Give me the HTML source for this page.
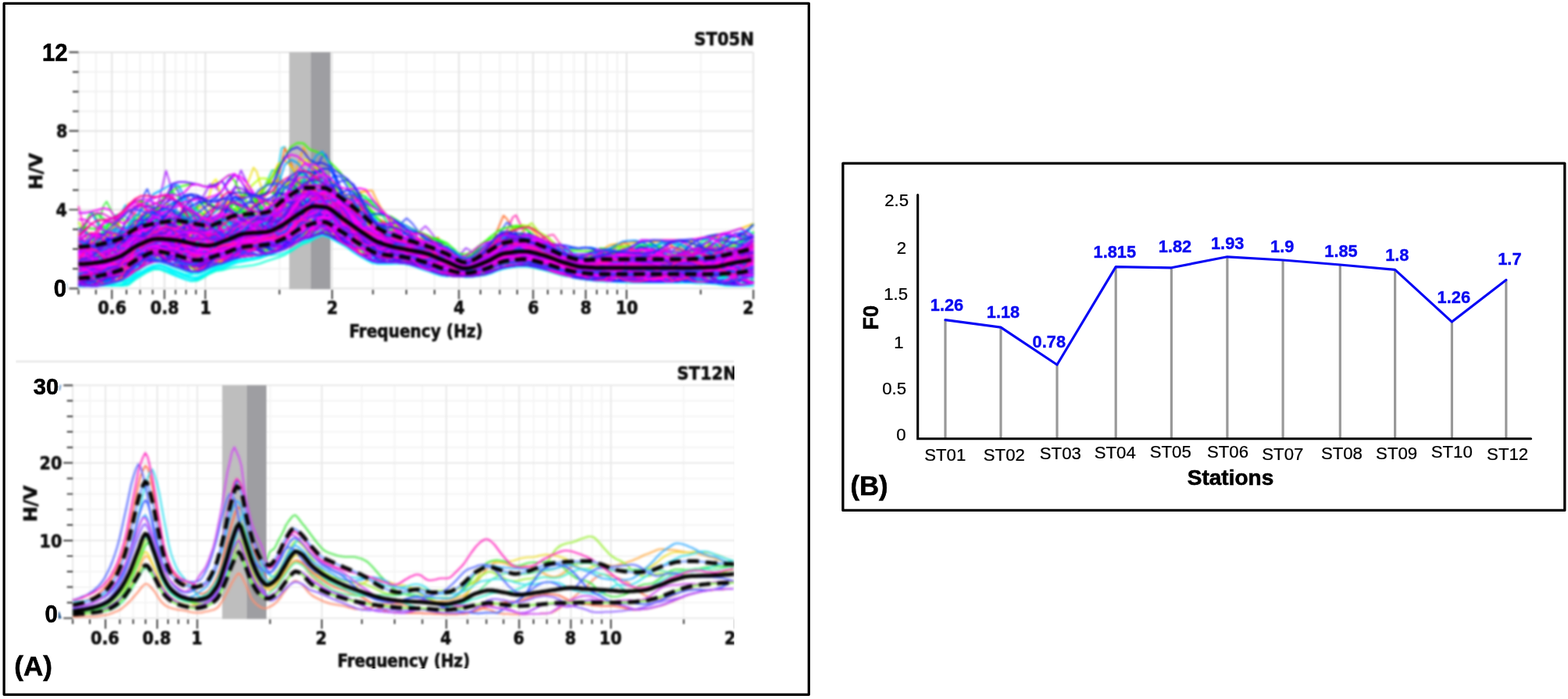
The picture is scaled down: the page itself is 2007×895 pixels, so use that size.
<!DOCTYPE html>
<html lang="en"><head><meta charset="utf-8"><title>H/V spectral ratio curves and F0 per station</title>
<style>html,body{margin:0;padding:0;background:#fff;}body{width:2007px;height:895px;overflow:hidden;}svg{display:block;}text{font-family:"Liberation Sans", Arial, sans-serif;}.tah text{font-family:"DejaVu Sans Condensed", "DejaVu Sans", sans-serif;font-weight:bold;fill:#0c0c0c;stroke:#0c0c0c;stroke-width:.6px;}.tw{font-family:"DejaVu Sans",sans-serif !important;}.b{font-weight:bold;}.k{stroke:#000;stroke-width:.6px;}.kb{stroke:#0a0af0;stroke-width:.4px;}.kr{stroke:#000;stroke-width:.25px;}</style></head><body>
<svg width="2007" height="895" viewBox="0 0 2007 895">
<defs><filter id="bl" x="-5%" y="-5%" width="110%" height="110%"><feGaussianBlur stdDeviation="1.0" color-interpolation-filters="sRGB"/></filter><filter id="blc" x="-5%" y="-5%" width="110%" height="110%"><feGaussianBlur stdDeviation="1.5" color-interpolation-filters="sRGB"/></filter><filter id="bl2" x="-5%" y="-5%" width="110%" height="110%"><feGaussianBlur stdDeviation="0.7" color-interpolation-filters="sRGB"/></filter><filter id="blt" x="-10%" y="-20%" width="120%" height="140%"><feGaussianBlur stdDeviation="0.85" color-interpolation-filters="sRGB"/></filter><clipPath id="ctt"><rect x="10" y="10" width="955.4" height="440"/></clipPath><clipPath id="ct"><rect x="98" y="60" width="868" height="312"/></clipPath><clipPath id="cb"><rect x="20" y="460" width="919.8" height="395.3"/></clipPath><clipPath id="cbp"><rect x="91" y="488" width="848.8" height="306"/></clipPath></defs>
<rect x="0" y="0" width="2007" height="895" fill="#fff"/>
<g filter="url(#bl)">
<path d="M122.8 66.9V369.3M161.9 66.9V369.3M179.3 66.9V369.3M195.4 66.9V369.3M224.7 66.9V369.3M238.1 66.9V369.3M250.8 66.9V369.3M357.7 66.9V369.3M477.4 66.9V369.3M520.1 66.9V369.3M556.2 66.9V369.3M615.0 66.9V369.3M639.7 66.9V369.3M662.0 66.9V369.3M701.1 66.9V369.3M718.5 66.9V369.3M734.6 66.9V369.3M763.9 66.9V369.3M777.3 66.9V369.3M790.0 66.9V369.3M896.9 66.9V369.3M100.5 344.1H964.3M100.5 318.9H964.3M100.5 293.7H964.3M100.5 243.3H964.3M100.5 218.1H964.3M100.5 192.9H964.3M100.5 142.5H964.3M100.5 117.3H964.3M100.5 92.1H964.3" stroke="#f1f1f1" stroke-width="1.9" fill="none"/><path d="M100.5 66.9V369.3M143.2 66.9V369.3M210.5 66.9V369.3M262.8 66.9V369.3M425.1 66.9V369.3M587.4 66.9V369.3M682.4 66.9V369.3M749.7 66.9V369.3M802.0 66.9V369.3M964.3 66.9V369.3M100.5 369.3H964.3M100.5 268.5H964.3M100.5 167.7H964.3M100.5 66.9H964.3" stroke="#e4e4e4" stroke-width="2" fill="none"/><rect x="370.2" y="66.9" width="27.3" height="303.4" fill="#bebebe"/><rect x="397.5" y="66.9" width="25.5" height="303.4" fill="#9e9ea2"/><path d="M88.5 369.3H100.5M93.0 344.1H100.5M93.0 318.9H100.5M93.0 293.7H100.5M88.5 268.5H100.5M93.0 243.3H100.5M93.0 218.1H100.5M93.0 192.9H100.5M88.5 167.7H100.5M93.0 142.5H100.5M93.0 117.3H100.5M93.0 92.1H100.5M88.5 66.9H100.5M100.5 370.9V376.9M122.8 370.9V376.9M143.2 370.9V382.9M161.9 370.9V376.9M179.3 370.9V376.9M195.4 370.9V376.9M210.5 370.9V382.9M224.7 370.9V376.9M238.1 370.9V376.9M250.8 370.9V376.9M262.8 370.9V382.9M357.7 370.9V376.9M425.1 370.9V382.9M477.4 370.9V376.9M520.1 370.9V376.9M556.2 370.9V376.9M587.4 370.9V382.9M615.0 370.9V376.9M639.7 370.9V376.9M662.0 370.9V376.9M682.4 370.9V382.9M701.1 370.9V376.9M718.5 370.9V376.9M734.6 370.9V376.9M749.7 370.9V382.9M763.9 370.9V376.9M777.3 370.9V376.9M790.0 370.9V376.9M802.0 370.9V382.9M896.9 370.9V376.9M964.3 370.9V382.9" stroke="#4a4a4a" stroke-width="2.2" fill="none"/>
</g><g filter="url(#blc)">
<path d="M100.5 315.9L106.5 315.7L112.5 315.3L118.5 314.5L124.5 313.5L130.5 312.2L136.5 310.8L142.5 309.2L148.5 307.5L154.5 305.4L160.5 301.6L166.5 297.3L172.5 293.4L178.5 291L184.5 289.2L190.5 287.7L196.5 286.5L202.5 285.5L208.5 284.5L214.5 283.6L220.5 282.9L226.5 282.7L232.5 283.2L238.5 284.2L244.5 285.5L250.5 286.6L256.5 287.7L262.5 288.7L268.5 288.9L274.5 287.5L280.5 285L286.5 281.8L292.5 278.8L298.5 276.5L304.5 275.3L310.5 274.6L316.5 274.2L322.5 273.8L328.5 273.4L334.5 272.8L340.5 271.9L346.5 269.6L352.5 264.7L358.5 259.1L364.5 254.9L370.5 250.6L376.5 246.5L382.5 243L388.5 240.9L394.5 240.4L400.5 240.4L406.5 240.4L412.5 240.4L418.5 241.7L424.5 244.8L430.5 249L436.5 253.3L442.5 257.4L448.5 262L454.5 267L460.5 272.1L466.5 277.3L472.5 283.2L478.5 288.6L484.5 292.6L490.5 295.7L496.5 298.4L502.5 300.7L508.5 302.9L514.5 304.9L520.5 307L526.5 308.9L532.5 310.6L538.5 312.3L544.5 314.2L550.5 316.4L556.5 318.7L562.5 321.1L568.5 323.6L574.5 326.5L580.5 330.1L586.5 333.5L592.5 335.7L598.5 335.7L604.5 333.6L610.5 330.3L616.5 326.7L622.5 323.4L628.5 319.7L634.5 315.9L640.5 312.7L646.5 310.8L652.5 309.6L658.5 308.7L664.5 308.1L670.5 307.8L676.5 308.5L682.5 310.3L688.5 312.8L694.5 315.3L700.5 317.8L706.5 320.7L712.5 323.6L718.5 326.1L724.5 328.1L730.5 330L736.5 331.7L742.5 332.8L748.5 333L754.5 332.8L760.5 332.4L766.5 332.1L772.5 332L778.5 332L784.5 332L790.5 332L796.5 332L802.5 332L808.5 332L814.5 332L820.5 332L826.5 332L832.5 332L838.5 332L844.5 332L850.5 332L856.5 332L862.5 332L868.5 332L874.5 332L880.5 331.9L886.5 331.6L892.5 331.2L898.5 330.8L904.5 330.3L910.5 329.7L916.5 329L922.5 327.9L928.5 326.5L934.5 325.1L940.5 323.7L946.5 322.4L952.5 321L958.5 319.5L958.5 353.3L952.5 354.1L946.5 354.8L940.5 355.2L934.5 355.3L928.5 355.3L922.5 355.3L916.5 355.1L910.5 355L904.5 354.9L898.5 354.8L892.5 354.7L886.5 354.7L880.5 354.6L874.5 354.6L868.5 354.6L862.5 354.6L856.5 354.6L850.5 354.6L844.5 354.6L838.5 354.6L832.5 354.6L826.5 354.6L820.5 354.6L814.5 354.6L808.5 354.6L802.5 354.6L796.5 354.6L790.5 354.6L784.5 354.6L778.5 354.6L772.5 354.6L766.5 354.5L760.5 354.2L754.5 353.8L748.5 353.3L742.5 352.6L736.5 351.7L730.5 350.6L724.5 349.2L718.5 347.9L712.5 346.2L706.5 344.4L700.5 342.7L694.5 341.1L688.5 339.6L682.5 338.1L676.5 336.9L670.5 336.5L664.5 336.8L658.5 337.3L652.5 338L646.5 338.9L640.5 340.4L634.5 343L628.5 345.7L622.5 348L616.5 349.4L610.5 350.6L604.5 351.6L598.5 352.2L592.5 352.2L586.5 351.8L580.5 351.1L574.5 350L568.5 348.9L562.5 347.3L556.5 345.2L550.5 343.1L544.5 341.1L538.5 339.1L532.5 337.2L526.5 335.5L520.5 334.1L514.5 333.3L508.5 332.8L502.5 332.5L496.5 332.3L490.5 332L484.5 331.5L478.5 330.1L472.5 327.3L466.5 323.9L460.5 320.4L454.5 316.4L448.5 312.1L442.5 308L436.5 304.4L430.5 300.8L424.5 297.1L418.5 294L412.5 292.6L406.5 293.8L400.5 296L394.5 297.9L388.5 299.5L382.5 302.5L376.5 306.3L370.5 310L364.5 313.1L358.5 315.5L352.5 317.6L346.5 319.3L340.5 320.5L334.5 321.3L328.5 321.8L322.5 322.3L316.5 322.9L310.5 323.8L304.5 325.2L298.5 327L292.5 329.3L286.5 331.6L280.5 333.2L274.5 334.9L268.5 337L262.5 339.4L256.5 341.3L250.5 342.1L244.5 341.5L238.5 339.8L232.5 337.7L226.5 335.8L220.5 334L214.5 332L208.5 330.3L202.5 329.3L196.5 329.9L190.5 332.1L184.5 335.2L178.5 338.6L172.5 341.9L166.5 346L160.5 350.2L154.5 353.6L148.5 355.5L142.5 357.1L136.5 358.6L130.5 360.1L124.5 361.4L118.5 362.6L112.5 363.4L106.5 363.9L100.5 364.1Z" fill="#b822d6" clip-path="url(#ct)"/>
<g fill="none" stroke-width="2" stroke-linejoin="round" clip-path="url(#ct)"><path d="M100.5 264l4 16.5 4 16.5 4 15.5 4 15 4 6.5 4 2 4 2 4 1.5 4 1 4-.5 4-1 4-1.5 4-3 4-3.5 4-4 4-4.5 4-3.5 4-2.5 4-1 4-1 4-.5 4-.5 4-1 4-1 4-1 4-.5 4-.5 4 .5 4 1.5 4 1 4 .5 4 0 4-1 4-1 4-1.5 4-1 4 0 4 1 4 2 4 2 4 2 4 1 4 0 4-1 4-2 4-2.5 4-3 4-3.5 4-4 4-4 4-3.5 4-3.5 4-2.5 4-2 4-1 4-.5 4 1 4 2 4 2.5 4 2.5 4 2 4 0 4-.5 4-2 4-3 4-3 4-3.5 4-4 4-3.5 4-3 4-2.5 4-3 4-2.5 4-3 4-1.5 4-1 4-1 4-.5 4-.5 4 0 4 1 4 .5 4 1 4 1 4 1 4 1.5 4 3 4 4 4 4.5 4 5 4 4.5 4 5 4 5 4 4.5 4 4.5 4 3.5 4 3 4 3.5 4 2.5 4 3 4 2 4 2 4 1 4 1 4 1 4 .5 4 1 4 .5 4 1.5 4 1 4 2 4 2 4 2 4 1.5 4 1 4 1 4 0 4 .5 4 .5 4 1 4 1 4 1 4 .5 4 0 4-1.5 4-2 4-2.5 4-3.5 4-3 4-3 4-3 4-2.5 4-2 4-2 4-1.5 4-.5 4 0 4 0 4-.5 4-.5 4-1 4-1.5 4-1 4-1 4 0 4 .5 4 1 4 1.5 4 1.5 4 2 4 2 4 2.5 4 2 4 2 4 2 4 2 4 2 4 2.5 4 1.5 4 1.5 4 .5 4 0 4-1 4-1 4-1.5 4-1.5 4-1 4-1 4 0 4 .5 4 1 4 1 4 1.5 4 1 4 1 4 .5 4 1 4 .5 4 .5 4 0 4 .5 4 .5 4 .5 4 0 4 .5 4 .5 4 .5 4 1 4 1 4 .5 4 1 4 1 4 1 4 .5 4 .5 4 0 4 0 4-.5 4-.5 4-.5 4 0 4-.5 4 0 4-.5 4-1 4-2 4-2 4-3 4-2 4-2 4-1 4-.5 4-1 4-.5 4-1 4-2" stroke="#ff30c8"/><path d="M100.5 354.5l4-3.5 4-10 4-11.5 4-12.5 4-12.5 4-13.5 4-13.5 4-14 4-5.5 4 8 4 8 4 8 4 7.5 4 7 4 5.5 4 5.5 4 1 4-.5 4 0 4-.5 4-1 4-2 4-2.5 4-3 4-2.5 4-2 4-2 4-1.5 4-1 4 0 4 .5 4 1.5 4 1 4 1.5 4 1.5 4 1 4 1.5 4 1 4 1.5 4 1 4 0 4-.5 4-1.5 4-1.5 4-1.5 4-1 4 0 4 0 4 0 4-1.5 4-2 4-2.5 4-2.5 4-3 4-3 4-2.5 4-2 4-1 4-.5 4 .5 4 1 4 0 4-.5 4-.5 4-1.5 4-2 4-3 4-3 4-3 4-2 4-1 4-1.5 4-1.5 4-2 4-2.5 4-3.5 4-3.5 4-4 4-1.5 4 1.5 4 4.5 4 7 4 8 4 7.5 4 7 4 5.5 4 4 4 3 4 2.5 4 1.5 4 1.5 4 2 4 3 4 3 4 3.5 4 3.5 4 3 4 3 4 2 4 1.5 4 1 4 .5 4 .5 4 0 4 .5 4 .5 4 .5 4 0 4 .5 4 .5 4 1 4 1.5 4 1.5 4 1.5 4 1 4 1.5 4 1 4 1 4 1.5 4 2 4 2 4 2 4 2 4 1 4 1 4 0 4 0 4-.5 4-1 4-1.5 4-1.5 4-2.5 4-3 4-2.5 4-2.5 4-1.5 4-.5 4 0 4 .5 4 0 4 0 4-.5 4-1 4-1 4-.5 4 0 4 1 4 1 4 2 4 2 4 2.5 4 2.5 4 2.5 4 2 4 1 4 1 4 0 4 0 4 .5 4 0 4 0 4-.5 4 0 4-.5 4-.5 4-1 4-1 4-1 4-1 4-.5 4-.5 4 0 4 0 4 .5 4 0 4 .5 4 .5 4 .5 4 .5 4 .5 4 .5 4 0 4 0 4-.5 4-.5 4-1 4-1 4-1.5 4-1 4-1 4-.5 4 0 4 .5 4 1 4 1 4 .5 4 .5 4-.5 4-1 4-1 4-1 4-.5 4 0 4 .5 4 .5 4 .5 4 0 4 0 4-1 4-.5 4-.5 4-.5 4-.5 4 0 4-.5 4-.5" stroke="#40f040"/><path d="M100.5 301.5l4-6.5 4-8 4-8 4-8 4 2 4 8.5 4 9 4 9 4 8 4 7 4 4 4-1 4-1 4-.5 4-.5 4 0 4 0 4-1 4-2 4-2.5 4-3.5 4-2.5 4-1.5 4 1 4 2.5 4 3.5 4 3 4 2.5 4 1 4-.5 4-2 4-2.5 4-2.5 4-2.5 4-2 4-1.5 4-1 4 0 4 0 4 0 4 0 4-.5 4-.5 4 0 4 0 4 .5 4 0 4-.5 4-2 4-3 4-4 4-3.5 4-3.5 4-3.5 4-3.5 4-2.5 4-2 4-2 4-1.5 4-1 4-1.5 4-2.5 4-2.5 4-2 4-1 4-1 4-3 4-4.5 4-6.5 4-6.5 4-6 4-3.5 4-1 4 1 4 .5 4 1 4 .5 4 .5 4 1.5 4 3.5 4 5 4 6 4 6 4 6 4 4.5 4 3.5 4 3 4 2 4 3 4 4.5 4 5.5 4 7 4 7.5 4 6 4 4 4 2 4 .5 4-.5 4-.5 4-.5 4 0 4 1 4 1 4 2 4 2 4 2 4 2.5 4 2 4 2 4 2 4 1 4 .5 4 0 4 0 4 .5 4 0 4 1 4 1.5 4 2 4 3 4 3 4 2.5 4 1.5 4 1 4-.5 4-1 4-2 4-2.5 4-2.5 4-2.5 4-2 4-1.5 4-1.5 4-1 4-.5 4-.5 4 0 4 0 4 0 4 0 4-.5 4-1 4-1.5 4-1 4-.5 4 .5 4 2 4 3 4 3.5 4 3.5 4 2.5 4 2.5 4 1 4 .5 4 0 4 0 4 .5 4 1 4 1 4 1 4 .5 4 .5 4 0 4 .5 4 .5 4 .5 4 .5 4 0 4-1 4-1 4-1.5 4-1 4-1 4 0 4 0 4 0 4 0 4-.5 4-1 4-1 4-1.5 4-1 4-1 4 0 4 0 4 1 4 .5 4 .5 4-.5 4-.5 4-1 4-1 4-.5 4 0 4 0 4 .5 4 0 4-.5 4-.5 4-1 4-.5 4 0 4 .5 4 1 4 1.5 4 1 4 .5 4 0 4-.5 4-.5 4-1.5 4-1 4-1 4-.5 4 0 4 .5" stroke="#50ff50"/><path d="M100.5 310l4-1.5 4-.5 4 .5 4 .5 4 0 4 0 4-.5 4 0 4 1 4 1.5 4 2.5 4 2 4 2.5 4 1.5 4 1 4-1 4-10.5 4-12.5 4-14.5 4-16 4-17 4-7 4 10 4 11 4 11 4 11 4 10 4 4.5 4 1.5 4 2.5 4 3 4 3 4 3 4 2.5 4 1.5 4 .5 4-.5 4-1 4-1.5 4-1.5 4-2 4-2.5 4-3 4-4 4-4.5 4-5 4-4 4-3.5 4-2.5 4-.5 4 .5 4 1 4 2 4 1.5 4 .5 4 0 4-2 4-2.5 4-3 4-3.5 4-4 4-5 4-6 4-5.5 4-4.5 4-3 4-1.5 4-1 4-.5 4-.5 4-.5 4-1 4-.5 4-.5 4-1 4-1.5 4-2 4-2 4-2 4 0 4 1.5 4 3 4 5 4 5.5 4 6 4 5.5 4 4.5 4 2.5 4 2 4 1 4 2 4 3.5 4 4 4 5 4 4 4 3 4 2.5 4 2 4 1.5 4 2 4 2 4 2 4 2.5 4 2.5 4 2.5 4 2 4 1.5 4 1 4 1 4 1 4 .5 4 1.5 4 1.5 4 2 4 2.5 4 3 4 3 4 2.5 4 2 4 2 4 1.5 4 1.5 4 1 4 0 4-.5 4-1.5 4-2 4-2 4-2 4-1 4-.5 4-1 4-.5 4-1 4-1 4-1.5 4-1 4-1.5 4-1.5 4-1.5 4-1 4-1 4-.5 4 0 4 .5 4 1 4 1.5 4 1.5 4 2 4 1.5 4 1.5 4 2 4 1 4 1.5 4 1 4 1 4 1.5 4 1 4 1 4 1 4 .5 4 .5 4 .5 4 .5 4 .5 4 .5 4 .5 4 .5 4 0 4 0 4 0 4 0 4 0 4 .5 4 0 4 0 4 0 4-.5 4-.5 4-1 4-.5 4-1.5 4-1.5 4-1.5 4-1.5 4-1.5 4-1 4-1 4 0 4-.5 4 0 4-.5 4 0 4-1 4-1 4-.5 4-1 4-.5 4 0 4-.5 4 0 4-.5 4-1 4-1 4-1 4-1.5 4-1.5 4-1 4-1 4-.5 4-1 4-1 4-1.5 4-1.5 4-1.5 4-1.5" stroke="#3050ff"/><path d="M100.5 335.5l4 1.5 4 2 4 2 4 2.5 4 2 4 1.5 4 1.5 4 .5 4 .5 4-.5 4-1 4-2.5 4-3 4-4 4-4.5 4-4.5 4-4.5 4-4 4-3.5 4-3 4-2 4-4.5 4-12.5 4-13.5 4-14.5 4-15 4-16.5 4-17.5 4 12.5 4 16.5 4 16.5 4 16 4 15.5 4 13.5 4 6 4-2 4-3.5 4-4.5 4-5 4-4 4-2.5 4-1 4-.5 4 0 4 .5 4 1 4 1 4 2 4 2 4 2.5 4 1 4 .5 4-.5 4-1 4-2 4-3 4-2.5 4-1.5 4-.5 4 1 4 1 4 .5 4-.5 4-2 4-3 4-4 4-4.5 4-3 4-2 4-.5 4-1 4-1.5 4-3 4-4.5 4-4.5 4-3.5 4-3.5 4-2.5 4-1.5 4 0 4 1.5 4 2.5 4 2.5 4 3 4 2.5 4 3.5 4 3.5 4 4 4 4 4 3.5 4 3 4 2.5 4 2 4 1 4 1.5 4 .5 4 1.5 4 2 4 2.5 4 3 4 3 4 3 4 2.5 4 2 4 2.5 4 2 4 2 4 1.5 4 .5 4 .5 4 0 4 .5 4 0 4 1 4 1 4 1.5 4 1 4 1.5 4 2 4 2 4 2.5 4 2 4 2 4 1 4-.5 4-1 4-2.5 4-3.5 4-4 4-3.5 4-3 4-3 4-2 4-1 4-.5 4 0 4 .5 4 0 4-.5 4-.5 4 0 4 0 4 .5 4 1.5 4 2 4 2 4 2.5 4 2 4 2 4 2 4 2.5 4 2.5 4 2.5 4 2.5 4 2 4 1.5 4 1.5 4 1.5 4 1 4 1 4 0 4-.5 4-1.5 4-2 4-2.5 4-2 4-1.5 4-.5 4 .5 4 1.5 4 2 4 2 4 2 4 1 4 1 4 0 4 0 4-.5 4-1 4-1 4-.5 4-.5 4-.5 4 0 4 0 4 0 4 0 4 0 4 0 4-.5 4-1 4-1 4-1 4-1 4-.5 4-.5 4 .5 4 .5 4 .5 4 .5 4 .5 4 0 4-.5 4-.5 4-1.5 4-1.5 4-2 4-2 4-1.5 4-1 4-1 4-.5 4 0 4-.5 4-.5 4-1" stroke="#b030ff"/><path d="M100.5 321.5l4 .5 4 .5 4 0 4 0 4 0 4-.5 4-1 4-1.5 4-1.5 4-1.5 4-1.5 4-1 4-1 4-2 4-2.5 4-2 4-2 4-1 4 1 4 1 4 .5 4 0 4-1.5 4-2.5 4-2.5 4-9 4-11.5 4-12.5 4-13 4-14 4-1 4 7.5 4 9 4 9.5 4 10.5 4 6.5 4 3.5 4 3.5 4 3 4 2.5 4 1.5 4 0 4-1 4-2.5 4-3.5 4-2.5 4-2 4-.5 4 1.5 4 2 4 1.5 4 .5 4-1 4-2 4-3.5 4-3.5 4-3 4-2.5 4-2 4-1 4-1.5 4-2 4-3 4-3 4-2.5 4-2 4-2.5 4-3 4-3 4-2 4-1 4 0 4 1 4 .5 4 0 4-1 4-2.5 4-2.5 4-2 4 0 4 2 4 3.5 4 4.5 4 5 4 4.5 4 4 4 4 4 4 4 3 4 3.5 4 3 4 3 4 2.5 4 1.5 4 .5 4-.5 4-1 4-.5 4 0 4 .5 4 2 4 2 4 3 4 3.5 4 3.5 4 3 4 3 4 2 4 1.5 4 1.5 4 1 4 1.5 4 2 4 2.5 4 2 4 2.5 4 2.5 4 2.5 4 2.5 4 2 4 2.5 4 2 4 1.5 4 .5 4 0 4-1 4-1.5 4-2 4-1.5 4-1 4-1.5 4-1 4-1.5 4-1.5 4-2 4-1.5 4-2 4-2 4-2 4-1 4-.5 4 0 4 1 4 1.5 4 2 4 2.5 4 2 4 1.5 4 1 4 1 4 1 4 1 4 1 4 1.5 4 2 4 2.5 4 2.5 4 2.5 4 2.5 4 1.5 4 1 4 .5 4 0 4-.5 4 0 4 .5 4 0 4 0 4 0 4-.5 4-.5 4-1 4-1 4-1 4-1 4-1 4-1 4-1 4-1 4-.5 4-1 4-1 4-.5 4-.5 4-.5 4 0 4-.5 4-1 4-1 4-1 4-1 4 0 4 0 4 .5 4 0 4 0 4 0 4 0 4 0 4 .5 4 0 4 0 4-.5 4-1 4-1 4-1 4-.5 4 0 4 .5 4-.5 4-.5 4-.5 4-1 4-1 4-1 4-.5" stroke="#3838ff"/><path d="M100.5 315l4-1.5 4-1.5 4-1 4-.5 4 0 4 0 4 0 4-1 4-1 4-1 4-1 4-.5 4 .5 4 0 4 0 4-.5 4 0 4-.5 4-1 4-1.5 4-2 4-3 4-2.5 4-2.5 4-1.5 4-1.5 4-1 4-.5 4-1 4-.5 4-1 4-.5 4-3.5 4-4 4-3.5 4-4 4-4 4-4.5 4-5.5 4-6 4-7 4-7.5 4-.5 4 4.5 4 4.5 4 6 4 6.5 4 8 4 7.5 4 7.5 4 6 4 4.5 4 2.5 4-1 4-1 4-1 4-1 4-.5 4-1.5 4-1.5 4-1.5 4-2.5 4-2.5 4-1.5 4-.5 4 0 4 0 4-1.5 4-2 4-4 4-4.5 4-6 4-5.5 4-5 4-3.5 4-1.5 4-.5 4 1 4 2 4 2 4 2.5 4 2 4 2 4 1 4 1.5 4 2.5 4 3.5 4 4 4 5 4 5 4 5 4 5.5 4 5.5 4 5.5 4 4.5 4 3.5 4 3 4 2.5 4 1.5 4 .5 4 .5 4-.5 4 .5 4 0 4 1 4 1.5 4 1 4 1.5 4 1 4 .5 4 1 4 1 4 1 4 1 4 1.5 4 .5 4 1 4 1 4 1.5 4 2 4 2.5 4 2 4 1.5 4 1 4-.5 4-.5 4-1.5 4-1.5 4-2 4-2 4-2 4-2.5 4-2.5 4-2 4-2 4-1 4-.5 4 0 4 .5 4 1 4 1.5 4 1.5 4 1.5 4 1.5 4 1 4 1 4 .5 4 .5 4 .5 4 0 4 0 4 .5 4 0 4 0 4 0 4 0 4 .5 4 1.5 4 2 4 2 4 2.5 4 2 4 2 4 2 4 1.5 4 .5 4 .5 4 0 4-.5 4-.5 4-.5 4-.5 4 0 4-.5 4 0 4 .5 4 .5 4 .5 4 .5 4 0 4 .5 4-.5 4-.5 4-.5 4-.5 4-.5 4-.5 4 0 4 0 4-.5 4 0 4 0 4 0 4 0 4-.5 4-.5 4-1 4-.5 4-.5 4-.5 4 0 4 0 4 0 4-.5 4-1 4-2 4-2 4-2.5 4-2 4-1 4-1 4-.5 4 0 4 .5 4 0 4-.5" stroke="#a838ff"/><path d="M100.5 314.5l4 1 4 2 4 2 4 1.5 4 1 4 .5 4 1 4 1 4 1.5 4 1.5 4 2 4 1 4 0 4-1.5 4-2.5 4-4 4-4.5 4-5 4-4.5 4-4.5 4-3.5 4-3 4-2 4-1.5 4-1 4-1 4-1.5 4-1 4-1 4-.5 4 .5 4 1.5 4 2.5 4 2 4 2 4 1 4 .5 4-1.5 4-10.5 4-12 4-12.5 4-13.5 4-14.5 4-4 4 13.5 4 12 4 10 4 9 4 8 4 1.5 4-1.5 4-.5 4 .5 4 .5 4 0 4-1 4-1.5 4-2 4-2 4-1 4-1 4-1.5 4-2 4-2 4-1.5 4-2 4-2 4-2.5 4-3 4-2.5 4-2 4-1 4 .5 4 .5 4 1 4 .5 4 0 4 0 4 0 4 1.5 4 4 4 5.5 4 6.5 4 6.5 4 6 4 6 4 6.5 4 6.5 4 5.5 4 5 4 3 4 2 4 1.5 4 .5 4 .5 4 .5 4 0 4 0 4 0 4 0 4-.5 4-.5 4 0 4 .5 4 .5 4 .5 4 .5 4 .5 4 .5 4 0 4 0 4 .5 4 .5 4 .5 4 0 4 .5 4 .5 4 1.5 4 2 4 2.5 4 3 4 2.5 4 1.5 4 1 4-.5 4-1.5 4-2 4-2.5 4-3 4-2.5 4-1.5 4-1.5 4-1 4 0 4 0 4 .5 4 1 4 0 4-.5 4-1 4-1.5 4-1.5 4-1 4-1 4-.5 4 0 4 .5 4 .5 4 1 4 1 4 2.5 4 2 4 2.5 4 2 4 1.5 4 1 4 1 4 1 4 1.5 4 2 4 2 4 2.5 4 2.5 4 1.5 4 1 4 0 4-.5 4-1.5 4-1.5 4-1 4-1 4-.5 4 0 4 0 4 .5 4 0 4 0 4-.5 4-.5 4 0 4 1 4 .5 4 1.5 4 1.5 4 1 4 1 4 .5 4 .5 4 0 4-.5 4-1 4-.5 4-1.5 4-1 4-1 4-1 4-1 4 0 4 0 4 0 4 .5 4 0 4-.5 4-.5 4-1.5 4-1.5 4-2 4-2 4-2 4-2 4-3 4-2.5 4-2 4-1.5 4-1 4 0" stroke="#f8f020"/><path d="M100.5 351.5l4-.5 4-.5 4-1 4-2 4-3 4-4 4-4 4-5 4-4.5 4-4 4-3 4-2 4-1.5 4-1.5 4-2 4-3 4-4 4-3.5 4-3 4-3 4-2 4-1.5 4-1 4-1 4 0 4 1 4 1 4 1.5 4 1.5 4 .5 4 0 4-1.5 4-1.5 4-2 4-2 4-1.5 4-.5 4-.5 4 .5 4 .5 4 1 4 .5 4 0 4-.5 4-1.5 4-8 4-8.5 4-9 4-10 4-11.5 4-12 4-10.5 4 8.5 4 8 4 7.5 4 7 4 7 4 8 4 7.5 4 2 4 3 4 1.5 4 .5 4-1 4-2.5 4-3 4-4 4-4.5 4-3.5 4-2.5 4-2.5 4-2 4-2 4-2 4-2 4-2 4-1.5 4-1 4 .5 4 2 4 2.5 4 3.5 4 3.5 4 3.5 4 4 4 4 4 5 4 4.5 4 4 4 3.5 4 3 4 3.5 4 3.5 4 4 4 3.5 4 2.5 4 2 4 1.5 4 1 4 2 4 2 4 2 4 2 4 1.5 4 .5 4 0 4-.5 4-1 4-1 4-.5 4 0 4 1 4 1.5 4 2 4 2.5 4 2.5 4 3 4 2.5 4 3 4 2.5 4 2.5 4 1.5 4 1 4 0 4-1 4-2.5 4-3 4-3.5 4-3.5 4-2.5 4-2 4-1.5 4-1 4 0 4-.5 4 0 4-.5 4-.5 4-1 4-.5 4 0 4 0 4 .5 4 1 4 .5 4 1 4 1 4 1.5 4 1 4 1 4 1.5 4 1 4 1.5 4 1.5 4 1 4 1.5 4 2 4 1.5 4 1.5 4 1 4 .5 4 0 4 0 4 0 4 0 4-.5 4 0 4-.5 4 0 4 0 4 0 4 0 4 0 4 0 4 .5 4 1 4 1.5 4 1.5 4 1 4 .5 4 0 4-.5 4-1 4-1 4-1 4 0 4 0 4 .5 4 .5 4 .5 4 0 4 .5 4 1 4 .5 4 1 4 1 4 1 4 .5 4 .5 4 0 4-.5 4-.5 4-.5 4-1 4-1.5 4-1.5 4-1.5 4-2 4-1.5 4-.5 4-.5 4 0 4 .5 4 0 4 0 4 0" stroke="#a030ff"/><path d="M100.5 333l4 .5 4 1 4 1.5 4 2.5 4 2 4 2 4 2 4 1.5 4 .5 4 0 4-.5 4-1.5 4-1.5 4-3 4-4 4-5 4-5 4-5 4-4 4-3 4-2.5 4-2 4-1.5 4-.5 4-1 4-.5 4-1 4-1.5 4-1 4-1 4 0 4 .5 4 1 4 1.5 4 1.5 4 .5 4 .5 4-1 4-2 4-2.5 4-3.5 4-4 4-4.5 4-3.5 4-2.5 4-2 4-1 4-.5 4-.5 4-1 4-9 4-11 4-11 4-11.5 4-10.5 4-11 4 5 4 14 4 12.5 4 10.5 4 9 4 7 4 3 4-4 4-3 4-1.5 4-1 4-.5 4-.5 4-.5 4-1 4-2.5 4-3.5 4-3 4-2.5 4-2 4-1 4-.5 4 1 4 2 4 4 4 6 4 6.5 4 7 4 6.5 4 5.5 4 4 4 3.5 4 2 4 1.5 4 1.5 4 1 4 1.5 4 1.5 4 2 4 1 4 1.5 4 2 4 2 4 2 4 2 4 1.5 4 1 4 0 4 0 4-.5 4-1 4-.5 4-.5 4 .5 4 .5 4 1 4 1 4 1 4 1.5 4 1 4 1 4 1.5 4 2 4 2.5 4 2.5 4 2.5 4 1 4 .5 4-.5 4-1 4-2 4-2.5 4-2 4-2.5 4-3 4-3 4-4 4-3.5 4-2.5 4-1.5 4-.5 4 0 4 0 4 0 4 0 4 0 4 .5 4 .5 4 1.5 4 2 4 1.5 4 2 4 1.5 4 2 4 2 4 1.5 4 2 4 1.5 4 1 4 .5 4 0 4 .5 4 0 4 0 4 0 4-.5 4 0 4 0 4 0 4 .5 4 1 4 .5 4 1 4 1 4 1 4 1.5 4 1 4 .5 4 0 4 0 4-.5 4 0 4 .5 4 .5 4 1 4 .5 4 1 4 0 4 0 4 0 4 .5 4 0 4 .5 4 .5 4 1 4 .5 4 .5 4 .5 4 .5 4 0 4-.5 4-.5 4-1 4-1 4-1.5 4-1.5 4-1.5 4-1.5 4-1 4-2 4-1.5 4-1.5 4-1.5 4-1 4-1 4 0 4 .5 4 1 4 1 4 1" stroke="#f0e020"/><path d="M100.5 351.5l4-1.5 4-1.5 4-2 4-2 4-3.5 4-4 4-4 4-4.5 4-4 4-3 4-2 4-1.5 4-1 4-2 4-2.5 4-3 4-2.5 4-2 4-.5 4-.5 4 0 4 0 4-.5 4-1 4-.5 4-.5 4-1 4-1.5 4-2 4-2.5 4-2.5 4-2.5 4-1 4 0 4 1 4 1.5 4 2.5 4 2.5 4 3 4 4 4 4.5 4 4 4 3.5 4 2 4 1 4 0 4-1.5 4-2 4-3 4-3.5 4-3.5 4-3 4-2 4-1.5 4-1 4-.5 4-.5 4 0 4 0 4-5.5 4-15.5 4-18 4-20.5 4-23 4-24 4-1.5 4 12.5 4 12 4 11.5 4 11 4 9.5 4-1 4-2.5 4-1.5 4-2 4-1.5 4-2 4-2 4-.5 4 1.5 4 3 4 4 4 4 4 4.5 4 4 4 3.5 4 3.5 4 3.5 4 3 4 3.5 4 3.5 4 5 4 5.5 4 6 4 5 4 4.5 4 3 4 2.5 4 1.5 4 1 4 1 4 1 4 .5 4 1 4 1 4 1.5 4 1 4 1 4 1 4 1 4 1 4 1 4 1.5 4 1.5 4 2 4 1.5 4 2 4 1.5 4 2 4 2 4 2 4 2 4 1 4 .5 4-.5 4-1 4-1.5 4-1.5 4-1 4-1.5 4-1.5 4-2.5 4-2.5 4-2.5 4-2.5 4-1.5 4-.5 4-.5 4 0 4-.5 4-1 4-1 4-1 4-1 4 0 4 .5 4 1.5 4 2 4 3 4 3 4 3 4 3 4 2.5 4 2 4 1 4 1 4 1.5 4 1.5 4 1 4 1 4 1 4 0 4-.5 4-.5 4-.5 4-1 4-1 4-.5 4-1 4-.5 4-.5 4-.5 4-.5 4 0 4 0 4 .5 4 1 4 .5 4 .5 4 0 4-1 4-1.5 4-2 4-1.5 4-1.5 4 0 4 .5 4 1.5 4 1.5 4 2 4 1 4 1 4 .5 4 0 4 0 4 0 4 0 4 0 4 .5 4 0 4 .5 4 0 4 0 4 0 4-1.5 4-1.5 4-2 4-2 4-2 4-1 4-1 4-.5 4 0 4 .5 4 0 4 .5" stroke="#20d0f0"/><path d="M100.5 339.5l4-2 4-2.5 4-3.5 4-4 4-4.5 4-4.5 4-4 4-3 4-1.5 4 0 4 .5 4 .5 4 0 4-2 4-2.5 4-3.5 4-3.5 4-2.5 4-1 4 0 4 .5 4 1 4 1 4 1 4 1.5 4 1.5 4 1 4 .5 4-.5 4-2 4-2.5 4-3 4-2.5 4-.5 4 1.5 4 3.5 4 4.5 4 4.5 4 3 4 2 4 0 4-1.5 4-2.5 4-3.5 4-3.5 4-3.5 4-3.5 4-3.5 4-3.5 4-3.5 4-2.5 4-2 4-1.5 4-1.5 4-2 4-1.5 4-2 4-1 4-.5 4 .5 4 .5 4-11.5 4-15 4-17 4-18 4-19 4 8 4 11.5 4 11.5 4 11.5 4 10.5 4 2 4-1 4 0 4-.5 4 0 4 .5 4 1 4 2 4 3 4 4 4 5 4 5 4 5 4 4.5 4 5 4 5.5 4 5.5 4 5 4 4.5 4 3.5 4 2.5 4 2 4 1.5 4 2 4 2 4 2 4 2.5 4 2 4 2 4 1.5 4 1 4 1 4 1 4 .5 4 1 4 .5 4 .5 4 .5 4 .5 4 1 4 .5 4 1 4 1 4 1.5 4 1.5 4 1.5 4 1.5 4 1 4 1.5 4 1.5 4 1 4 1 4 0 4-.5 4-1 4-1.5 4-1.5 4-2 4-2.5 4-2.5 4-3 4-3.5 4-3 4-3 4-2 4-1 4-1.5 4-1 4-1 4-.5 4 0 4 0 4 .5 4 .5 4 1 4 1 4 1.5 4 1.5 4 2.5 4 2.5 4 2.5 4 2.5 4 2 4 1.5 4 1 4 1 4 1.5 4 1 4 1.5 4 2 4 1.5 4 1.5 4 1.5 4 1.5 4 .5 4 .5 4 0 4-.5 4 0 4 0 4-.5 4 0 4-.5 4 0 4-.5 4 0 4-.5 4-.5 4-1 4-.5 4-1 4-.5 4 0 4 0 4 1 4 .5 4 .5 4 0 4 0 4-.5 4-.5 4-.5 4-.5 4 0 4 0 4 .5 4 .5 4 0 4-.5 4-.5 4-1.5 4-1 4-1.5 4-1 4-1 4 0 4 0 4 0 4 .5 4 0 4 0 4-1 4-1 4-1.5 4-1" stroke="#ff7020"/><path d="M100.5 324l4 1 4 .5 4 .5 4 .5 4 0 4 0 4 .5 4 0 4-.5 4 0 4-1 4-1 4-2 4-3.5 4-5 4-5.5 4-5 4-3.5 4-1.5 4 .5 4 2 4 2.5 4 3 4 2.5 4 2 4 1.5 4 0 4-1.5 4-3 4-5 4-6.5 4-6 4-5 4-3 4-1.5 4 0 4 0 4 .5 4 0 4 0 4-.5 4-1 4-1 4-1.5 4-.5 4-.5 4 .5 4 1 4 1.5 4 2 4 1.5 4 1 4 .5 4 0 4-3.5 4-7.5 4-9 4-10.5 4-10 4-9 4-8.5 4-8.5 4 0 4 6 4 6.5 4 7 4 6.5 4 6 4 4.5 4 3.5 4-1 4-1 4-1 4 0 4 .5 4 1 4 .5 4 0 4-.5 4-1 4-.5 4-1 4 0 4 0 4 2 4 3.5 4 5.5 4 6 4 6 4 5.5 4 4.5 4 4 4 4 4 3.5 4 3.5 4 3 4 2.5 4 2 4 2 4 1.5 4 1 4 .5 4 0 4 0 4-.5 4 0 4 0 4 .5 4 1 4 1.5 4 1.5 4 2 4 2 4 2 4 2 4 1 4 1.5 4 1 4 2 4 2 4 2 4 2 4 1.5 4 0 4-.5 4-1 4-1.5 4-1 4-1 4-1 4-.5 4-1.5 4-2.5 4-3 4-3 4-3 4-2 4-1.5 4-1.5 4-.5 4-1 4 0 4-.5 4 .5 4 .5 4 1 4 1 4 1 4 1 4 1.5 4 1 4 1 4 1 4 1 4 .5 4 1 4 1 4 1 4 1.5 4 1 4 1 4 0 4 0 4-1 4-.5 4-1 4-.5 4-1 4-.5 4 0 4 0 4 1 4 1.5 4 2 4 2 4 2 4 1.5 4 .5 4 .5 4 0 4 0 4-.5 4-.5 4-.5 4-.5 4-1 4-1 4 0 4 0 4 1.5 4 1.5 4 2 4 2 4 2 4 2 4 1.5 4 1 4 .5 4 .5 4 0 4-.5 4-.5 4-.5 4-.5 4-1 4-1 4-1.5 4-1 4-1 4 0 4 0 4 0 4-1 4-1.5 4-2 4-2" stroke="#20e0a0"/><path d="M100.5 331l4-1 4-1.5 4-1.5 4-1 4-1 4 0 4 0 4 .5 4 1.5 4 1 4 1.5 4 1 4-.5 4-2.5 4-3.5 4-4.5 4-5 4-4 4-2.5 4-2 4-1 4-1 4-1 4-1 4-1 4-1 4-1.5 4-1 4-.5 4 0 4 .5 4 .5 4 1 4 .5 4 0 4 .5 4 .5 4 .5 4 1.5 4 2 4 1.5 4 1.5 4 .5 4 0 4-.5 4-.5 4-.5 4 0 4-1 4-2 4-2.5 4-2.5 4-2 4-1.5 4-.5 4-.5 4 0 4 0 4 0 4-.5 4-2 4-3 4-5.5 4-6.5 4-7 4-6 4-11 4-14 4-13 4-12.5 4-11.5 4-13 4 9.5 4 11 4 10 4 9 4 8 4 7 4-1 4 1 4 1.5 4 2 4 2.5 4 2 4 3 4 4 4 5 4 6 4 6 4 5 4 4.5 4 4 4 3.5 4 3 4 2 4 1 4 0 4 0 4-.5 4-1 4-1 4-1 4-.5 4 1 4 1.5 4 3 4 4 4 4.5 4 4 4 3.5 4 3 4 2 4 1.5 4 .5 4 .5 4 .5 4 .5 4 .5 4 2 4 2 4 2 4 1.5 4 1 4-.5 4-2 4-2.5 4-3.5 4-3 4-2.5 4-1.5 4-1 4-1.5 4-.5 4-.5 4 0 4 0 4 .5 4 0 4 0 4-.5 4-.5 4 0 4 0 4 .5 4 1 4 .5 4 1 4 1 4 1 4 1.5 4 2.5 4 2 4 2.5 4 2.5 4 2 4 2 4 1.5 4 1.5 4 1.5 4 1 4 1 4 0 4 .5 4 .5 4 0 4 0 4 .5 4 0 4-.5 4 0 4-.5 4-.5 4-1 4-.5 4-.5 4-.5 4 .5 4 .5 4 1 4 1 4 .5 4 .5 4-.5 4-.5 4-.5 4-.5 4 0 4 0 4 .5 4 1 4 1 4 0 4 .5 4 0 4 0 4 0 4 0 4 .5 4 .5 4 0 4-.5 4-.5 4-.5 4-1.5 4-1 4-1 4-1 4 0 4 0 4 0 4 0 4-1 4-1.5 4-2.5 4-2.5 4-3" stroke="#ffb020"/><path d="M100.5 334l4-.5 4 0 4 0 4 0 4-.5 4-1 4-2 4-2 4-3 4-3 4-3 4-2.5 4-2 4-1.5 4-1 4 0 4 .5 4 .5 4 0 4-1 4-2 4-3 4-2.5 4-2 4-1 4 0 4 0 4 0 4 .5 4 0 4-1 4-1 4-2 4-2 4-1.5 4-.5 4 0 4 1 4 1.5 4 2 4 2 4 2 4 1 4 1 4 0 4 0 4-.5 4-1 4-1.5 4-2.5 4-2.5 4-3 4-3 4-3.5 4-3 4-3.5 4-3.5 4-3 4-2.5 4-1.5 4-2 4-3 4-3.5 4-3.5 4-3.5 4-3.5 4-4 4-5 4-4.5 4-3.5 4-1.5 4 0 4 .5 4-4 4-5.5 4-7 4-8 4-8.5 4-2.5 4 8 4 8 4 9 4 9.5 4 9.5 4 7 4 5 4 5 4 4.5 4 4 4 3.5 4 3.5 4 4.5 4 5 4 5 4 4 4 3 4 3 4 2.5 4 3 4 3 4 3 4 3 4 2.5 4 1.5 4 1.5 4 1 4 1 4 1.5 4 2 4 2.5 4 2 4 2 4 1.5 4 1.5 4 1 4 1 4 1.5 4 1.5 4 1.5 4 1.5 4 1.5 4 .5 4 0 4-.5 4-2 4-2 4-3 4-2.5 4-2.5 4-1.5 4-1.5 4-1 4-1 4-.5 4 0 4 0 4 0 4 .5 4 0 4-.5 4 0 4-1 4-1 4-1.5 4-1.5 4-1 4-1 4 0 4 0 4 .5 4 1 4 1.5 4 2 4 2 4 2 4 2 4 2 4 2 4 2 4 1 4 1 4 1 4 .5 4 .5 4 1 4 0 4 0 4-.5 4-.5 4 0 4-.5 4-.5 4-.5 4 0 4 0 4 0 4 0 4 .5 4 .5 4 .5 4 .5 4 .5 4 0 4-.5 4-1 4-1.5 4-2 4-2 4-2 4-1.5 4-.5 4 0 4 .5 4 1 4 1 4 1 4 1 4 1 4 1 4 1.5 4 1.5 4 1 4 1 4 0 4-1 4-1.5 4-2 4-1.5 4-1.5 4-1.5 4-.5 4-.5 4-.5 4 0 4 .5 4 .5" stroke="#3040ff"/><path d="M100.5 318.5l4 0 4 0 4 .5 4-.5 4-1 4-1 4-2 4-2.5 4-3 4-3 4-2.5 4-2.5 4-2 4-1.5 4-1.5 4-.5 4 0 4 0 4 1 4 0 4-.5 4-1 4-1.5 4-1.5 4-2 4-3 4-3 4-4 4-4 4-3 4-1.5 4 0 4 1.5 4 2.5 4 3 4 3 4 2.5 4 2.5 4 2.5 4 2 4 2.5 4 1.5 4 1 4-.5 4-.5 4-1.5 4-2 4-1 4-1.5 4-.5 4-1 4-1 4-1.5 4-2.5 4-2 4-1 4-.5 4 1.5 4 2 4 3 4 2 4 .5 4-1.5 4-3 4-4.5 4-5 4-5.5 4-5 4-3.5 4-4 4-6.5 4-7 4-7 4-7.5 4-7.5 4-7.5 4 5 4 6.5 4 7.5 4 8.5 4 9.5 4 11 4 9 4 7 4 6.5 4 6 4 6 4 5 4 3.5 4 2.5 4 1.5 4 1 4 1.5 4 2 4 2 4 2 4 2 4 1.5 4 1.5 4 .5 4 .5 4-.5 4-.5 4-.5 4-1 4-1 4-.5 4 0 4 .5 4 .5 4 1.5 4 1.5 4 1.5 4 2 4 1.5 4 1.5 4 .5 4 1 4 1 4 2 4 2 4 1.5 4 1.5 4 .5 4 0 4-1 4-1.5 4-1 4-1.5 4-1.5 4-1 4-1.5 4-2 4-1.5 4-1.5 4-1 4-.5 4 0 4 0 4 0 4-1 4-1.5 4-1.5 4-1.5 4-.5 4 .5 4 1.5 4 1.5 4 1.5 4 2 4 1.5 4 1.5 4 1 4 1 4 1 4 .5 4 0 4 .5 4 .5 4 .5 4 .5 4 0 4 .5 4 0 4-.5 4 0 4-.5 4 0 4 0 4 .5 4 .5 4 1 4 1.5 4 1 4 1 4 .5 4-.5 4-.5 4-1.5 4-1 4-.5 4-.5 4 0 4 0 4 0 4 0 4-.5 4 0 4 .5 4 0 4 0 4 .5 4 .5 4 0 4 .5 4-.5 4 0 4-.5 4-.5 4 0 4-.5 4 0 4 .5 4 0 4 .5 4 0 4 .5 4 .5 4 .5 4 0 4-.5 4-1.5 4-2 4-2.5 4-3.5 4-3" stroke="#60f020"/><path d="M100.5 318.5l4-.5 4-1 4-.5 4-.5 4-1 4-1 4-1.5 4-1 4-1.5 4-1 4-1 4 0 4-.5 4-.5 4-1.5 4-1.5 4-1.5 4-.5 4 .5 4 1 4 1 4 1.5 4 1 4 1 4 1 4 0 4 0 4-.5 4-.5 4-.5 4-.5 4 .5 4 1 4 1 4 1.5 4 .5 4 0 4-1 4-.5 4-.5 4-.5 4 .5 4 1 4 1 4 .5 4-.5 4-1 4-1.5 4-3 4-4.5 4-4.5 4-4.5 4-3 4-2 4-1 4 0 4 .5 4 0 4 0 4-1 4-2 4-3.5 4-3.5 4-4 4-3 4-2 4-2 4-1 4-.5 4 0 4 .5 4-.5 4-1 4-1.5 4-1.5 4-4.5 4-5 4-4 4-3 4-2.5 4-2 4-3.5 4-3 4 8.5 4 7 4 6 4 5.5 4 5 4 4.5 4 5 4 2.5 4 1 4 2 4 2.5 4 2.5 4 1.5 4 1.5 4 1.5 4 2 4 1.5 4 2.5 4 2 4 2 4 2.5 4 2.5 4 2.5 4 2.5 4 2.5 4 2 4 2 4 1.5 4 1 4 1 4 1 4 1 4 1 4 1.5 4 1.5 4 2 4 2.5 4 3 4 2.5 4 1.5 4 1 4 .5 4-.5 4-.5 4-.5 4-1.5 4-1.5 4-2 4-2.5 4-3 4-2.5 4-2 4-2 4-1.5 4-2.5 4-2.5 4-2.5 4-2.5 4-1.5 4-1 4 0 4 1 4 1.5 4 2 4 2 4 2 4 1.5 4 1.5 4 2 4 1.5 4 1.5 4 1.5 4 1 4 1.5 4 1.5 4 1.5 4 1 4 1 4 0 4 0 4-.5 4 0 4 0 4 .5 4 .5 4 .5 4 0 4-1 4-1 4-1.5 4-1.5 4-1.5 4-.5 4 .5 4 1 4 1.5 4 1.5 4 2 4 1.5 4 1 4 1 4 .5 4 .5 4 .5 4 0 4 0 4 0 4 0 4 .5 4 .5 4 1 4 1 4 1 4 1 4 1 4 1 4 .5 4 0 4-.5 4-1 4-2 4-2.5 4-2.5 4-2.5 4-2 4-1.5 4-1.5 4-1 4-.5 4-.5 4-.5 4 0 4-.5" stroke="#20c8f0"/><path d="M100.5 340l4 .5 4 0 4 0 4 0 4 0 4 0 4 0 4-.5 4 0 4-1 4-1 4-2.5 4-3 4-4 4-6 4-6 4-7 4-6 4-5 4-4 4-2.5 4-2 4-2 4-1.5 4-2 4-2 4-2.5 4-2.5 4-2.5 4-2 4-1 4-.5 4 0 4-.5 4-.5 4-1 4-1 4-1.5 4-1.5 4-1 4-.5 4 0 4 .5 4 .5 4 .5 4 1.5 4 1 4 2 4 2.5 4 3 4 3.5 4 3 4 2.5 4 1.5 4 1 4 .5 4-1 4-1 4-2 4-2 4-2.5 4-3 4-4 4-4 4-3 4-2.5 4-3 4-3 4-3 4-2 4-1.5 4-.5 4-.5 4 0 4-.5 4-.5 4-1 4-.5 4-.5 4 1 4 1.5 4 2 4 2.5 4 2 4 1.5 4-1.5 4-1.5 4-2 4-2 4-2 4-2 4-1 4-.5 4 0 4 9 4 7.5 4 7 4 6.5 4 6.5 4 6.5 4 6 4 6 4 5 4 2 4 2 4 1 4 1 4 .5 4 .5 4 .5 4 .5 4 1.5 4 1.5 4 1.5 4 1.5 4 1.5 4 1.5 4 2 4 2.5 4 3 4 3.5 4 2.5 4 2 4 .5 4-.5 4-1 4-2 4-2 4-2.5 4-2.5 4-2.5 4-3 4-3.5 4-2.5 4-2.5 4-1 4 0 4 .5 4 .5 4 .5 4 .5 4 .5 4 .5 4 .5 4 .5 4 1 4 .5 4 .5 4 1 4 .5 4 1.5 4 1 4 1.5 4 1.5 4 1.5 4 1 4 1.5 4 1 4 1.5 4 1.5 4 1 4 .5 4 0 4 .5 4 0 4 .5 4 .5 4 1 4 1.5 4 1 4 .5 4 .5 4-.5 4-.5 4-.5 4-1 4-1 4-.5 4-.5 4-.5 4 0 4-.5 4 0 4 0 4 0 4 0 4 0 4 0 4 .5 4 0 4 0 4 .5 4 0 4 0 4-.5 4-.5 4-.5 4-1 4-1 4-.5 4-1 4-.5 4-.5 4-.5 4-1 4-.5 4-1 4-.5 4-.5 4 0 4 .5 4 .5 4 .5 4 .5 4 0 4 0" stroke="#ffa830"/><path d="M100.5 328.5l4-1.5 4-1 4 0 4 0 4 .5 4 .5 4 .5 4 0 4 0 4 0 4 0 4 0 4 .5 4-.5 4-1 4-2.5 4-3.5 4-5 4-5.5 4-5.5 4-4.5 4-3 4-1 4 0 4 .5 4 1.5 4 .5 4 .5 4 0 4 0 4 0 4 1.5 4 2.5 4 4 4 4.5 4 4 4 3 4 1.5 4 .5 4 .5 4 .5 4 1 4 1 4 .5 4 .5 4 0 4-1 4-1.5 4-2.5 4-3 4-4.5 4-5 4-5.5 4-5.5 4-5.5 4-4 4-2 4 0 4 1.5 4 1.5 4 1.5 4-1.5 4-3 4-5 4-6 4-5 4-4.5 4-3.5 4-2.5 4-1.5 4-1.5 4-1 4-1 4-.5 4-.5 4 0 4-.5 4-.5 4-.5 4 0 4 2 4 3 4 4 4 4 4 4 4 3.5 4 3 4 2.5 4 2 4 2.5 4 3 4 4 4 4.5 4 4 4 3.5 4 2.5 4 1.5 4-1.5 4-2.5 4-2.5 4-3 4-3 4-4 4-4.5 4-3.5 4 3.5 4 4 4 5.5 4 5.5 4 6 4 6 4 5.5 4 3.5 4 2 4 2 4 2 4 2 4 2 4 2 4 3 4 2.5 4 2.5 4 1.5 4 .5 4-.5 4-1 4-1.5 4-1 4-1 4-.5 4 0 4 0 4-.5 4-1 4-1.5 4-1.5 4-1.5 4-2 4-1.5 4-1.5 4-.5 4-.5 4 1 4 1.5 4 1.5 4 2.5 4 1.5 4 1.5 4 1 4 .5 4 1 4 1 4 1.5 4 1.5 4 1.5 4 1.5 4 1.5 4 1.5 4 1 4 1.5 4 1 4 1.5 4 .5 4 .5 4 0 4-.5 4-1 4-1.5 4-2 4-1.5 4-2 4-1 4-1 4-.5 4 0 4 .5 4 .5 4 .5 4 1 4 1 4 1 4 1 4 0 4 0 4 0 4 0 4-.5 4 0 4-.5 4-.5 4-.5 4 0 4 .5 4 .5 4 .5 4 .5 4 0 4-1 4-1 4-1 4-1.5 4-.5 4-.5 4 0 4-.5 4 0 4 0 4 0 4 0 4 0 4-.5 4 0 4-.5 4-1 4-1 4-1" stroke="#4050ff"/><path d="M100.5 316l4 .5 4-1 4-2 4-2.5 4-3 4-3 4-2 4-1 4 .5 4 1.5 4 2 4 1.5 4 1 4-1 4-2.5 4-3.5 4-3.5 4-2.5 4-.5 4 0 4 .5 4 1 4 1 4 .5 4-.5 4-2 4-3.5 4-4.5 4-4.5 4-4 4-2.5 4-.5 4 .5 4 1 4 1.5 4 .5 4 .5 4 0 4-.5 4 0 4 0 4 1 4 1 4 1.5 4 1 4 0 4-1.5 4-2.5 4-3.5 4-2.5 4-1.5 4 .5 4 1 4 3 4 3.5 4 4 4 3.5 4 3.5 4 2 4 0 4-1 4-4 4-5.5 4-6 4-6 4-4.5 4-4 4-3.5 4-3.5 4-3.5 4-3.5 4-3.5 4-1.5 4 0 4 .5 4 1 4 1.5 4 1.5 4 2 4 1.5 4 2.5 4 2.5 4 2.5 4 2.5 4 2.5 4 2 4 1.5 4 1.5 4 1.5 4 1.5 4 2.5 4 4 4 5 4 5.5 4 4.5 4 3.5 4 2 4 2 4 2 4 1.5 4 2.5 4 2.5 4 2.5 4 1 4-1.5 4-2.5 4-3.5 4-4 4-4 4-4.5 4-3.5 4 4 4 5 4 5.5 4 6 4 6.5 4 6 4 6 4 5.5 4 2.5 4 2.5 4 1.5 4 1 4 0 4-.5 4-1.5 4-2 4-2.5 4-2.5 4-2 4-2 4-2 4-2.5 4-2.5 4-2.5 4-1.5 4-.5 4-.5 4 .5 4 0 4 .5 4-.5 4 0 4 0 4 .5 4 1 4 1 4 .5 4 0 4 .5 4 0 4 .5 4 .5 4 1 4 1.5 4 2 4 2.5 4 3 4 2.5 4 2 4 1.5 4 .5 4-.5 4-.5 4-1 4-1 4-1 4-1 4-1 4-.5 4 0 4 .5 4 .5 4 1.5 4 1 4 1.5 4 .5 4 .5 4 0 4-.5 4-1 4-.5 4 0 4 .5 4 1 4 1.5 4 1.5 4 1 4 1 4 1 4 .5 4 .5 4 0 4-.5 4-.5 4-.5 4-1 4-.5 4 0 4 0 4 .5 4 .5 4 1 4 0 4 .5 4-.5 4-.5 4-.5 4-1 4-1.5 4-1.5 4-1.5 4-1.5 4-1.5 4-1 4-1" stroke="#b040ff"/><path d="M100.5 321l4 .5 4 0 4-.5 4-1.5 4-2 4-2.5 4-3 4-3 4-2 4-2 4-.5 4 0 4 0 4-.5 4-1.5 4-1.5 4-2 4-1.5 4-.5 4-.5 4-1 4-1 4-2 4-2 4-2 4-1.5 4-1.5 4-2 4-1.5 4-2 4-2 4-1 4 0 4 1 4 3 4 4 4 5 4 5.5 4 5.5 4 5 4 4 4 2 4-.5 4-3 4-4 4-5 4-5 4-4 4-3 4-1.5 4 0 4 .5 4 .5 4 1 4 1 4 1 4 .5 4 .5 4-.5 4-1.5 4-2 4-3.5 4-3.5 4-2.5 4 0 4 2 4 2 4 1.5 4-.5 4-2 4-3 4-4 4-4.5 4-3.5 4-2 4 0 4 1.5 4 2 4 3 4 3.5 4 3.5 4 3.5 4 2.5 4 1.5 4 1 4 1 4 1.5 4 2.5 4 3 4 4 4 3 4 3 4 2.5 4 1.5 4 1 4 1 4 1 4 1.5 4 1.5 4 1 4 .5 4 0 4 0 4-.5 4 .5 4 .5 4 .5 4 1.5 4-.5 4-2 4-2 4-2.5 4-2 4-2.5 4-2 4 6 4 5.5 4 5.5 4 5 4 6 4 5.5 4 3.5 4 2 4 1.5 4 1 4 0 4 0 4-1.5 4-1.5 4-2 4-2.5 4-3 4-3 4-3 4-2.5 4-2 4-1 4-.5 4-.5 4-.5 4-1 4-.5 4-1.5 4-1 4-1 4-.5 4 0 4 .5 4 1 4 1.5 4 2.5 4 2.5 4 3.5 4 3 4 3 4 2 4 2 4 1 4 .5 4 .5 4-.5 4 0 4 .5 4 .5 4 1 4 .5 4 0 4 0 4-.5 4-.5 4-.5 4-.5 4 0 4 .5 4 .5 4 1 4 1 4 1 4 1 4 0 4-.5 4-1 4-1 4-1.5 4-1.5 4-1 4-1 4 0 4-.5 4 0 4 0 4 0 4 0 4-.5 4-.5 4-1 4-1 4-1 4-.5 4 0 4 .5 4 1.5 4 1.5 4 1.5 4 1.5 4 1 4 .5 4 .5 4 0 4-.5 4-.5 4-1 4-1 4-.5 4-1 4-1" stroke="#ff8030"/><path d="M100.5 324l4 3 4 2.5 4 2.5 4 2 4 2 4 1.5 4 1 4 .5 4-1 4-2 4-3 4-5 4-5 4-5.5 4-5 4-4.5 4-3 4-1.5 4-.5 4-.5 4-.5 4-1 4-1.5 4-2 4-2 4-2 4-2.5 4-2.5 4-2.5 4-2.5 4-2 4-1.5 4-1 4 0 4 .5 4 1 4 .5 4 1 4 1.5 4 2 4 2.5 4 3 4 3 4 2 4 2 4 1 4 1 4 1 4 1.5 4 1.5 4 .5 4 1.5 4 1.5 4 1 4 1 4 0 4 0 4 0 4-.5 4 0 4-.5 4 0 4 0 4 .5 4 .5 4 0 4-1.5 4-2.5 4-4 4-5.5 4-6.5 4-6.5 4-6.5 4-6 4-5 4-3 4-1.5 4-.5 4 0 4 1 4 1.5 4 2.5 4 2.5 4 2 4 2.5 4 2.5 4 2 4 2.5 4 2 4 2 4 2 4 2.5 4 3 4 2.5 4 2 4 2 4 1 4 1.5 4 1.5 4 1.5 4 1 4 1 4 1 4 1.5 4 1 4 2 4 1.5 4 2 4 2 4 2 4 2 4 2 4 2 4 2.5 4 2 4 2.5 4 1.5 4 1 4-1.5 4-1.5 4-2.5 4-2.5 4-3.5 4-4.5 4 2.5 4 3 4 3 4 3 4 3.5 4 3 4 1.5 4-1.5 4-2.5 4-2.5 4-2 4-1.5 4-.5 4 0 4-.5 4-.5 4-1 4-1 4-.5 4-.5 4 0 4-.5 4 .5 4 .5 4 1 4 1.5 4 2 4 3 4 2.5 4 2.5 4 2 4 1.5 4 1.5 4 1 4 .5 4 0 4-.5 4-1 4-1 4-1.5 4-1.5 4-1 4-.5 4 0 4 0 4 .5 4 0 4 0 4-.5 4 0 4-.5 4-.5 4-.5 4-.5 4-1 4-.5 4 0 4 0 4 1 4 1 4 1.5 4 1 4 .5 4 0 4 0 4 0 4-.5 4-.5 4-.5 4-1 4-1 4-.5 4-.5 4 0 4 .5 4 1 4 1 4 .5 4 .5 4-.5 4-1 4-1 4-1.5 4-1 4-1 4-.5 4 0 4-.5 4-.5 4-1 4-1 4-.5" stroke="#a040ff"/><path d="M100.5 318.5l4-1 4-1 4-1.5 4-.5 4-1 4-.5 4-1 4-1 4-2 4-2 4-1.5 4-2 4-1 4-1.5 4-1.5 4-1.5 4-1.5 4-1 4-1 4-1 4-1 4-1.5 4-1 4-1 4 0 4 1 4 2 4 3.5 4 5 4 5.5 4 5 4 4 4 2 4 .5 4-1 4-1 4-1 4 0 4 1.5 4 2 4 2.5 4 1.5 4 .5 4-.5 4-1.5 4-3 4-3 4-4 4-3.5 4-3.5 4-3.5 4-2.5 4-1 4 0 4 1 4 1.5 4 1 4 1 4 0 4-1 4-2 4-2.5 4-3.5 4-4 4-3.5 4-3 4-3.5 4-4 4-4.5 4-4 4-3 4-1.5 4 0 4 2 4 4 4 5 4 4 4 3 4 3 4 2.5 4 3.5 4 3.5 4 4 4 4 4 3.5 4 3 4 2.5 4 1 4-1 4-1.5 4-2.5 4-2 4-.5 4 0 4 1 4 1 4 1 4 1 4 1 4 1.5 4 2 4 2.5 4 2.5 4 2.5 4 1.5 4 .5 4 .5 4 0 4 0 4 0 4 .5 4 1 4 1 4 1.5 4 1.5 4 1.5 4 2 4 1.5 4 2.5 4 2 4 2.5 4 2.5 4 1.5 4 .5 4 0 4-1 4-1.5 4-2.5 4-3 4-3.5 4-7 4-9.5 4-10 4-9.5 4-9.5 4-9.5 4 4 4 5.5 4 5.5 4 5.5 4 5 4 4.5 4 1 4 1.5 4 2.5 4 3 4 3 4 3 4 2.5 4 2 4 2 4 2 4 1.5 4 1.5 4 .5 4 1 4 .5 4 1 4 1 4 1 4 .5 4 .5 4 .5 4 .5 4 0 4 0 4 0 4-.5 4 0 4 0 4 .5 4 .5 4 1 4 1 4 0 4 .5 4-.5 4 0 4 .5 4 0 4 .5 4 0 4 0 4 0 4 0 4-.5 4-.5 4-.5 4-1 4-1 4-1 4-1.5 4-1 4-1 4-.5 4-.5 4-.5 4-.5 4-.5 4-.5 4 0 4 0 4 .5 4 0 4-.5 4-1 4-2 4-2 4-2 4-2 4-2 4-1.5 4-1.5 4-1 4-.5 4-1" stroke="#ff7030"/><path d="M100.5 332l4 .5 4-.5 4-1 4-2 4-2.5 4-2 4-1.5 4-1 4 0 4 .5 4 .5 4-.5 4-1.5 4-2.5 4-3.5 4-4 4-3.5 4-3.5 4-2.5 4-2.5 4-2.5 4-2.5 4-2 4-3 4-2.5 4-3 4-3 4-3 4-2.5 4-1.5 4-.5 4 .5 4 2 4 3.5 4 4.5 4 5.5 4 6 4 6.5 4 5.5 4 5.5 4 3.5 4 2 4 1 4 0 4-1 4-1.5 4-2 4-1.5 4-2 4-2 4-2 4-1.5 4-2 4-2 4-1 4-1 4 .5 4 1 4 1 4 1.5 4 0 4-1 4-2 4-2.5 4-3 4-2.5 4-2.5 4-2.5 4-2 4-2.5 4-2.5 4-2.5 4-3 4-2 4-2 4-1.5 4-1 4-1 4-1.5 4-.5 4 .5 4 2 4 2.5 4 3 4 3 4 3 4 3.5 4 3 4 3.5 4 3.5 4 3.5 4 3.5 4 4 4 3.5 4 3 4 2.5 4 2.5 4 2 4 2.5 4 2 4 2 4 2 4 1.5 4 1.5 4 1 4 1 4 .5 4 1 4 1 4 1 4 .5 4 .5 4 0 4 .5 4 .5 4 .5 4 1 4 1 4 1.5 4 1 4 1.5 4 1 4 .5 4-.5 4-1.5 4-1.5 4-2.5 4-2.5 4-2 4-2 4-2 4-2 4-2.5 4-3 4-8.5 4-9 4-9 4-9 4-9 4-2.5 4 8.5 4 8.5 4 8 4 8 4 7.5 4 4 4 1.5 4 2 4 1.5 4 1.5 4 1.5 4 2 4 1.5 4 2 4 1.5 4 1.5 4 2 4 1.5 4 1 4 1 4 0 4 0 4 0 4-.5 4-.5 4-.5 4-1 4-1 4-1 4-1 4-1 4-.5 4 0 4 0 4 0 4 .5 4 0 4 0 4 0 4 .5 4 0 4 .5 4 .5 4 .5 4 0 4-.5 4-.5 4 0 4-.5 4-.5 4-.5 4-.5 4-.5 4-.5 4-.5 4-.5 4-.5 4 0 4 0 4 0 4 0 4 0 4 .5 4 0 4 0 4-1 4-1.5 4-1.5 4-1.5 4-2 4-1.5 4-1.5 4-2 4-1.5 4-1.5 4-1.5" stroke="#ff30b0"/><path d="M100.5 347l4 1 4 0 4-1.5 4-2 4-2 4-1.5 4-.5 4-.5 4-1 4-2 4-3 4-4 4-5.5 4-5.5 4-5.5 4-4.5 4-3.5 4-1.5 4 .5 4 1.5 4 2 4 1.5 4 1.5 4 .5 4 0 4-1 4-2 4-3 4-2.5 4-3 4-1.5 4 0 4 1 4 3 4 3.5 4 3.5 4 2.5 4 1 4-1.5 4-2 4-2.5 4-1.5 4 .5 4 1.5 4 3 4 2 4 1.5 4 .5 4-1.5 4-2 4-3 4-3.5 4-3 4-3 4-2.5 4-1.5 4-.5 4 .5 4 .5 4 .5 4-.5 4-1.5 4-2 4-1.5 4-1.5 4-2 4-4 4-5.5 4-7.5 4-8 4-7 4-5.5 4-3 4-2 4-2 4-1 4-1.5 4-1 4 .5 4 3 4 5 4 6.5 4 7 4 6 4 5.5 4 4 4 3 4 1.5 4 1 4 .5 4 .5 4 1.5 4 2.5 4 2.5 4 3 4 2.5 4 2 4 2 4 2 4 1.5 4 1.5 4 1 4 1 4 1 4 1 4 1 4 1 4 1 4 1 4 .5 4 1 4 1 4 1 4 1 4 1 4 1.5 4 2 4 1.5 4 3 4 3 4 3 4 2.5 4 2 4 .5 4-1 4-2.5 4-2.5 4-3 4-3 4-2.5 4-2 4-2.5 4-6 4-7 4-6.5 4-6.5 4-6 4 2 4 6.5 4 5.5 4 5.5 4 5 4 2 4 1 4 1 4 2 4 2 4 2 4 1.5 4 .5 4 1 4 .5 4 1 4 1 4 1.5 4 1.5 4 2 4 2 4 2 4 1.5 4 2 4 1.5 4 1 4 1 4 0 4-.5 4-.5 4-.5 4 0 4 0 4 .5 4-.5 4-.5 4-1.5 4-1.5 4-1.5 4-1.5 4-1 4-1 4-.5 4-.5 4 0 4-.5 4 0 4 0 4 0 4 1 4 1 4 1.5 4 1 4 .5 4 .5 4 .5 4 0 4 0 4-.5 4-.5 4-1 4-1 4-1.5 4-1.5 4-1 4-1 4-1 4-.5 4 0 4 0 4 .5 4 1.5 4 1.5 4 2 4 1.5 4 .5 4 0 4-1 4-1.5" stroke="#4060ff"/><path d="M100.5 330l4-4 4-3 4-1.5 4-.5 4 1 4 2 4 1.5 4 .5 4-1 4-3 4-3.5 4-3.5 4-3.5 4-3.5 4-4 4-4 4-3.5 4-3 4-2 4-2 4-1.5 4-1.5 4-.5 4 0 4 1 4 2 4 2.5 4 3 4 3.5 4 3.5 4 3.5 4 3.5 4 3.5 4 3 4 3 4 2 4 1.5 4 0 4-1 4-1.5 4-2 4-2 4-2.5 4-4 4-3.5 4-3.5 4-2.5 4-1 4-1 4-.5 4 0 4 0 4 0 4-.5 4-.5 4-.5 4-.5 4 0 4-.5 4-.5 4-1.5 4-2.5 4-4 4-3.5 4-3 4-2 4-3 4-3.5 4-4 4-4.5 4-4 4-2.5 4-.5 4 1 4 2 4 2.5 4 2.5 4 2 4 1 4 1 4 2 4 3.5 4 4 4 4.5 4 3.5 4 3.5 4 3.5 4 4 4 4 4 3.5 4 2.5 4 1.5 4 1 4 0 4 0 4-.5 4 .5 4 .5 4 1 4 2 4 1.5 4 2 4 1 4 0 4 0 4-.5 4-1 4 0 4 0 4 .5 4 1 4 1 4 1 4 .5 4 1 4 1 4 1 4 1.5 4 2.5 4 2.5 4 2 4 2 4 1.5 4 1 4 0 4-.5 4-.5 4-.5 4-.5 4-1 4-2 4-2.5 4-3.5 4-3 4-3 4-2 4-3.5 4-3 4-2.5 4-2.5 4-3 4-4 4-4 4-4.5 4-3 4 5 4 5 4 5.5 4 5.5 4 5.5 4 6 4 5 4 4 4 3 4 0 4-.5 4 0 4 .5 4 1 4 1.5 4 1.5 4 1.5 4 1.5 4 1 4 1.5 4 .5 4 .5 4 .5 4 0 4 0 4-.5 4-1 4-1 4-1 4-.5 4-.5 4 .5 4 1.5 4 1.5 4 1.5 4 1.5 4 1 4 .5 4 0 4 .5 4 .5 4 .5 4 .5 4 1 4 1 4 1.5 4 1 4 1 4 .5 4 0 4-.5 4-1.5 4-2 4-2.5 4-2.5 4-2 4-2 4-1.5 4-.5 4-.5 4-.5 4-.5 4-1 4-1 4-1.5 4-2 4-2 4-2.5 4-2.5 4-2 4-2.5" stroke="#b0f020"/><path d="M100.5 323.5l4-1.5 4-1.5 4-1 4-1 4-1 4-1 4-1 4-1.5 4-1.5 4-1.5 4-1.5 4-1.5 4-1 4-1.5 4-2 4-2.5 4-2.5 4-2.5 4-3 4-2.5 4-2 4-1.5 4-.5 4 1 4 2.5 4 3.5 4 3.5 4 4 4 4 4 3 4 2.5 4 2 4 2.5 4 3 4 3 4 3 4 3 4 1.5 4 1 4 .5 4-.5 4-.5 4-.5 4-.5 4-1 4-1.5 4-2.5 4-3.5 4-4 4-4.5 4-4.5 4-4.5 4-3.5 4-2.5 4-1.5 4-.5 4 .5 4 1 4 1 4 .5 4-.5 4-1.5 4-2.5 4-2 4-2 4-.5 4 .5 4 1 4 1 4 0 4-.5 4-1.5 4-2.5 4-2.5 4-2 4-1.5 4-.5 4-.5 4 1 4 2 4 3 4 3.5 4 4 4 4 4 3 4 3 4 2.5 4 1.5 4 .5 4 .5 4 .5 4 2 4 2.5 4 3 4 3 4 1.5 4 1 4 0 4-.5 4-1 4 0 4 0 4 .5 4 1 4 1.5 4 1.5 4 1.5 4 1 4 .5 4 0 4 0 4-.5 4 .5 4 1.5 4 1.5 4 2 4 2 4 1.5 4 2 4 2 4 1.5 4 1.5 4 .5 4 .5 4-.5 4-1 4-1.5 4-1.5 4-1.5 4-1 4-1.5 4-2 4-2 4-1.5 4-1.5 4-1 4-.5 4-.5 4-1 4-.5 4-.5 4-1.5 4-3 4-3 4-3 4-2.5 4-3 4-2 4-2 4-1.5 4-1.5 4-.5 4 5.5 4 5.5 4 4.5 4 4 4 4 4 3.5 4 3 4 3 4 2.5 4 2 4 0 4 .5 4 0 4 1 4 .5 4 1 4 1 4 .5 4 .5 4 1 4 .5 4 .5 4 .5 4 .5 4 0 4 .5 4 .5 4 .5 4 1 4 1 4 1 4 1 4 1 4 1 4 .5 4 .5 4 0 4-.5 4-.5 4-1.5 4-1 4-1.5 4-1.5 4-1 4-1 4-.5 4-.5 4-1 4-1 4-1.5 4-2 4-2 4-2 4-2.5 4-3 4-2.5 4-3 4-2 4-2 4-1.5 4-1 4-.5 4-.5 4 0" stroke="#ff40b0"/><path d="M100.5 327.5l4 0 4 1 4 1 4 1.5 4 .5 4 0 4-.5 4-1.5 4-2 4-1.5 4-1 4 0 4 0 4 0 4-1 4-2 4-3 4-3 4-3 4-2.5 4-1.5 4-1 4 0 4 .5 4 .5 4 1 4-.5 4-.5 4-1.5 4-2 4-2.5 4-2 4-2.5 4-1.5 4-1.5 4 0 4 1.5 4 3 4 4.5 4 5.5 4 5.5 4 4 4 2.5 4 1 4 1 4-.5 4-1 4-1.5 4-2.5 4-2 4-2 4-2 4-1 4-1 4-.5 4-.5 4 0 4 .5 4 0 4 1 4 .5 4 .5 4 .5 4 .5 4 0 4 0 4-.5 4-1.5 4-2.5 4-3.5 4-4.5 4-3.5 4-3 4-2.5 4-1.5 4-.5 4-.5 4 0 4 .5 4 1 4 .5 4 0 4 0 4 0 4-.5 4 0 4 0 4 0 4 0 4 .5 4 1 4 2 4 3.5 4 3.5 4 4 4 3.5 4 3.5 4 2 4 2 4 1 4 .5 4 0 4 0 4 0 4 0 4 .5 4 1 4 1 4 1.5 4 1.5 4 1.5 4 1.5 4 2.5 4 2 4 2.5 4 2.5 4 2.5 4 2 4 1.5 4 1.5 4 1.5 4 .5 4 .5 4 .5 4-.5 4-.5 4-1 4-1 4-1 4-1 4-2 4-2 4-2 4-2.5 4-1.5 4-.5 4 .5 4 0 4 0 4-1 4-1 4-2 4-2 4-1.5 4-.5 4-.5 4 .5 4 1 4 1.5 4 2 4 2.5 4 2.5 4 2 4 2 4 1 4 1 4 .5 4 1 4 1 4 0 4-2.5 4-2.5 4-3.5 4-3.5 4-3.5 4-4 4-4 4 1.5 4 4.5 4 4 4 4 4 4 4 3.5 4 3.5 4 3 4 0 4 0 4 0 4 0 4 0 4-.5 4-.5 4-.5 4-.5 4-1 4-1 4-.5 4-.5 4-.5 4-.5 4 0 4 .5 4 .5 4 1 4 1 4 1 4 .5 4 .5 4 .5 4 .5 4 0 4 .5 4 .5 4 0 4-.5 4-1 4-1 4-1.5 4-1.5 4-1.5 4-.5 4-.5 4 0 4-.5 4-.5 4-.5" stroke="#50e830"/><path d="M100.5 328.5l4-1.5 4-1.5 4-1 4-1 4-1 4-1 4-1.5 4-1.5 4-1.5 4-1.5 4-1 4-1.5 4-1.5 4-1.5 4-2 4-2.5 4-2 4-2.5 4-2 4-2.5 4-3 4-2.5 4-2.5 4-1 4-1 4 0 4 .5 4 1 4 1 4 1 4 1 4 1 4 .5 4 1 4 .5 4 .5 4 0 4 0 4 0 4-.5 4-1 4-2 4-2.5 4-3 4-3 4-2 4-1 4-.5 4 .5 4 .5 4 1.5 4 1 4 1.5 4 1.5 4 2.5 4 2 4 1.5 4 1.5 4 .5 4 0 4-1 4-2 4-4 4-5 4-5.5 4-5 4-4.5 4-3.5 4-1.5 4-.5 4 .5 4 .5 4 1 4 1 4 1.5 4 3 4 2.5 4 2 4 2 4 1 4 1 4 1.5 4 1.5 4 1.5 4 1.5 4 2 4 2.5 4 3 4 3 4 3.5 4 3.5 4 3.5 4 4 4 3.5 4 2.5 4 2 4 1 4 1 4 .5 4 0 4 .5 4 0 4 0 4 .5 4 1 4 1.5 4 2 4 2 4 1.5 4 1 4 .5 4-.5 4-.5 4 0 4 .5 4 .5 4 1 4 1.5 4 2 4 2 4 2 4 1.5 4 1 4 0 4-1 4-2 4-2 4-2.5 4-2 4-1.5 4-1.5 4-2 4-2.5 4-3 4-3 4-2.5 4-2 4-1.5 4-.5 4 .5 4 1 4 .5 4 1 4 0 4 .5 4 0 4 .5 4 1 4 1.5 4 2 4 3 4 3.5 4 3.5 4 3 4 2.5 4 1 4 1 4 .5 4 0 4 0 4-.5 4-.5 4-.5 4-.5 4 0 4-1 4-2 4-3 4-2.5 4-3 4-3 4-3 4-2.5 4-2.5 4-2 4 3.5 4 3.5 4 2.5 4 2.5 4 2 4 1.5 4 2 4 1.5 4 1.5 4 0 4 .5 4 1 4 1 4 1 4 1.5 4 1 4 1 4 .5 4 0 4 0 4-.5 4 0 4 0 4 .5 4 1 4 1 4 1 4 .5 4 0 4-.5 4-2 4-2 4-1.5 4-1.5 4-.5 4 0 4 0 4 0 4-1 4-1 4-1" stroke="#ff30c0"/><path d="M100.5 327.5l4-3 4-2.5 4-3 4-1.5 4-.5 4 1 4 2.5 4 3 4 4 4 3.5 4 2.5 4 2 4 .5 4-1 4-2.5 4-4 4-5 4-5 4-3.5 4-3 4-2.5 4-2.5 4-2 4-2 4-1.5 4-.5 4 0 4 1.5 4 3 4 3.5 4 3.5 4 3.5 4 2 4 .5 4-.5 4-1 4-1.5 4-.5 4 1 4 2 4 2.5 4 2.5 4 1 4 .5 4 0 4-1.5 4-2 4-2 4-2.5 4-2.5 4-2 4-1 4-.5 4 .5 4 0 4 0 4-1 4-2 4-3.5 4-4.5 4-5 4-7 4-7.5 4-7.5 4-6.5 4-5 4-3.5 4-1.5 4 1 4 2.5 4 4 4 3.5 4 1.5 4 0 4-1 4-2 4-3 4-3 4-2.5 4-1.5 4 0 4 0 4 1 4 .5 4 1.5 4 1.5 4 3 4 3 4 3.5 4 3 4 2.5 4 3 4 3 4 3.5 4 3.5 4 3.5 4 3.5 4 3.5 4 3 4 2 4 1.5 4 1 4 .5 4 .5 4 1 4 1 4 .5 4 1 4 1.5 4 1.5 4 1.5 4 2 4 2 4 2 4 2 4 2 4 2.5 4 3 4 3 4 3 4 3 4 2 4 1 4 .5 4-.5 4-1.5 4-1.5 4-2 4-2.5 4-2.5 4-2 4-2.5 4-2 4-2.5 4-2.5 4-2 4-1.5 4-1.5 4-.5 4 0 4 1 4 2 4 2 4 1.5 4 1.5 4 .5 4 0 4-.5 4-.5 4 0 4 1 4 1 4 1.5 4 1.5 4 1 4 2 4 1.5 4 2 4 2 4 1 4 1 4-.5 4-.5 4-.5 4 0 4 0 4 .5 4 1 4 0 4 0 4 0 4-.5 4-1 4-1 4-1 4-.5 4 0 4 0 4-2 4-2.5 4-2.5 4-3 4-3 4-3.5 4-3.5 4-3 4-2.5 4 5 4 4.5 4 4.5 4 4.5 4 4 4 3.5 4 3.5 4 3 4 2 4-1 4-1 4-1.5 4-1 4-1 4-.5 4-.5 4 0 4 0 4 0 4 0 4-.5 4-1 4-1.5 4-2.5 4-2.5 4-2 4-2 4-1 4-1" stroke="#4070ff"/><path d="M100.5 327.5l4-1.5 4-1.5 4-2.5 4-3 4-3.5 4-4 4-4 4-3 4-3 4-1.5 4-.5 4 1 4 2 4 2 4 1.5 4 0 4-1 4-1.5 4-2.5 4-3 4-3.5 4-2.5 4-2 4-1 4-.5 4 .5 4 0 4 0 4-.5 4-1.5 4-1.5 4-1 4-1 4-.5 4-1 4-1 4-1.5 4-1.5 4-1 4-1 4-2 4-2.5 4-3.5 4-4 4-3 4-2 4-.5 4 .5 4 1.5 4 2 4 2.5 4 1.5 4 1 4 1 4 .5 4 .5 4 .5 4 1 4 1 4 1 4-.5 4-2.5 4-4 4-5 4-4.5 4-3 4-2 4-1.5 4 0 4 .5 4 0 4 0 4-.5 4-1 4-1.5 4-1 4-1 4-.5 4 1.5 4 3.5 4 4.5 4 6 4 5.5 4 5 4 4.5 4 3.5 4 4 4 4 4 4 4 4 4 4 4 3.5 4 2 4 1.5 4 .5 4 0 4 0 4 0 4 1.5 4 1.5 4 2.5 4 2 4 2 4 1.5 4 1.5 4 .5 4 .5 4 0 4 0 4-.5 4 0 4 0 4 0 4 .5 4 1 4 1.5 4 2 4 2.5 4 3 4 3 4 3 4 3 4 1.5 4 1 4 0 4-1 4-2 4-1.5 4-1.5 4-.5 4-.5 4-.5 4-1 4-1 4-.5 4-1 4-1 4-1 4-1 4-1 4 0 4 0 4 .5 4 1 4 1.5 4 1.5 4 1 4 0 4-.5 4-1.5 4-1 4-.5 4 0 4 .5 4 1 4 .5 4 1 4 1 4 1 4 1 4 .5 4-.5 4 0 4-.5 4-.5 4 0 4 0 4 1 4 .5 4 1 4 1 4 1 4 .5 4 .5 4 .5 4 0 4 0 4 0 4 0 4 0 4 .5 4 0 4 1 4 .5 4 0 4 0 4-1.5 4-4 4-4 4-4.5 4-4.5 4-4 4-3.5 4 5.5 4 5 4 5.5 4 4.5 4 4 4 2.5 4-.5 4-2.5 4-2 4-2.5 4-1.5 4-1.5 4-1 4-.5 4 0 4-.5 4 0 4 0 4-.5 4-.5 4-1 4-1 4-1.5" stroke="#ff50c0"/><path d="M100.5 309.5l4 .5 4 0 4-.5 4-1 4-1.5 4-1 4-1 4 0 4 .5 4 0 4-1 4-1.5 4-2.5 4-3.5 4-3.5 4-3.5 4-2.5 4-1 4 0 4 1 4 1 4 .5 4 1 4 .5 4 0 4 0 4-.5 4-.5 4 0 4-.5 4 0 4 1 4 2 4 3 4 3.5 4 3.5 4 3 4 2 4 .5 4 0 4-1 4-2 4-2.5 4-3 4-2.5 4-2.5 4-1.5 4-.5 4 0 4 .5 4 .5 4 0 4 .5 4 1.5 4 1.5 4 2 4 2 4 2 4 1 4 .5 4-.5 4-1.5 4-3 4-4 4-4 4-3.5 4-4.5 4-4 4-4 4-4 4-4.5 4-5 4-4 4-3 4-1.5 4-1 4-.5 4-1 4-1 4 0 4 1 4 2 4 3.5 4 4 4 5 4 4.5 4 4.5 4 3 4 2.5 4 1.5 4 1.5 4 2 4 2.5 4 3 4 2.5 4 2.5 4 1.5 4 2 4 1.5 4 1.5 4 1.5 4 1.5 4 1.5 4 2 4 2.5 4 1.5 4 1.5 4 1 4 .5 4 .5 4 .5 4 1 4 1 4 1 4 1 4 1 4 1 4 1 4 1 4 2 4 1.5 4 2 4 1.5 4 .5 4 0 4-1 4-1 4-1.5 4-1.5 4-1 4-1.5 4-1.5 4-1.5 4-1 4-1 4-.5 4 0 4 0 4 0 4-1 4-1 4-1 4-1.5 4 0 4 .5 4 1 4 1.5 4 1 4 1 4 .5 4 .5 4 1 4 1 4 1 4 1.5 4 1 4 2 4 1.5 4 2 4 1.5 4 1 4 .5 4 .5 4 0 4-1 4-1 4-1 4-1.5 4-2 4-2 4-1.5 4-1 4-.5 4 0 4 .5 4 1 4 1 4 1.5 4 2 4 2 4 2.5 4 2 4 1.5 4 1 4 .5 4 0 4 0 4-.5 4 0 4-.5 4 0 4 .5 4 .5 4 .5 4 1 4 .5 4 0 4-3 4-6 4-7 4-7 4-8 4-8.5 4 4.5 4 6 4 5.5 4 5.5 4 5.5 4 4 4-.5 4-.5 4-.5 4-.5 4-1 4-1.5 4-1" stroke="#ff9020"/><path d="M100.5 337.5l4 2.5 4 3 4 2.5 4 2 4 1 4 0 4-1 4-2 4-3 4-3.5 4-3.5 4-4 4-3.5 4-4 4-3.5 4-3.5 4-3.5 4-3 4-2.5 4-2 4-2 4-1 4-.5 4-.5 4 0 4 0 4 0 4 .5 4 1 4 1.5 4 1.5 4 1.5 4 2 4 1 4 1.5 4 2 4 2.5 4 2.5 4 2.5 4 2.5 4 1.5 4 1 4 .5 4-.5 4 0 4-.5 4-1 4-2 4-2.5 4-3.5 4-3 4-3.5 4-2 4-2 4-1 4-1 4-1.5 4-1.5 4-2 4-1.5 4-1 4-.5 4-.5 4-1.5 4-2.5 4-4.5 4-6.5 4-7.5 4-6.5 4-3.5 4-1.5 4 0 4 0 4-.5 4-2 4-2 4-3 4-3 4-2.5 4-1 4 .5 4 1.5 4 1.5 4 1.5 4 .5 4 1 4 2 4 2.5 4 4 4 5 4 5.5 4 6.5 4 6.5 4 5.5 4 5 4 3.5 4 2 4 1 4 .5 4 0 4-.5 4 0 4 0 4 1 4 1 4 2 4 1.5 4 1.5 4 1.5 4 1 4 1 4 1 4 .5 4 1.5 4 1.5 4 3 4 3 4 4 4 4 4 3.5 4 2.5 4 1.5 4 0 4-1 4-1.5 4-3 4-3 4-3 4-3 4-2 4-2 4-1.5 4-1.5 4-1.5 4-1 4-.5 4 .5 4 .5 4 1 4 1 4 1 4 1 4 1 4 .5 4 .5 4 0 4 0 4 .5 4 .5 4 1 4 1.5 4 2 4 2 4 2 4 1 4 .5 4 .5 4 .5 4 0 4-.5 4-.5 4-1 4-1 4-.5 4 0 4 0 4 1 4 1 4 1.5 4 1.5 4 1 4 1 4 1 4 0 4 0 4-1 4-1 4-1 4-1 4-.5 4 0 4 1 4 1 4 1 4 1.5 4 .5 4 .5 4 0 4 0 4-.5 4 0 4 0 4 .5 4 .5 4 .5 4 1 4 0 4 .5 4-.5 4 0 4-1 4-5.5 4-6 4-6.5 4-7 4-7.5 4-2.5 4 6 4 5.5 4 5.5 4 5.5 4 5 4 1.5 4-.5 4-.5 4-1.5" stroke="#ffa020"/><path d="M100.5 314.5l4 .5 4 0 4-.5 4-1.5 4-1.5 4-2 4-2 4-2.5 4-2 4-2 4-2 4-.5 4 0 4 .5 4 .5 4 1 4 .5 4 .5 4 1 4 .5 4-.5 4 0 4 .5 4 .5 4 1.5 4 2.5 4 2 4 1.5 4 1 4 1 4 0 4 0 4 0 4-.5 4-1 4-1.5 4-2 4-2.5 4-2 4-.5 4 0 4 1.5 4 1.5 4 1 4 1.5 4 0 4 0 4-1 4-2 4-2.5 4-3 4-2.5 4-2.5 4-1.5 4-.5 4-.5 4 .5 4 1 4 1 4 .5 4 0 4-1 4-1.5 4-1 4-.5 4 .5 4 .5 4 0 4-1.5 4-2.5 4-4.5 4-5.5 4-6 4-4.5 4-2.5 4 .5 4 1.5 4 2 4 2 4 2 4 2 4 1.5 4 1.5 4 1 4 1 4 1 4 1.5 4 2 4 2.5 4 2.5 4 3 4 3 4 2.5 4 2.5 4 1.5 4 1 4 1 4 .5 4 0 4 0 4 0 4 .5 4 1 4 2 4 2.5 4 3 4 3 4 2.5 4 2 4 2 4 1 4 1 4 1 4 1.5 4 1 4 1.5 4 1 4 1 4 1.5 4 1.5 4 2 4 1.5 4 1 4 1 4-.5 4-.5 4-1.5 4-2 4-2.5 4-2.5 4-3 4-3.5 4-2.5 4-2.5 4-1.5 4-1 4-.5 4 0 4-.5 4-.5 4-.5 4-.5 4 .5 4 .5 4 1.5 4 2 4 2 4 1.5 4 1 4 1.5 4 1 4 1.5 4 1 4 .5 4 1 4 0 4 .5 4 .5 4 .5 4 0 4 0 4-.5 4-.5 4-1 4 0 4 0 4 .5 4 .5 4 1 4 .5 4 .5 4-.5 4-.5 4-.5 4 0 4 0 4 .5 4 1 4 .5 4 .5 4 .5 4 .5 4 0 4 0 4-.5 4 0 4 0 4 0 4 0 4 0 4-.5 4 0 4 0 4-1.5 4-3 4-3 4-3.5 4-4 4-3.5 4-3.5 4-3.5 4 3.5 4 3.5 4 3.5 4 2 4 1.5 4 .5 4 0 4 0 4-2 4-1.5 4-.5 4 0 4 .5 4 .5 4 1" stroke="#60e820"/><path d="M100.5 339l4-.5 4-1 4-.5 4-1 4-.5 4-.5 4 .5 4 .5 4 1.5 4 2 4 1.5 4 1 4 0 4-1.5 4-2.5 4-3.5 4-3.5 4-4 4-3.5 4-4.5 4-4.5 4-4 4-3.5 4-3 4-1.5 4-1 4-.5 4-.5 4-1.5 4-2 4-3 4-3.5 4-2 4-.5 4 1.5 4 2 4 2.5 4 2.5 4 2 4 1.5 4 .5 4-.5 4-2.5 4-3.5 4-5 4-4.5 4-4.5 4-3.5 4-3 4-2 4-1.5 4-1.5 4-1.5 4-2 4-1 4-.5 4 .5 4 2 4 3.5 4 4 4 3 4 2 4 1 4-.5 4 0 4-1 4-1 4-1 4-1.5 4-1.5 4-1.5 4-2 4-3 4-3 4-2 4-1 4-.5 4-1 4 0 4 0 4 1.5 4 2.5 4 3 4 2.5 4 2 4 1.5 4 1.5 4 1.5 4 2 4 3.5 4 4.5 4 5.5 4 5.5 4 4.5 4 3 4 1 4 .5 4 0 4 0 4 0 4 .5 4 1 4 1 4 1.5 4 1.5 4 2 4 1.5 4 1 4 1.5 4 1.5 4 2 4 2 4 1.5 4 1.5 4 1 4 .5 4 .5 4 1 4 2 4 2.5 4 2.5 4 2.5 4 1.5 4 1 4 0 4-.5 4-.5 4-1.5 4-1.5 4-2.5 4-2.5 4-3.5 4-3.5 4-3 4-2 4-.5 4 1 4 1.5 4 1.5 4 1.5 4 .5 4-.5 4-1.5 4-2 4-1.5 4-1 4 .5 4 1.5 4 2 4 3 4 3 4 2.5 4 2 4 1 4 .5 4 0 4-.5 4-.5 4-.5 4 0 4 .5 4 1 4 .5 4 .5 4 .5 4 0 4 0 4 0 4 .5 4 .5 4 1 4 .5 4 .5 4 1 4 1 4 1 4 .5 4 0 4-1 4-.5 4-1 4-.5 4-1 4-1 4-1.5 4-1 4-1.5 4-1.5 4-1 4-1 4 0 4 0 4 .5 4 1 4 .5 4 0 4 0 4-.5 4-1 4-1 4-.5 4-1 4-.5 4-1 4-1 4-1 4-.5 4 0 4 .5 4 .5 4-1 4-2 4-2.5 4-3 4-3 4-.5" stroke="#70f020"/><path d="M100.5 313.5l4 .5 4 1.5 4 2.5 4 2.5 4 1.5 4 .5 4-.5 4-2 4-5 4-8 4-9 4-9 4-9 4-9.5 4-8 4 5.5 4 5.5 4 5.5 4 5.5 4 5 4 3.5 4-.5 4-2.5 4-2 4-1.5 4-1.5 4-1.5 4-1 4-.5 4 0 4 .5 4 .5 4 2 4 2 4 3 4 3.5 4 3.5 4 3.5 4 2.5 4 2 4 1 4 .5 4 0 4 .5 4 1 4 1.5 4 1 4 1 4-.5 4-1.5 4-3.5 4-4.5 4-4.5 4-4.5 4-4 4-2.5 4-1.5 4-.5 4 1 4 1 4 0 4-1.5 4-2.5 4-4 4-4 4-3 4-2.5 4-2 4-1 4 0 4 .5 4 0 4-.5 4-.5 4 0 4 .5 4 .5 4 .5 4 .5 4 .5 4 1.5 4 3 4 3 4 3.5 4 3.5 4 3 4 3 4 2.5 4 2.5 4 2.5 4 3 4 3.5 4 3.5 4 3 4 3 4 1.5 4 1.5 4 .5 4 0 4-1 4-1 4-1.5 4-.5 4 .5 4 1 4 2 4 2 4 2 4 1.5 4 1 4 .5 4 .5 4 1 4 1.5 4 1 4 1.5 4 1.5 4 2 4 2.5 4 2.5 4 3.5 4 2.5 4 2.5 4 1.5 4 .5 4-.5 4-1.5 4-2 4-2.5 4-2.5 4-2.5 4-2.5 4-2.5 4-2 4-2 4-1 4-1 4-1 4-1 4-1 4-.5 4-1 4-.5 4-.5 4 0 4 0 4 .5 4 1 4 .5 4 1 4 1 4 2 4 2 4 2.5 4 2.5 4 2 4 2 4 2 4 1.5 4 1 4 1 4 .5 4 0 4 0 4 0 4-1 4-1 4-1.5 4-1.5 4-2 4-2 4-1.5 4-1 4-.5 4 .5 4 1 4 1 4 .5 4 0 4-.5 4-.5 4-.5 4-.5 4 .5 4 .5 4 .5 4 1 4 0 4 0 4 0 4 0 4-.5 4-.5 4-.5 4 0 4-.5 4 .5 4 1 4 1 4 1 4 1 4 .5 4-.5 4-.5 4-1.5 4-1.5 4-1.5 4-1.5 4-1 4-1 4-1 4-1 4-1 4-1.5 4-1.5 4-1.5" stroke="#20d8f0"/><path d="M100.5 314l4 2 4 1.5 4 1 4 0 4-1 4-1 4-1.5 4-1.5 4-1 4-1 4-1 4-1 4-1 4-1 4-1 4-1 4-1 4 0 4 0 4 0 4 0 4-.5 4 .5 4 .5 4 1 4 1.5 4 1 4 .5 4-.5 4-7.5 4-9.5 4-11 4-11 4-10.5 4-7.5 4 11 4 11.5 4 12 4 11 4 10 4 5.5 4-.5 4-1.5 4-2.5 4-2 4-1 4-1 4 0 4-1 4-1 4-1.5 4-1 4-.5 4 0 4-.5 4 0 4-1 4-1.5 4-1.5 4-1.5 4-1.5 4-1 4-1 4-.5 4 .5 4-.5 4-1.5 4-2 4-3 4-3.5 4-3.5 4-3.5 4-3 4-2 4-.5 4 .5 4 .5 4 0 4 0 4 0 4 1.5 4 2.5 4 3.5 4 3 4 2 4 1.5 4 1 4 1 4 1 4 1.5 4 2.5 4 2.5 4 3 4 2 4 1.5 4 1 4 0 4 .5 4 .5 4 1 4 .5 4 1 4 .5 4 1 4 1.5 4 1.5 4 1.5 4 1 4 1 4 1 4 .5 4 1 4 1 4 2 4 2 4 3 4 2.5 4 3 4 3 4 3 4 2 4 1.5 4 .5 4 0 4-1.5 4-2 4-2.5 4-2.5 4-3 4-3 4-3 4-3.5 4-3.5 4-3 4-2 4-1 4 0 4 0 4 0 4 .5 4 .5 4 1.5 4 2.5 4 3 4 3 4 3 4 2.5 4 1.5 4 1.5 4 .5 4 1.5 4 1 4 1.5 4 1.5 4 2 4 1.5 4 1.5 4 1.5 4 1.5 4 1 4 1 4 0 4 .5 4 0 4 0 4 0 4 0 4 0 4 0 4 0 4 0 4-1 4-1 4-1.5 4-2 4-2.5 4-2.5 4-2 4-1.5 4-1 4-.5 4 .5 4 .5 4 1 4 1 4 1 4 1 4 .5 4 0 4-.5 4-.5 4-1 4-1 4-.5 4 0 4 0 4 .5 4 0 4 0 4 0 4 0 4 0 4 .5 4 .5 4 .5 4 1 4 0 4 .5 4-.5 4 0 4-.5 4-1 4-.5 4-1 4-.5 4-.5" stroke="#ff40c0"/></g>
<g fill="none" stroke-width="2" stroke-linejoin="round" clip-path="url(#ct)"><path d="M100.5 340l8 1 8-.5 8 0 8 1.5 8 1.5 8 .5 8 2 8 3.5 8-2.5 8-4.5 8-4.5 8-3 8-.5 8-.5 8-3.5 8 3 8 8.5 8 5.5 8 .5 8-6 8-4 8-2 8-1.5 8-6 8-9 8-9 8-6 8-4 8-2 8-.5 8-1.5 8-3.5 8-4 8-7.5 8-12.5 8-11 8-7 8-5 8-7 8-5.5 8 .5 8 8 8 11.5 8 9 8 4.5 8 3.5 8 5.5 8 4.5 8 4 8 6.5 8 8 8 8 8 7 8 5 8 3 8 2 8 1 8 2.5 8 6 8 8 8 6.5 8 3 8 0 8-3 8-5.5 8-6.5 8-4.5 8-.5 8 .5 8-1.5 8-1 8 1 8 3 8 3.5 8 4 8 3.5 8 2.5 8-.5 8-2.5 8-2.5 8-1.5 8-.5 8 0 8-.5 8 0 8 2 8 4.5 8 5 8 6 8 4.5 8 0 8-1.5 8-6.5 8-5.5 8-2 8 2 8 3 8 1 8 0 8-.5 8 0 8-.5 8 1.5 8 2 8 1 8-1 8-3.5 8-6" stroke="#ff7400"/><path d="M100.5 366.5l8-3 8-10 8-3.5 8 2 8 4 8 3 8-2.5 8-9.5 8-14 8-10.5 8-4 8 0 8 .5 8-3.5 8-5 8 .5 8 8.5 8 10.5 8 4.5 8-2 8-3.5 8-.5 8 3 8 2.5 8-3 8-2 8-1 8-1 8-.5 8-1 8-1.5 8-2.5 8-3 8-4 8-5 8-4 8-1.5 8-3.5 8-2 8 2.5 8 4.5 8 4.5 8 4.5 8 5.5 8 5.5 8 3.5 8-8 8-7 8-3.5 8 0 8 3.5 8 6.5 8 8.5 8 9 8 5 8-.5 8 .5 8 5 8 4.5 8 1 8 .5 8 0 8-.5 8-1 8-1.5 8-2.5 8-3.5 8-2.5 8-5 8-5.5 8-1.5 8 4.5 8 6.5 8 2 8 2 8 2.5 8 2.5 8 2 8 1.5 8 2 8 1 8 0 8-6 8-7 8-3.5 8 4 8 7 8 5.5 8 3 8 .5 8 0 8-1 8-4.5 8-5 8-2.5 8 1.5 8 4.5 8 6 8 1.5 8 0 8 .5 8 .5 8 1 8 1 8 .5 8 0 8-.5 8-1.5" stroke="#ff6300"/><path d="M100.5 365.5l8 0 8 0 8 0 8-1 8-2 8-2 8-10.5 8-12 8-8.5 8-1 8 5 8 1.5 8-.5 8 2 8 3 8 2.5 8 3 8 2.5 8 .5 8-2.5 8-4 8-4.5 8-3 8-.5 8-2.5 8-2 8-1 8-1 8-.5 8-4.5 8-2.5 8-1 8-1 8-3 8-5 8-7 8-11.5 8-11.5 8-3.5 8 4.5 8 10.5 8 10.5 8 7 8 .5 8-5.5 8-5.5 8-.5 8 5 8 7 8 6 8 4.5 8 2 8 0 8-.5 8 1 8 4 8 5.5 8 4 8 3 8 4 8 4.5 8 3 8 .5 8-1 8-1.5 8 0 8-3.5 8-2.5 8-1.5 8-1 8-.5 8 .5 8 1.5 8 2 8 2 8 2.5 8 2.5 8 2 8 2 8 1.5 8 1 8 1 8 .5 8 .5 8 .5 8 0 8 .5 8-.5 8-3.5 8-5.5 8-7 8-6 8-1 8 3.5 8 4.5 8 4.5 8 4.5 8 4 8 3.5 8 0 8 .5 8 .5 8 1 8 1 8 .5 8 0 8-.5 8-1.5" stroke="#ff9200"/><path d="M100.5 311.5l8-10.5 8-3 8 1 8 0 8-6 8-11 8-9 8-3 8 3.5 8 5 8 4 8 7 8 12.5 8 10 8 2 8-5 8-9 8-3 8 5 8 7.5 8 1.5 8-8 8-9.5 8-2 8 5 8 5 8 3.5 8 3.5 8 .5 8-2.5 8-4 8-4 8-4 8-5 8-5 8-5 8-7 8-7 8-4.5 8-.5 8 4.5 8 7 8 4.5 8-.5 8-8.5 8-10 8-.5 8 9.5 8 14 8 12.5 8 8 8 5 8 4 8 3 8 1.5 8 1.5 8 3.5 8 5 8 5.5 8 4.5 8 4.5 8 2.5 8 1.5 8 .5 8-2 8-7 8-8.5 8-6 8-1.5 8 1.5 8 2.5 8 1.5 8 .5 8 1 8 2 8 4 8 4 8 3 8 2.5 8 3 8 1.5 8-1.5 8-3.5 8-2.5 8 .5 8 2 8 2.5 8 2 8 2 8 1.5 8 1 8 0 8-1.5 8-2 8-3 8-6 8-7.5 8-8.5 8-7.5 8-6.5 8-4 8 0 8 2 8 0 8-3 8-1 8 5 8 8" stroke="#ff8300"/><path d="M100.5 326.5l8-10.5 8-3.5 8-1.5 8-5 8-9 8-10 8-10 8-13 8-8 8 3 8 10 8 10 8 9 8 9.5 8 6.5 8 2 8-3.5 8-8.5 8-8.5 8-1.5 8 4 8 3 8-1.5 8-3 8 3.5 8 10 8 7.5 8 3 8-1.5 8-4.5 8-3.5 8-4 8-5 8-6.5 8-4 8 0 8 3 8 .5 8-2.5 8-1 8 2.5 8 3.5 8 2 8 3.5 8 3 8 3.5 8 5.5 8 5.5 8 4 8 1.5 8-1 8-3 8-2 8-1 8 1 8 1.5 8 2 8 2 8 4.5 8 8 8 8 8 5 8 2 8 .5 8 1 8 .5 8 0 8-2.5 8-2 8-5.5 8-4.5 8-1 8 3 8 4.5 8 2 8 .5 8-1 8-.5 8 3 8 5.5 8 5.5 8 4 8 .5 8-3.5 8-3.5 8-2 8-1 8-1.5 8 0 8 1.5 8 1.5 8-1.5 8-3.5 8-6 8-5.5 8-3 8 .5 8 4 8 6 8 5 8 1 8-2.5 8-4 8-4.5 8-3.5 8-5.5 8-7 8-7" stroke="#ff9900"/><path d="M100.5 319l8-7.5 8-1.5 8 3.5 8 2 8-5.5 8-15.5 8-19 8-14.5 8-2.5 8 6 8 5.5 8 1 8-1.5 8-.5 8 3.5 8 9.5 8 14.5 8 15 8 8 8 2 8-3 8-6 8-11.5 8-10 8-5 8-1.5 8-5.5 8-12.5 8-16.5 8-11.5 8-6 8-1.5 8 6.5 8 9.5 8 9 8 5 8-3.5 8-5.5 8 0 8 9.5 8 14 8 12.5 8 9.5 8 6.5 8 1 8-3 8-4 8-1.5 8 1.5 8 6 8 9 8 8.5 8 5.5 8 2.5 8 0 8 .5 8 4 8 5.5 8 5 8 2.5 8 .5 8-1 8-3 8-3.5 8-3 8-5 8-9 8-10.5 8-8.5 8-5 8 2 8 7 8 9.5 8 7.5 8 4.5 8 3 8 1 8 .5 8 .5 8 1.5 8-.5 8-3.5 8-6.5 8-7 8-4.5 8-1.5 8-.5 8-.5 8-1 8-1 8 0 8 0 8 0 8 1.5 8 4 8 6 8 7 8 7 8 6 8 3 8 .5 8-1.5 8-3.5 8-4.5 8-6 8-6.5 8-4 8 .5" stroke="#ffab00"/><path d="M100.5 365l8 0 8 0 8-3.5 8-8.5 8-9.5 8-12 8-15.5 8-15.5 8-12 8-7.5 8-5 8-2 8 0 8 3.5 8 8.5 8 11 8 10 8 5 8 1 8-.5 8 .5 8 1.5 8 2.5 8 1.5 8-2.5 8-2.5 8 1 8 3 8 .5 8-3 8-4.5 8-5 8-4.5 8-7 8-7 8-5 8-3.5 8-2.5 8 1.5 8 7.5 8 11.5 8 6 8-.5 8 0 8 4.5 8 8 8 4 8-3 8-3.5 8 .5 8 6.5 8 7.5 8 7 8 5 8 0 8-4 8-3.5 8 .5 8 3 8 4 8 3 8 1.5 8 0 8-1 8-2 8-3.5 8-4 8-3 8-1.5 8 0 8 1 8-.5 8-1.5 8-2.5 8-1.5 8 2 8 4 8 3.5 8 2 8 0 8 .5 8 2.5 8 5 8 5 8 4.5 8 3.5 8 2.5 8 1 8 1.5 8 0 8 0 8 0 8 0 8 0 8 0 8 0 8 0 8 0 8 .5 8 0 8 .5 8 .5 8-.5 8-2 8-3 8-4.5 8-3 8-1.5" stroke="#ffa800"/><path d="M100.5 318.5l8-2.5 8-9.5 8-11.5 8-5.5 8 4.5 8 11 8 7 8-5 8-15 8-14.5 8-2.5 8 8.5 8 12.5 8 9.5 8 3 8 .5 8-2 8-4.5 8-4 8-1 8 .5 8 .5 8 2.5 8 3.5 8-.5 8-5.5 8-7 8-7.5 8-8.5 8-7.5 8-7.5 8-11 8-11.5 8-9 8 1.5 8 13.5 8 10.5 8-1.5 8-10 8-6.5 8 7 8 17 8 19.5 8 14 8 9.5 8 6.5 8 4 8 2.5 8 4.5 8 6 8 5 8 3 8 2 8 .5 8-3 8-4 8-2 8 2.5 8 5 8 7.5 8 5 8 2 8-1 8-3.5 8-6 8-8 8-10 8-7 8-2.5 8-1 8-.5 8 .5 8 4.5 8 7 8 7.5 8 7.5 8 3.5 8-1 8-1.5 8 0 8 1.5 8 3.5 8 3.5 8 2.5 8 1 8 0 8-1.5 8-2 8-1 8-.5 8-1 8-4.5 8-6.5 8-5.5 8-3 8 .5 8 1 8-.5 8-3 8-2 8 .5 8-.5 8-3.5 8-3 8 .5 8 4 8 5 8 3.5" stroke="#ffd000"/><path d="M100.5 343l8-14 8-3.5 8 6 8 7.5 8 5 8 3 8 .5 8-4.5 8-7 8-7 8-7.5 8-7 8-4.5 8-1.5 8 2.5 8 5.5 8 6 8 5 8 .5 8-5 8-6 8-4 8-.5 8 1.5 8-1.5 8-5 8-6.5 8-7.5 8-8.5 8-8.5 8-10 8-14.5 8-13 8-6.5 8 .5 8 6 8 8 8 9 8 11.5 8 11.5 8 11 8 7.5 8 5 8 8.5 8 12.5 8 6.5 8 4 8 2 8-3.5 8-9.5 8-5.5 8-.5 8 3 8 4 8 4.5 8 4.5 8 3.5 8 2 8 1 8 2.5 8 3.5 8 2.5 8 .5 8-1.5 8-2.5 8-2.5 8-2.5 8-2 8-2.5 8-4 8-4.5 8-3.5 8-3 8-.5 8 1 8 2 8 2 8 3.5 8 5.5 8 5.5 8 3.5 8 .5 8-2.5 8-1 8 2.5 8 3.5 8 2 8-1.5 8-6.5 8-10 8-7.5 8 0 8 9.5 8 15 8 11 8 3 8-.5 8-7.5 8-6.5 8-4 8-1.5 8 .5 8 1 8 3.5 8 5.5 8 2 8-6 8-10.5" stroke="#ffe500"/><path d="M100.5 347.5l8 3 8-1.5 8-6 8-7 8-8 8-9 8-9.5 8-9 8-5.5 8 1 8 3.5 8 4.5 8 4 8 1.5 8-4.5 8-14 8-14 8-6.5 8 1.5 8 5.5 8 3 8-3.5 8-9.5 8-9.5 8 .5 8 10.5 8 12.5 8 12 8 9.5 8 5.5 8-3.5 8-15.5 8-31.5 8-26 8-12.5 8 2 8 13 8 13 8 10 8 6 8 7.5 8 10.5 8 10.5 8 9.5 8 7.5 8 7 8 7.5 8 5.5 8 1.5 8-2 8-3.5 8-2 8-1 8 1 8 3 8 4.5 8 4 8 3 8 2.5 8 3.5 8 2 8-1 8-2.5 8-1.5 8-1 8-1.5 8-2.5 8-1 8 2 8 1 8 0 8-.5 8-.5 8 0 8 .5 8 2 8 .5 8-1.5 8-2 8-.5 8 1 8 1.5 8-2 8-7 8-9 8-5.5 8 1.5 8 5.5 8 5 8 1 8-4 8-6.5 8-5 8-2 8-.5 8 1.5 8 5 8 7 8 5 8-1 8-6.5 8-5.5 8-.5 8 2.5 8 1.5 8-2.5 8-5 8-5" stroke="#ffd600"/><path d="M100.5 298l8-3 8 4.5 8 9 8 6 8-2 8-9.5 8-11 8-11 8-5.5 8 3 8 9.5 8 10.5 8 7 8-4 8-14.5 8-13.5 8-2 8 8 8 10.5 8 5.5 8-2 8-7 8-7 8-5 8-3.5 8-4.5 8-5.5 8-7 8-8.5 8-8.5 8-11.5 8-16 8-4.5 8 7.5 8 14 8 15.5 8 8.5 8 .5 8-4 8-3 8 2.5 8 4.5 8 2 8-2.5 8-4.5 8-1 8 10 8 9.5 8 10.5 8 9.5 8 7 8 5.5 8 4.5 8 2.5 8 1.5 8 2 8 3 8 4 8 5 8 6 8 5.5 8 2 8-1.5 8-4 8-5.5 8-7 8-8.5 8-6.5 8-5 8-5.5 8-1 8 1 8 8 8 9 8 6.5 8 5 8 4 8 2.5 8 2 8 2 8 .5 8-1.5 8-3 8-2 8 .5 8 2 8 1.5 8-.5 8-3 8-4 8-4.5 8-4.5 8-2.5 8 0 8 0 8 0 8 1 8 1 8-4 8-1.5 8-2 8-1.5 8-1.5 8-1.5 8-2.5 8-2.5 8-3 8-3" stroke="#ffc500"/><path d="M100.5 361.5l8-3.5 8-10 8-7 8-1 8 2.5 8 1 8-2 8-7 8-9 8-5.5 8 1.5 8 6 8 4.5 8-2 8-6 8-4 8 2 8 4.5 8 1 8-6.5 8-12 8-13.5 8-4.5 8 7 8 8.5 8 5.5 8 8 8 6 8-.5 8-6 8-9 8-10.5 8-8.5 8-5 8-1 8 0 8-2 8-4 8-1 8 6.5 8 14.5 8 10.5 8 4.5 8 5.5 8 1 8-5 8-1 8 2 8 3 8 4 8 6 8 6.5 8 1.5 8 2.5 8 2.5 8 2 8-2.5 8 0 8 2.5 8 4 8 3.5 8 1 8-1.5 8-5 8-7 8-7 8-3.5 8 2 8 5 8 3.5 8-.5 8-3.5 8-4 8-3 8-.5 8 3 8 5.5 8 5.5 8 4 8 2.5 8 1 8-.5 8-2 8-.5 8 3.5 8 5 8 2.5 8-2 8-7 8-9 8-10 8-6.5 8-1.5 8 3 8 3.5 8 2 8 .5 8-1 8-2.5 8-3 8-3 8-2 8-2 8-1.5 8-1.5 8-1.5 8 .5 8 5" stroke="#e4ff00"/><path d="M100.5 328.5l8 7.5 8 7 8 3.5 8 1 8 1.5 8 2.5 8-1.5 8-9.5 8-10.5 8-5.5 8-1 8 .5 8-.5 8-4.5 8-7.5 8-7 8-1 8 3 8 .5 8-5.5 8-10.5 8-9 8-.5 8 6 8 6 8 .5 8-.5 8 1.5 8-1.5 8-7 8-11 8-10.5 8-5.5 8-5.5 8-6 8-6 8-6 8-5.5 8-.5 8 6 8 6 8 3 8 6.5 8 13 8 11 8 4.5 8 3.5 8 5 8 6 8 4 8 1.5 8 2.5 8 4.5 8 5 8 3 8 2 8 3 8 4 8 4 8 4 8 4 8 2 8-1.5 8-3 8-3 8-4 8-5.5 8-5.5 8-3.5 8-1 8 1 8 1 8 1 8 1.5 8 1.5 8 4.5 8 6 8 6.5 8 5 8 4.5 8 4 8 5.5 8 4 8-1 8-5.5 8-6 8-4 8-1 8-1.5 8-1.5 8 0 8 3 8 5.5 8 5.5 8 3.5 8-1 8-5.5 8-8.5 8-9 8-5.5 8-1 8 .5 8-.5 8-2.5 8-1.5 8-.5 8 0 8-2.5" stroke="#ffe600"/><path d="M100.5 337.5l8 13.5 8 9 8 5.5 8-1 8-2.5 8-13 8-18.5 8-17.5 8-5.5 8 5.5 8 4.5 8 3 8 0 8-5 8-8 8-8 8-4.5 8-4.5 8-5 8 .5 8 5.5 8 4.5 8-1 8-4 8-2 8 2 8 2 8-1.5 8-3.5 8-5.5 8-7.5 8-9 8-1 8 8.5 8 9 8 4 8-5.5 8-15 8-18 8-11 8 2 8 11 8 13.5 8 13.5 8 12 8 10.5 8 7.5 8 4.5 8 2.5 8 2 8 1.5 8 .5 8 1 8 2 8 1.5 8 1 8 2 8 3.5 8 5.5 8 6 8 3.5 8 0 8-3 8-4 8-2.5 8-2.5 8-5 8-5.5 8-5 8-3.5 8 0 8 4 8 7 8 7 8 3.5 8 .5 8-.5 8 .5 8 4 8 7 8 6.5 8 3.5 8-.5 8-3 8-3 8-2.5 8-3 8-3 8 0 8 5 8 6.5 8 5 8 2.5 8 .5 8-2 8-3 8-2.5 8-1.5 8 0 8 2.5 8 4.5 8 3.5 8-.5 8-6.5 8-7 8-3.5 8-1 8-.5" stroke="#d9ff00"/><path d="M100.5 326l8 2.5 8 3 8 7 8 3.5 8-4 8-9.5 8-13.5 8-15.5 8-15.5 8-9 8-2 8-1.5 8-5.5 8-5.5 8 3.5 8 15 8 16 8 6 8-5 8-9.5 8-9.5 8-8.5 8-6.5 8-2 8 2 8 1.5 8-2.5 8-2.5 8 1 8 2 8 0 8-1 8-.5 8-12 8-23.5 8-19.5 8 0 8 9 8 13.5 8 16.5 8 12.5 8 5.5 8-.5 8 1 8 7.5 8 12.5 8 15 8 13 8 9 8 5 8 .5 8-1.5 8-1.5 8 .5 8 3 8 6.5 8 8.5 8 7 8 3.5 8 1 8 .5 8 1 8 0 8-1 8-1.5 8-6.5 8-13 8-11.5 8-7 8-2 8 3.5 8 7.5 8 6.5 8 3 8-1.5 8-1 8-.5 8 .5 8 .5 8 0 8-.5 8 0 8 1.5 8 2 8-.5 8-2.5 8-3 8-3 8-2 8 0 8 4 8 5.5 8 3 8-1.5 8-5.5 8-6 8-2 8 1.5 8 4 8 3.5 8 4 8 3 8 .5 8-3.5 8-3 8-1 8 0 8-4.5" stroke="#fdff00"/><path d="M100.5 349l8-6.5 8-5 8-3 8 2.5 8 5.5 8 7 8 4 8-4 8-8.5 8-6.5 8-3 8-2 8-2.5 8-3.5 8-1.5 8 4 8 9 8 7.5 8 1 8-6 8-9.5 8-9 8-7.5 8-3.5 8-1 8 2 8 5 8 4.5 8-1.5 8-6 8-7.5 8-8 8-7.5 8-4.5 8-.5 8 2 8 0 8-3 8 0 8 7 8 12 8 9 8 4.5 8 2 8 0 8 1.5 8 4.5 8 3.5 8-.5 8-3 8-3.5 8-1 8 2 8 3.5 8 4 8 2.5 8 .5 8-1 8 0 8 1.5 8 3 8 .5 8-3 8-4.5 8-3 8-2 8-2 8-2 8-2 8-2.5 8 0 8 5.5 8 8 8 7 8 3.5 8 1.5 8 1.5 8 3 8 2.5 8 1.5 8-1 8-3 8-4.5 8-2 8 3.5 8 5 8 3.5 8 1.5 8 .5 8 1 8 1 8 0 8-2 8-1 8 1.5 8 6 8 3 8 0 8 .5 8 0 8-.5 8-3 8 1.5 8 5 8 .5 8 0 8-.5 8-1.5" stroke="#b4ff00"/><path d="M100.5 284.5l8 11.5 8 9.5 8 5 8 5 8 4 8-2 8-9.5 8-12 8-9 8-6 8-7 8-6.5 8-4.5 8 2 8 11 8 17.5 8 15.5 8 3 8-10.5 8-14 8-7 8 .5 8 1.5 8-3.5 8-11.5 8-13 8-10.5 8-8.5 8-7 8 0 8 7 8 12.5 8 15 8 1.5 8-10.5 8-10.5 8-2 8-.5 8-3 8-1 8 7.5 8 14.5 8 10.5 8 3 8-.5 8 1.5 8 6 8 9 8 12 8 13 8 9 8 3.5 8-.5 8-2 8-2 8 1 8 3.5 8 5.5 8 5.5 8 4 8 2 8-1 8-4 8-6 8-4 8 0 8 2.5 8 4 8 2.5 8-1.5 8-3 8-.5 8 3.5 8 5 8 1.5 8-1 8-2.5 8-1 8 1 8 .5 8-1 8-.5 8-1 8-2 8-5 8-6 8-3.5 8 0 8 1.5 8 1 8 .5 8 .5 8 1 8-.5 8-2.5 8-4.5 8-3.5 8-1 8 1.5 8 2 8 1 8-.5 8 0 8-1 8-2 8-1 8 1.5 8 4" stroke="#b8ff00"/><path d="M100.5 345l8 8 8 4 8-2.5 8-6.5 8-4.5 8 1 8 5.5 8 2 8-6.5 8-10 8-9.5 8-6 8-2 8-.5 8 1.5 8 3.5 8 6 8 6 8 4.5 8-.5 8-5.5 8-9 8-10 8-9 8-11 8-7.5 8-2.5 8 5 8 8 8 2.5 8-4 8-12 8-10 8-3 8 2.5 8 1.5 8 1 8 1 8-.5 8 1 8 3 8 2 8-3.5 8-5.5 8-.5 8 5.5 8 8 8 4.5 8 1.5 8 2.5 8 6 8 10 8 11 8 11 8 8 8 1 8-4 8-4.5 8-1.5 8 1.5 8 2.5 8 1 8-2.5 8-3 8-1 8 0 8-1 8-.5 8 1 8-1 8-2.5 8-3 8-.5 8 3 8 5 8 5 8 2.5 8-.5 8-1 8 0 8 1 8 .5 8-1 8-.5 8-.5 8-1.5 8-2.5 8-3 8-1.5 8-.5 8 1 8 4 8 7 8 6 8 1.5 8-3.5 8-7 8-7.5 8-5 8-3 8-1 8-1.5 8-1.5 8-1 8-.5 8 2 8 5 8 5" stroke="#c6ff00"/><path d="M100.5 309l8 1.5 8-2 8-2 8 1 8 4 8 3.5 8 1.5 8-1.5 8-2 8-3.5 8-6.5 8-7.5 8-6 8-2.5 8 2 8 3 8 1 8-4 8-7.5 8-7 8-6.5 8-4.5 8-.5 8 5 8 7 8 4 8 .5 8-2.5 8-3 8-1.5 8-1 8-3.5 8-5 8-5.5 8-3.5 8-.5 8 0 8 1.5 8 4.5 8 4 8 1.5 8-3.5 8-4.5 8-1.5 8-.5 8-.5 8 3.5 8 6.5 8 7.5 8 10 8 8 8 6 8 5 8 5.5 8 6 8 6 8 4.5 8 3.5 8 2.5 8 3 8 2.5 8 0 8-3 8-5 8-5 8-6 8-7.5 8-7 8-5.5 8-5 8-2 8 1 8 4 8 5 8 4.5 8 7.5 8 6 8 4 8 4.5 8 4 8 3 8 3 8 2 8-2 8-5.5 8-8 8-5.5 8-1.5 8 1 8 1 8 2 8 3.5 8 5.5 8 6 8 6 8 4 8 1 8-1.5 8-4.5 8-5.5 8-4.5 8-3 8-1 8 2 8 2 8 .5 8 .5 8 2" stroke="#98ff00"/><path d="M100.5 349l8-2 8 2.5 8 5.5 8 2 8-6.5 8-13.5 8-17.5 8-15.5 8-2.5 8 9.5 8 7.5 8 0 8-6 8-10 8-12.5 8-8.5 8-2.5 8 7 8 17.5 8 18.5 8 9.5 8 0 8-9.5 8-18 8-26.5 8-8 8 7.5 8 12 8 5 8-1.5 8-4.5 8-4 8 0 8-.5 8-2.5 8-5.5 8-8 8-9 8-13.5 8-12 8 1 8 17 8 25.5 8 20 8 14 8 10 8 3.5 8-5 8-8 8-4 8 3 8 6 8 5 8 2.5 8 .5 8 1 8 3 8 4 8 3 8 4 8 4.5 8 4 8 3 8 2 8-1.5 8-2.5 8-3.5 8-2.5 8-1.5 8-1 8-1 8-.5 8 3 8 2 8 2 8 2.5 8 2 8-2 8-2 8-.5 8 1.5 8 4 8 4.5 8 3 8-.5 8-1.5 8-1.5 8-1.5 8-2 8 .5 8 3 8 3.5 8 1 8-1.5 8-2 8-1 8 1 8 3.5 8 1.5 8 0 8 .5 8 .5 8 1 8 1 8 .5 8 0 8-.5 8-1.5" stroke="#b8ff00"/><path d="M100.5 342.5l8 8.5 8 10 8 4.5 8-1 8-2 8-2 8-7 8-12 8-9.5 8-5 8-1.5 8 0 8 1 8-1.5 8-4.5 8-4.5 8 0 8 4.5 8 3 8 1 8-1 8-1 8-1.5 8-2.5 8-3.5 8-3 8-.5 8 1.5 8 2.5 8 2 8 1.5 8 2 8-2.5 8-4 8-5 8-4 8-1.5 8-3.5 8-2 8 2.5 8 4.5 8 4.5 8 4.5 8 5.5 8 5.5 8 4.5 8-2 8-6.5 8-4.5 8-2.5 8-.5 8 1.5 8 2 8 2 8 2.5 8 4.5 8 6 8 6.5 8 6.5 8 5.5 8 3 8 0 8-.5 8-1 8-1.5 8-2.5 8-3.5 8-2.5 8-1.5 8-1 8-.5 8 .5 8-3.5 8-2.5 8 0 8 1.5 8 2 8 1.5 8 .5 8 0 8-1 8-.5 8 1.5 8 2.5 8 2 8 .5 8-.5 8-1 8-.5 8 0 8 1.5 8 1.5 8 1.5 8 2 8 2 8 2 8-.5 8-3 8-5 8-7 8-6 8-3.5 8-1 8 0 8 1 8 2 8 2 8 2" stroke="#8eff00"/><path d="M100.5 312l8 1.5 8 4 8 3 8 0 8-1.5 8-3 8-4 8-4.5 8 1 8 5.5 8 1 8-6.5 8-12 8-13 8-8.5 8-2 8 3 8 5.5 8 6.5 8 4.5 8-1 8-6 8-4.5 8-1 8-1.5 8-2.5 8 1.5 8 8.5 8 12.5 8 9 8 5.5 8-.5 8-7.5 8-13 8-13.5 8-13 8-8 8-2 8-2 8-4 8-2.5 8 5 8 18.5 8 26 8 21 8 10 8 1 8-3.5 8-4 8-2.5 8 .5 8 2.5 8 3 8 2.5 8 2.5 8 3 8 4.5 8 4 8 1.5 8 0 8-.5 8-1.5 8-4.5 8-5.5 8-3.5 8-1.5 8-2 8-.5 8 1.5 8 0 8-1.5 8-1 8 1.5 8 2 8 1.5 8 1.5 8 1 8-1 8-.5 8 0 8-.5 8-1 8-2 8-2.5 8-3 8-2.5 8-1 8 0 8 0 8-.5 8-1 8 1 8 2.5 8 3.5 8 4.5 8 6.5 8 7 8 6.5 8 5 8 2 8-.5 8-2 8-2.5 8-.5 8 2.5 8 4 8 4.5 8 4" stroke="#5eff00"/><path d="M100.5 365l8 0 8 0 8 0 8-4.5 8-4 8-3.5 8-3.5 8-5.5 8-7 8-4.5 8-1.5 8 2 8 1.5 8 2 8 3 8 0 8-2.5 8 5 8 6 8-2.5 8-4 8-3 8-1.5 8-3 8-3 8-2 8-1 8-1 8-.5 8-4.5 8-6 8-3 8-2 8-1.5 8 0 8-4 8-1.5 8-3.5 8-2 8 1 8 3 8 0 8-3.5 8-5.5 8-4.5 8 .5 8 7 8 8.5 8 7 8 6 8 5.5 8 5 8 5.5 8 6 8 3 8 3 8 2.5 8-.5 8-4.5 8-3.5 8 1.5 8 2.5 8 1.5 8 0 8-2 8-3 8-3 8-2 8 .5 8 1 8 1.5 8 .5 8-1.5 8-2 8-2.5 8-1 8 1 8 1.5 8 3.5 8 4 8 2 8 2.5 8 2 8 1 8 0 8-.5 8-1 8-1 8-.5 8 0 8 0 8 0 8 1 8 3 8 3.5 8 1 8-.5 8-1 8-1 8-1 8-1.5 8-.5 8 1.5 8 4.5 8 4 8-1.5 8-5.5 8-4.5" stroke="#53ff00"/><path d="M100.5 344.5l8-7 8-9 8-6 8-3 8-1 8 1 8 1.5 8-3 8-10.5 8-14.5 8-11 8-4 8 2 8 5 8 3.5 8-3 8-7 8-5 8 3.5 8 11.5 8 9.5 8 0 8-8.5 8-12 8-10 8-.5 8 9 8 17.5 8 12.5 8 5 8-3 8-8.5 8-11 8-12.5 8-9 8 0 8 4 8 3.5 8-3 8-8 8-5.5 8 2 8 6 8 6 8 7 8 10.5 8 12 8 6 8-.5 8-3 8 .5 8 4.5 8 5 8 2.5 8 .5 8 .5 8 1.5 8 2.5 8 2.5 8 5 8 5.5 8 3.5 8 0 8-3.5 8-5.5 8-7 8-8 8-6 8-2.5 8 1.5 8 5.5 8 6 8 4 8 2.5 8 2.5 8 3.5 8 2.5 8 1.5 8 2 8 4 8 4 8 3.5 8 3 8 3 8 1.5 8-3 8-8 8-11.5 8-9 8-3 8 4 8 5 8 4.5 8 4 8 3 8 1.5 8-3 8-7.5 8-9 8-7.5 8-3 8 4.5 8 10.5 8 8.5 8 4.5 8-2.5 8-8 8-10.5" stroke="#71ff00"/><path d="M100.5 333.5l8-1 8-1.5 8-4 8-4.5 8-1.5 8 2 8 5 8 3.5 8 4.5 8 3.5 8-1.5 8-3 8-.5 8 2 8 3 8-5 8-13 8-17 8-12.5 8 3.5 8 12 8 7 8 2 8 0 8-4 8-8 8-5 8 2.5 8 6.5 8 2 8-6 8-11 8-6 8 1 8 4 8 0 8-4 8-5 8-.5 8 1.5 8-2 8-5.5 8-4 8 7 8 13 8 11 8 10 8 6.5 8 2 8-1 8-2 8-1.5 8 1 8 3 8 3.5 8 3 8 1.5 8 3 8 6 8 5.5 8 1 8-2.5 8-6.5 8-7.5 8-6.5 8-3.5 8-2 8-1.5 8-1.5 8-1 8 2 8 5 8 6 8 5 8 5.5 8 5.5 8 4 8 1 8-.5 8 .5 8 .5 8-1.5 8-2.5 8 1 8 7 8 8 8 .5 8 0 8 0 8-3.5 8 .5 8 3.5 8 0 8 0 8 0 8 0 8-5 8-6.5 8-7 8-7 8-2 8 2 8 0 8-4 8-4.5 8-1.5 8 .5 8-.5" stroke="#81ff00"/><path d="M100.5 366l8 0 8 0 8 0 8-1.5 8-2 8-2 8-2.5 8-5 8-6 8-4.5 8-4.5 8-3 8-.5 8 1.5 8 2.5 8 3.5 8 3 8 2.5 8 .5 8-2.5 8-4 8-3 8-9 8-14.5 8-14.5 8-15.5 8-8 8 1.5 8 9.5 8 10.5 8 4 8-.5 8-.5 8 2 8 2.5 8-.5 8-1.5 8-4.5 8-5 8-2.5 8-1 8 2 8 6 8 10 8 9 8 3.5 8 .5 8 1 8 4 8 4 8 0 8-2.5 8-.5 8 4.5 8 9 8 4.5 8 2.5 8 2.5 8 1.5 8-1.5 8 1 8 2 8-.5 8-1 8-1.5 8-4 8-8.5 8-8.5 8-6.5 8-3.5 8-.5 8 1.5 8 1.5 8 1 8 2 8 4 8 5 8 3.5 8 2 8 1 8 0 8-.5 8 .5 8 2.5 8 3.5 8 3.5 8 3 8 2.5 8 1.5 8 0 8-1.5 8-1.5 8-2.5 8-5 8-6 8-4 8 2 8 6.5 8 6 8 4 8 1.5 8-.5 8-2 8-5 8-7 8-7.5 8-2.5 8 3.5" stroke="#77ff00"/><path d="M100.5 366l8 0 8-3.5 8-9.5 8-9.5 8-7 8-2 8 2 8-.5 8-5.5 8-7.5 8-7.5 8-6 8-2.5 8 0 8 3 8 1 8-3 8-4.5 8 2 8 9.5 8 6 8 1.5 8-1.5 8-2 8-2 8-1.5 8 0 8 2 8 3.5 8 2.5 8 .5 8-2.5 8-3 8-4 8-5 8-4 8-7.5 8-8.5 8 1 8 9 8 6 8 4.5 8 .5 8-2 8 2 8 5.5 8 7 8 4.5 8 2.5 8 2 8 2.5 8 2 8 1.5 8 2.5 8 2.5 8 3 8 2.5 8 2.5 8-5.5 8-.5 8 3.5 8 3.5 8 1.5 8-1 8-2.5 8-6 8-6.5 8-3.5 8 1.5 8 4 8 0 8-1.5 8-6.5 8-7 8-4 8 .5 8 3 8 3.5 8 4.5 8 4.5 8 3.5 8 4 8 4.5 8 4 8 2 8 0 8-2 8-3.5 8-2.5 8-1 8 1.5 8 2.5 8 1.5 8 0 8-.5 8 1 8 2 8 2.5 8 1.5 8 .5 8 0 8 1 8 1.5 8 1.5 8-1.5 8-6 8-9.5 8-11" stroke="#4fff00"/><path d="M100.5 350l8 .5 8-6 8-11 8-12 8-5.5 8-1 8 0 8-2 8-5 8-6.5 8-4.5 8-2.5 8-1.5 8-1 8 6 8 13 8 11.5 8 6.5 8 1 8 0 8 1.5 8 1 8-2 8-6.5 8-8 8-4 8 1.5 8 3 8 1 8-1.5 8-3 8-2.5 8-3 8-6.5 8-10.5 8-12 8-11.5 8-9 8-6.5 8-4.5 8 2 8 7 8 9 8 12 8 17 8 17 8 14 8 7.5 8 .5 8-3 8-4.5 8-4 8-2 8 1 8 2.5 8 3.5 8 3.5 8 2 8 1 8 2 8 2.5 8 2 8 .5 8-.5 8-2.5 8-6.5 8-11.5 8-11.5 8-8.5 8-6.5 8-2 8 5.5 8 12.5 8 12.5 8 9 8 6 8 4.5 8 3.5 8 2.5 8 2 8 .5 8 1.5 8 1.5 8 0 8-1.5 8-1.5 8 .5 8 4 8 5 8 2 8-2 8-3 8-2 8-.5 8-2 8-2 8 .5 8 3 8 2.5 8-2.5 8-7.5 8-10 8-6 8 1.5 8 4.5 8 3.5 8 .5 8-2" stroke="#2eff00"/><path d="M100.5 292l8-1 8 1.5 8 .5 8-2.5 8-3.5 8 .5 8 4.5 8 4.5 8 2.5 8 .5 8-.5 8 1.5 8 4 8 4 8 2 8-.5 8-.5 8 2 8 4.5 8 3.5 8 0 8-4 8-5 8-5.5 8-7.5 8-9 8-10.5 8-13.5 8-13 8-6 8 1 8 4 8 1.5 8-8 8-10 8-1 8 8 8 7 8 2.5 8 0 8 4 8 6 8 3 8 .5 8 0 8 2 8 6.5 8 8 8 9 8 7.5 8 5.5 8 3.5 8 2 8 .5 8-1.5 8-1.5 8-.5 8 3 8 3.5 8 7 8 7.5 8 3 8-3.5 8-8 8-8 8-7 8-6 8-4 8-2 8-1.5 8 1.5 8 5 8 7.5 8 7 8 4.5 8 3.5 8 4 8 3.5 8 5 8 4 8 2.5 8 1 8 2 8 3.5 8 2 8-1.5 8-5 8-4 8 0 8 3.5 8 3.5 8 2.5 8 1 8 0 8-2 8-2.5 8-1.5 8 .5 8 2 8 0 8-2 8-3 8-3.5 8-3.5 8-3.5 8-2 8 1 8 3" stroke="#18ff00"/><path d="M100.5 308.5l8 3 8 1 8-5 8-9.5 8-11 8-7 8 .5 8 5 8 6.5 8 2 8-6.5 8-11.5 8-13 8-11 8-7.5 8-5 8-2 8-1.5 8 0 8 2.5 8 .5 8-3 8-5.5 8-6 8 7 8 18 8 9.5 8-.5 8-9 8-11 8-11 8-14 8-12 8-13.5 8-5 8 .5 8 8 8 2.5 8 3.5 8 8.5 8 7.5 8 8.5 8 11 8 12 8 9 8 7.5 8 9 8 5 8 .5 8 1 8 5 8 5.5 8 4 8 4 8 3 8 3.5 8 4 8 6.5 8 5.5 8 4.5 8 2.5 8 .5 8-3.5 8-7 8-6 8-3.5 8-4.5 8-2.5 8 1.5 8 3 8 2.5 8 3 8 5 8 6 8 4 8 1.5 8-1 8-2.5 8-1 8 .5 8 .5 8 0 8-2 8-1.5 8 3.5 8 7 8 6 8 2.5 8 0 8 1.5 8 2.5 8 2.5 8 0 8-5 8-7.5 8-6 8-1 8 3 8 5.5 8 4 8-2 8-9 8-12.5 8-9 8-1.5 8 3.5 8 4 8 1.5" stroke="#34ff00"/><path d="M100.5 358l8-6.5 8-5.5 8-6.5 8-7.5 8-7.5 8-6 8-7.5 8-10.5 8-9.5 8-6 8-3 8-.5 8 .5 8 0 8-.5 8 1.5 8 6.5 8 9 8 5.5 8 0 8-6 8-9 8-10.5 8-10 8-9.5 8-7 8-3 8 3.5 8 9.5 8 11 8 8 8 7.5 8 5.5 8 5.5 8 2 8-4.5 8-10 8-10 8-3.5 8 2 8 6.5 8 7.5 8 7 8 7.5 8 6.5 8 4 8 2 8-1 8-2.5 8-4.5 8-3 8 0 8 3 8 4 8 3 8 .5 8-1.5 8 0 8 4 8 8.5 8 8 8 3.5 8-.5 8-2.5 8-4 8-4 8-.5 8 3.5 8 3 8-1 8-3 8-.5 8 2.5 8 3 8 1.5 8 1.5 8 3 8 3 8 3.5 8 3.5 8 2.5 8 1 8-1.5 8-2 8-1.5 8-.5 8 .5 8 .5 8 .5 8-.5 8 .5 8 2 8 3.5 8 4 8 1 8 0 8 0 8-3.5 8-7.5 8-7 8-6.5 8-4.5 8-2.5 8-2 8-5.5 8-11.5 8-14 8-9" stroke="#00ff0f"/><path d="M100.5 309l8-19.5 8-13.5 8-2 8 6 8 5.5 8-.5 8-8 8-11.5 8-8 8-.5 8 4 8 5.5 8 5.5 8 6.5 8 8 8 13 8 13.5 8 9 8 4 8 1 8-1.5 8-5 8-6 8-5 8-2.5 8-4 8-7.5 8-10.5 8-7.5 8-5.5 8-7 8-5 8 7.5 8 13 8 3.5 8 .5 8-.5 8-1 8-2 8 0 8 4.5 8 9 8 10 8 7 8 2 8 2 8 8 8 10.5 8 2 8 0 8 0 8 .5 8-2 8-4.5 8-6.5 8-3 8 1 8 4 8 4 8 4.5 8 3 8 0 8-5 8-7.5 8-7.5 8-5.5 8-1.5 8 2.5 8 6 8 2.5 8-1.5 8-3.5 8-1 8 2.5 8 3.5 8 4 8 2.5 8 1.5 8 1.5 8 1.5 8 1 8 1.5 8 2 8 0 8-2 8-2 8 1 8 2.5 8 1 8-2 8-3 8-2.5 8-2 8-1 8 .5 8 2 8 1.5 8 1.5 8 2 8 3.5 8 4.5 8 2.5 8 1 8 .5 8-.5 8-2.5 8-2.5 8 0" stroke="#00ff1d"/><path d="M100.5 357l8 0 8 2.5 8 2.5 8 1 8-.5 8-2 8-2.5 8-5 8-11.5 8-16 8-14 8-9 8-3.5 8-1 8 1.5 8 4.5 8 4 8-2 8-5 8-2.5 8 3.5 8 6 8 4.5 8-.5 8-6 8-10 8-4.5 8 1 8-1.5 8-10.5 8-17.5 8-15 8 0 8 5 8 3.5 8 5 8 5 8 2.5 8 1.5 8 4.5 8 10.5 8 12.5 8 10.5 8 6.5 8 1 8-4 8-2 8 1 8 2 8 0 8-.5 8 1 8 3.5 8 3.5 8 3.5 8 2.5 8 2 8 2.5 8 3 8 6 8 4 8 0 8-4 8-4.5 8-2 8 0 8-1 8-.5 8 2 8 2.5 8 2 8 1 8 .5 8-1 8-2 8-.5 8 3 8 6 8 7 8 3.5 8 1 8-3.5 8-5 8-3 8 1 8 2 8 3 8 3 8 3.5 8 2 8 0 8-1.5 8-.5 8-.5 8 0 8-.5 8 1 8 2 8 .5 8-3 8-5.5 8-7 8-8 8-7 8-3.5 8-3.5 8-9 8-17.5" stroke="#00ff0c"/><path d="M100.5 340l8-.5 8-3 8-6.5 8-5 8-3.5 8-1 8 1 8 1 8-.5 8 0 8 0 8 .5 8 1 8 0 8-1 8 0 8 3 8 3 8-2 8-7.5 8-11.5 8-14.5 8-8.5 8 1 8 7 8 5.5 8 4 8 2.5 8 2.5 8 2.5 8 2.5 8 2 8 2 8-1.5 8-5 8-6 8-5.5 8-3.5 8-1 8 4 8 5 8-1 8-9.5 8-16 8-11 8 2.5 8 12.5 8 11.5 8 6 8 2 8 2.5 8 6.5 8 8.5 8 7 8 4 8-.5 8-.5 8 .5 8 1.5 8 2.5 8 2 8 0 8-5 8-6.5 8-4 8-2.5 8-3.5 8-1 8 3.5 8 5 8 2 8-2 8-2.5 8 0 8 2 8 3.5 8 4 8 3 8 3 8 1.5 8-1 8-4.5 8-5 8 0 8 3 8 2.5 8-1.5 8-2 8 1 8 4.5 8 6.5 8 7 8 7 8 6.5 8 2.5 8-1.5 8-5 8-5 8-3 8-2.5 8-4 8-5 8-6 8-4.5 8-2.5 8-3 8-4 8-6.5" stroke="#0dff00"/><path d="M100.5 348.5l8-10.5 8-11 8-1.5 8 9 8 6 8 0 8-7.5 8-13.5 8-13.5 8-4 8 1.5 8-1 8-7 8-10.5 8-4.5 8 3 8 .5 8-8 8-11.5 8-5 8 2 8 3 8 0 8-.5 8 4.5 8 11.5 8 13 8 7 8-1 8-8.5 8-14 8-19.5 8-16.5 8-5 8 10.5 8 17 8 10 8 4.5 8 .5 8-2 8-2.5 8-6 8-8 8-6.5 8-4 8 3 8 10 8 8.5 8 5 8 4 8 5.5 8 8 8 7.5 8 4 8 3 8 4.5 8 7 8 8 8 8 8 8 8 4.5 8 1.5 8-1 8-3 8-5 8-7 8-9.5 8-9.5 8-6.5 8-4.5 8-2 8 1.5 8 5 8 5 8 3.5 8 3 8 3 8 2.5 8 3.5 8 3 8 1.5 8 .5 8 1.5 8 2.5 8 4 8 6 8 5.5 8 2.5 8-1 8-4 8-3.5 8 0 8 1.5 8-1 8-4 8-6 8-3 8-1 8-1 8-.5 8 2 8 6 8 5 8 2.5 8-.5 8-3 8-4.5 8-6.5" stroke="#02ff00"/><path d="M100.5 322l8-14 8-7 8-1 8 1.5 8 2 8 0 8-5.5 8-10 8-7.5 8-.5 8-1.5 8-7.5 8-11.5 8-10.5 8-3.5 8 7 8 16.5 8 20.5 8 19.5 8 11.5 8 3.5 8-3 8-6.5 8-6.5 8-5 8-2 8 .5 8 1.5 8 1 8 .5 8 0 8-.5 8-.5 8-6 8-14 8-22.5 8-21 8-8.5 8-1.5 8 5.5 8 9 8 10.5 8 11.5 8 12 8 9 8 8 8 9 8 7.5 8 4.5 8 .5 8 .5 8 3.5 8 6 8 6 8 3.5 8 2.5 8 4 8 4 8 2 8 0 8-.5 8-.5 8-1 8-.5 8-1.5 8-4 8-7 8-5.5 8-2 8-.5 8 0 8 .5 8 3 8 5.5 8 6.5 8 6.5 8 2.5 8 2 8-.5 8-3 8-1 8 1 8 1 8-.5 8-1 8-.5 8 1 8 1 8 1.5 8 1 8 .5 8 0 8-1 8-3.5 8-4.5 8-4 8-1.5 8 2 8 4.5 8 7.5 8 7.5 8 2 8-1.5 8-9.5 8-12 8-8.5 8-3 8 1.5" stroke="#00ff43"/><path d="M100.5 349l8-1 8-1 8-4 8-6.5 8-7 8-.5 8 4 8 .5 8-6.5 8-13 8-15.5 8-8.5 8 0 8 2.5 8-.5 8-4 8-3.5 8 0 8 4.5 8 5.5 8 2.5 8 1.5 8 5 8 7.5 8 4.5 8-.5 8-7 8-15.5 8-22 8-11 8 5 8 14.5 8 10.5 8-4 8-13 8-14 8 0 8 13 8 17.5 8 12 8 4.5 8-2 8-9 8-3 8 2 8 4.5 8 4 8 3.5 8 3.5 8 1.5 8 .5 8 2 8 5 8 6.5 8 7.5 8 6 8 2 8-3 8-4.5 8-1 8 1.5 8 1.5 8 0 8 0 8 2 8 .5 8-2 8-3 8-.5 8 0 8 0 8-1 8-2 8-1.5 8 0 8 3 8 3 8 1.5 8 1 8-.5 8-1 8-2.5 8-3.5 8-3.5 8-2 8-1.5 8-1 8-1 8-2 8-2.5 8-1.5 8 0 8 2 8 4.5 8 7 8 7.5 8 7.5 8 4 8 .5 8-1.5 8-.5 8 2.5 8 4.5 8 5.5 8 2.5 8-4.5 8-10.5 8-9.5" stroke="#00ff44"/><path d="M100.5 337l8 1.5 8-1.5 8-1.5 8 0 8-1 8-3.5 8-7 8-9.5 8-7 8 0 8 3.5 8 2.5 8 .5 8-5 8-9.5 8-6.5 8 4.5 8 13.5 8 11 8 4.5 8-3 8-6 8-8.5 8-14.5 8-15 8-8.5 8-1 8 7 8 9.5 8 8 8 2 8-4 8-6 8-8.5 8-12 8-16 8-13 8-6.5 8-1 8 6 8 11 8 14.5 8 14 8 12.5 8 8.5 8 5.5 8 3.5 8 1.5 8 .5 8 .5 8 1.5 8 1.5 8 1 8-1 8-2 8-1.5 8 0 8 2.5 8 5.5 8 8.5 8 7 8 3.5 8-1 8-2 8-1 8-1.5 8-3 8-2.5 8 0 8 2.5 8 4 8 4.5 8 4 8 2 8 1 8 1 8 3 8 3.5 8 1.5 8-1 8-4 8-5.5 8-5 8-2.5 8 2 8 4 8 4.5 8 4.5 8 3.5 8 1 8-2 8-3.5 8-1.5 8 0 8 0 8 0 8-1 8-1 8-1 8-1 8-1 8-1.5 8-2.5 8-3 8-3 8-1 8 4.5 8 8.5" stroke="#00ff40"/><path d="M100.5 345.5l8 6.5 8 4.5 8 .5 8-5.5 8-8 8-7.5 8-7.5 8-10.5 8-12 8-7.5 8-2 8 3.5 8 5.5 8 .5 8-8 8-14 8-11.5 8-6 8 1.5 8 6.5 8 6 8-1.5 8-7.5 8-9 8-1.5 8 8.5 8 13.5 8 14.5 8 7.5 8 3 8-3.5 8-8.5 8-9.5 8-7.5 8-5.5 8-8.5 8-10.5 8-6 8-1.5 8 4.5 8 8.5 8 10.5 8 11.5 8 10.5 8 6 8-.5 8-2.5 8 0 8 2.5 8 2 8 2 8 2.5 8 4 8 5.5 8 6.5 8 9.5 8 12 8 9 8 1.5 8 1 8-2 8-3 8-3.5 8-2 8-1 8-1.5 8-3 8-2 8 1 8 2 8 1 8-1 8-1 8-1 8 .5 8 3.5 8 5 8 4 8 1.5 8-1 8-3 8-3 8-1.5 8 .5 8 .5 8-.5 8-.5 8 1.5 8 3.5 8 3.5 8 .5 8-2 8-3 8-2 8-1 8-.5 8 0 8 2.5 8 4 8 3.5 8 .5 8-2.5 8-4 8-1.5 8 3 8 5 8 1 8-7" stroke="#00ff3e"/><path d="M100.5 346l8 2.5 8 2 8 3 8 3.5 8 2.5 8 1 8-2.5 8-5 8-6 8-8.5 8-8 8-2 8 6 8 2 8 3 8 2.5 8-8 8-16.5 8-13 8-6.5 8-3 8-2 8 1 8 6 8 7.5 8 6.5 8 4 8-1.5 8-6 8-6.5 8-7 8-8.5 8-8 8-5 8-.5 8 .5 8 2.5 8 3.5 8 3 8 .5 8-1 8-.5 8 4.5 8 12 8 16.5 8 13.5 8 4 8-7 8-11 8-6.5 8 .5 8 5 8 6.5 8 7 8 4.5 8 0 8-2 8 .5 8 5 8 7 8 6 8 3 8 1 8-1.5 8-5 8-8.5 8-10 8-6.5 8-1 8 2 8 2 8 0 8-.5 8-.5 8 .5 8 1.5 8 3 8 2.5 8 1.5 8-.5 8-1.5 8 .5 8 1.5 8 2.5 8 .5 8-.5 8-1 8-1.5 8 0 8 4 8 6 8 3.5 8 1 8-1 8-2 8-2 8 0 8 1 8 0 8-3 8-4.5 8-4.5 8-3.5 8-1.5 8 1.5 8 3 8 3.5 8 1.5" stroke="#00ff7e"/><path d="M100.5 353.5l8-6 8-8 8-3 8 1 8 .5 8-3 8-8 8-11 8-4.5 8 6 8 8.5 8 8.5 8 0 8 2 8 3 8-7 8-6.5 8-.5 8 3.5 8 1.5 8-3.5 8-5.5 8-4 8-1.5 8-.5 8 1 8 3.5 8 5.5 8 1 8-1 8-12 8-20 8-35.5 8-27.5 8-10.5 8 6 8 13 8 11 8 9 8 9.5 8 11 8 9.5 8 5 8 4.5 8 6.5 8 9.5 8 9.5 8 5.5 8 2 8 1.5 8 1.5 8-.5 8-2.5 8-3 8-1.5 8 1 8 4.5 8 6 8 5.5 8 4.5 8 2.5 8-1 8-3 8-4 8-2.5 8-1.5 8-3 8-2.5 8-.5 8 0 8 .5 8 .5 8 2 8 2.5 8 4 8 5.5 8 2.5 8 2 8 2 8 1.5 8 1 8 .5 8-4 8-2 8 3 8 5 8 .5 8 0 8-1 8-4 8-2.5 8-1.5 8-2 8-2 8-3.5 8-3.5 8-3.5 8-3.5 8-4 8-5 8-6 8-4.5 8-2.5 8-1.5 8 0 8 0 8 .5 8-1" stroke="#00ff7c"/><path d="M100.5 366.5l8 0 8-9 8-8 8-2 8 5 8 8 8-2.5 8-5 8-6 8-8 8-7.5 8-5 8-2.5 8-2.5 8-3.5 8-3.5 8-1.5 8 0 8 1 8 2.5 8 2.5 8-.5 8-4 8-7 8-9.5 8-2.5 8 3.5 8 3 8 1.5 8 1.5 8 2 8 2.5 8 1 8-5.5 8-9.5 8-8.5 8-3.5 8-2.5 8-1 8 5 8 10 8 9 8 6.5 8 7.5 8 7.5 8 4.5 8-1 8-6 8-4.5 8-.5 8 1.5 8 2.5 8 3.5 8 4.5 8 6 8 6 8 4.5 8 3 8 1.5 8 1 8 0 8 .5 8-.5 8-2.5 8-2.5 8-.5 8-1.5 8-2.5 8-1.5 8-1 8-.5 8 .5 8 1.5 8-4 8-1.5 8 3.5 8 5 8 4.5 8 3.5 8 1.5 8-1.5 8-2.5 8-1.5 8 .5 8 .5 8-.5 8-1.5 8-.5 8 2.5 8 5 8 4 8 0 8-4.5 8-7.5 8-6.5 8-4 8 0 8 5 8 8.5 8 11 8 1 8 .5 8 1 8 1 8 .5 8-1 8-3.5 8-3" stroke="#00ff9a"/><path d="M100.5 336.5l8-6.5 8-8.5 8-12 8-14.5 8-13 8-7 8 0 8 5 8 8.5 8 7.5 8 2 8-1.5 8-3.5 8-4 8-3.5 8-4 8-4.5 8-2 8 4 8 12 8 14.5 8 11 8 7 8 5 8-1.5 8-6 8-7.5 8-7.5 8-8.5 8-15.5 8-16.5 8-16.5 8-13 8-10.5 8-4.5 8 3 8 4.5 8-1.5 8-2 8 10.5 8 20 8 18 8 4 8-7.5 8-11 8-6 8 4.5 8 10 8 12.5 8 13 8 11 8 6.5 8 3 8 1 8 1 8 1.5 8 3 8 4 8 4.5 8 4.5 8 3.5 8 .5 8-4 8-5.5 8-4 8 0 8 .5 8-1.5 8-2.5 8-2 8 0 8 1.5 8 2 8 2 8 1.5 8 2.5 8 2.5 8 3 8 2 8 1.5 8 0 8-.5 8-1 8-.5 8 1 8 3 8 3 8 1 8-1.5 8-1 8 1.5 8 .5 8-3.5 8-7 8-6.5 8-3.5 8 1 8 2 8 .5 8-1.5 8-.5 8 2 8 1.5 8-1.5 8-5.5 8-7.5 8-6.5 8-2" stroke="#00ffa5"/><path d="M100.5 297l8 0 8 6.5 8 10.5 8 9.5 8 3 8-6.5 8-14.5 8-17.5 8-11.5 8 0 8 6.5 8 6 8 3.5 8 1 8-.5 8 3 8 9 8 9.5 8 4.5 8-2 8-6.5 8-10.5 8-9 8-4.5 8-1 8 2 8 4 8 2.5 8-5 8-12 8-14 8-11 8 0 8 5 8 8 8 8 8 5.5 8 5.5 8 3 8 3 8 2.5 8 2 8 1 8 1 8 2.5 8 3.5 8 4 8 4 8 5 8 6.5 8 6.5 8 4 8 1.5 8-.5 8-3 8-3.5 8-1 8 .5 8 2.5 8 5.5 8 6.5 8 3.5 8-1 8-3.5 8-5.5 8-5.5 8-6 8-4.5 8-2.5 8-.5 8 .5 8 2.5 8 3 8 2.5 8 2 8 1.5 8 2.5 8 2.5 8 2 8 .5 8-1 8-2 8-1.5 8-1 8 .5 8 1 8 1.5 8 .5 8 1.5 8 1.5 8-1 8-4 8-5 8-3.5 8-.5 8 2 8 2.5 8 2 8 .5 8 .5 8 2.5 8 4 8 3 8 0 8-2 8-3.5 8-3.5 8-4.5" stroke="#00ffab"/><path d="M100.5 365l8 0 8 0 8 0 8 0 8 0 8 0 8-1 8-4.5 8-5 8-4.5 8-5 8-4 8-.5 8 3 8 5 8 4.5 8 4 8 2.5 8-1 8-5 8-6.5 8-5 8-2.5 8-3 8-3 8-1.5 8-1 8-.5 8-2 8-4.5 8-5.5 8-6.5 8-6.5 8-4.5 8-2.5 8-3 8-6 8-10 8-7.5 8-3.5 8 2.5 8 8.5 8 12 8 12.5 8 7 8 1 8 .5 8 2.5 8 5 8 3.5 8 1.5 8 0 8-2 8-4 8-3.5 8 0 8 2 8 2.5 8 2.5 8 5 8 5 8 2 8-2.5 8-6 8-5 8-4.5 8-4 8-2 8 1 8 1.5 8 2 8 1.5 8 .5 8-1 8-2.5 8 1.5 8 3.5 8 3 8 2 8 1.5 8 0 8-1.5 8 1.5 8 2 8 1.5 8 1.5 8 2.5 8 5 8 6 8 4.5 8 2 8 0 8 1 8 1 8-1 8-3 8-4 8-2 8-1 8-2.5 8-5 8-6.5 8-5 8-3 8-1.5 8-1.5 8-2.5 8-2" stroke="#00f9ff"/><path d="M100.5 338l8 2 8 3 8 3 8 0 8-1.5 8-.5 8 3 8 3.5 8-3.5 8-4.5 8-10 8-8.5 8 2 8 10.5 8 3 8 2.5 8 3 8 2.5 8 .5 8-4 8-6 8-4.5 8-2.5 8-3.5 8-5 8-5.5 8-3 8 1.5 8 3.5 8 2.5 8 .5 8-.5 8-3 8-4 8-5 8-10 8-13.5 8-7.5 8 1 8 8 8 8 8 4 8 2.5 8 3.5 8 3 8-.5 8-3 8-1 8 4.5 8 7 8 5 8 3 8 3 8 5 8 7 8 6 8 4 8 2 8 1 8 0 8 .5 8 .5 8 .5 8-.5 8-1.5 8-2.5 8-3.5 8-2.5 8-1.5 8-1 8-6.5 8-6 8-1 8 4 8 6 8 6.5 8 5.5 8 4 8 2 8 1 8-3 8-5 8-3.5 8-.5 8 1.5 8 .5 8-2 8-5.5 8-3.5 8 1.5 8 7 8 5 8 2.5 8 1 8 2 8 2 8 1.5 8 0 8 2 8 2 8-.5 8-4 8-3 8 1.5 8 6 8 3 8-1 8-4" stroke="#00ff9b"/><path d="M100.5 308.5l8 5.5 8 8 8 8 8 2 8-5.5 8-7 8-4.5 8-4.5 8-7 8-11.5 8-13 8-7 8-1.5 8-1.5 8-6.5 8-5.5 8 5.5 8 16.5 8 16 8 8 8 1 8-1.5 8-2.5 8-4 8-6 8-2 8 4 8 6.5 8 1.5 8-2.5 8-7 8-8 8-6 8-5 8-2.5 8-1 8-2 8-1 8 2.5 8 5.5 8 9.5 8 6.5 8 2.5 8 2 8 2.5 8 1.5 8-1 8-4 8-5 8-2 8 1.5 8 5.5 8 7 8 5.5 8 3.5 8 2 8 1.5 8 3.5 8 5.5 8 7.5 8 5.5 8 2 8-1.5 8-3 8-4 8-9 8-11 8-7.5 8-1.5 8 2 8 3.5 8 4 8 5 8 5.5 8 4 8 3.5 8 3.5 8 2 8 1 8 .5 8-.5 8 1 8 3 8 2 8-1.5 8-5 8-7 8-5.5 8-3.5 8-4.5 8-3.5 8-.5 8 0 8 .5 8 3.5 8 5.5 8 4.5 8-1 8-6 8-7 8-3.5 8 1 8 5.5 8 5 8 .5 8-4 8-4 8-1" stroke="#00ffaf"/><path d="M100.5 366l8 0 8 0 8 0 8 0 8 0 8 0 8 0 8-3.5 8-7 8-6 8-5.5 8-4 8-1 8 2.5 8 3.5 8 3 8 3 8 1 8-2 8-4 8-4.5 8-3 8-1.5 8-2.5 8-3 8-2 8-1.5 8-1 8-.5 8-.5 8-2 8-4 8-7.5 8-12.5 8-13 8-12 8-11.5 8-7 8 1.5 8 11.5 8 17.5 8 15 8 8 8 1 8 0 8 4 8 8 8 6 8 3 8 0 8-2 8-3 8-2.5 8-2.5 8-1.5 8 0 8 1.5 8 3 8 3.5 8 5 8 5 8 3.5 8 2 8 1 8-1 8-6 8-9 8-7.5 8-3 8 .5 8 2.5 8 3 8 4.5 8 3 8 .5 8-1.5 8 0 8 1.5 8 3.5 8 4 8 3 8 3 8 2.5 8 2 8 .5 8 0 8-.5 8-3 8-3.5 8-1 8 2 8 3.5 8 2.5 8 2.5 8 2 8 2.5 8 2 8 1 8 0 8 0 8 .5 8 1 8 1.5 8 1 8-2 8-5.5 8-7 8-4.5" stroke="#00fbff"/><path d="M100.5 365.5l8 0 8 0 8 0 8 0 8-1.5 8-1.5 8-2 8-4 8-4.5 8-4 8-4.5 8-3 8-.5 8 2.5 8 4 8 3.5 8 4 8 2.5 8 0 8-3 8-4.5 8-3 8-2 8-3.5 8-3.5 8-2.5 8-2 8-1 8-2 8-2 8-1 8-.5 8-2.5 8-3.5 8-5 8-4.5 8-4 8-10.5 8-8 8-5 8-4.5 8 1 8 11.5 8 21.5 8 15.5 8 4.5 8 1.5 8-6.5 8-3 8 .5 8 3 8 3.5 8 2 8 2 8 1.5 8 1 8 1 8 2.5 8 4 8 4.5 8 3 8 2 8-.5 8-1 8-1 8-2.5 8-3.5 8-2.5 8-1.5 8-5 8-1 8 4 8 2.5 8 2 8-1 8-7 8-5 8 .5 8 7 8 10 8 7 8 1.5 8-3 8-4 8-2.5 8-1 8-.5 8 0 8 1.5 8 2.5 8 1.5 8-1 8-3.5 8-4.5 8-5 8-.5 8 5 8 7.5 8 6 8 2.5 8-1 8-4 8-5.5 8-6 8-1.5 8 3.5 8 5.5 8 4" stroke="#00fff2"/><path d="M100.5 366l8 0 8 0 8 0 8 0 8 0 8 0 8 0 8-1 8-6.5 8-5 8-5 8-3.5 8 0 8 3 8 3.5 8 3 8 3 8 2.5 8-.5 8-4 8-5 8-3.5 8-1 8-2.5 8-1.5 8-.5 8-1 8-1 8-2 8-3 8-2.5 8-2.5 8-3 8-4.5 8-5.5 8-4.5 8-2.5 8-5 8-3.5 8 2.5 8 4.5 8 4.5 8 4.5 8 6 8 5 8 4.5 8 4 8 1 8-6 8-4.5 8-.5 8 3 8 5.5 8 5 8 1.5 8-1 8 0 8 3.5 8 5.5 8 3.5 8 .5 8-2 8-3.5 8-4.5 8-4 8-2 8 .5 8 3 8 1.5 8-1 8-.5 8 .5 8 1.5 8 2 8 2 8 2.5 8 2.5 8 2 8-.5 8-1.5 8-1.5 8-1 8 0 8 1.5 8 2 8 2 8 3 8 3.5 8 .5 8 0 8 0 8 0 8 0 8 0 8 0 8 0 8 0 8 0 8 .5 8 0 8 .5 8 .5 8 1.5 8 1 8 0 8 0 8 0 8-.5" stroke="#00ffd1"/><path d="M100.5 365l8 0 8 0 8 0 8 0 8 0 8 0 8 0 8-2.5 8-6 8-5 8-5 8-3.5 8 .5 8 3 8 4 8 4 8 3 8 2 8-2 8-5 8-5.5 8-3 8-1.5 8-2 8-3 8-3 8-2.5 8-2 8-1.5 8-2 8-2 8-4 8-4.5 8-4 8-1.5 8-2 8-1.5 8-3 8-3 8 2.5 8 4.5 8 4.5 8 4.5 8 6 8 5 8 4.5 8 4 8 1.5 8 0 8 0 8-.5 8 .5 8 1.5 8 2.5 8 3 8 .5 8 1.5 8 2 8 1 8 0 8 .5 8 .5 8-1.5 8-2.5 8-1.5 8 1 8 0 8-2.5 8-1.5 8-1 8-6 8-5 8-.5 8 3 8 5.5 8 6 8 4 8 1.5 8-1 8-2 8-1 8 .5 8 1 8 1 8 .5 8 1 8 1.5 8 3 8 2.5 8 .5 8-.5 8 0 8 1.5 8-.5 8-3.5 8-2.5 8 1 8 3 8 1.5 8-2.5 8-4.5 8-4.5 8-4.5 8-3.5 8 0 8 5 8 7.5 8 5" stroke="#00efff"/><path d="M100.5 366l8 0 8 0 8 0 8 0 8 0 8 0 8-2 8-5 8-5.5 8-5 8-5 8-3.5 8-1 8 2.5 8 3.5 8 3.5 8 3.5 8 3 8 0 8-3.5 8-4.5 8-3.5 8-1.5 8-3 8-2.5 8-1 8-1.5 8-1.5 8-2.5 8-3.5 8-4 8-6 8-5.5 8-5.5 8-6.5 8-5.5 8-1 8 2.5 8 1 8-2.5 8-6.5 8-4 8 2 8 9 8 12 8 13 8 13 8 6 8 0 8-.5 8-2 8-.5 8 1.5 8 4 8 4.5 8 2.5 8 3 8 2.5 8 1 8-1.5 8-1 8 0 8 .5 8 .5 8-.5 8-2 8-3.5 8-2.5 8-1.5 8-1 8-.5 8 .5 8-.5 8-.5 8-1 8 .5 8 4 8 6 8 5.5 8 1.5 8 1 8 1 8 1 8 .5 8 0 8 .5 8 .5 8 0 8 .5 8-.5 8-.5 8 1 8 0 8 0 8 0 8 0 8 0 8 0 8 .5 8 0 8 .5 8 .5 8 1.5 8 1 8 0 8 0 8 0 8-.5" stroke="#00eeff"/><path d="M100.5 366.5l8 0 8-6 8-5.5 8-1 8 0 8 0 8-1 8-4 8-5 8-6 8-10 8-11.5 8-5.5 8 3 8 7 8 3.5 8-4.5 8-11 8-12.5 8-5.5 8-2 8-3.5 8-8.5 8-8.5 8 2.5 8 16 8 17.5 8 9.5 8 2 8-3 8-4.5 8-6 8-8.5 8-13.5 8-18 8-4.5 8 11 8 18 8 11.5 8 2.5 8 3 8-6 8-2.5 8 4.5 8 11.5 8 11 8 7 8 1 8 .5 8 .5 8 .5 8-1 8-1.5 8-1 8-2 8-2 8 .5 8 2.5 8 4.5 8 6 8 5 8 1.5 8-2 8-4 8-4 8-2 8-1.5 8-2 8-3.5 8-4 8-3 8 0 8 1.5 8 2 8 2.5 8 3 8 2.5 8 2.5 8 3 8 2 8 0 8 1 8 4.5 8 6.5 8 6.5 8 3.5 8 .5 8 0 8-3.5 8-6.5 8-3.5 8 2.5 8 4.5 8 2 8-1 8-1.5 8-2 8-1.5 8-.5 8 2.5 8 3.5 8 2.5 8 .5 8-3.5 8-6.5 8-7.5 8-5 8-1.5" stroke="#00e4ff"/><path d="M100.5 356l8-1.5 8-3.5 8-5 8-5.5 8-5 8-5.5 8-9 8-15 8-13.5 8-5.5 8 2 8 2.5 8 0 8-6 8-11.5 8-12.5 8-7 8 3.5 8 15 8 22 8 20 8 8 8 2 8-5 8-10.5 8-9.5 8-2.5 8 4.5 8 5 8 3 8 1 8-3 8-9.5 8-17.5 8-25.5 8-7 8 7.5 8 10.5 8 7.5 8 6 8 10 8 10 8 7.5 8 3.5 8 0 8-2 8-3 8-3 8 0 8 3 8 6 8 5.5 8 4 8 2.5 8 1 8 .5 8 2.5 8 3.5 8 6 8 5 8 3 8-.5 8-3 8-4 8-3.5 8-2.5 8-3 8-2.5 8-1.5 8-1.5 8-1.5 8-.5 8 2.5 8 5 8 4 8 2 8 1.5 8 2 8 3.5 8 2 8-2.5 8-5 8-5 8-2 8 1.5 8 3 8 1.5 8-1.5 8-3 8-4 8-5.5 8-5.5 8-5 8-2.5 8-.5 8 3 8 6.5 8 6.5 8 4 8 1.5 8 2.5 8 4 8 2 8 0 8 2 8 3 8-1 8-4" stroke="#00cbff"/><path d="M100.5 366l8 0 8 0 8 0 8 0 8 0 8 0 8-2.5 8-6.5 8-7 8-6 8-5 8-3.5 8 0 8 2 8 3.5 8 3 8 3 8 3 8 1 8-2.5 8-4.5 8-3.5 8-2 8-1.5 8-2 8-.5 8-1.5 8-.5 8-1.5 8-3 8-3 8-5 8-8 8-13 8-15.5 8-18.5 8-19 8-11.5 8-4 8 7.5 8 11.5 8 13.5 8 11 8 3.5 8-4.5 8-3.5 8 5 8 10 8 11 8 8.5 8 5.5 8 4 8 5 8 6.5 8 5.5 8 3 8-1 8-1.5 8 0 8 4.5 8 5 8 3.5 8 0 8-2 8-3 8-3 8-2.5 8-.5 8-1.5 8-2 8-.5 8 0 8-2 8-3 8-2 8 1 8 2.5 8 3 8 4.5 8 7.5 8 8.5 8 5.5 8 2 8-1 8-1.5 8-1 8-2 8-2.5 8-5 8-7.5 8-7 8-5.5 8-1 8 3 8 7 8 7.5 8 4.5 8-.5 8-5.5 8-7.5 8-6.5 8-3 8 0 8 4 8 6.5 8 8 8 7.5 8 4.5" stroke="#00ffee"/><path d="M100.5 349.5l8 3.5 8 2.5 8-2.5 8-6.5 8-7 8-3 8-1.5 8-3.5 8-7 8-10.5 8-16.5 8-15 8-12 8-4.5 8 9.5 8 20 8 17 8 9 8 5.5 8 2 8-4 8-11 8-19 8-8.5 8 3.5 8 5 8-.5 8-4.5 8-3.5 8-.5 8 0 8-3 8-3.5 8-1 8 1 8 3 8 2 8-3 8-3.5 8 1.5 8 5.5 8 1.5 8-2 8 1 8 13 8 18.5 8 14 8 3 8-4.5 8-3.5 8 0 8 3 8 4.5 8 4.5 8 2.5 8 .5 8-1.5 8-1.5 8 0 8 4 8 4.5 8 1.5 8-3.5 8-6.5 8-7 8-5 8-4 8-1.5 8 1 8 0 8-4 8-5.5 8-2 8 3 8 5.5 8 5.5 8 4 8 2.5 8 3.5 8 2.5 8 0 8-2 8-2 8 0 8 .5 8 0 8 .5 8 3.5 8 6.5 8 6 8 4 8 1 8-2.5 8-4.5 8-3.5 8-1 8-.5 8-1.5 8-3 8-2.5 8-2.5 8-5 8-8 8-8 8-7.5 8-7.5 8-2.5 8 6.5" stroke="#00e9ff"/><path d="M100.5 323l8 8.5 8 4.5 8 1.5 8 0 8-1.5 8-5 8-12.5 8-17 8-13 8-5.5 8-1.5 8 3 8 5 8 4.5 8 2.5 8 2.5 8 5 8 5.5 8 1 8-2.5 8-1 8 3 8 3 8 0 8-4.5 8-6.5 8-3 8-.5 8 .5 8 2 8 4.5 8 5 8 2.5 8-4 8-10 8-13 8-14 8-10 8-1 8 6 8 9 8 6.5 8 5.5 8 6 8 6 8 4.5 8 4 8 1 8-1 8-.5 8 .5 8 2 8 2 8 3 8 3.5 8 3 8 2 8 1 8 2 8 4 8 3 8 0 8-4 8-5 8-3.5 8-2 8-2 8-.5 8-.5 8-1.5 8-.5 8 2.5 8 5.5 8 6 8 3.5 8 1.5 8 0 8 0 8 1.5 8 1.5 8 .5 8 0 8 0 8-1.5 8-3 8-2.5 8 1 8 5.5 8 9 8 7.5 8 4.5 8 1 8 .5 8 0 8-.5 8-3.5 8-5 8-3.5 8 0 8 2.5 8 3 8 2.5 8 1 8 0 8-.5 8-.5 8-2 8-2.5" stroke="#00ceff"/><path d="M100.5 316l8-6 8-4 8 1 8 .5 8-5 8-7.5 8 0 8 9.5 8 14.5 8 8.5 8 1 8-3.5 8-4 8-4 8-4 8-3 8 .5 8 3.5 8 2.5 8-2.5 8-11.5 8-14 8-7 8 2 8 8.5 8 9.5 8 8 8 6 8-2 8-12.5 8-28.5 8-37 8-24.5 8-6.5 8 4 8 9 8 13 8 10.5 8 7 8 6 8 7.5 8 8 8 3 8-.5 8 .5 8 5 8 7.5 8 3.5 8-1 8-2.5 8-.5 8 4.5 8 10 8 10.5 8 7.5 8 2 8-1 8-2 8 0 8 4.5 8 6 8 4 8 0 8-2.5 8-3 8-5.5 8-8 8-6 8-2 8 0 8 .5 8 0 8 1.5 8 3 8 6 8 8 8 8.5 8 6 8 3.5 8 1 8-.5 8-1.5 8-.5 8 1 8 .5 8-2 8-3.5 8-4 8-3.5 8-2.5 8 .5 8 2.5 8 2.5 8 1.5 8 1.5 8 3 8 4.5 8 3.5 8 1 8-.5 8-2 8-3.5 8-5 8-4 8-2.5 8 0 8 1 8 2" stroke="#00a2ff"/><path d="M100.5 272.5l8 0 8-1 8 13.5 8 10 8 4.5 8-1 8-2.5 8-3 8-4 8-7.5 8-8.5 8-3.5 8 3.5 8 10 8 10.5 8 9.5 8 7.5 8 2 8-7.5 8-11 8-9 8-8 8-7 8 .5 8 13.5 8 16.5 8 5.5 8-1 8-2.5 8 .5 8 .5 8-5 8-10.5 8-12.5 8-3 8 1 8-5 8-12 8-11 8 3 8 17 8 15 8 8.5 8 8 8 9 8 4.5 8-1.5 8-3.5 8-1.5 8 1.5 8 2.5 8 2 8 2 8 2.5 8 3.5 8 3.5 8 2.5 8 2 8 2 8 3.5 8 4 8 2 8 .5 8-.5 8-5 8-11.5 8-12 8-6 8 1 8 3.5 8 4 8 5 8 4.5 8 2 8 1 8 2.5 8 5.5 8 4 8 1.5 8-2 8-4 8-2 8 3 8 6.5 8 3.5 8-1.5 8-3.5 8-2 8-2.5 8-5 8-6 8-1.5 8 4 8 6.5 8 3.5 8-2.5 8-6 8-5.5 8-5 8-3.5 8-2.5 8 3 8 9.5 8 12 8 11.5 8 4 8-8 8-13" stroke="#0081ff"/><path d="M100.5 293l8 3 8 5.5 8 2.5 8-2.5 8-5.5 8-3.5 8-.5 8-1.5 8-1.5 8-.5 8-.5 8-2 8-5 8-7.5 8-5 8 3 8 9.5 8 9 8 1 8-4.5 8-5.5 8-5 8-.5 8 5 8 7 8 3 8-1 8 0 8 4.5 8 5 8 .5 8-6 8-12.5 8-19 8-16 8-6.5 8 2.5 8 7.5 8 10 8 9 8 9.5 8 4.5 8-4 8-9.5 8-6.5 8-2 8 4 8 5 8 4.5 8 4.5 8 4.5 8 4.5 8 4 8 4.5 8 6.5 8 7 8 6.5 8 6 8 6.5 8 7.5 8 5.5 8 1.5 8-3.5 8-6 8-7.5 8-7 8-5 8-1 8 0 8-3 8-5 8-4 8 1 8 5 8 5 8 5 8 2.5 8-.5 8-1.5 8 .5 8-1 8 0 8 2 8 1 8-2 8-4 8-4.5 8-1 8-.5 8 1.5 8 4.5 8 4.5 8 4 8 2 8-3 8-6.5 8-6 8-2.5 8-.5 8 0 8 .5 8 0 8-1.5 8-2 8-.5 8 .5 8 .5 8-1.5" stroke="#0082ff"/><path d="M100.5 309l8 .5 8 5 8 6.5 8 3 8-3.5 8-9 8-11.5 8-12 8-10 8-8.5 8-9.5 8-11.5 8-4 8-4.5 8-4.5 8 2 8 15.5 8 14.5 8 8.5 8 2.5 8-2 8-6 8-9 8-7.5 8-1.5 8 7 8 7.5 8 4 8-.5 8-3 8-2.5 8-3 8-.5 8-3.5 8-10 8-16.5 8-17 8-15 8-5.5 8 13.5 8 22 8 20.5 8 14.5 8 8.5 8 4.5 8 3 8 4.5 8 3.5 8 3.5 8 4.5 8 7 8 8 8 6 8 1.5 8-1 8-1 8 1 8 4 8 7.5 8 8.5 8 5 8 0 8-5 8-7 8-6 8-4 8-4 8-4.5 8-4 8-3.5 8 1 8 4.5 8 5 8 2.5 8 2 8 4.5 8 6.5 8 6 8 3.5 8 0 8-2.5 8-3.5 8-1.5 8 1.5 8 4 8 2.5 8-1.5 8-6.5 8-8.5 8-5.5 8-2.5 8-2 8-2 8-1 8 0 8 1.5 8 2 8 3 8 3 8 2.5 8 2 8 .5 8 .5 8 2.5 8 5.5 8 8.5 8 5 8-3.5" stroke="#00a3ff"/><path d="M100.5 356.5l8 5 8-.5 8-4.5 8-4.5 8-4.5 8-5 8-11 8-19.5 8-16 8-.5 8 9.5 8 6.5 8 2 8 0 8-2.5 8-8.5 8-12 8-8 8 .5 8 8 8 14 8 12.5 8 9 8 7 8-2.5 8-2 8-1.5 8-9 8-9.5 8-8 8-6.5 8-11 8-11 8-6.5 8 3 8 6.5 8 2 8-4.5 8-6.5 8-4 8 .5 8 2.5 8 3 8 7.5 8 13 8 13 8 10 8 6 8 3 8 .5 8-1 8-.5 8 .5 8 2.5 8 4 8 4 8 3 8 .5 8 0 8 1 8 1.5 8 0 8-3 8-5.5 8-5.5 8-4 8-1.5 8 1.5 8 3.5 8 0 8-2.5 8-1 8 2 8 2 8-.5 8-.5 8 1.5 8 3 8 2.5 8 .5 8-2.5 8-3.5 8-2.5 8-1.5 8 0 8 2 8 1.5 8-2.5 8-7 8-6 8 0 8 5 8 8 8 8.5 8 6.5 8 3 8 1.5 8 .5 8-1.5 8-4 8-2.5 8 2 8 6 8 6 8 3.5 8-1 8-6 8-8.5" stroke="#005bff"/><path d="M100.5 355l8 2.5 8 3.5 8 2 8-1 8-3 8-3.5 8-4 8-7 8-7.5 8-4 8-1 8 .5 8-1 8-4.5 8-5.5 8-4.5 8-1.5 8 .5 8 2 8 4 8 4 8 1.5 8 .5 8-.5 8-1 8-2.5 8-4 8-4 8-1 8 .5 8-1.5 8-4.5 8-8 8-12 8-11.5 8-10 8-8.5 8-5.5 8-2.5 8 1.5 8 7 8 8.5 8 9 8 11.5 8 11 8 9 8 6.5 8 5 8 5 8 4.5 8 3 8 2.5 8 1.5 8 1 8 1.5 8 3.5 8 5 8 3 8 1.5 8 1 8 .5 8 0 8-.5 8-1 8-1.5 8-2.5 8-3.5 8-2.5 8-1.5 8-1 8-.5 8 .5 8 1.5 8 1.5 8 1 8 1.5 8 1.5 8 3 8 4.5 8 1.5 8 1 8 1 8 .5 8 .5 8 .5 8 0 8 .5 8-1 8-1 8 2.5 8 0 8 0 8 0 8 0 8 0 8 0 8 0 8 0 8 .5 8 0 8 .5 8 .5 8 1 8 1 8 .5 8 0 8-.5 8-1.5" stroke="#007cff"/><path d="M100.5 335.5l8 6.5 8 2 8-2.5 8-3.5 8-3.5 8-3 8-2.5 8-3.5 8-6 8-11.5 8-16.5 8-10.5 8-1.5 8 6 8 5.5 8 1.5 8-1.5 8 .5 8 2 8 2.5 8 3 8 3.5 8 3 8-2.5 8-7 8-5 8 0 8 2.5 8 .5 8-3.5 8-9.5 8-12 8-5 8 3 8 4.5 8-1 8-6.5 8-6 8-8 8-9 8-3.5 8 6 8 16 8 15.5 8 5.5 8-3 8-3 8-1 8 1.5 8 4 8 5.5 8 6.5 8 4 8 2.5 8 4 8 5.5 8 5.5 8 2.5 8 2 8 6 8 8 8 4.5 8 0 8-3 8-3 8-5 8-7.5 8-8.5 8-7 8-3 8 .5 8 3.5 8 6.5 8 7 8 5.5 8 4 8 3 8 3.5 8 4.5 8 3.5 8 2 8 1.5 8 2 8 3 8 1.5 8-1 8-2 8-2 8-1.5 8-1.5 8-2 8-2.5 8-3.5 8-3 8-3 8-3 8-3 8-2.5 8 0 8 1.5 8 3 8 3 8 1 8-.5 8 0 8 1.5 8 1.5 8 2.5" stroke="#0039ff"/><path d="M100.5 365.5l8 0 8 0 8 0 8-1 8-6.5 8-4.5 8 0 8-.5 8-6 8-4.5 8-4.5 8-3 8-.5 8 2 8 3 8 2.5 8 3 8 2.5 8 .5 8-2.5 8-4 8-3 8-1.5 8-3 8-7.5 8-5.5 8 0 8 3 8 2.5 8-1 8-1.5 8-2.5 8-3 8-4 8-5 8-4 8-1.5 8-3.5 8-2 8 2.5 8 4.5 8 4.5 8 4.5 8 5.5 8 5.5 8 4.5 8 4 8 2 8 0 8 0 8 0 8 .5 8 1.5 8 2.5 8 2.5 8 3 8 2.5 8 2.5 8 1.5 8 1 8 .5 8 0 8-.5 8-1 8-1.5 8-2.5 8-3.5 8-2.5 8-1.5 8-1 8-.5 8 .5 8 1.5 8 2 8 2 8 2.5 8 2.5 8 2 8 2 8 1.5 8 1 8 1 8 .5 8 .5 8 .5 8 0 8-2 8-2.5 8-1 8 1.5 8 2.5 8 2.5 8 0 8 0 8 0 8-2.5 8-2.5 8-2 8-.5 8-.5 8 1.5 8 3.5 8 4 8 2 8-1 8-3 8-5 8-5" stroke="#005eff"/><path d="M100.5 329l8-6.5 8-2.5 8 .5 8 1.5 8 0 8-1 8-4.5 8-11 8-15 8-11.5 8-6 8-1.5 8-2.5 8-4.5 8-4.5 8-4 8-4 8-2 8 4 8 10 8 11.5 8 10.5 8 11 8 10 8 0 8-6.5 8-9 8-3.5 8 2 8-1 8-10.5 8-20 8-18 8-6 8 7 8 13.5 8 7.5 8-3 8-13 8-15 8-7 8 2 8 12.5 8 19 8 19.5 8 15.5 8 11.5 8 6 8 3.5 8 1.5 8 1 8 2 8 2 8 1.5 8 1.5 8 3 8 5 8 4.5 8 1.5 8 1 8 1.5 8 0 8-3.5 8-7 8-8 8-7 8-4 8-1 8 .5 8-2.5 8-5.5 8-3 8 4 8 8.5 8 8 8 6 8 5 8 4.5 8 5 8 3 8-.5 8-4.5 8-6.5 8-3.5 8 .5 8 2.5 8 4 8 4 8 5 8 4 8 3.5 8 2 8 1 8 .5 8 0 8-1.5 8-2.5 8-1.5 8 2.5 8 5.5 8 4 8 .5 8 1 8-2 8-6.5 8-3.5 8-1 8-4" stroke="#0044ff"/><path d="M100.5 345.5l8-2 8-4.5 8-7 8-9.5 8-8.5 8-3.5 8-1.5 8-5 8-9.5 8-8.5 8-7 8-5 8-5 8-2.5 8 3 8 7 8 7.5 8 6 8 5 8 5 8 4 8 1 8 1.5 8 3 8 3 8 2.5 8 2 8 0 8-.5 8 0 8 0 8-2 8-8 8-15.5 8-21 8-25.5 8-15.5 8-7.5 8-2 8 8 8 14.5 8 17 8 15 8 10.5 8 6.5 8 5.5 8 8 8 7 8 3 8-.5 8-3.5 8-4 8-1.5 8 1 8 4 8 5.5 8 5.5 8 4 8 2.5 8 3 8 4 8 2.5 8 1 8 .5 8 0 8-5 8-9.5 8-8 8-3 8 .5 8 1.5 8 1.5 8 2.5 8 4 8 4 8 5.5 8 6.5 8 6.5 8 5.5 8 1 8-2.5 8-2.5 8 .5 8 .5 8 0 8-.5 8 0 8 .5 8 .5 8-.5 8-1.5 8-1 8 0 8 1.5 8 3.5 8 3 8 1 8-2 8-3 8-2.5 8-1.5 8-1 8-4.5 8-7.5 8-8.5 8-8 8-5.5 8-2" stroke="#002eff"/><path d="M100.5 335l8 6 8 6 8 7.5 8 5 8-2.5 8-9 8-10.5 8-9 8-5.5 8-1 8-1 8-3 8-2.5 8 0 8 1.5 8 0 8-.5 8 0 8 1 8 0 8-1.5 8-5 8-7.5 8-4 8 .5 8 1 8 .5 8-1 8-2.5 8-3.5 8-2 8-.5 8-.5 8-3.5 8-6.5 8-10 8-13 8-5.5 8 2 8 7.5 8 9.5 8 7.5 8 5.5 8 5 8 3.5 8 2 8 2 8 1.5 8 1.5 8-.5 8-1.5 8 .5 8 3 8 4 8 5 8 5 8 7 8 8.5 8 10 8 6 8 0 8-3.5 8-6 8-6.5 8-4 8-3 8-4 8-3.5 8-1.5 8 1.5 8 5 8 5 8 5 8 1 8-3 8-3.5 8-1 8 .5 8 1.5 8 2 8 1 8 .5 8 .5 8 1 8 2.5 8 6.5 8 8 8 5.5 8-.5 8-5.5 8-5 8-1 8 2.5 8 1.5 8-3 8-8.5 8-9.5 8-5.5 8 1 8 5 8 6 8 5 8 2.5 8 .5 8-2.5 8-3 8 .5 8 5.5" stroke="#004bff"/><path d="M100.5 335l8 4.5 8 2 8-2.5 8-8.5 8-14 8-11.5 8-5.5 8-2.5 8-2.5 8-4 8-6 8-4.5 8 .5 8 5.5 8 9.5 8 8.5 8 3.5 8-3 8-11.5 8-12.5 8-4.5 8 8.5 8 16.5 8 10.5 8-.5 8-5 8-4 8-1 8-2.5 8-8.5 8-14.5 8-15 8-5.5 8 3.5 8 5.5 8-1.5 8-7.5 8-6 8-4 8 0 8 3 8-1 8-3.5 8 2.5 8 11.5 8 17.5 8 17.5 8 12.5 8 9 8 6.5 8 5.5 8 2.5 8 0 8-2.5 8-2.5 8 0 8 2 8 4 8 4.5 8 4.5 8 3.5 8 2 8-1 8-2.5 8-4.5 8-5.5 8-7 8-7 8-6.5 8-3.5 8 5 8 12 8 9 8 1 8-7 8-4.5 8 0 8 3 8 3 8 1 8-2.5 8-3.5 8 .5 8 5.5 8 7 8 4 8-2.5 8-4 8-.5 8 4 8 6 8 3 8 1 8 0 8 1 8 5 8 7.5 8 0 8 .5 8 0 8 .5 8-1.5 8-1.5 8 2.5 8 3.5 8 0 8-.5 8-1.5" stroke="#0030ff"/><path d="M100.5 327.5l8-1.5 8-.5 8-5 8-8.5 8-6.5 8-1.5 8 2 8 5.5 8 9 8 8.5 8 5 8 1 8-.5 8-3.5 8-9.5 8-14 8-15.5 8-4 8 6.5 8 8.5 8 2.5 8-7 8-16.5 8-19.5 8-11 8 3.5 8 9.5 8 10 8 9.5 8 8.5 8 6.5 8 4.5 8 5.5 8 3.5 8-3 8-4 8-1.5 8-3.5 8-2 8 2.5 8 2 8 3.5 8 7.5 8 6 8 5.5 8 2.5 8-6.5 8-6.5 8-2.5 8 0 8 0 8 1.5 8 4 8 6 8 7.5 8 6.5 8 4.5 8 3.5 8 2.5 8 2.5 8 2 8-.5 8-1.5 8-3.5 8-4.5 8-5.5 8-7 8-5.5 8-4.5 8-3.5 8-1 8 3.5 8 6 8 5 8 1.5 8 0 8 .5 8 2.5 8 6 8 7.5 8 5.5 8 .5 8-3 8-6 8-4 8 2 8 6.5 8 7 8 3.5 8 0 8-4.5 8-5 8-3 8-.5 8 2 8 1.5 8 0 8-1 8-.5 8-.5 8-1.5 8-3 8-3 8 0 8 2.5 8 .5 8-2 8-2" stroke="#0300ff"/><path d="M100.5 336.5l8-7.5 8-7.5 8-2 8 .5 8-3.5 8-6.5 8-6 8-4.5 8-3.5 8-3.5 8-4.5 8-3 8 0 8 1 8 1 8 5 8 14.5 8 18 8 16.5 8 4.5 8-4 8-3 8-1.5 8-10 8-10.5 8-8.5 8-4 8 1.5 8 6 8 5.5 8 3.5 8-1 8-6 8-13.5 8-17.5 8-14 8-7 8 .5 8 1 8-.5 8-1 8-3 8 0 8 11 8 18.5 8 13.5 8 6 8 2 8 4.5 8 7 8 6.5 8 5 8 4.5 8 3.5 8 2.5 8 3 8 .5 8-2.5 8-1.5 8 2.5 8 3 8 1 8-2 8-4 8-3.5 8-2 8-1 8-2.5 8-5 8-6.5 8-5 8 0 8 3.5 8 3.5 8 1 8 2 8 4.5 8 7 8 8.5 8 7 8 2.5 8 1 8 .5 8 .5 8 .5 8 0 8 .5 8 0 8 .5 8 0 8 0 8 0 8 0 8 0 8 0 8 0 8-5 8-8.5 8-7.5 8-4 8 0 8 1 8 .5 8 2 8 5.5 8 8 8 6.5 8 3.5" stroke="#1f00ff"/><path d="M100.5 326.5l8-5 8-4 8-4 8-5 8-4 8-.5 8 3 8 2.5 8-.5 8-8 8-13 8-9.5 8-2 8 2.5 8 1 8-3.5 8-6.5 8-6 8-4.5 8-1.5 8-1 8-4 8-9 8-13.5 8-7 8 8 8 14 8 14.5 8 10.5 8 6.5 8 1.5 8-7 8-14 8-18 8-14.5 8-6.5 8 2 8-.5 8-4 8 0 8 9 8 18.5 8 21 8 16 8 9.5 8 7 8 7.5 8 6 8 4 8 2.5 8 1.5 8 1.5 8 2 8 2.5 8 3 8 3 8 2.5 8 1 8 .5 8 3.5 8 5.5 8 4.5 8 1.5 8-3 8-7 8-10 8-9.5 8-5.5 8-2.5 8-1.5 8 1 8 4 8 3 8-.5 8-3 8-1.5 8 0 8 1 8 2 8 1.5 8-1 8 1 8 2.5 8 4.5 8 4.5 8 2.5 8-1.5 8-5 8-6 8-3.5 8 1.5 8 6 8 7.5 8 4 8-1 8-5.5 8-8 8-7.5 8-5 8-4 8-2 8-1.5 8-.5 8 2 8 1 8-2.5 8-5.5 8-7.5" stroke="#0020ff"/><path d="M100.5 323.5l8-8 8-9.5 8-6.5 8 .5 8 7 8 7.5 8 1 8-7.5 8-12 8-8.5 8-2 8 3.5 8 8 8 10 8 5.5 8-.5 8-8.5 8-12 8-8 8 .5 8 7 8 7.5 8 4.5 8-2 8-9 8-11.5 8-9 8-6 8-4.5 8-4 8-5 8-5 8 2 8 4 8 4.5 8 7 8 7 8 8 8 4 8-1.5 8-1.5 8 3 8 7.5 8 7.5 8 3.5 8 4 8 9 8 7.5 8 3 8-1 8-.5 8 2.5 8 4.5 8 4.5 8 1.5 8-1.5 8 1 8 3.5 8 4.5 8 4 8 3 8 2 8 0 8-3 8-6.5 8-10 8-11 8-6.5 8-1 8 1 8 1.5 8 1 8 1 8 1.5 8 2 8 3 8 3.5 8 3.5 8 3.5 8 3.5 8 3 8 2 8 1 8 1 8-2 8-5.5 8-8 8-5 8 1 8 6 8 7 8 4.5 8 1 8-2 8-3 8-1.5 8 .5 8 .5 8 2 8 3.5 8 4.5 8 2 8-1 8-2.5 8-2 8-.5 8-1 8-4.5" stroke="#0200ff"/><path d="M100.5 362.5l8-3.5 8-8 8-8 8-5 8-2.5 8-2 8-6 8-13 8-14.5 8-7 8 1 8 3 8 1 8 1 8 6 8 9 8 8.5 8 3 8-3 8-4 8-1.5 8-.5 8-.5 8-3.5 8-6 8-5 8-1.5 8 1 8 3.5 8 5 8 4.5 8 1.5 8-1.5 8-4.5 8-6.5 8-7 8-5.5 8-5 8-1.5 8 4 8 7.5 8 7.5 8 6 8 6.5 8 9 8 5.5 8 4 8 2 8 0 8 0 8 0 8 .5 8 .5 8-5.5 8-7 8-2.5 8 1 8 3.5 8 3.5 8 6.5 8 6.5 8 3 8 .5 8-1 8-2 8-5 8-6.5 8-6.5 8-4.5 8-3 8 1.5 8 7 8 10.5 8 6.5 8 2 8 2.5 8 2 8-.5 8 4 8 2.5 8 1 8 1 8 .5 8 .5 8-1.5 8-4.5 8 1.5 8 5 8 1 8 0 8 0 8 0 8 0 8-4.5 8-5.5 8-1.5 8 2 8 5 8 5 8 0 8 .5 8 .5 8 1 8 1 8 .5 8 0 8-.5 8-4" stroke="#3700ff"/><path d="M100.5 356l8-4 8-3.5 8 1 8 2 8-2.5 8-6.5 8-7 8-3 8 1 8 1 8-5.5 8-7 8-2 8 4.5 8 6 8 3 8 1 8 1 8 3 8 3.5 8-.5 8-3 8-1.5 8-3 8-4 8-11 8-5 8 2 8 5 8 4.5 8-1.5 8-2.5 8-3 8-12 8-17 8-14.5 8-8 8 .5 8 5 8 9.5 8 13 8 8.5 8 2.5 8 2.5 8 4 8 4 8 3.5 8 4.5 8 5 8 5 8 1.5 8 .5 8 1.5 8 2.5 8 .5 8-1.5 8-.5 8 .5 8 2 8 4.5 8 4 8 1.5 8-2 8-4.5 8-4 8-3.5 8-3.5 8-4.5 8-3 8-2.5 8-3.5 8-4.5 8-2.5 8 .5 8 2 8 3 8 4.5 8 5.5 8 6.5 8 5 8 1.5 8 1.5 8 2.5 8 5 8 3.5 8 1.5 8 0 8-.5 8-.5 8-2.5 8-4 8-4 8-2.5 8-.5 8 0 8-.5 8 .5 8 1 8 1.5 8 3.5 8 6 8 8 8 1.5 8 1 8-2.5 8-2.5 8 3 8 .5" stroke="#2300ff"/><path d="M100.5 357l8-4.5 8-6.5 8-6 8-4 8-.5 8 7 8 10 8 .5 8-6 8-4.5 8-11 8-6 8 2 8 8.5 8 3.5 8 2.5 8 .5 8-7 8-1 8 4 8 3 8-3 8-1.5 8-3 8-3 8-5 8-3.5 8-2.5 8-3 8-2 8-1.5 8-2 8-2.5 8-3 8-6.5 8-12.5 8-18 8-15.5 8-7 8 3.5 8 11.5 8 13 8 10.5 8 8.5 8 9 8 9 8 9.5 8 6.5 8 2 8-2 8-4.5 8-2.5 8 0 8 1.5 8 2 8 1 8 1.5 8 2.5 8 3 8 4.5 8 4.5 8 2 8-.5 8-2.5 8-1.5 8-1.5 8-3.5 8-3 8-1 8 0 8 2 8 3.5 8 3 8 2 8 .5 8 0 8-2 8-3 8-1.5 8 1 8 2 8 2 8 2.5 8 1.5 8 2 8 3.5 8 4 8 3 8 .5 8-2 8-4 8-4.5 8-2 8 1 8 1.5 8 1 8 .5 8-.5 8-1.5 8-3.5 8-6.5 8-9 8-10.5 8-10 8-7 8-.5 8 3.5 8 1.5" stroke="#6000ff"/><path d="M100.5 366l8 0 8 0 8 0 8-1.5 8-2 8-2 8-2.5 8-5 8-6 8-4.5 8-4.5 8-3 8-.5 8 2 8 3 8 2.5 8 3 8 2.5 8 .5 8-2.5 8-4 8-3 8-1.5 8-3 8-3 8-2 8-1 8-1 8-.5 8-1 8-1.5 8-2.5 8-3 8-4 8-5 8-4 8-1.5 8-3.5 8-2 8 2.5 8 4.5 8 4.5 8 4.5 8 5.5 8 5.5 8 4.5 8 4 8 2 8 0 8 0 8 0 8 .5 8 1.5 8 2.5 8 2.5 8-6.5 8-2.5 8 6.5 8 10.5 8 2.5 8 .5 8 0 8-.5 8-1 8-1.5 8-2.5 8-3.5 8-2.5 8-1.5 8-1 8-.5 8 .5 8 1.5 8 2 8 2 8 2.5 8 2.5 8 2 8 2 8 1.5 8 1 8 1 8 .5 8 .5 8 .5 8 0 8 .5 8 0 8 .5 8 0 8-2 8-4 8-5 8-4.5 8-1 8 .5 8 0 8-3.5 8-6.5 8-4.5 8 .5 8 3.5 8 2 8-1 8 .5 8 3.5 8 6 8 6" stroke="#2e00ff"/><path d="M100.5 354l8 10.5 8 2 8 0 8-2 8-2.5 8-8.5 8-7.5 8-9.5 8-11 8-11 8-9.5 8-4 8 2.5 8 4.5 8 3.5 8 1 8 0 8-2 8-6.5 8-4.5 8 0 8 4 8 7.5 8 4 8 1.5 8-1 8-1.5 8-2.5 8-5.5 8-8 8-12.5 8-14 8-12 8-8.5 8-2 8 7 8 11 8 10.5 8 8 8 6 8 6 8 7.5 8 8 8 5 8-1 8-2.5 8 .5 8 1.5 8-.5 8-3.5 8-4 8-2 8 1 8 4.5 8 8 8 12.5 8 13.5 8 5 8 1.5 8-1.5 8-2 8-1 8-2.5 8-3.5 8-3.5 8-3 8-4.5 8-5.5 8-6 8-6.5 8-4.5 8-1 8 2.5 8 4.5 8 4.5 8 5 8 4.5 8 3 8 3 8 2.5 8 1 8-1 8-2.5 8-3 8-1.5 8 0 8 1.5 8 3 8 5 8 5.5 8 4.5 8 3.5 8 .5 8-2.5 8-4 8-4 8-2.5 8 1.5 8 4 8 4 8 2.5 8-1 8-3.5 8-2.5 8 1.5 8 3.5 8 2.5 8 0" stroke="#7600ff"/><path d="M100.5 315l8 7 8 1.5 8-2 8-2 8-4 8-9.5 8-13 8-15.5 8-11.5 8-3 8 2 8 2 8-3.5 8-10.5 8-17.5 8-2.5 8 0 8 1.5 8 1.5 8 2.5 8 .5 8-3 8-4 8 14.5 8 14 8 3.5 8-4 8-.5 8 10 8 16 8 11 8 0 8-6.5 8-15 8-19 8-9 8 1 8 2 8-1.5 8-1.5 8 5.5 8 11 8 8.5 8 3 8-.5 8 2.5 8 6 8 5 8 .5 8-2.5 8-1 8 5 8 8.5 8 8 8 3.5 8 0 8-.5 8 3 8 8.5 8 10.5 8 6.5 8 .5 8-4.5 8-6.5 8-5.5 8-4 8-5.5 8-5 8-3 8-1.5 8 1.5 8 3.5 8 6 8 6.5 8 5 8 5.5 8 5 8 4.5 8 4 8 4 8 2.5 8 .5 8-2 8-4 8-3 8-1.5 8-1 8-1.5 8-1.5 8-.5 8-2 8-3.5 8-3 8 .5 8 3 8 2 8-1 8-3.5 8-3.5 8-4.5 8-6 8-5.5 8-2 8 1.5 8 2.5 8 1.5 8 .5 8 3" stroke="#5f00ff"/><path d="M100.5 336l8 15.5 8 9 8 2 8-3.5 8-6.5 8-8 8-5.5 8-1.5 8 1 8 1 8-5 8-10 8-8 8-3.5 8 0 8 1 8 3 8 6.5 8 8 8 3.5 8-3 8-4 8 2 8 4 8-3 8-2 8-1 8-1 8-.5 8-1 8-1.5 8-2.5 8-5.5 8-6.5 8 0 8-4 8-1.5 8-3.5 8-2 8 2.5 8 4.5 8 2 8 3.5 8 5.5 8 1 8 .5 8 5 8 6.5 8 2.5 8-2.5 8-4.5 8-2.5 8 .5 8 2.5 8 3 8 1.5 8 2 8 2 8 1 8 3.5 8 5.5 8 5.5 8 2.5 8-1.5 8-4.5 8-4 8-1.5 8 2 8-1.5 8-1 8-.5 8 .5 8 1.5 8 2 8 2 8 2.5 8 2 8 2.5 8 2 8 1.5 8 1 8 1 8-3.5 8-3.5 8-.5 8 2 8 3 8 3.5 8 1.5 8 0 8 0 8 0 8 0 8-1.5 8-1.5 8-1.5 8-3.5 8-4 8-2 8 2.5 8 2.5 8-1.5 8-6 8-4.5 8 2.5 8 6 8 .5 8-6" stroke="#5400ff"/><path d="M100.5 304.5l8 4 8 11.5 8 17 8 11.5 8 4.5 8-2 8-7 8-10 8-10.5 8-6.5 8-1.5 8 1 8-1.5 8-6.5 8-15 8-16 8-8.5 8 .5 8 6.5 8 9.5 8 5.5 8-6.5 8-15.5 8-18.5 8-10.5 8 1 8 5 8 5 8 3 8 2.5 8 .5 8-2 8 1.5 8 4 8 3.5 8 3.5 8 0 8-.5 8-.5 8 0 8 3.5 8 10.5 8 16.5 8 20.5 8 8 8 4.5 8 3.5 8-3.5 8-2.5 8-2.5 8-5 8-5 8-1.5 8 2 8 4 8 4 8 4.5 8 5.5 8 2.5 8 .5 8 .5 8 0 8-2.5 8-3.5 8-2.5 8-3 8-3.5 8-1.5 8 1 8 3 8 2 8 .5 8 0 8 1.5 8 2.5 8 5 8 6 8 5.5 8 4 8 1.5 8 0 8 1 8 2 8 1 8-1 8-2.5 8-3 8-2.5 8-1.5 8 0 8 .5 8 0 8-1 8-2 8-3.5 8-4.5 8-4 8 1 8 6 8 6 8 1.5 8-2.5 8-4.5 8-4 8-3.5 8-4 8-4.5 8-2.5" stroke="#8300ff"/><path d="M100.5 331.5l8 2.5 8 7.5 8 8 8 5.5 8 0 8-8 8-11.5 8-8.5 8-2.5 8-.5 8-4.5 8-5 8-1 8 5 8 10 8 10.5 8 3.5 8-6 8-11.5 8-8 8-.5 8 4 8 6.5 8 4 8-1.5 8-7 8-5.5 8 .5 8 5.5 8 2.5 8-1.5 8-3 8-11 8-14 8-13.5 8-8 8-1 8 8 8 9 8 7 8-1 8-5.5 8-1.5 8 6 8 6.5 8 2.5 8-.5 8 1.5 8 5 8 6.5 8 4 8 1 8-.5 8 .5 8 .5 8-.5 8-1 8 0 8 4 8 8.5 8 8 8 4 8-1.5 8-4.5 8-5.5 8-6 8-4.5 8 0 8 3.5 8 3 8 2 8 1 8 2 8 3 8 5.5 8 4.5 8 2.5 8 1.5 8-1.5 8 0 8 1 8 1.5 8 .5 8 0 8-.5 8 1.5 8 3.5 8 2 8 .5 8 0 8-6.5 8-7 8-4 8-1 8 2 8 3.5 8 2.5 8-1 8-4 8-7 8-7 8-5.5 8-4 8-1 8 2 8 4.5 8 3 8-2.5" stroke="#8b00ff"/><path d="M100.5 350.5l8 0 8-5 8-7 8-9 8-7.5 8-5.5 8-9 8-13.5 8-11 8-1.5 8 .5 8-4 8-9.5 8-9.5 8-4 8 4 8 11 8 13.5 8 10.5 8 6.5 8 1.5 8-2.5 8-4.5 8-1.5 8 2.5 8 1.5 8-2 8-6.5 8-6.5 8-2.5 8 2.5 8 4.5 8 1.5 8-7 8-18.5 8-20.5 8-11.5 8-4 8 1 8 6.5 8 9.5 8 10.5 8 12.5 8 14.5 8 11.5 8 6.5 8 3 8 1 8 3 8 7.5 8 9 8 7.5 8 4 8 1.5 8-1.5 8-2 8 .5 8 2.5 8 3.5 8 3.5 8 1.5 8-1 8-5 8-7.5 8-9 8-10 8-8.5 8-4 8 0 8 2.5 8 4 8 6.5 8 8.5 8 7.5 8 4.5 8 1 8 1 8 2 8 4 8 5.5 8 4 8 1.5 8-2.5 8-5 8-4 8 .5 8 4 8 2 8-1.5 8-6 8-5 8 1 8 6.5 8 7 8 6 8 3.5 8 1 8-2.5 8-4 8-2.5 8-1 8 .5 8-.5 8-1 8-2.5 8-5.5 8-5.5 8-.5" stroke="#6d00ff"/><path d="M100.5 365.5l8 0 8 0 8 0 8-1 8-2 8-2 8-2.5 8-5 8-10.5 8-11.5 8-9.5 8-6 8 0 8 5.5 8 10.5 8 7.5 8 0 8-5 8-7.5 8-7 8-6 8-8 8-8 8-6 8-5 8-4 8-3 8 2 8 12 8 14.5 8 9 8-1 8-11.5 8-17 8-16.5 8-4.5 8 7 8 10.5 8 5.5 8 1 8-1 8-.5 8 3 8 8 8 11 8 11 8 11 8 3 8 0 8 0 8-2 8-7.5 8-7.5 8-4 8 1.5 8 6.5 8 10 8 7.5 8 3 8 3 8 4 8 3 8 0 8-2 8-8 8-10 8-7.5 8-3 8 .5 8 1 8 2 8 2 8 1.5 8 0 8-1 8 1 8 3 8 4.5 8 4.5 8 4 8 2.5 8 1.5 8 1.5 8-.5 8-1 8-2 8-2 8-.5 8 .5 8 1 8 1 8 .5 8 .5 8 0 8-1.5 8-1.5 8 0 8 2.5 8 4 8 1.5 8-4 8-7.5 8-9.5 8-6 8-1 8 3.5 8 7.5 8 9" stroke="#ab00ff"/><path d="M100.5 359.5l8-6.5 8-5 8-2 8-.5 8-.5 8-2 8-3.5 8-6 8-7.5 8-6.5 8-5.5 8-2 8 3 8 5 8 5 8 3.5 8 4.5 8 5.5 8 2 8-2.5 8-6 8-7.5 8-8 8-8 8-7.5 8-3.5 8 .5 8 2 8 2 8 2 8 1.5 8 2.5 8 4 8 1 8-4 8-6 8-6 8-6 8-2 8 6 8 10.5 8 4.5 8 4.5 8 5.5 8 5.5 8 4.5 8 4 8 2 8 0 8 0 8 0 8 .5 8 1.5 8 .5 8-.5 8-1 8 1 8 1.5 8 1.5 8 1.5 8 3 8 3 8 3 8 1 8-1.5 8-8 8-11.5 8-11.5 8-7.5 8-2 8 2 8 4.5 8 5 8 5 8 5 8 5.5 8 5.5 8 4.5 8 3.5 8 2.5 8 1.5 8-.5 8-2.5 8-5 8-7.5 8-6.5 8-1.5 8 4.5 8 8.5 8 7 8 5 8 2.5 8-.5 8-2.5 8-2 8-1.5 8 .5 8 .5 8 0 8-.5 8 1 8 3.5 8 5.5 8 1 8 .5 8 0 8-.5 8-1.5" stroke="#9000ff"/><path d="M100.5 321l8 4 8 2 8-2.5 8-5.5 8-2.5 8 6.5 8 10 8 5.5 8 0 8-2.5 8-5.5 8-5 8-2.5 8-2 8-2.5 8-3 8-3 8-1.5 8 1.5 8 2.5 8 1.5 8 .5 8 .5 8 2 8 1.5 8-1.5 8-5 8-4.5 8-1.5 8 2 8 2 8 3 8 3 8-4 8-5 8-4 8-2.5 8-9 8-9 8-7.5 8-5 8-3.5 8-2 8 2 8 7.5 8 15 8 17 8 11 8 3 8-2 8-2 8 1 8 4 8 6 8 7 8 7.5 8 4.5 8 2.5 8 1.5 8-1 8-2 8-1 8-1 8 .5 8 0 8-2 8-2 8-1.5 8-1.5 8-1 8-2.5 8-8 8-6.5 8-5 8-4 8-1.5 8 1 8 4 8 7 8 7 8 3.5 8 0 8-1.5 8-1 8 1 8 2 8 3.5 8 3.5 8 2.5 8 1.5 8 1.5 8 2.5 8 3 8 .5 8-3 8-4 8-3.5 8-1.5 8-.5 8 0 8 1 8 1 8 0 8-2 8-3 8 0 8 3.5 8 3" stroke="#9900ff"/><path d="M100.5 365.5l8-10 8-11 8-5 8 4 8 9.5 8 7.5 8-2.5 8-5 8-6 8-6.5 8-7.5 8-6.5 8-4 8-3.5 8-2.5 8 6 8 13.5 8 11.5 8 0 8-7 8-6.5 8-3.5 8-3 8-4.5 8-4.5 8-6 8-7 8-7 8-5.5 8 3 8 7.5 8 9 8 6 8-4 8-5 8-4 8-1.5 8-3.5 8-4 8-3.5 8 0 8 3 8 4 8 3 8-.5 8-1.5 8 2.5 8 7 8 8.5 8 7 8 4.5 8 2.5 8 .5 8-1.5 8-1 8 2.5 8 4 8 3.5 8 3 8 3 8 3.5 8 2 8-.5 8-3 8-5 8-5.5 8-5 8-4 8-4.5 8-6.5 8-6.5 8-3.5 8 0 8 1 8 .5 8 2.5 8 4.5 8 6.5 8 7 8 5 8 .5 8-3 8-3 8 0 8 3.5 8 4 8 3 8 1.5 8 0 8-.5 8-1 8-1 8 0 8 1.5 8 3 8 2 8-1.5 8-5 8-7 8-5 8 0 8 3 8 1.5 8-2.5 8-4 8-2.5 8 0 8 3" stroke="#9f00ff"/><path d="M100.5 308.5l8-7.5 8-1 8 3 8 3.5 8 6.5 8 11 8 7.5 8-3 8-9.5 8-12 8-11 8-8 8-4.5 8 4 8 14 8 13.5 8 6 8-1 8-5.5 8-8 8-11.5 8-10 8-1 8 8 8 10.5 8 2.5 8 1 8-1.5 8-3.5 8-3.5 8 .5 8 3.5 8 4.5 8 2.5 8 .5 8-3.5 8-6.5 8-14 8-12.5 8-6 8-1.5 8-1 8-5.5 8-3.5 8 4.5 8 14.5 8 18.5 8 13 8 5 8 0 8-1 8 0 8 2 8 3 8 4.5 8 6 8 6.5 8 5 8 1.5 8 1 8 .5 8-1.5 8-4 8-6.5 8-6 8-5 8-5 8-3 8 .5 8 1 8 1.5 8 2.5 8 5 8 5 8 4 8 2.5 8 0 8 0 8 1 8 2 8 1.5 8 1 8 1.5 8 2 8 0 8-3 8-3 8-3 8-2 8-1 8 .5 8 2 8 2.5 8 1.5 8 .5 8-1 8-2.5 8-5 8-6 8-6 8-6 8-6 8-3 8-1.5 8-2.5 8-2.5 8 5.5 8 4" stroke="#ce00ff"/><path d="M100.5 272.5l8 0 8-1.5 8-2 8-2.5 8 2 8 11 8 6.5 8-3.5 8-10.5 8-10.5 8-4 8 1.5 8 4 8 2.5 8-1.5 8-3.5 8-2 8-1.5 8-1.5 8-1.5 8-1.5 8-2.5 8-5.5 8-11.5 8-8.5 8 2 8 8.5 8 11.5 8 10.5 8 9 8 6 8-1.5 8-11.5 8-17.5 8-12.5 8-2.5 8 2 8-2 8-3 8 2.5 8 7.5 8 6.5 8 2 8 0 8-1 8 2 8 12 8 9.5 8 8.5 8 12.5 8 12.5 8 10 8 5 8 0 8-.5 8 3 8 6.5 8 7.5 8 6.5 8 3.5 8 2 8 0 8-1.5 8-2 8-3.5 8-5.5 8-7 8-5.5 8-2 8 1 8 5 8 6.5 8 5.5 8 2.5 8 .5 8-1 8-2 8-2 8-1 8 1.5 8 2.5 8 3 8 1.5 8-1 8-3 8-3.5 8-4.5 8-5 8-6 8-7.5 8 0 8 0 8 0 8 0 8 0 8 0 8-.5 8-.5 8-1 8-1.5 8 0 8 4 8 6 8 4 8 1 8 .5 8 0 8-2" stroke="#ff00fe"/><path d="M100.5 305l8-9 8-9 8-5 8 0 8 2 8-1 8-6.5 8-11 8-8 8-2 8-.5 8-1 8-3 8-2 8 .5 8 .5 8-4 8-9 8-1 8 2.5 8 1.5 8-.5 8-9 8-6 8-2 8 9.5 8 10.5 8 8.5 8 2.5 8-4 8-12.5 8-19.5 8-14 8-5.5 8 2 8 6.5 8 7.5 8 4.5 8 8 8 15.5 8 15 8 7 8-2 8-4 8-2.5 8 2 8 7.5 8 5 8 4 8 5 8 8 8 8.5 8 7 8 4.5 8 3.5 8 3 8 2 8 1 8 3 8 7 8 8 8 5 8 2 8 0 8-4.5 8-9 8-10 8-6.5 8-3 8-2.5 8-3 8-1 8 2.5 8 4 8 4.5 8 4.5 8 4.5 8 4 8 4 8 2 8-2 8-5.5 8-5 8 1 8 6.5 8 7.5 8 4.5 8 0 8-3 8-3 8-2.5 8-3.5 8-5 8-6 8-5.5 8-2 8 2.5 8 5.5 8 6 8 2 8-5.5 8-10 8-8 8-2 8 3 8 3.5 8 1 8-3" stroke="#ec00ff"/><path d="M100.5 333.5l8-11.5 8-15.5 8-13.5 8-8 8-4 8-2.5 8-4 8-8.5 8-6.5 8 1.5 8 8 8 7.5 8 4 8 2.5 8 2 8 4.5 8 9 8 13 8 11.5 8 7.5 8 1 8-2 8-2 8-1 8 1 8-.5 8-4 8-6 8-7 8-5.5 8-2 8 1.5 8 1 8-3.5 8-7 8-4.5 8 .5 8-.5 8-2 8-.5 8 2.5 8 6.5 8 11.5 8 12 8 5.5 8 4.5 8-2 8-1 8 2.5 8 2 8 0 8-1 8-.5 8 .5 8 2 8 3.5 8 2.5 8-.5 8-1.5 8 2.5 8 4 8 .5 8-4.5 8-6.5 8-3.5 8 1.5 8 1.5 8-1 8-3.5 8-3 8 .5 8 5 8 6.5 8 5 8 2.5 8 2.5 8 2 8 .5 8-1 8-2.5 8-3 8-2.5 8-.5 8-1 8-2 8-4 8-4.5 8-3 8 .5 8 4.5 8 4.5 8 3 8 .5 8-2 8-3 8-2 8 0 8 2.5 8 2 8 .5 8-1.5 8-1.5 8-.5 8 2 8 3 8 3.5 8 .5 8-4" stroke="#f500ff"/><path d="M100.5 365l8-17.5 8-25 8-23.5 8-13 8-2 8 4.5 8 5 8 2.5 8 3.5 8 7 8 7 8 6.5 8 7.5 8 5 8-2 8-10 8-9.5 8-4 8 6 8 11 8 8.5 8 2 8-4 8-7.5 8-8 8-6.5 8-3.5 8-2.5 8-4.5 8-7.5 8-7 8-7.5 8-3.5 8 1.5 8 1 8-5 8-6 8 3 8 5 8-3 8-10.5 8-6.5 8 8.5 8 22.5 8 20.5 8 9.5 8-2 8-8.5 8-5.5 8-.5 8 0 8-.5 8 .5 8 5 8 9.5 8 10 8 6 8 1.5 8 0 8 3.5 8 7 8 5.5 8 2 8-.5 8-2.5 8-5 8-6.5 8-3 8 1.5 8 1.5 8-.5 8-2.5 8-2.5 8-.5 8 2 8 4 8 3 8 1 8 .5 8 1 8 .5 8-.5 8-1.5 8-1 8-2 8-4.5 8-5 8-2 8 2 8 3.5 8 .5 8-1.5 8 0 8 2 8 2.5 8 1.5 8 1.5 8 2.5 8 3.5 8 3 8 2.5 8 3 8 2.5 8 2.5 8 2 8 2 8 1.5 8 3.5" stroke="#ff00f3"/><path d="M100.5 281l8 0 8 5.5 8 5 8 2.5 8 4.5 8 9 8 8.5 8 1 8-3 8-4 8-3 8-2 8-1 8-2.5 8-5.5 8-5.5 8-1 8 5.5 8 10.5 8 11.5 8 5 8-.5 8-5 8-7 8-8.5 8-4.5 8 1.5 8 2.5 8 .5 8-3 8-10.5 8-17 8-17.5 8-17.5 8-15.5 8-9.5 8-.5 8 1.5 8 6 8 18 8 23 8 16.5 8 3 8-.5 8 6.5 8 12 8 8.5 8-1 8-8 8-5 8 3 8 9 8 7.5 8 3.5 8 0 8 .5 8 2.5 8 4.5 8 4 8 3 8 1 8-1.5 8-5.5 8-6.5 8-4.5 8-2 8-1.5 8 0 8 1 8-1 8-1.5 8-.5 8 1.5 8 3 8 3.5 8 4.5 8 4 8 3 8 5 8 7 8 7 8 6 8 3.5 8 1 8 1 8-1.5 8-5 8-9 8-10 8-6 8-1.5 8-.5 8-.5 8 1 8 3 8 3 8 2 8 2.5 8 4 8 2.5 8-1 8-2 8-1.5 8-.5 8 .5 8-1 8-4.5 8-7" stroke="#f600ff"/><path d="M100.5 365l8 0 8 0 8 0 8-.5 8-2 8-2 8-2.5 8-5 8-6 8-4.5 8-4.5 8-3 8-.5 8 2 8 3 8 2.5 8 3 8 2.5 8 .5 8-4.5 8-7.5 8-8 8-6.5 8-2.5 8 2 8 5 8 2 8-1 8-.5 8-3 8-1.5 8-.5 8-3 8-4 8-5 8-15 8-19.5 8-18.5 8-10.5 8 2 8 15 8 16.5 8 7 8 3 8 4.5 8 10 8 12 8 9 8 4 8 1.5 8-.5 8-.5 8 2.5 8 7 8 4 8 3 8 2.5 8 2.5 8 1.5 8 1 8 .5 8 0 8-.5 8-1 8-1.5 8-2.5 8-3.5 8-3 8-2 8-1 8-1.5 8-2.5 8-3.5 8-2.5 8-.5 8 3 8 4 8 4.5 8 4.5 8 4.5 8 5 8 4 8 .5 8 .5 8 .5 8-3.5 8-5.5 8-6 8-5 8-3 8 3.5 8 8.5 8 8.5 8 3.5 8 0 8-3.5 8-3 8-1.5 8 .5 8 2.5 8 3 8 2.5 8 0 8-3 8-4.5 8-4 8-2 8 .5" stroke="#ff00df"/><path d="M100.5 357l8 1 8 .5 8-.5 8-1.5 8-2.5 8-2 8-2.5 8-5.5 8-6.5 8-7.5 8-8 8-4 8 4 8 9.5 8 8 8 2.5 8 3 8 2.5 8 .5 8-3 8-11.5 8-8 8-3 8 1 8 4 8 1.5 8-1 8-1 8-.5 8-1 8-1.5 8-6.5 8-21.5 8-29.5 8-23 8-5.5 8 5.5 8 9 8 10.5 8 10.5 8 12 8 9 8 3.5 8-.5 8-1.5 8 2 8 10 8 10.5 8 7.5 8 2 8-.5 8-1 8 1.5 8 4.5 8 6 8 4.5 8 1.5 8 .5 8 2 8 1.5 8 1.5 8 .5 8-.5 8-1 8-3 8-7 8-8 8-4.5 8-1.5 8-.5 8 0 8 2 8 6 8 6.5 8 6 8 3 8 2.5 8 2 8 1 8-1.5 8-1 8 0 8 0 8 0 8-1 8-.5 8 .5 8 2 8 3 8 2 8 0 8-1 8-1 8-1 8-1.5 8-2.5 8-3.5 8-6.5 8-6.5 8-4 8 .5 8 2 8 2 8 1.5 8 .5 8-1.5 8-1.5 8 .5" stroke="#ff00d0"/><path d="M100.5 335.5l8 9 8 5.5 8 .5 8-2.5 8-3 8-.5 8 2.5 8 3 8-3 8-4.5 8-13 8-18.5 8-15.5 8-5.5 8 10.5 8 19 8 19.5 8 8.5 8 .5 8-2.5 8-4 8-3 8-1.5 8-4.5 8-7.5 8-5 8-4 8-4.5 8-6 8-8 8-16 8-14.5 8-4 8 7.5 8 10.5 8 7.5 8 6.5 8-1 8-8.5 8-10 8-3 8 9.5 8 17 8 17 8 8.5 8 1 8-.5 8 1.5 8 3 8 1.5 8 1 8 1 8 2 8 1 8-.5 8 .5 8 3 8 4 8 1.5 8-1 8-1 8 0 8-1 8-1 8-1 8-2 8-3 8-2 8 0 8-.5 8-1 8-1.5 8 0 8 3 8 3.5 8 3 8 2.5 8 3 8 5.5 8 6 8 1 8 1 8 .5 8 .5 8-4.5 8-5.5 8-2 8-.5 8-1 8-2 8-3 8-1 8 .5 8 2.5 8 3 8 2.5 8-.5 8-2.5 8-4.5 8-4.5 8-3 8-2.5 8-1.5 8-.5 8-1 8-3 8-5 8-5" stroke="#ff00ab"/><path d="M100.5 309.5l8-6.5 8-4.5 8 1 8 9 8 16 8 13 8 6 8-1 8-4.5 8-5.5 8-6.5 8-6.5 8-4 8-1 8 4.5 8 9.5 8 8.5 8 1.5 8-4 8-2 8 .5 8 0 8-1 8-3.5 8-2.5 8 0 8-1 8-5 8-7 8-4 8-.5 8 0 8-4.5 8-11 8-12 8-8 8-.5 8 4 8-.5 8-6 8-7.5 8-4.5 8-.5 8 4.5 8 10 8 14.5 8 11.5 8 3.5 8 1 8 2.5 8 5 8 3 8 1 8 2 8 4.5 8 5.5 8 5.5 8 2.5 8 2 8 4.5 8 4.5 8 .5 8-3 8-5.5 8-5 8-4 8-4 8-4 8-3.5 8-3 8 0 8 3.5 8 5.5 8 3 8 0 8-.5 8 1 8 3 8 3.5 8 3 8-.5 8-4 8-5.5 8-3.5 8 2 8 6 8 7.5 8 7.5 8 5.5 8 4 8 1 8-2 8-2.5 8-2.5 8-.5 8 2 8 4.5 8 4.5 8 2 8 0 8-1.5 8-5 8-7.5 8-8.5 8-5 8 0 8 4.5 8 5" stroke="#ff00cd"/><path d="M100.5 301.5l8-7.5 8-7 8-4.5 8-1 8-1 8-3.5 8-6 8-8.5 8-7.5 8-4 8-.5 8 1.5 8-.5 8-1 8 2 8 7 8 12 8 11.5 8 6 8-2 8-9.5 8-14 8-12 8-6 8 2.5 8 4.5 8 0 8-1.5 8-.5 8-1 8-5 8-9.5 8-5.5 8-4.5 8-4.5 8-2.5 8 4 8 5 8 6.5 8 8 8 8.5 8 7.5 8 6 8 6 8 6.5 8 6 8 7 8 6 8 8 8 9 8 7.5 8 3.5 8 0 8-1 8-1 8 1.5 8 2.5 8 3.5 8 4 8 4 8 3 8-.5 8-4 8-5.5 8-6 8-7.5 8-8.5 8-6.5 8-4 8-3 8-2.5 8-.5 8 3.5 8 6 8 6.5 8 7.5 8 8.5 8 8 8 6.5 8 4.5 8 1 8 0 8-1.5 8-3.5 8-6 8-7 8-5.5 8-1.5 8 2 8 4 8 4.5 8 3.5 8 .5 8-1.5 8-3 8-1.5 8 1 8 4 8 4.5 8 4.5 8 2.5 8 0 8-2.5 8-3.5 8-4.5 8-5.5 8-8 8-9.5" stroke="#ff0086"/><path d="M100.5 322l8 3.5 8 3.5 8 1 8-3.5 8-8.5 8-10.5 8-6.5 8-3.5 8-2.5 8-.5 8 1.5 8 3.5 8 6.5 8 5 8 4.5 8 1.5 8-1.5 8-3.5 8-4.5 8-.5 8 0 8-.5 8 1.5 8 2.5 8 3.5 8 3.5 8 2.5 8-1.5 8-2.5 8-2.5 8-3 8-3.5 8-5 8-9 8-11.5 8-12 8-12 8-9 8-7.5 8-1.5 8 9 8 14.5 8 15.5 8 14 8 9.5 8 6 8 2.5 8 2 8 2 8 2.5 8 1.5 8 0 8-1.5 8-2 8 0 8 4 8 6.5 8 6 8 2 8 0 8 0 8 0 8-2 8-1 8 1.5 8 .5 8-3.5 8-4 8-2.5 8 0 8 2.5 8 5 8 4.5 8 2 8 0 8-.5 8 0 8-.5 8-.5 8-1 8-2 8-1 8 .5 8 1.5 8 2 8 2 8 3 8 3 8 3 8 .5 8-3 8-7.5 8-9.5 8-7.5 8-2.5 8 2 8 3.5 8 2.5 8 .5 8 1 8 1 8-1.5 8-4 8-3.5 8-.5 8 1.5 8 2 8 1" stroke="#ff00a6"/><path d="M100.5 314l8 1.5 8-3 8-6.5 8-6 8-3 8 2.5 8 4 8-3 8-10.5 8-13.5 8-7.5 8 0 8 4 8 4 8 2 8 3 8 7.5 8 7 8 1.5 8-5 8-7 8-5.5 8-2.5 8 2 8 5.5 8 7 8 4 8-2.5 8-8.5 8-9.5 8-7 8-5 8-4 8-8.5 8-10.5 8-5 8 3.5 8 6.5 8 5.5 8 3 8 0 8-3 8-3 8 2 8 8.5 8 13.5 8 15 8 12.5 8 8.5 8 3.5 8 2 8 2.5 8 4 8 5.5 8 5.5 8 3.5 8 2 8 1 8 1.5 8 1.5 8 1.5 8-1.5 8-4.5 8-5 8-3 8-1 8-2.5 8-3 8-4 8-4 8-1.5 8 2.5 8 6 8 5 8 3.5 8 4 8 4.5 8 2.5 8 1.5 8 0 8 0 8-.5 8 .5 8 1.5 8 1.5 8 0 8-1 8-1 8-2 8-2 8-3.5 8-3.5 8-2.5 8-1.5 8-.5 8-1.5 8-.5 8 1.5 8 4 8 6 8 5.5 8 3 8-1 8-7 8-10 8-7.5 8-3 8 1.5" stroke="#e000d0"/><path d="M100.5 322l8 9.5 8 8.5 8 3 8-3.5 8-5.5 8-1.5 8 2 8 .5 8-3.5 8-6 8-7.5 8-6 8-2.5 8 1.5 8 3 8 1 8-1.5 8-4.5 8-7 8-6.5 8-2.5 8 3 8 8 8 5.5 8-1 8-4.5 8-4.5 8-2.5 8-.5 8 1 8 .5 8 0 8-1.5 8-4 8-6 8-3.5 8 .5 8 2 8 1 8 3 8 5.5 8 6.5 8 7.5 8 6.5 8 3.5 8 0 8-1.5 8-2 8-1 8 1 8 2.5 8 4 8 4 8 1 8-2.5 8-2 8 2 8 5 8 5.5 8 4.5 8 2.5 8 1 8-1.5 8-1.5 8-1 8-1.5 8-3 8-4 8-2.5 8-1 8 2 8 5.5 8 6 8 3 8 1 8-1 8 1 8 2.5 8 2.5 8 0 8-2.5 8-2 8-.5 8 1.5 8 2 8 2 8 1.5 8 .5 8-1.5 8-4 8-2.5 8 .5 8 3.5 8 4.5 8 2 8-1 8-2.5 8-2 8-1 8 1 8 2.5 8 1 8-4 8-8.5 8-7.5 8-3 8 0 8 1" stroke="#6a18ff"/><path d="M100.5 314.5l8-6 8-5.5 8-2.5 8 1.5 8 2 8 .5 8-1.5 8-3.5 8-2.5 8-.5 8-1.5 8-2 8-2 8-1 8 2.5 8 5.5 8 4.5 8 2 8 0 8 1.5 8 4 8 2.5 8-1 8-3.5 8-7.5 8-7.5 8-4.5 8-2 8-2.5 8-4 8-6.5 8-7 8 .5 8 7.5 8 6.5 8 5.5 8 6 8 2.5 8-2.5 8-1.5 8-.5 8 1.5 8 2 8 3 8 2.5 8 3 8 4 8 4 8 4.5 8 3.5 8 2 8 1 8 0 8-1 8 0 8 1 8 3.5 8 6 8 6.5 8 5.5 8 2.5 8-.5 8-3 8-4.5 8-2.5 8-1.5 8-3 8-3.5 8-2.5 8-3 8-2.5 8-.5 8 1.5 8 2.5 8 1.5 8 2.5 8 3 8 2 8 2.5 8 3 8 2 8 3 8 3.5 8 2.5 8 0 8-1 8 0 8 1.5 8 2.5 8 2 8 0 8-1 8 0 8 .5 8 1.5 8 1 8 0 8-1 8-2 8-2.5 8-2.5 8-2.5 8-2.5 8-4.5 8-5.5 8-4 8-1.5 8-.5" stroke="#ff00ff"/><path d="M100.5 364l8-2 8-7.5 8-8.5 8-5.5 8 0 8 3.5 8 4 8-1.5 8-5 8-7 8-8.5 8-7.5 8-4 8-.5 8 2.5 8 4.5 8 6 8 4.5 8 1 8-.5 8-1.5 8-1 8-1.5 8-2.5 8-5.5 8-7 8-5.5 8-4 8-3.5 8-5.5 8-9.5 8-11 8-6 8-.5 8 .5 8-2 8-3 8 4.5 8 9 8 8.5 8 3 8-4 8-5.5 8 2 8 12 8 12.5 8 6 8-2 8-4.5 8-2 8 2 8 4 8 4.5 8 4.5 8 3.5 8 4 8 4.5 8 4 8 3.5 8 3.5 8 4 8 1.5 8-.5 8-2.5 8-2.5 8-3 8-3.5 8-3 8-1.5 8-.5 8 .5 8 1 8 1.5 8 2.5 8 2 8 2 8 1 8 1 8 2 8 3.5 8 3 8 2.5 8 0 8-2 8-2 8 .5 8 2.5 8 2.5 8 .5 8-1.5 8-2.5 8-1.5 8 .5 8 1.5 8 2 8 .5 8-1.5 8-1.5 8-.5 8 .5 8 1 8-1 8-3 8-4 8-3 8-3 8-4.5 8-5.5" stroke="#2222f0"/><path d="M100.5 319l8 1 8 8 8 9 8 3 8-3.5 8-6 8-5.5 8-2.5 8-.5 8 0 8-2 8-3 8-3 8-2.5 8-3.5 8-5.5 8-4.5 8-1 8 2 8 3 8 .5 8-5 8-8.5 8-7 8-3.5 8-2.5 8-4.5 8-7.5 8-6.5 8-.5 8 6 8 8 8 8 8 1.5 8-4 8-5 8-4.5 8 0 8 2.5 8 3.5 8 6 8 7 8 5.5 8 5 8 3.5 8 3.5 8 6 8 6.5 8 5 8 4 8 3 8 1.5 8-.5 8-1.5 8-2.5 8-.5 8 3 8 4 8 3.5 8 3 8 2 8 .5 8-2 8-2 8-2 8-2.5 8-3 8-1.5 8 .5 8-1.5 8-3 8-3 8 .5 8 4 8 6 8 5 8 2.5 8 0 8-.5 8-.5 8-.5 8-.5 8-.5 8 0 8 1.5 8 2 8 1 8-.5 8-1 8 2 8 3.5 8 2 8-.5 8-2 8-1.5 8-2.5 8-3.5 8-3.5 8-2.5 8-1 8 1 8 3.5 8 5.5 8 4.5 8 3.5 8-1 8-5 8-8.5" stroke="#ff10a0"/><path d="M100.5 328.5l8 .5 8 1 8 2 8 3 8 1.5 8-1.5 8-5 8-7.5 8-5.5 8-1.5 8 .5 8 2 8 2 8 1 8-2.5 8-4.5 8-1.5 8 3 8 6 8 4.5 8 0 8-4.5 8-7.5 8-7.5 8-7 8-.5 8 4 8 4 8 2 8-1 8-3 8-7 8-10 8-12.5 8-5 8 2.5 8 1.5 8-.5 8-3 8-2 8 4 8 7.5 8 6 8 5.5 8 6 8 7 8 8.5 8 6 8 2.5 8 1 8-.5 8-.5 8-1.5 8-.5 8 1 8 3.5 8 6.5 8 6 8 4 8 2 8 1 8-1 8-2.5 8-2.5 8-1.5 8-3 8-5 8-6.5 8-6 8-6 8-3.5 8 0 8 3.5 8 5 8 4.5 8 4.5 8 5 8 3.5 8 2 8 .5 8-.5 8 .5 8 2 8 4.5 8 4.5 8 3 8 1.5 8 0 8 0 8-.5 8-1 8-1.5 8 0 8 1 8 2.5 8 1 8 0 8-1.5 8-2 8-2 8-3 8-3 8-4 8-2.5 8-1 8 1.5 8 1.5 8 0" stroke="#9a00ee"/><path d="M100.5 346l8 1 8-1 8-3.5 8-5 8-8 8-9 8-7 8-4 8 1.5 8 5 8 3.5 8 1 8 .5 8 0 8-.5 8-1 8 1.5 8 3 8 2 8-.5 8-2 8-3 8-1 8 0 8-1 8-5 8-6.5 8-5.5 8-2.5 8 0 8-.5 8-3.5 8-5.5 8-6.5 8-4.5 8-2 8-.5 8 1 8 0 8 1 8 4.5 8 7 8 8 8 6.5 8 4 8 1.5 8 2 8 2.5 8 1 8 .5 8 1 8 2.5 8 4 8 5 8 6 8 7 8 5.5 8 3 8 0 8-.5 8-.5 8-1 8-2.5 8-3 8-2 8-1.5 8-2 8-1.5 8-1 8-3 8-3.5 8-3 8-1 8 .5 8 2 8 3 8 3.5 8 3 8 3 8 2.5 8 0 8-1.5 8-.5 8 0 8 1 8 2 8 1 8 .5 8 0 8 1 8 2 8 3 8 1.5 8 0 8-1 8-2 8-2.5 8-3.5 8-3.5 8-2 8 1.5 8 3.5 8 4 8 6.5 8 7 8 5.5 8-.5 8-1.5" stroke="#f000f0"/><path d="M100.5 351.5l8-2.5 8-2.5 8-2 8-4.5 8-7 8-5 8 2 8 1.5 8-3.5 8-8 8-10 8-9 8-5 8-.5 8 3 8 2 8-2 8-4.5 8-3 8 2.5 8 5 8 3.5 8 1 8 1.5 8 2.5 8 3.5 8 1.5 8-2 8-4.5 8-6 8-8.5 8-10.5 8-7 8-3 8 2.5 8 4 8 6.5 8 5.5 8 .5 8 .5 8 2 8 4 8 3.5 8 1.5 8-.5 8 0 8 3 8 4 8 4 8 5.5 8 5.5 8 3 8-.5 8-2.5 8-2 8 0 8 1.5 8 2 8 3 8 4 8 3 8 1 8-2.5 8-4 8-3.5 8-3 8-4 8-2 8 0 8 0 8 2 8 4.5 8 5.5 8 4.5 8 2.5 8 2 8 3 8 2.5 8 2.5 8 1 8-1.5 8-1.5 8-1 8 .5 8 1.5 8 1.5 8 1 8 0 8-.5 8 1 8 1.5 8 1.5 8-1 8-3.5 8-5 8-5 8-2 8 1 8 2.5 8 4 8 3 8 1 8-2 8-2 8-2.5 8-3 8-4 8-4" stroke="#3a3aff"/><path d="M100.5 326.5l8 4 8 3.5 8 1 8-1 8-4 8-5 8-5 8-7 8-8 8-10 8-10.5 8-8 8-5 8-1 8 2.5 8 5.5 8 6 8 5.5 8 5.5 8 5.5 8 4.5 8 2.5 8 1.5 8-1 8-3.5 8-6 8-5 8 1.5 8 5.5 8 5.5 8 3 8-1 8-4 8-8 8-10.5 8-10.5 8-5.5 8 3 8 7.5 8 9 8 6.5 8 0 8-4 8-3 8-.5 8 4.5 8 6.5 8 5 8 3.5 8 3 8 3.5 8 4 8 3.5 8 2.5 8 2 8 2.5 8 3.5 8 2.5 8 1.5 8 1.5 8 2.5 8 1 8-.5 8-.5 8 .5 8-.5 8-4 8-5 8-2.5 8-1 8 0 8-.5 8-1.5 8-1 8 1.5 8 4.5 8 6.5 8 6.5 8 5 8 2.5 8-.5 8-1.5 8-2.5 8-2.5 8-3 8-3 8-.5 8 3.5 8 5 8 4 8 .5 8-2 8-3.5 8-2.5 8-.5 8 1.5 8 2 8 .5 8-2 8-3.5 8-3 8 0 8 2.5 8 4 8 5 8 3.5 8 1 8-3" stroke="#c800ff"/><path d="M100.5 324.5l8 1 8-1 8-3.5 8-5 8-2.5 8 0 8 .5 8-2.5 8-1 8 2 8 2 8 2 8 1.5 8 1 8 0 8-1 8-.5 8-1.5 8-3 8-5 8-3 8-2 8-2 8-3.5 8-6 8-7.5 8-5.5 8-2 8 .5 8 0 8-1.5 8-4 8-3.5 8-6 8-6 8-4 8-2.5 8-3 8-3.5 8 0 8 4.5 8 3.5 8-1.5 8-1 8 5.5 8 11 8 13 8 9 8 6.5 8 7 8 7.5 8 6.5 8 4 8 2.5 8 1 8 2.5 8 5 8 6.5 8 4 8 2.5 8 2 8 .5 8-.5 8-2.5 8-3 8-3 8-3.5 8-2 8-.5 8 .5 8-.5 8-1.5 8-2.5 8-2 8-1.5 8 1 8 2 8 2 8 3.5 8 4 8 2.5 8 3.5 8 3.5 8 2.5 8-1 8-3 8-4 8-.5 8 2.5 8 2.5 8-1.5 8-4 8-3.5 8-2 8 1 8 1.5 8 .5 8-1 8-1.5 8 0 8 .5 8 .5 8 0 8-.5 8 0 8 1.5 8 3 8 2" stroke="#1a60ff"/><path d="M100.5 336l8-1 8 .5 8 1 8-.5 8-3 8-4.5 8-2.5 8-3 8-4 8-5.5 8-7 8-5 8-.5 8 3 8 3.5 8 2.5 8 1 8-1.5 8-4 8-4.5 8-1 8 1.5 8 3 8 .5 8-2.5 8-2.5 8-.5 8 0 8 1.5 8 2.5 8 3 8-.5 8-5.5 8-10 8-9 8-3 8 1 8-1 8-4 8-3 8 3 8 6 8 5.5 8 6.5 8 7 8 6.5 8 4.5 8 3 8 2 8 1.5 8 1 8 1.5 8 2.5 8 3.5 8 5 8 5.5 8 3.5 8 1.5 8 2 8 3.5 8 2.5 8 0 8-2.5 8-3.5 8-3.5 8-2.5 8-4.5 8-4 8-3 8-1 8 1.5 8 4 8 5 8 3.5 8 .5 8-1.5 8-1.5 8 0 8 2 8 2.5 8 1.5 8 1.5 8 2.5 8 3.5 8 3 8 1.5 8 1 8 .5 8 0 8-2.5 8-4 8-3.5 8-1 8 0 8-1 8-3.5 8-3.5 8-1.5 8 .5 8 1 8 .5 8 .5 8 0 8-2.5 8-5 8-6.5 8-4 8-1.5" stroke="#ff00c8"/><path d="M100.5 330.5l8 0 8 1 8 3 8 4 8 2.5 8-.5 8-3 8-4 8-3 8-2 8-4 8-4.5 8-3.5 8-4 8-4.5 8-5 8-3 8-1 8-2 8-1 8 2 8 3 8 3 8 .5 8-3.5 8-4.5 8-3.5 8-3 8-3.5 8-4 8-2.5 8 3 8 8 8 3 8-2.5 8-7 8-8 8-4.5 8-.5 8 2 8 5 8 5 8 3 8 3.5 8 4 8 4.5 8 5.5 8 4.5 8 4 8 3.5 8 2.5 8 1.5 8 1.5 8 1 8 1.5 8 1 8 1 8 1 8 1.5 8 3 8 3 8 1 8-1.5 8-2 8 0 8 0 8-1.5 8-1 8-.5 8-1 8-1 8-1 8 .5 8 1 8 .5 8 .5 8 .5 8 .5 8 1.5 8 1 8 0 8-.5 8-.5 8-1 8-2.5 8-2 8-1 8 .5 8 1.5 8 3 8 4.5 8 4.5 8 3 8-.5 8-3.5 8-4 8-3 8-.5 8 0 8-.5 8 0 8 0 8 1 8 1 8 1 8-.5 8-1.5 8-2.5" stroke="#5a10e0"/><path d="M100.5 331.5l8-6.5 8-4.5 8 1.5 8 5 8 3.5 8 .5 8-1.5 8-2.5 8-2.5 8-2 8-3.5 8-4 8-2 8 .5 8 2.5 8 3.5 8 4 8 5 8 2.5 8-1.5 8-5.5 8-6.5 8-5 8-.5 8 2 8 3 8 0 8-3 8-3 8 0 8 0 8-3 8-7 8-11 8-10 8-7 8-4.5 8 0 8 4 8 8 8 12.5 8 9 8 4.5 8 2.5 8 2 8 2 8 2 8-1.5 8-2.5 8-1.5 8 0 8 .5 8 .5 8 2.5 8 3.5 8 4.5 8 4 8 3 8 2 8 3.5 8 4 8 1.5 8-1 8-2 8-.5 8 0 8-1 8-3 8-4 8-5 8-5 8-2 8 1.5 8 4.5 8 5 8 4.5 8 3.5 8 3 8 3 8 3.5 8 2.5 8 1.5 8 1 8-.5 8-2 8-3.5 8-5 8-4.5 8-3.5 8-3 8-1.5 8 .5 8 2 8 2 8 1.5 8 1.5 8 2.5 8 4 8 3 8 1 8-3.5 8-5.5 8-4 8-.5 8 1 8 1 8-1 8-3" stroke="#ff00ff"/><path d="M100.5 321.5l8-.5 8 4 8 6.5 8 4.5 8-1.5 8-6 8-10.5 8-9.5 8-3 8 3.5 8 2 8-2 8-3.5 8-3 8 1 8 4.5 8 6 8 7 8 4 8 0 8-2.5 8-3.5 8-2 8-1 8-2 8-3.5 8-5 8-6 8-6 8 .5 8 4 8 2 8 1 8-3.5 8-9.5 8-13.5 8-14 8-5.5 8 1 8 4.5 8 8.5 8 10.5 8 9 8 8.5 8 7 8 5.5 8 4 8 2.5 8 2 8 3 8 3 8 3.5 8 3.5 8 2.5 8 1 8-1 8-1.5 8 .5 8 2.5 8 4.5 8 4.5 8 1.5 8-1 8-3.5 8-4.5 8-7 8-9 8-7.5 8-4 8-1.5 8 2 8 5 8 5.5 8 3 8 1.5 8 2.5 8 4 8 4.5 8 3.5 8 1 8-1 8-.5 8 .5 8 2 8 3 8 4 8 3 8 1.5 8 0 8-.5 8 0 8 0 8-2 8-3.5 8-3.5 8-.5 8 3 8 4.5 8 3.5 8 2.5 8 2.5 8 2 8 0 8-3 8-4.5 8-5.5 8-4.5 8-4" stroke="#ff00ff"/><path d="M100.5 297.5l8-11 8-9.5 8-4.5 8 1.5 8 4.5 8 2.5 8-2.5 8-8 8-7 8-1 8 1 8-1.5 8-4.5 8-3 8 0 8 3.5 8 6 8 9 8 9 8 7 8 1.5 8-7.5 8-11.5 8-10 8-2.5 8 3.5 8 4 8 4 8 1.5 8 .5 8 1.5 8 3 8 1 8-8.5 8-14 8-10.5 8-5 8-2 8-1.5 8 2.5 8 6 8 6 8 3.5 8 3 8 5.5 8 11 8 14.5 8 12 8 7 8 3 8-2 8-4 8-3.5 8-2.5 8 1 8 4.5 8 6.5 8 7 8 6 8 6 8 5.5 8 2.5 8-1 8-3.5 8-4 8-5.5 8-6.5 8-5.5 8-3.5 8-1.5 8-.5 8 1.5 8 2.5 8 3 8 3.5 8 5 8 4.5 8 3 8 2.5 8 1.5 8 .5 8-.5 8 0 8 .5 8 1 8-.5 8-2 8-4 8-3.5 8-4 8-2 8 .5 8 4.5 8 5 8 2 8-2.5 8-4.5 8-4 8-2 8 .5 8 2.5 8 3 8 2 8 .5 8 .5 8 1 8 0 8 .5" stroke="#e000d0"/><path d="M100.5 331.5l8 0 8-1.5 8-1.5 8 1 8 2.5 8 1 8-1.5 8-4 8-3 8 .5 8-.5 8-2 8-3 8-3.5 8-2 8 2 8 7 8 9 8 6.5 8 .5 8-1.5 8-.5 8 0 8-5 8-7.5 8-8 8-5 8-2.5 8-1.5 8-1.5 8-3.5 8-8.5 8-14 8-16.5 8-10.5 8-4 8 .5 8 2.5 8 3 8 2.5 8 3 8 4.5 8 8 8 15 8 13.5 8 9 8 5 8 3.5 8 4.5 8 3 8 .5 8-.5 8 0 8 2.5 8 5.5 8 5.5 8 3 8 1 8-.5 8 1 8 1 8 .5 8-2 8-3.5 8-3.5 8-4 8-3.5 8-2 8-.5 8 0 8 1.5 8 2 8 1 8-.5 8-2 8 0 8 2.5 8 4.5 8 6 8 5 8 3.5 8 1.5 8-.5 8-.5 8 0 8 2 8 2.5 8 2 8 .5 8-.5 8-2 8-2 8-1.5 8-.5 8 1 8 2 8 1.5 8-.5 8-2.5 8-2.5 8-1 8 .5 8 .5 8 .5 8-1 8-2 8-3.5 8-3" stroke="#6a18ff"/><path d="M100.5 313.5l8 6 8 5 8 1 8-2.5 8-3 8-2 8-3 8-5.5 8-3.5 8 0 8-1 8-2.5 8-3 8-1.5 8 2 8 6.5 8 6 8 2.5 8-2 8-3.5 8 .5 8 3 8 .5 8-.5 8-2.5 8-2 8-.5 8-1 8-3.5 8-4 8-4 8-5 8-7 8-11 8-12.5 8-11 8-4.5 8 1 8 2 8 3 8 4.5 8 6.5 8 8 8 10.5 8 10.5 8 8.5 8 5 8 1.5 8-.5 8-.5 8 0 8 1 8 2 8 3.5 8 4 8 4 8 4 8 4.5 8 4 8 5 8 4.5 8 2.5 8 0 8-2 8-2 8-3.5 8-5 8-5.5 8-2.5 8-1 8 1.5 8 3 8 2.5 8 1 8-.5 8 0 8 1.5 8 3 8 3.5 8 3.5 8 1 8-1 8-2 8 0 8 2.5 8 3 8 2 8 .5 8 .5 8 .5 8 0 8-1 8-2.5 8-3.5 8-2.5 8-2.5 8-1.5 8-1.5 8-2 8-1.5 8 0 8 .5 8 0 8-3 8-4.5 8-5 8-4.5 8-3" stroke="#ff00ff"/><path d="M100.5 355.5l8 0 8 1 8-1.5 8-6.5 8-8 8-4 8 .5 8 .5 8-4.5 8-7 8-6.5 8-3.5 8-.5 8 2 8 5.5 8 10.5 8 11.5 8 2.5 8 .5 8-2.5 8-9 8-10.5 8-7 8-4.5 8-3 8-3 8-3.5 8-5 8-5 8-4 8-1 8-.5 8 0 8-.5 8-2.5 8-4.5 8-5 8-2 8 0 8 1 8 3.5 8 5.5 8 7.5 8 8.5 8 5.5 8 4 8 4.5 8 5.5 8 5 8 4.5 8 3.5 8 2.5 8 1 8 1.5 8 1.5 8 1.5 8 1 8 1 8 0 8 1 8 1 8 .5 8-1 8-1.5 8-1.5 8-4 8-7 8-6.5 8-2.5 8-.5 8 1 8 1.5 8 3 8 2 8-.5 8 .5 8 1 8 2.5 8 3 8 2.5 8 1 8 .5 8 0 8 1 8 1.5 8 2.5 8 2 8 .5 8-1.5 8-1 8-.5 8 0 8 .5 8 .5 8 1 8 2 8 2.5 8 2.5 8 0 8-2 8-2.5 8-2 8-2 8-2 8-.5 8 2 8 4 8 4.5" stroke="#2222f0"/><path d="M100.5 327.5l8 3 8 3.5 8 3 8 2 8 0 8-3.5 8-5.5 8-6.5 8-4.5 8-1.5 8 .5 8 1.5 8 2 8 .5 8 .5 8 2.5 8 7 8 8.5 8 5 8-3.5 8-8.5 8-10 8-8.5 8-4.5 8-1.5 8-1.5 8-2.5 8-3 8-1 8 2.5 8 3 8 2 8 0 8-4.5 8-8.5 8-10.5 8-10.5 8-8.5 8-3.5 8 .5 8 5.5 8 5 8 3 8 4 8 7 8 9.5 8 9.5 8 6.5 8 3 8 1 8 .5 8-.5 8 .5 8 1.5 8 3 8 5 8 6 8 4 8 2 8 1 8 2 8 1 8 0 8-2 8-3 8-4.5 8-4.5 8-1.5 8 .5 8 0 8-1 8-2 8 0 8 1.5 8 4.5 8 6.5 8 6 8 4.5 8 2.5 8 1.5 8 .5 8-1 8-1.5 8-1 8 0 8 .5 8-1.5 8-4.5 8-4.5 8-2.5 8 .5 8 4.5 8 6.5 8 6.5 8 4 8 .5 8-2.5 8-3 8-3 8-2 8-1.5 8-2 8-3.5 8-3.5 8-2 8-1.5 8-1 8 .5" stroke="#ff10a0"/><path d="M100.5 339.5l8 1 8 0 8-.5 8-1.5 8-2 8-3 8-4.5 8-6.5 8-4.5 8-1 8 0 8 1 8 .5 8-.5 8-1 8-1.5 8 1 8 1 8-2 8-2.5 8 1 8 2.5 8 4.5 8 4 8 .5 8-5 8-9.5 8-10.5 8-10 8-2 8 3 8 1.5 8-1 8-4 8-4.5 8-4.5 8-3 8 .5 8 2 8 4 8 5.5 8 2.5 8-.5 8-2 8-.5 8 4.5 8 9 8 9.5 8 6 8 1 8-1 8 0 8 3.5 8 5.5 8 6 8 4 8 3.5 8 3.5 8 3 8 1.5 8 .5 8 .5 8-.5 8 0 8-1 8-3 8-5.5 8-5.5 8-4 8-4.5 8-3 8-.5 8 3 8 4 8 4 8 4 8 4 8 2.5 8 2 8 1.5 8 2.5 8 2 8 2 8 0 8-.5 8 0 8 0 8 1.5 8 3 8 2.5 8 .5 8-2 8-4.5 8-5.5 8-5 8-4.5 8-1.5 8 .5 8 0 8-1.5 8-1.5 8-.5 8 1.5 8 2 8 1 8-1.5 8-5 8-5" stroke="#9a00ee"/><path d="M100.5 310.5l8 5 8 12 8 11 8 4.5 8 1 8-1.5 8-4.5 8-7.5 8-6.5 8-2 8 0 8-1 8-1.5 8-1.5 8-.5 8 4 8 6.5 8 5.5 8 .5 8-3.5 8-2.5 8 0 8-.5 8-3.5 8-6.5 8-6.5 8-3 8-2 8-3.5 8-5 8-5 8-1.5 8 0 8 0 8 1 8 1.5 8 1 8-4 8-7 8-6 8-1.5 8 5 8 8 8 9.5 8 8.5 8 7.5 8 5 8-1 8-5 8-4.5 8-2 8 .5 8 2.5 8 4.5 8 4.5 8 3 8 2.5 8 4 8 4 8 3.5 8 3 8 2 8 0 8-2 8-3.5 8-4 8-4 8-3 8-1.5 8-.5 8 .5 8 .5 8 0 8 0 8 1.5 8 4 8 5 8 4 8 2.5 8 1.5 8 .5 8 0 8 .5 8 2.5 8 3 8 1.5 8-1 8-2.5 8-2.5 8-4.5 8-6.5 8-4.5 8 .5 8 6 8 7.5 8 3.5 8-.5 8-2.5 8-3 8-2.5 8-3 8-3.5 8-3 8-2 8-2 8-2 8-2.5 8-2" stroke="#f000f0"/><path d="M100.5 321.5l8 1.5 8-4 8-8.5 8-10 8-8.5 8-7 8-7 8-7.5 8-2.5 8 2 8 2.5 8 1.5 8 1 8 2.5 8 3.5 8 2 8-1 8-3.5 8-5 8-6.5 8-6.5 8-4.5 8-1.5 8 1 8 1 8-.5 8-3.5 8-2 8 1.5 8 3.5 8-2.5 8-10 8-9 8-8.5 8-6 8 1.5 8 8.5 8 7 8 2.5 8-.5 8-2.5 8-4 8-1.5 8 5.5 8 12.5 8 17 8 16 8 10 8 5 8 2 8 2 8 3.5 8 4 8 4 8 2 8 .5 8 0 8 0 8 2.5 8 6 8 6 8 2.5 8-3.5 8-7.5 8-6.5 8-5 8-5 8-3 8 0 8 1.5 8 2 8 1.5 8 2.5 8 3 8 2.5 8 4 8 4.5 8 3.5 8 2 8 .5 8-2 8-3 8-2 8-.5 8 .5 8 1 8-1.5 8-3.5 8-4 8-3 8-1.5 8-1.5 8 .5 8 1.5 8 0 8-2 8-.5 8-.5 8 3 8 7.5 8 8 8 6.5 8 1.5 8-4.5 8-8.5 8-7.5 8-5.5 8-3.5" stroke="#3a3aff"/><path d="M100.5 328.5l8-8 8-4.5 8-1 8 4 8 8 8 5.5 8-1.5 8-7 8-6.5 8-2.5 8 .5 8 1 8 1 8 .5 8 2 8 6.5 8 9 8 4 8-5.5 8-9.5 8-6 8-1.5 8 0 8-2.5 8-4.5 8-4 8-2 8-3 8-4.5 8-5.5 8-6.5 8-10 8-12 8-12 8-9 8-4 8 1.5 8 2 8 2 8 5.5 8 10 8 9 8 5.5 8 5 8 5.5 8 7 8 9 8 8.5 8 5 8 3.5 8 2 8 2.5 8 2 8 1.5 8 .5 8 0 8 2 8 4 8 5 8 6.5 8 5 8 2 8-1.5 8-4 8-5.5 8-7 8-7.5 8-4 8 0 8 2 8 3 8 3.5 8 3 8 1 8 .5 8 1 8 2 8 1 8 .5 8-.5 8-1 8-.5 8-.5 8-1.5 8-2.5 8-1 8 2 8 5.5 8 5.5 8 3.5 8 2.5 8 1 8 1 8 1 8 .5 8 0 8 0 8 .5 8 0 8-2 8-4.5 8-5.5 8-4 8 1.5 8 6 8 4.5 8-2.5 8-7" stroke="#c800ff"/><path d="M100.5 309l8 2.5 8 3.5 8 .5 8-2 8-3.5 8-4 8-3 8-1.5 8 1 8 1 8-2.5 8-6 8-7 8-8 8-5 8-.5 8 3.5 8 4 8 2 8 0 8 .5 8-1 8-1 8-3 8-5 8-6 8-7.5 8-9.5 8-9 8-5 8-2 8-.5 8 4.5 8 3.5 8-.5 8-3 8-2 8-.5 8 3.5 8 8 8 11 8 8.5 8 4 8 3.5 8 6.5 8 9.5 8 10 8 7 8 5 8 4 8 4 8 2 8 1 8-.5 8-1 8 1 8 3.5 8 4 8 4 8 4 8 3 8 0 8-3.5 8-5 8-4.5 8-3.5 8-3.5 8-2 8-1 8-1 8 .5 8 2.5 8 2.5 8 2 8 0 8 .5 8 1 8 1.5 8 2 8 2 8 .5 8 0 8-.5 8 0 8 1 8 1.5 8-.5 8-2.5 8-4 8-2 8 1 8 2 8 1 8-.5 8-1 8 .5 8 1 8 .5 8-.5 8-.5 8-1 8-1.5 8-2 8-1.5 8-1 8-1 8-1 8-.5" stroke="#1a60ff"/><path d="M100.5 324l8 5 8 6 8 3 8-.5 8-4.5 8-6.5 8-8 8-10.5 8-11.5 8-7 8-3 8 0 8 .5 8-1 8-1.5 8-.5 8 1 8 3 8 6 8 8.5 8 8.5 8 4 8 .5 8-1.5 8-2 8-.5 8 .5 8-1 8-5 8-5.5 8-2.5 8 0 8 1 8-6 8-12 8-12.5 8-10.5 8-5.5 8-4 8-1 8 3.5 8 6.5 8 8 8 10 8 10 8 9.5 8 9 8 6 8 3 8 2 8 1 8 0 8 0 8 0 8 1.5 8 4 8 4.5 8 4 8 2 8 3 8 4 8 2 8 0 8-1.5 8-2 8-3 8-4 8-3.5 8-2 8-.5 8 .5 8 1.5 8 2.5 8 2.5 8 1.5 8 2.5 8 2.5 8 2 8 2 8 3 8 2 8 2 8 1.5 8 .5 8 0 8 0 8-1 8-2 8-2.5 8-2.5 8-3 8-2.5 8-2.5 8-1 8 1 8 3 8 3 8 1 8-2 8-3 8-1 8 2 8 3 8 2.5 8 1 8-.5 8-3.5 8-5" stroke="#ff00c8"/><path d="M100.5 360.5l8 .5 8-1.5 8-1 8-1.5 8-2 8-1 8-.5 8-6 8-10.5 8-10 8-4.5 8 1 8 5 8 3.5 8 1 8 .5 8 2.5 8 3.5 8 2 8-2 8-5 8-6 8-4.5 8-2.5 8-1.5 8-2.5 8-2.5 8-1 8 4 8 7 8-1 8-2.5 8-3 8-4 8-5 8-4 8-1.5 8-3.5 8-2 8 2.5 8 3.5 8-.5 8 .5 8 3 8 4 8 4 8 2.5 8 0 8 1 8 3.5 8 4 8 4 8 3 8 2.5 8 3.5 8 5.5 8 3.5 8 2.5 8 1.5 8 1 8 .5 8 0 8-.5 8-1 8-1.5 8-2.5 8-3.5 8-2.5 8-1.5 8-1 8-.5 8 0 8-2.5 8 0 8 2 8 1.5 8 0 8-.5 8 1.5 8 2.5 8 2.5 8 2 8 2 8 1 8 .5 8 0 8 0 8-.5 8-1.5 8-1.5 8-1 8-.5 8 .5 8 1.5 8 2.5 8 2 8-1 8-3 8-3 8 1 8 5 8 7 8 3.5 8 1 8-5 8-12 8-10.5 8-5" stroke="#5a10e0"/><path d="M100.5 341l8-2.5 8-3 8-1.5 8 .5 8-.5 8-3 8-7 8-8 8-5.5 8-3 8-5 8-7.5 8-8.5 8-7.5 8-4 8 3 8 8.5 8 9 8 3.5 8-1 8-2 8-1.5 8 0 8 0 8-2.5 8-3.5 8 0 8 3.5 8 6 8 4 8 2.5 8-1 8-5.5 8-9 8-7.5 8-4 8-3 8-5.5 8-8.5 8-8.5 8 1 8 8 8 9.5 8 8 8 8 8 11 8 12 8 9.5 8 5 8 2 8 1 8 .5 8 0 8-.5 8 1 8 3.5 8 6 8 5.5 8 3 8 .5 8-.5 8-1.5 8-3.5 8-5.5 8-5.5 8-5.5 8-6.5 8-5.5 8-2.5 8 1.5 8 4.5 8 5.5 8 3 8 1.5 8 2 8 5 8 7 8 6 8 4.5 8 2 8-.5 8-1.5 8-1.5 8 .5 8 2 8 1.5 8-1 8-3.5 8-5 8-5 8-2.5 8-1 8-.5 8-1.5 8-1.5 8-.5 8 1.5 8 2 8 1 8-1.5 8-2.5 8-1 8 0 8-.5 8-2 8-3.5 8-3.5 8-1" stroke="#ff00ff"/><path d="M100.5 342l8 3.5 8 2.5 8-1 8-3 8-4.5 8-3.5 8-4 8-5 8-5.5 8-4.5 8-7 8-8.5 8-6.5 8-.5 8 4.5 8 4.5 8 0 8-4.5 8-6 8-5.5 8-4 8-4.5 8-3 8-2.5 8 0 8 3 8 7 8 10 8 7.5 8 3 8-2 8-5 8-4.5 8-1.5 8 2.5 8 2 8-2.5 8-8.5 8-7.5 8-5 8-1.5 8 .5 8 4.5 8 8.5 8 8 8 6.5 8 6.5 8 5.5 8 4.5 8 3 8 1 8 0 8-.5 8-1 8 0 8 1.5 8 2.5 8 3.5 8 4 8 5 8 4.5 8 2.5 8 0 8-2 8-2.5 8-3.5 8-4.5 8-4 8-3.5 8-4.5 8-5 8-4 8 .5 8 3.5 8 5 8 6 8 5.5 8 3 8 1 8 .5 8 .5 8 .5 8 1 8-.5 8-2 8-3.5 8-3 8-.5 8 2.5 8 4 8 3 8 1.5 8 1 8 2.5 8 4.5 8 3.5 8 0 8-3 8-3.5 8-1 8 1.5 8 1.5 8-2 8-4 8-4.5 8-3.5 8-2.5 8-2.5" stroke="#ff00ff"/><path d="M100.5 340l8-.5 8 2 8 2.5 8 .5 8-3.5 8-4 8-2.5 8-1.5 8-2 8-2.5 8-3.5 8-1.5 8 2.5 8 5 8 6 8 5 8 3 8 2.5 8 .5 8-2.5 8-4 8-3 8-2 8-7.5 8-9.5 8-11 8-8 8-2.5 8 2.5 8 3.5 8 .5 8-6 8-8.5 8-7.5 8-4 8-4 8-8 8-7 8-1 8 8 8 13 8 11.5 8 6 8 2 8 1.5 8 3 8 5.5 8 6.5 8 6 8 4 8 1.5 8-1.5 8-1 8 0 8 4 8 6.5 8 7 8 5.5 8 2.5 8 1 8 .5 8-1 8-1.5 8-3 8-2 8-2.5 8-5 8-5 8-4 8-4 8-2 8 2 8 4.5 8 5 8 2.5 8 1.5 8 1 8 2 8 4.5 8 4.5 8 1.5 8-1 8-3.5 8-3.5 8-2 8 .5 8 2.5 8 2.5 8 1.5 8 0 8-1.5 8-3 8-4 8-2.5 8-1 8-1.5 8-1.5 8 0 8 2 8 1 8-1.5 8-3 8-3 8-1.5 8 0 8 2 8 3 8 4" stroke="#e000d0"/><path d="M100.5 315l8-.5 8 0 8-2.5 8-1 8 4 8 9 8 6.5 8-2 8-8.5 8-12 8-10.5 8-3 8 5 8 8.5 8 9 8 10 8 12.5 8 8 8 .5 8-2.5 8-7 8-9 8-5.5 8-4.5 8-4.5 8-6 8-4.5 8-2.5 8-.5 8 .5 8 .5 8-2 8-3 8-5 8-6.5 8-7 8-7 8-4 8-.5 8 1 8 1.5 8 2 8 5 8 11 8 10.5 8 8 8 5.5 8 3.5 8 2.5 8 .5 8-.5 8-1 8 .5 8 1 8 1 8 1.5 8 2.5 8 2.5 8 3 8 4 8 4 8 1.5 8-2 8-4 8-4.5 8-3.5 8-2 8 1 8 1.5 8-.5 8-2 8-2 8 0 8 1 8 2 8 3.5 8 4 8 4 8 5 8 4 8 2.5 8 2 8 2 8 1.5 8 1 8 0 8-2 8-3 8-3 8-3 8-2.5 8-1 8 .5 8 .5 8 0 8-1.5 8-.5 8 .5 8 2.5 8 3 8 1.5 8-1 8-4 8-5.5 8-4 8-3.5 8-2.5 8-.5" stroke="#6a18ff"/><path d="M100.5 322l8 9 8 9 8 7 8 1.5 8-5.5 8-9 8-9 8-6 8-2 8-1.5 8-5.5 8-9 8-8 8-4 8 3 8 9.5 8 10.5 8 6.5 8 1 8-1 8 .5 8 1.5 8 1.5 8-2 8-6 8-8 8-4.5 8 0 8 4 8 5 8 1.5 8-4 8-6.5 8-9 8-7 8-4.5 8-2 8 0 8 0 8 0 8 2.5 8 4 8 4.5 8 9 8 11.5 8 10.5 8 6 8 0 8-3.5 8-3.5 8-2.5 8-1 8 1 8 3.5 8 5 8 6 8 5.5 8 3.5 8 2 8 2.5 8 2 8 .5 8-3 8-5 8-4 8-1.5 8-.5 8-.5 8-1 8-4 8-3 8-.5 8 2.5 8 1.5 8-1.5 8-.5 8 1 8 2 8 3.5 8 4 8 2 8 .5 8-1.5 8-1 8 0 8 1.5 8 1 8 1.5 8 .5 8-1 8-2.5 8-1 8 2.5 8 3.5 8 2 8 .5 8-.5 8 0 8 2 8 2.5 8 1 8-3 8-7 8-8 8-4 8 2 8 5 8 3" stroke="#ff00ff"/><path d="M100.5 356l8 0 8-2 8-3.5 8-3.5 8-3.5 8-3 8-4 8-6 8-5 8-.5 8 3.5 8 4.5 8 1.5 8 0 8-6.5 8-7 8-2.5 8 1.5 8 2.5 8 1 8-2 8-6 8-6.5 8-3.5 8-1.5 8-3 8-3 8-1 8 1.5 8 .5 8-1.5 8-3.5 8-3.5 8-4.5 8-5 8-7.5 8-10 8-8 8-4.5 8 2 8 8.5 8 13 8 13 8 11 8 9.5 8 8.5 8 9.5 8 7.5 8 2 8-1 8-2 8-1 8 0 8-.5 8 1 8 3.5 8 6 8 3.5 8 .5 8 .5 8 1 8 .5 8-2 8-3.5 8-2.5 8-2.5 8-2.5 8-2.5 8-1.5 8-.5 8 2 8 3 8 4 8 2.5 8 .5 8 .5 8 2 8 3.5 8 4 8 3.5 8 1.5 8 1 8-1 8-2 8-3 8-1.5 8 0 8 1 8 .5 8-1 8-2 8-2 8-.5 8 1 8 .5 8 0 8-.5 8 .5 8 1 8 1.5 8 1.5 8 .5 8-2 8-6 8-8.5 8-4.5 8-.5 8-.5" stroke="#2222f0"/><path d="M100.5 357.5l8-4 8 .5 8 4.5 8 5 8-1 8-2 8-8 8-14 8-13 8-8 8-6 8-5.5 8-5 8-5.5 8-3.5 8 0 8 3 8 2 8 1 8 2.5 8 5.5 8 7 8 2 8-.5 8-3.5 8-4.5 8-2 8-.5 8 .5 8 .5 8-2 8-4 8-7 8-10.5 8-18.5 8-15.5 8-5.5 8 2.5 8 5 8 5 8 6.5 8 10 8 13.5 8 13.5 8 12 8 7 8 3 8-.5 8-2.5 8 0 8 3 8 5.5 8 4.5 8 1.5 8-1 8-2 8-.5 8 1.5 8 3 8 5 8 5 8 2 8-1.5 8-3 8-4 8-5 8-7 8-5 8-2.5 8-1 8-1.5 8 .5 8 3 8 5 8 4.5 8 4.5 8 4.5 8 4 8 2.5 8 .5 8-.5 8-.5 8-1 8 1.5 8 4 8 5.5 8 5.5 8 2.5 8 .5 8-.5 8-1.5 8-2 8-2 8-1.5 8-1.5 8-2 8-3.5 8-2.5 8-.5 8 .5 8-1 8-2.5 8-4 8-3.5 8-2.5 8-1.5 8-1 8 0" stroke="#ff10a0"/><path d="M100.5 341.5l8-.5 8 1 8 3.5 8 3.5 8 0 8-5.5 8-8.5 8-7 8-2 8 3 8 1.5 8-1 8-3.5 8-4 8-1 8 3 8 7.5 8 7 8 2 8-4 8-6.5 8-5 8-2.5 8-2 8-4 8-4.5 8-2.5 8-.5 8 1 8 1.5 8 1 8 2 8 4 8-4 8-5 8-4 8-2.5 8-9 8-6.5 8-.5 8 4 8 6.5 8 6 8 5 8 4 8 4.5 8 7 8 6 8 4 8 2 8 0 8 .5 8 1.5 8 2.5 8 0 8 .5 8 1 8-.5 8-1 8 .5 8 3 8 2 8 0 8-.5 8-2 8-4 8-5 8-4 8-1 8-1 8-.5 8-1 8 1 8 1.5 8 1 8 2.5 8 2.5 8 2 8 1 8 1 8 .5 8 1.5 8 4 8 4.5 8 2 8-1.5 8-4 8-5.5 8-4 8-1.5 8 1 8 2.5 8 3 8 3 8 2.5 8 2 8 2 8 1.5 8 1.5 8 0 8-2 8-3.5 8-4.5 8-5.5 8-5 8-5 8-4 8-3" stroke="#9a00ee"/><path d="M100.5 327.5l8-4 8-2.5 8 0 8 .5 8 0 8-2 8-5.5 8-8 8-5.5 8-.5 8 2 8 1.5 8 .5 8-.5 8-1 8-2.5 8-3.5 8-1 8 1 8 1 8 .5 8 1.5 8 5.5 8 5 8 0 8-3 8-6 8-10.5 8-12.5 8-9 8-7 8-8.5 8-5 8-3 8-2.5 8-3.5 8-2.5 8 0 8 4 8 10 8 14.5 8 13.5 8 7 8 1 8-2.5 8-1 8 1.5 8 .5 8 .5 8 3 8 7 8 6.5 8 4.5 8 2 8 1.5 8 2.5 8 4 8 4 8 2.5 8 4.5 8 5 8 2.5 8-2 8-4 8-3 8-2 8-2.5 8-3 8-2 8-2 8 .5 8 2 8 4 8 3.5 8 2.5 8 2 8 1.5 8 1.5 8 1.5 8 0 8-1 8-1.5 8-2 8-1.5 8 0 8 .5 8 0 8-2.5 8-3 8-2.5 8 0 8 1.5 8 2.5 8 3.5 8 3 8 1 8 0 8 .5 8 1 8 1 8 2 8 2 8-1 8-3.5 8-3 8 0 8 3 8 3.5" stroke="#f000f0"/><path d="M100.5 361l8 3 8-1 8-6 8-9 8-7 8-4 8-3.5 8-5 8-5 8-3.5 8-4 8-4 8-3.5 8-3.5 8-5 8-5.5 8-5.5 8-4.5 8-2.5 8 .5 8 5 8 7 8 8 8 5.5 8 .5 8 1.5 8 3 8 1.5 8-2 8-2 8 .5 8 1 8-3 8-8.5 8-9 8-7 8-6.5 8-5.5 8-2 8 3.5 8 10.5 8 10.5 8 7 8 4.5 8 4.5 8 6 8 6 8 3 8 1 8 .5 8-.5 8-1 8 2 8 5 8 5.5 8 4.5 8 2 8 .5 8-.5 8-.5 8 1.5 8 .5 8-1 8-1.5 8-2.5 8-3.5 8-3 8-1 8 1 8 0 8-.5 8-.5 8 .5 8 2 8 2 8 2.5 8 3 8 1.5 8 1.5 8 .5 8 0 8-.5 8-.5 8-.5 8-1 8-1 8 0 8 .5 8 .5 8 1 8-.5 8-.5 8-.5 8-.5 8 0 8 .5 8 1.5 8 1.5 8 0 8-2 8-2.5 8-1.5 8 1 8 3 8 3.5 8 1.5 8 0 8-1.5" stroke="#3a3aff"/><path d="M100.5 324l8-3.5 8-2 8 1.5 8 3 8-1.5 8-7.5 8-9 8-5.5 8 1 8 4 8 0 8-3 8-1 8 1 8 .5 8-2 8-3 8-4 8-7 8-8.5 8-7.5 8-5 8-2 8 2.5 8 7.5 8 8.5 8 5 8-.5 8-3.5 8-3.5 8-3 8-4 8-2.5 8-3 8-1 8 1 8 0 8 0 8-.5 8 0 8 2 8 1.5 8 0 8 3 8 7 8 8 8 7 8 5.5 8 5.5 8 3.5 8 1 8-1 8 .5 8 1.5 8 3.5 8 3 8 3 8 2 8 2 8 3.5 8 4.5 8 1.5 8-2.5 8-6.5 8-8 8-7.5 8-6 8-2 8 1 8 0 8-1 8-1 8 2 8 3.5 8 4 8 6 8 6 8 3 8 1 8-.5 8 0 8 .5 8 .5 8 0 8 1 8 2 8 2 8-.5 8-2 8-3 8-2.5 8-1.5 8-1 8 0 8 .5 8 1.5 8 2 8 1.5 8-.5 8-2.5 8-4 8-2.5 8 2 8 3.5 8 1.5 8-3 8-5 8-3" stroke="#c800ff"/><path d="M100.5 332l8-1 8-2.5 8-4 8-5 8-3 8 0 8 1.5 8 0 8 .5 8 3 8 4.5 8 4 8 4 8 2.5 8 .5 8-.5 8 1.5 8 1 8-3 8-8 8-8 8-5.5 8-3 8-2 8-3.5 8-6.5 8-9.5 8-8 8-2.5 8 6 8 10.5 8 3.5 8-2.5 8-9.5 8-12 8-12 8-5.5 8 0 8 .5 8-.5 8-1.5 8-3 8-1 8 5 8 12 8 16.5 8 15 8 9 8 3.5 8 .5 8-1 8 0 8 .5 8 1.5 8 3 8 4.5 8 6 8 6 8 4 8 4.5 8 3.5 8 .5 8-2.5 8-4.5 8-4.5 8-4.5 8-4 8-2.5 8-1 8-.5 8-.5 8 .5 8 1 8 1 8 1 8 2 8 3 8 3 8 3.5 8 3 8 2.5 8 1.5 8 1 8 .5 8 .5 8 2 8 2 8 1 8-.5 8-1 8-1 8 0 8 0 8-.5 8-1 8-1.5 8-1 8 0 8 1 8 1.5 8 1 8 .5 8-.5 8-1 8-1 8-1.5 8-1.5 8-1.5" stroke="#1a60ff"/><path d="M100.5 354l8-2 8-.5 8-.5 8 0 8-1 8-1.5 8-3.5 8-10 8-14.5 8-15.5 8-10 8-.5 8 7.5 8 9.5 8 6.5 8-.5 8-7 8-14 8-12 8-4.5 8 2 8 4.5 8 8 8 11 8 4 8 1 8-1 8-2.5 8-2.5 8-3.5 8-5 8-5.5 8-3.5 8-3 8-1.5 8-.5 8 1 8 1.5 8 .5 8 5 8 10 8 9.5 8 5 8 4 8-.5 8-2.5 8-2 8-1 8 1.5 8 3 8 1.5 8 0 8 1 8 2.5 8 4 8 4.5 8 3.5 8 2 8 1 8 2 8 2.5 8 2 8 .5 8 0 8-.5 8-3 8-5 8-5 8-2 8 0 8 1.5 8 1.5 8 2.5 8 2 8 1.5 8 1.5 8 1 8 1.5 8 1 8-.5 8-1 8-2 8-1 8 1 8 1 8 .5 8 0 8 0 8-.5 8-1 8 0 8 1.5 8 3 8 2 8 .5 8-.5 8-1 8 0 8 0 8 1 8-.5 8-2 8-4 8-4.5 8-3 8-1 8 .5 8 0" stroke="#ff00c8"/><path d="M100.5 331.5l8 0 8-3 8-6.5 8-6.5 8-3.5 8-.5 8-.5 8-3.5 8-3.5 8-1 8-1 8-1.5 8-.5 8-2.5 8-7.5 8-12 8-13 8-9.5 8-3.5 8 4 8 7 8 4 8 .5 8 1 8 5.5 8 7 8 3 8-2 8-2 8 1.5 8 2.5 8-.5 8-7 8-13.5 8-15.5 8-12 8-4.5 8-.5 8 2.5 8 7 8 9.5 8 8 8 5.5 8 4 8 3 8 4.5 8 8 8 9.5 8 9 8 6.5 8 3.5 8 1 8 1 8 1.5 8 2 8 2.5 8 3.5 8 3.5 8 3.5 8 3.5 8 3.5 8 0 8-3 8-5 8-4.5 8-5 8-6.5 8-5.5 8-2 8 .5 8 2 8 2 8 3.5 8 3 8 3.5 8 4 8 3 8 2 8 1 8 1 8 0 8 .5 8 .5 8 1.5 8 1 8-.5 8-1.5 8-1 8-1 8-1 8-1 8 .5 8 2 8 4 8 4 8 4 8 2 8 0 8-2.5 8-5.5 8-4 8-3 8-2.5 8-2.5 8-.5 8 .5 8 .5 8-1" stroke="#5a10e0"/><path d="M100.5 348l8-1.5 8-4.5 8-5 8-2 8 1.5 8 1.5 8-.5 8-5 8-6 8-5 8-4.5 8-2.5 8 2 8 4 8 4.5 8 3 8 1 8-3 8-4.5 8-2 8 1.5 8 .5 8-1 8-3 8-4.5 8-4 8-1.5 8-1 8-2.5 8-4.5 8-6 8-6.5 8-6.5 8-9.5 8-11 8-7.5 8 0 8 5 8 8 8 7 8 7.5 8 6 8 3.5 8 2 8 1 8 2.5 8 6 8 6.5 8 5 8 4 8 2 8 2 8 2 8 3.5 8 4.5 8 5 8 4.5 8 3 8 1 8 1 8 .5 8 0 8-2 8-1.5 8 0 8 .5 8-1.5 8-2 8-1.5 8-1.5 8-1.5 8-2.5 8-2 8 0 8 1 8 2.5 8 2.5 8 1.5 8 3 8 2.5 8 1.5 8 0 8 0 8 .5 8 1 8 .5 8-.5 8 .5 8 3 8 4 8 4 8 1 8-1.5 8-2 8-1.5 8-.5 8 0 8-.5 8-2 8-2 8-2 8-.5 8-.5 8-1 8-3.5 8-5 8-4 8-2.5" stroke="#ff00ff"/><path d="M100.5 339.5l8 0 8 1 8 1.5 8 0 8-3 8-6 8-9 8-10.5 8-10 8-7 8-4 8-1.5 8-.5 8 0 8 1.5 8 2.5 8 3 8 1.5 8 .5 8 5 8 10.5 8 6 8 1.5 8-4.5 8-6.5 8-4 8 .5 8 2 8 0 8-2 8-1.5 8-1 8-.5 8-2.5 8-4 8-5 8-4.5 8-3.5 8-1.5 8 2.5 8 4 8 4 8 3 8 .5 8-2.5 8-5.5 8 2 8 8.5 8 10 8 7 8 3.5 8 .5 8-.5 8-.5 8 1.5 8 3 8 5.5 8 5 8 3.5 8 3.5 8 2.5 8 .5 8-3 8-5.5 8-5.5 8-3.5 8-2.5 8-1 8 .5 8 0 8 .5 8 1.5 8 2.5 8 3 8 2 8 3 8 3.5 8 4 8 3.5 8 2 8 1 8 0 8 .5 8 0 8-1 8-3 8-5 8-5 8 .5 8 5.5 8 4.5 8 2.5 8-1 8-2 8-3 8-3 8-2 8 0 8 2 8 2 8 0 8-1.5 8-1.5 8 1 8 3 8 4 8 2 8 1" stroke="#ff00ff"/><path d="M100.5 337l8 3 8 0 8-2 8-4.5 8-8.5 8-10.5 8-8.5 8-4.5 8 2.5 8 7 8 2 8-2.5 8-4 8-3 8-1 8-.5 8 1 8 4.5 8 6.5 8 3 8-.5 8-3 8-5 8-7 8-8.5 8-7 8-2 8 3 8 5.5 8 5.5 8 .5 8-5 8-9.5 8-10.5 8-5.5 8-3.5 8-5 8-4.5 8-2 8 1 8 5.5 8 7.5 8 11 8 13.5 8 13.5 8 11.5 8 5.5 8-2 8-3 8 .5 8 2 8 2.5 8 1.5 8-.5 8-2 8-.5 8 1.5 8 3 8 3.5 8 5 8 4 8 1 8-4 8-7 8-7 8-6 8-4.5 8-2 8 .5 8-.5 8 0 8 1.5 8 3 8 4 8 3.5 8 5 8 6 8 4.5 8 2.5 8 0 8-2.5 8-2.5 8-2 8 1 8 3.5 8 3.5 8 1.5 8-1 8-2.5 8-2.5 8-3 8-3 8-2 8 .5 8 2.5 8 3 8 .5 8-4 8-6 8-5 8-.5 8 3.5 8 3 8 .5 8-1.5 8-3 8-3.5 8-3" stroke="#e000d0"/><path d="M100.5 333.5l8 0 8-.5 8 .5 8 1 8 0 8-2 8-5 8-7.5 8-7 8-5 8-5.5 8-5.5 8-3.5 8-1 8 2.5 8 1.5 8-1 8-1 8 1.5 8 5 8 5.5 8 2 8-4 8-8 8-8.5 8-6.5 8-2.5 8-.5 8-1 8-4 8-10.5 8-17.5 8-12 8-4 8 2.5 8 7 8 6.5 8 2 8-2 8-2 8 4 8 10.5 8 15.5 8 15 8 9.5 8 5.5 8 5 8 4 8 3.5 8 3.5 8 3 8 3.5 8 3.5 8 4 8 2 8-1 8-1 8 .5 8 2.5 8 3.5 8 3 8 0 8-3.5 8-5 8-4 8-3.5 8-4.5 8-6 8-5 8-4 8-1 8 1.5 8 3.5 8 3.5 8 3.5 8 4 8 3.5 8 4 8 4 8 2 8-2 8-4 8-3 8-1 8 .5 8 2 8 2 8 2 8 1.5 8 .5 8 .5 8 0 8-.5 8-1.5 8-1.5 8 0 8 1 8 0 8 0 8 .5 8 .5 8 .5 8-.5 8-2 8-4 8-6.5 8-7 8-6.5" stroke="#6a18ff"/><path d="M100.5 325l8 1.5 8 4.5 8 6 8 3 8 .5 8-1.5 8-5 8-9.5 8-13.5 8-14 8-10.5 8-6 8-4.5 8-5 8-4 8-3 8 0 8 3.5 8 6.5 8 5 8 .5 8-4 8-2.5 8 3 8 5.5 8 4 8-.5 8-5 8-7 8-6.5 8-4.5 8-4.5 8 0 8-1 8-2.5 8-2.5 8-2 8-1.5 8-2.5 8-1 8 5.5 8 9.5 8 10.5 8 11 8 9 8 6 8 2 8-1 8 0 8 1.5 8 2.5 8 1.5 8 1.5 8 1.5 8 2 8 2.5 8 3.5 8 4.5 8 5.5 8 7.5 8 6 8 3.5 8 0 8-.5 8-.5 8-2 8-4.5 8-3 8-1 8 1 8 1 8 1.5 8 1.5 8 .5 8 .5 8 2 8 2.5 8 0 8-1.5 8-2 8-1.5 8-.5 8 0 8-1.5 8-3 8-3 8-2 8-1.5 8-2.5 8-1.5 8 0 8 2.5 8 4.5 8 4.5 8 2 8 0 8 0 8 1.5 8 2.5 8 1 8-.5 8-1.5 8-1.5 8-2 8-5 8-7.5 8-8 8-6.5" stroke="#ff00ff"/><path d="M100.5 314.5l8 .5 8 1 8 .5 8-3 8-5.5 8-4.5 8-1.5 8 0 8 .5 8-.5 8-4 8-6.5 8-7 8-8.5 8-10.5 8-9.5 8-6 8-1.5 8 1.5 8 4 8 4 8 .5 8-3 8-5 8-4 8 0 8 1 8 2 8 1 8-2.5 8-10.5 8-19.5 8-16.5 8-10 8-3 8 5.5 8 11 8 4 8-.5 8 4 8 5.5 8 5.5 8 5.5 8 9.5 8 13.5 8 15.5 8 13.5 8 7.5 8 2.5 8-.5 8 1.5 8 4.5 8 6.5 8 6 8 5 8 4 8 2 8 2.5 8 2.5 8 5 8 5.5 8 2.5 8-2.5 8-5.5 8-9 8-10 8-9.5 8-5 8 .5 8 3.5 8 4.5 8 4 8 3 8 2 8 2 8 2.5 8 3.5 8 3.5 8 3 8 2.5 8 .5 8-.5 8-1.5 8-2.5 8-3 8-1.5 8 .5 8 .5 8 .5 8 0 8 .5 8-1.5 8-4 8-5.5 8-4 8-1.5 8 1 8 2 8 3 8 4 8 2.5 8 0 8-2.5 8-4 8-4 8-3 8-1.5 8-2" stroke="#2222f0"/><path d="M100.5 332l8-9.5 8-5 8 4 8 8.5 8 6.5 8 2 8-1.5 8-7.5 8-10 8-9 8-7 8-5.5 8-4.5 8-3.5 8 2 8 11 8 13 8 9.5 8 3 8-2.5 8-4 8-4 8-3.5 8-1.5 8-.5 8 .5 8 .5 8-1 8-3.5 8-3 8-1 8-1 8-2.5 8-6.5 8-9 8-9 8-9 8-5.5 8-.5 8 3 8 8.5 8 9 8 6 8 4 8 2.5 8 1.5 8 3 8 3 8 2 8 1 8 1.5 8 1.5 8 2.5 8 1.5 8 2 8 3.5 8 6 8 7.5 8 7.5 8 4.5 8 .5 8-2 8-5 8-6 8-4.5 8-4.5 8-5 8-4 8-1 8 0 8 1.5 8 2.5 8 3 8 3 8 3 8 3.5 8 3 8 1.5 8 1.5 8 2 8 1.5 8 .5 8-1 8-2 8-2.5 8 0 8 1 8 2 8 3.5 8 4 8 3.5 8 1.5 8-.5 8-3 8-5 8-5.5 8-3 8 1.5 8 3.5 8 3.5 8 2 8 1 8 2.5 8 4 8 2 8-4 8-8.5 8-8.5" stroke="#ff10a0"/><path d="M100.5 361l8 3 8 1.5 8-3 8-5.5 8-6 8-7.5 8-11 8-13 8-11.5 8-3.5 8 1 8 2 8 2 8-.5 8-2.5 8-4 8-.5 8 2.5 8 1.5 8 0 8-.5 8 .5 8 1.5 8 .5 8-1 8-2.5 8-1.5 8-1 8-1.5 8-1.5 8-2.5 8-5 8-6.5 8-8.5 8-9.5 8-10.5 8-8 8-1.5 8 6 8 13 8 14.5 8 11.5 8 5.5 8 2 8 1.5 8 2.5 8 4.5 8 7 8 8 8 6.5 8 2.5 8-1.5 8-3 8-2 8-.5 8 1.5 8 2.5 8 3.5 8 3.5 8 5 8 4.5 8 2 8 0 8-3.5 8-6 8-6 8-4.5 8-1.5 8 0 8-1.5 8-1 8 1 8 3.5 8 3 8 .5 8 0 8 .5 8 2 8 1.5 8 1.5 8 0 8 1.5 8 4 8 4.5 8 3 8 .5 8-1 8-1 8 0 8 2 8 1.5 8 .5 8-.5 8-1 8 .5 8 1 8 0 8-.5 8-1 8-.5 8-1 8-4 8-9.5 8-10.5 8-5.5 8 1 8 5 8 5" stroke="#9a00ee"/><path d="M100.5 340l8-.5 8-.5 8 0 8-2 8-4 8-6 8-4.5 8-3.5 8-2 8-3 8-3.5 8-2.5 8 1 8 4 8 4.5 8 3 8 2 8 1.5 8 1.5 8 .5 8-1.5 8-2.5 8-2.5 8-2 8-2 8-2.5 8-1.5 8-1.5 8-2 8-4.5 8-6.5 8-9 8-7.5 8-3.5 8 0 8 0 8-1.5 8-3 8-1.5 8 3 8 9.5 8 10.5 8 9 8 8.5 8 6.5 8 4 8 1 8-3 8-3.5 8-1 8 2.5 8 4.5 8 6.5 8 7.5 8 6.5 8 2.5 8-2 8-4.5 8-3.5 8 .5 8 2.5 8 2 8 0 8-.5 8-1.5 8-3.5 8-6.5 8-6 8-4 8-3 8-2 8-.5 8 1.5 8 3 8 3 8 3.5 8 3.5 8 2 8 3 8 3 8 2 8 1.5 8 0 8-.5 8 0 8 0 8 .5 8 .5 8 .5 8 1 8 2 8 2 8 2 8 0 8-2 8-1.5 8-.5 8 1 8 .5 8 0 8 0 8 1.5 8 2.5 8 3.5 8 2.5 8 3 8 3 8 1.5" stroke="#f000f0"/><path d="M100.5 365.5l8 1 8 0 8 0 8-2 8-2 8-2 8-2.5 8-8.5 8-9.5 8-6 8-2 8 2 8 .5 8 2 8 3 8 2.5 8 3 8 2.5 8 .5 8-2.5 8-4 8-3 8-1.5 8-3 8-3.5 8-4.5 8-1.5 8 .5 8 1.5 8-1 8-1.5 8-2.5 8-4 8-6.5 8-6 8-6.5 8-8.5 8-13 8-9.5 8-2 8 9 8 13.5 8 11.5 8 8.5 8 5 8 3 8 2.5 8 2.5 8 3 8 2 8 1 8 0 8 1.5 8 2 8 2 8-.5 8-3 8-.5 8 2 8 5.5 8 6.5 8 3.5 8 .5 8-1.5 8-1 8-1 8-2 8-2.5 8-1 8-1 8 0 8 .5 8 1 8 2 8 2 8 2.5 8 1.5 8 1 8 1 8 1 8 0 8 0 8 0 8 .5 8 1 8 0 8-2 8-3.5 8-3 8 1 8 3.5 8 2.5 8-1 8-2 8-1.5 8 1.5 8 3.5 8 5 8 3 8 1 8 .5 8 1 8 1.5 8-.5 8-2.5 8-2 8-1 8 0" stroke="#3a3aff"/><path d="M100.5 320l8 1.5 8 5.5 8 8 8 4 8-2.5 8-9 8-11.5 8-9.5 8-4 8 2 8 3 8 1 8 1 8 1.5 8 1.5 8 2.5 8 3 8 3.5 8 1.5 8 .5 8 .5 8 1.5 8 2 8-1.5 8-8 8-11 8-9 8-8 8-4 8-4 8-7.5 8-12.5 8-8 8-3 8-.5 8-1.5 8-2.5 8 1.5 8 9 8 13 8 12.5 8 6.5 8 .5 8-.5 8 0 8 3 8 5 8 4 8 3 8 2.5 8 3 8 2 8 2 8 .5 8 1 8 2 8 4 8 4.5 8 5 8 5 8 4 8 1.5 8-2.5 8-4.5 8-4.5 8-3 8-3.5 8-3 8-2 8-2 8-2 8 0 8 1.5 8 2.5 8 2.5 8 4.5 8 5.5 8 4.5 8 4.5 8 4 8 2 8 .5 8-1 8-2.5 8-3 8-2.5 8-1 8 0 8 0 8 1.5 8 3 8 2.5 8 1 8 0 8 .5 8 .5 8-.5 8-1 8-1 8-.5 8-2.5 8-5 8-5.5 8-1.5 8 2.5 8 4 8 1.5 8-4" stroke="#c800ff"/></g>
<g fill="none" stroke="#000" clip-path="url(#ct)">
<path d="M100.5 338L103.5 338L106.5 337.9L109.5 337.7L112.5 337.4L115.5 337.2L118.5 336.9L121.5 336.5L124.5 336.2L127.5 335.8L130.5 335.3L133.5 334.7L136.5 334L139.5 333.2L142.5 332.3L145.5 331.4L148.5 330.4L151.5 329.3L154.5 327.9L157.5 326.2L160.5 324.3L163.5 322.2L166.5 320.1L169.5 318L172.5 316.2L175.5 314.6L178.5 313.3L181.5 311.9L184.5 310.5L187.5 309.1L190.5 308L193.5 307L196.5 306.2L199.5 305.9L202.5 305.8L205.5 305.9L208.5 306L211.5 306.3L214.5 306.5L217.5 306.8L220.5 307.1L223.5 307.5L226.5 307.8L229.5 308.2L232.5 308.8L235.5 309.5L238.5 310.2L241.5 310.9L244.5 311.6L247.5 312.2L250.5 312.8L253.5 313.2L256.5 313.6L259.5 313.9L262.5 314.2L265.5 314.4L268.5 314.3L271.5 313.9L274.5 313.2L277.5 312.3L280.5 311.2L283.5 310L286.5 308.8L289.5 307.6L292.5 306.6L295.5 305.4L298.5 304.1L301.5 302.7L304.5 301.4L307.5 300.3L310.5 299.5L313.5 299.1L316.5 298.8L319.5 298.5L322.5 298.3L325.5 298.1L328.5 298L331.5 297.8L334.5 297.6L337.5 297.3L340.5 297L343.5 296.5L346.5 295.7L349.5 294.5L352.5 293L355.5 291.4L358.5 289.8L361.5 288.1L364.5 286.4L367.5 284.4L370.5 282.3L373.5 280.1L376.5 277.9L379.5 275.8L382.5 274L385.5 272.1L388.5 270.1L391.5 268.2L394.5 266.4L397.5 265.1L400.5 264.3L403.5 264.1L406.5 264.2L409.5 264.5L412.5 264.8L415.5 265.3L418.5 265.8L421.5 267L424.5 268.8L427.5 271.1L430.5 273.5L433.5 276.1L436.5 278.4L439.5 280.5L442.5 282.6L445.5 284.7L448.5 286.9L451.5 289L454.5 291.1L457.5 293.2L460.5 295.3L463.5 297.3L466.5 299.3L469.5 301.4L472.5 303.4L475.5 305.4L478.5 307.2L481.5 308.8L484.5 310.1L487.5 311.2L490.5 312.3L493.5 313.3L496.5 314.2L499.5 315L502.5 315.8L505.5 316.5L508.5 317.1L511.5 317.7L514.5 318.3L517.5 318.9L520.5 319.5L523.5 320.1L526.5 320.6L529.5 321.2L532.5 321.7L535.5 322.3L538.5 322.9L541.5 323.5L544.5 324.3L547.5 325.1L550.5 326.2L553.5 327.3L556.5 328.6L559.5 329.9L562.5 331.2L565.5 332.5L568.5 333.8L571.5 335L574.5 336.3L577.5 337.7L580.5 339.1L583.5 340.5L586.5 341.7L589.5 342.7L592.5 343.4L595.5 343.6L598.5 343.4L601.5 342.9L604.5 342.1L607.5 341.1L610.5 340L613.5 338.8L616.5 337.6L619.5 336.4L622.5 335.2L625.5 333.8L628.5 332.2L631.5 330.5L634.5 328.8L637.5 327.3L640.5 325.9L643.5 324.9L646.5 324.3L649.5 323.8L652.5 323.4L655.5 323L658.5 322.6L661.5 322.3L664.5 322.1L667.5 322L670.5 321.9L673.5 322L676.5 322.3L679.5 322.8L682.5 323.4L685.5 324.1L688.5 324.9L691.5 325.8L694.5 326.6L697.5 327.4L700.5 328.4L703.5 329.5L706.5 330.6L709.5 331.8L712.5 333L715.5 334.2L718.5 335.2L721.5 336.1L724.5 337L727.5 337.9L730.5 338.8L733.5 339.6L736.5 340.4L739.5 341.1L742.5 341.6L745.5 341.9L748.5 342.1L751.5 342.3L754.5 342.5L757.5 342.6L760.5 342.8L763.5 342.9L766.5 343L769.5 343L772.5 343L775.5 343L778.5 343L781.5 343L784.5 343L787.5 343L790.5 343L793.5 343L796.5 343L799.5 343L802.5 343L805.5 343L808.5 343L811.5 343L814.5 343L817.5 343L820.5 343L823.5 343L826.5 343L829.5 343L832.5 343L835.5 343L838.5 343L841.5 343L844.5 343L847.5 343L850.5 343L853.5 343L856.5 343L859.5 343L862.5 343L865.5 343L868.5 343L871.5 343L874.5 343L877.5 343L880.5 343L883.5 342.9L886.5 342.9L889.5 342.8L892.5 342.7L895.5 342.6L898.5 342.6L901.5 342.5L904.5 342.3L907.5 342.2L910.5 342.1L913.5 341.9L916.5 341.6L919.5 341.1L922.5 340.5L925.5 339.8L928.5 339.1L931.5 338.3L934.5 337.6L937.5 337L940.5 336.4L943.5 335.9L946.5 335.3L949.5 334.8L952.5 334.2L955.5 333.7L958.5 333.1L961.5 332.6" stroke-width="5"/>
<path d="M100.5 315.9L103.5 315.9L106.5 315.7L109.5 315.5L112.5 315.3L115.5 314.9L118.5 314.5L121.5 314L124.5 313.5L127.5 312.9L130.5 312.2L133.5 311.5L136.5 310.8L139.5 310L142.5 309.2L145.5 308.4L148.5 307.5L151.5 306.6L154.5 305.4L157.5 303.7L160.5 301.6L163.5 299.5L166.5 297.3L169.5 295.2L172.5 293.4L175.5 292L178.5 291L181.5 290L184.5 289.2L187.5 288.4L190.5 287.7L193.5 287.1L196.5 286.5L199.5 285.9L202.5 285.5L205.5 285L208.5 284.5L211.5 284L214.5 283.6L217.5 283.2L220.5 282.9L223.5 282.7L226.5 282.7L229.5 282.8L232.5 283.2L235.5 283.7L238.5 284.2L241.5 284.8L244.5 285.5L247.5 286.1L250.5 286.6L253.5 287.1L256.5 287.7L259.5 288.3L262.5 288.7L265.5 289L268.5 288.9L271.5 288.4L274.5 287.5L277.5 286.3L280.5 285L283.5 283.4L286.5 281.8L289.5 280.3L292.5 278.8L295.5 277.5L298.5 276.5L301.5 275.8L304.5 275.3L307.5 274.9L310.5 274.6L313.5 274.4L316.5 274.2L319.5 274L322.5 273.8L325.5 273.6L328.5 273.4L331.5 273.1L334.5 272.8L337.5 272.4L340.5 271.9L343.5 271.2L346.5 269.6L349.5 267.4L352.5 264.7L355.5 261.8L358.5 259.1L361.5 256.8L364.5 254.9L367.5 252.8L370.5 250.6L373.5 248.5L376.5 246.5L379.5 244.7L382.5 243L385.5 241.7L388.5 240.9L391.5 240.4L394.5 240.4L397.5 240.4L400.5 240.4L403.5 240.4L406.5 240.4L409.5 240.4L412.5 240.4L415.5 240.7L418.5 241.7L421.5 243.1L424.5 244.8L427.5 246.8L430.5 249L433.5 251.2L436.5 253.3L439.5 255.3L442.5 257.4L445.5 259.6L448.5 262L451.5 264.5L454.5 267L457.5 269.5L460.5 272.1L463.5 274.6L466.5 277.3L469.5 280.2L472.5 283.2L475.5 286L478.5 288.6L481.5 290.9L484.5 292.6L487.5 294.2L490.5 295.7L493.5 297.1L496.5 298.4L499.5 299.6L502.5 300.7L505.5 301.8L508.5 302.9L511.5 303.9L514.5 304.9L517.5 305.9L520.5 307L523.5 308L526.5 308.9L529.5 309.7L532.5 310.6L535.5 311.5L538.5 312.3L541.5 313.3L544.5 314.2L547.5 315.3L550.5 316.4L553.5 317.5L556.5 318.7L559.5 319.9L562.5 321.1L565.5 322.4L568.5 323.6L571.5 324.9L574.5 326.5L577.5 328.3L580.5 330.1L583.5 331.9L586.5 333.5L589.5 334.8L592.5 335.7L595.5 336L598.5 335.7L601.5 334.9L604.5 333.6L607.5 332.1L610.5 330.3L613.5 328.5L616.5 326.7L619.5 325L622.5 323.4L625.5 321.6L628.5 319.7L631.5 317.8L634.5 315.9L637.5 314.2L640.5 312.7L643.5 311.5L646.5 310.8L649.5 310.2L652.5 309.6L655.5 309.1L658.5 308.7L661.5 308.3L664.5 308.1L667.5 307.9L670.5 307.8L673.5 307.9L676.5 308.5L679.5 309.3L682.5 310.3L685.5 311.5L688.5 312.8L691.5 314.1L694.5 315.3L697.5 316.5L700.5 317.8L703.5 319.2L706.5 320.7L709.5 322.1L712.5 323.6L715.5 324.9L718.5 326.1L721.5 327.2L724.5 328.1L727.5 329.1L730.5 330L733.5 330.9L736.5 331.7L739.5 332.3L742.5 332.8L745.5 333L748.5 333L751.5 332.9L754.5 332.8L757.5 332.6L760.5 332.4L763.5 332.2L766.5 332.1L769.5 332L772.5 332L775.5 332L778.5 332L781.5 332L784.5 332L787.5 332L790.5 332L793.5 332L796.5 332L799.5 332L802.5 332L805.5 332L808.5 332L811.5 332L814.5 332L817.5 332L820.5 332L823.5 332L826.5 332L829.5 332L832.5 332L835.5 332L838.5 332L841.5 332L844.5 332L847.5 332L850.5 332L853.5 332L856.5 332L859.5 332L862.5 332L865.5 332L868.5 332L871.5 332L874.5 332L877.5 331.9L880.5 331.9L883.5 331.7L886.5 331.6L889.5 331.4L892.5 331.2L895.5 331L898.5 330.8L901.5 330.5L904.5 330.3L907.5 330L910.5 329.7L913.5 329.4L916.5 329L919.5 328.5L922.5 327.9L925.5 327.2L928.5 326.5L931.5 325.8L934.5 325.1L937.5 324.4L940.5 323.7L943.5 323.1L946.5 322.4L949.5 321.7L952.5 321L955.5 320.3L958.5 319.5L961.5 318.8" stroke-width="5" stroke-dasharray="14.5 7.5"/>
<path d="M100.5 356L103.5 356L106.5 355.8L109.5 355.6L112.5 355.4L115.5 355L118.5 354.6L121.5 354.1L124.5 353.6L127.5 353L130.5 352.4L133.5 351.7L136.5 351L139.5 350.2L142.5 349.4L145.5 348.6L148.5 347.7L151.5 346.8L154.5 345.6L157.5 344L160.5 342.2L163.5 340.1L166.5 337.9L169.5 335.9L172.5 333.9L175.5 332.2L178.5 330.7L181.5 329.2L184.5 327.5L187.5 326L190.5 324.6L193.5 323.4L196.5 322.5L199.5 322.1L202.5 322L205.5 322.3L208.5 322.7L211.5 323.4L214.5 324.1L217.5 324.9L220.5 325.7L223.5 326.4L226.5 327.1L229.5 327.9L232.5 328.8L235.5 329.7L238.5 330.6L241.5 331.5L244.5 332.2L247.5 332.7L250.5 333L253.5 332.9L256.5 332.7L259.5 332.2L262.5 331.6L265.5 330.8L268.5 330L271.5 329.1L274.5 328.1L277.5 327.2L280.5 326.3L283.5 325.5L286.5 324.5L289.5 323.4L292.5 322.3L295.5 321.1L298.5 319.9L301.5 318.8L304.5 317.8L307.5 316.9L310.5 316.3L313.5 315.8L316.5 315.4L319.5 315.1L322.5 314.9L325.5 314.6L328.5 314.4L331.5 314.2L334.5 313.9L337.5 313.6L340.5 313.2L343.5 312.7L346.5 312L349.5 311.1L352.5 310L355.5 308.8L358.5 307.5L361.5 306.2L364.5 304.8L367.5 303.2L370.5 301.4L373.5 299.5L376.5 297.5L379.5 295.5L382.5 293.6L385.5 291.9L388.5 290.4L391.5 289.2L394.5 288.2L397.5 287.1L400.5 286.2L403.5 285.3L406.5 284.6L409.5 284.2L412.5 284L415.5 284.3L418.5 285.2L421.5 286.6L424.5 288.3L427.5 290.3L430.5 292.3L433.5 294.4L436.5 296.3L439.5 298.1L442.5 300.1L445.5 302.2L448.5 304.3L451.5 306.4L454.5 308.6L457.5 310.6L460.5 312.6L463.5 314.4L466.5 316.2L469.5 318.1L472.5 319.9L475.5 321.6L478.5 323L481.5 324.1L484.5 324.8L487.5 325.4L490.5 325.9L493.5 326.3L496.5 326.7L499.5 327L502.5 327.3L505.5 327.6L508.5 327.9L511.5 328.3L514.5 328.6L517.5 329.1L520.5 329.6L523.5 330.2L526.5 330.9L529.5 331.6L532.5 332.4L535.5 333.2L538.5 334.1L541.5 335L544.5 335.9L547.5 336.8L550.5 337.8L553.5 338.9L556.5 340.1L559.5 341.2L562.5 342.3L565.5 343.3L568.5 344.2L571.5 345L574.5 345.8L577.5 346.6L580.5 347.4L583.5 348.1L586.5 348.7L589.5 349.2L592.5 349.5L595.5 349.6L598.5 349.5L601.5 349.2L604.5 348.7L607.5 348.1L610.5 347.3L613.5 346.5L616.5 345.7L619.5 344.9L622.5 344L625.5 342.9L628.5 341.5L631.5 340.1L634.5 338.6L637.5 337.2L640.5 335.9L643.5 335L646.5 334.4L649.5 333.9L652.5 333.5L655.5 333.1L658.5 332.7L661.5 332.4L664.5 332.2L667.5 332.1L670.5 332L673.5 332.1L676.5 332.4L679.5 332.9L682.5 333.5L685.5 334.2L688.5 335L691.5 335.8L694.5 336.6L697.5 337.4L700.5 338.2L703.5 339.1L706.5 340.1L709.5 341.1L712.5 342.1L715.5 343.1L718.5 344L721.5 344.7L724.5 345.5L727.5 346.2L730.5 346.9L733.5 347.6L736.5 348.2L739.5 348.8L742.5 349.2L745.5 349.6L748.5 349.8L751.5 350.1L754.5 350.3L757.5 350.5L760.5 350.7L763.5 350.8L766.5 350.9L769.5 351L772.5 351L775.5 351L778.5 351L781.5 351L784.5 351L787.5 351L790.5 351L793.5 351L796.5 351L799.5 351L802.5 351L805.5 351L808.5 351L811.5 351L814.5 351L817.5 351L820.5 351L823.5 351L826.5 351L829.5 351L832.5 351L835.5 351L838.5 351L841.5 351L844.5 351L847.5 351L850.5 351L853.5 351L856.5 351L859.5 351L862.5 351L865.5 351L868.5 351L871.5 351L874.5 351L877.5 351L880.5 351L883.5 351L886.5 351L889.5 351L892.5 351L895.5 351L898.5 351L901.5 351L904.5 351L907.5 351L910.5 351L913.5 351L916.5 350.9L919.5 350.8L922.5 350.7L925.5 350.5L928.5 350.3L931.5 350.1L934.5 349.8L937.5 349.6L940.5 349.3L943.5 349.1L946.5 348.7L949.5 348.4L952.5 348L955.5 347.5L958.5 347.1L961.5 346.6" stroke-width="5" stroke-dasharray="14.5 7.5"/>
</g>
</g>
<g filter="url(#blt)" class="tah" clip-path="url(#ctt)">
<text transform="translate(86.4,175.6)" font-size="23" text-anchor="end">8</text>
<text transform="translate(85.9,277.3)" font-size="23" text-anchor="end">4</text>
<text transform="translate(143.48,401.7)" font-size="23" text-anchor="middle">0.6</text>
<text transform="translate(210.85,401.7)" font-size="23" text-anchor="middle">0.8</text>
<text transform="translate(263.1,401.7)" font-size="23" text-anchor="middle">1</text>
<text transform="translate(425.42,401.7)" font-size="23" text-anchor="middle">2</text>
<text transform="translate(587.73,401.7)" font-size="23" text-anchor="middle">4</text>
<text transform="translate(682.68,401.7)" font-size="23" text-anchor="middle">6</text>
<text transform="translate(750.05,401.7)" font-size="23" text-anchor="middle">8</text>
<text transform="translate(802.3,401.7)" font-size="23" text-anchor="middle">10</text>
<text transform="translate(950.5,401.7)" font-size="23">2</text>
<text transform="translate(447,431.6)" font-size="23" textLength="171" lengthAdjust="spacingAndGlyphs">Frequency (Hz)</text>
<text transform="translate(888.6,58.4)" font-size="23" class="tw" textLength="76.5" lengthAdjust="spacingAndGlyphs">ST05N</text>
<text transform="translate(53.9,242.7) rotate(-90)" font-size="23.6" class="tw">H/V</text>
</g>
<text transform="translate(86.6,77.6) scale(1,1.04)" font-size="29.3" text-anchor="end" class="b k">12</text>
<text transform="translate(85.1,380.3) scale(1,1.04)" font-size="29.3" text-anchor="end" class="b k">0</text>
<g clip-path="url(#cb)">
<g filter="url(#bl)">
<path d="M20 462.8H940" stroke="#dedede" stroke-width="1.8" fill="none"/>
<path d="M115.0 493.3V791.5M153.4 493.3V791.5M170.5 493.3V791.5M186.3 493.3V791.5M215.1 493.3V791.5M228.3 493.3V791.5M240.7 493.3V791.5M345.7 493.3V791.5M463.2 493.3V791.5M505.1 493.3V791.5M540.6 493.3V791.5M598.4 493.3V791.5M622.6 493.3V791.5M644.5 493.3V791.5M682.9 493.3V791.5M700.0 493.3V791.5M715.8 493.3V791.5M744.6 493.3V791.5M757.8 493.3V791.5M770.2 493.3V791.5M875.2 493.3V791.5M93.2 771.6H942.0M93.2 751.7H942.0M93.2 731.9H942.0M93.2 712.0H942.0M93.2 672.2H942.0M93.2 652.3H942.0M93.2 632.5H942.0M93.2 612.6H942.0M93.2 572.8H942.0M93.2 552.9H942.0M93.2 533.1H942.0M93.2 513.2H942.0" stroke="#f4f4f4" stroke-width="1.9" fill="none"/><path d="M93.1 493.3V791.5M135.0 493.3V791.5M201.2 493.3V791.5M252.5 493.3V791.5M411.9 493.3V791.5M571.3 493.3V791.5M664.5 493.3V791.5M730.7 493.3V791.5M782.0 493.3V791.5M941.4 493.3V791.5M93.2 791.5H942.0M93.2 692.1H942.0M93.2 592.7H942.0M93.2 493.3H942.0" stroke="#e9e9e9" stroke-width="2" fill="none"/><rect x="284.4" y="493.3" width="31.3" height="299.2" fill="#bebebe"/><rect x="315.7" y="493.3" width="25.3" height="299.2" fill="#9e9ea2"/><path d="M81.2 791.5H93.2M85.7 771.6H93.2M85.7 751.7H93.2M85.7 731.9H93.2M85.7 712.0H93.2M81.2 692.1H93.2M85.7 672.2H93.2M85.7 652.3H93.2M85.7 632.5H93.2M85.7 612.6H93.2M81.2 592.7H93.2M85.7 572.8H93.2M85.7 552.9H93.2M85.7 533.1H93.2M85.7 513.2H93.2M81.2 493.3H93.2M93.1 793.1V799.1M115.0 793.1V799.1M135.0 793.1V805.1M153.4 793.1V799.1M170.5 793.1V799.1M186.3 793.1V799.1M201.2 793.1V805.1M215.1 793.1V799.1M228.3 793.1V799.1M240.7 793.1V799.1M252.5 793.1V805.1M345.7 793.1V799.1M411.9 793.1V805.1M463.2 793.1V799.1M505.1 793.1V799.1M540.6 793.1V799.1M571.3 793.1V805.1M598.4 793.1V799.1M622.6 793.1V799.1M644.5 793.1V799.1M664.5 793.1V805.1M682.9 793.1V799.1M700.0 793.1V799.1M715.8 793.1V799.1M730.7 793.1V805.1M744.6 793.1V799.1M757.8 793.1V799.1M770.2 793.1V799.1M782.0 793.1V805.1M875.2 793.1V799.1M941.4 793.1V805.1" stroke="#4a4a4a" stroke-width="2.2" fill="none"/>
</g><g filter="url(#blc)">
<g fill="none" stroke-width="2.2" stroke-linejoin="round" clip-path="url(#cbp)"><path d="M93 790l3 0 3 0 3 0 3-.5 3 0 3 0 3 0 3 0 3 0 3 0 3-.5 3-.5 3-.5 3-.5 3-.5 3-1 3-1 3-1.5 3-1 3-1.5 3-2 3-2.5 3-2.5 3-3 3-3 3-3.5 3-3.5 3-3.5 3-4 3-3.5 3-2.5 3 .5 3 2.5 3 3.5 3 3.5 3 5 3 4.5 3 4 3 3 3 2 3 1.5 3 1 3 1 3 .5 3 1 3 0 3 .5 3 .5 3 .5 3 1 3 .5 3 .5 3 0 3 0 3 0 3-1 3-.5 3-.5 3-1 3-.5 3-1.5 3-2 3-4 3-4.5 3-5.5 3-5.5 3-6 3-6 3-5 3-5 3-2 3 3.5 3 6 3 6 3 7.5 3 7.5 3 4.5 3 3.5 3 2.5 3 2 3 1.5 3 .5 3-.5 3-1.5 3-1.5 3-2 3-2.5 3-3.5 3-4 3-4.5 3-4 3-4 3-3 3-3 3-1.5 3 1 3 2 3 2.5 3 3 3 4 3 3.5 3 2.5 3 2 3 1.5 3 1.5 3 1.5 3 1.5 3 1 3 1 3 1 3 .5 3 .5 3 .5 3 .5 3 .5 3 .5 3 1 3 1 3 .5 3 1 3 .5 3 0 3 0 3 0 3-.5 3-.5 3-1 3-1 3-1 3-.5 3-.5 3-1 3-.5 3 0 3-.5 3 0 3 0 3 0 3 .5 3 .5 3 .5 3 .5 3 1 3 .5 3 1 3 .5 3 .5 3 .5 3 .5 3 0 3 0 3 0 3 0 3 .5 3 0 3 0 3 0 3 0 3 0 3-.5 3-.5 3-.5 3-.5 3-.5 3-.5 3 0 3-.5 3 0 3 0 3 0 3 .5 3 .5 3 .5 3 .5 3 .5 3 .5 3 .5 3 1 3 1 3 1.5 3 1 3 1 3 0 3 .5 3 0 3 0 3 .5 3 0 3 0 3 0 3 0 3 0 3 0 3 0 3-.5 3 0 3 0 3 0 3 0 3-.5 3 0 3 0 3-.5 3 0 3-1.5 3-1.5 3-2 3-2 3-2 3-2 3-2.5 3-2.5 3-2.5 3-2.5 3-2.5 3-2.5 3-2 3-2 3-2.5 3-4 3-3 3-3 3-2.5 3-2 3-1.5 3-1 3 0 3 .5 3 .5 3 1 3 1 3 1 3 1 3 1 3 1 3 2 3 1.5 3 2.5 3 2.5 3 3 3 3 3 1.5 3 1.5 3 2 3 1 3 1 3 1 3 .5 3 .5 3 .5 3 0 3 0 3-.5 3-1 3-1 3-1.5 3-1 3-1.5 3-1.5 3-1 3-1.5 3-.5 3-1 3 0 3 0 3 0 3 0 3 .5 3 .5 3 0 3 .5 3-.5 3-.5 3 0 3-.5 3 0 3 0 3-.5 3 0 3 0 3 0 3 0" stroke="#ff9070"/><path d="M93 773.5l3-.5 3-.5 3-.5 3-1 3-1 3-1.5 3-1 3-1.5 3-1.5 3-2 3-2 3-3 3-3 3-3 3-3.5 3-4 3-5 3-5.5 3-6 3-7 3-8 3-9.5 3-11 3-13 3-15 3-14 3-14.5 3-14.5 3-11.5 3-7.5 3-5.5 3 2.5 3 11 3 13 3 16 3 18.5 3 16 3 16 3 14.5 3 10 3 8.5 3 7 3 5 3 3.5 3 3 3 3 3 2 3 1.5 3 2 3 2.5 3 2 3 2.5 3 2 3 1 3 1 3-.5 3-1.5 3-2 3-4 3-4.5 3-5.5 3-7 3-8.5 3-10.5 3-11.5 3-12 3-12.5 3-11 3-9.5 3-8 3-2.5 3 3.5 3 9 3 12 3 10.5 3 9.5 3 8.5 3 7 3 6.5 3 6 3 7 3 8 3 7.5 3 4.5 3 0 3-1.5 3-2 3-2.5 3-4 3-4 3-4 3-4.5 3-3.5 3-3.5 3-2 3 0 3 1.5 3 1.5 3 3 3 3 3 3.5 3 3 3 2 3 2.5 3 2 3 2 3 2 3 2 3 2 3 1.5 3 1.5 3 1.5 3 1 3 1 3 1 3 1 3 1 3 1 3 .5 3 1.5 3 1 3 1.5 3 1.5 3 1.5 3 2 3 2 3 2 3 2 3 1.5 3 2 3 1.5 3 1.5 3 1.5 3 1 3 1 3 .5 3 0 3 .5 3 0 3 0 3 .5 3 0 3 0 3 0 3 0 3 0 3 0 3 0 3 0 3 .5 3 0 3 0 3 0 3 .5 3 0 3 0 3 0 3 .5 3 0 3 0 3 0 3 0 3 0 3 0 3-.5 3 0 3 0 3-.5 3-.5 3-1 3-1 3-1 3-1 3-1 3-1 3-1.5 3-1 3-1 3-1 3-1 3-.5 3-.5 3-.5 3-.5 3-.5 3-.5 3 0 3-.5 3 0 3-.5 3-1 3-.5 3-1 3-1 3-1 3-1 3-.5 3-.5 3-.5 3-.5 3-.5 3-.5 3 0 3 0 3 0 3 .5 3 .5 3 1 3 1.5 3 1.5 3 1.5 3 1.5 3 1.5 3 1 3 .5 3 .5 3 .5 3 .5 3 0 3 .5 3 .5 3 .5 3 .5 3 0 3 .5 3 0 3 0 3 0 3 0 3 0 3 0 3 .5 3 .5 3 .5 3 .5 3 1 3 .5 3 1 3 .5 3 0 3-.5 3 0 3-.5 3 0 3-.5 3-.5 3-.5 3-1 3-.5 3-1 3-.5 3-1 3-1 3-1.5 3-1 3-1 3-1.5 3-1 3-1.5 3-1 3-1.5 3-1 3-1 3-1 3-.5 3-1 3-.5 3-1 3-.5 3-.5 3-.5 3-.5 3 0 3-.5 3 0 3-.5 3 0 3 0 3-.5 3 0 3 0 3 0" stroke="#ff7050"/><path d="M93 786.5l3 0 3 0 3-.5 3 0 3-.5 3 0 3-.5 3-.5 3-.5 3-.5 3-.5 3-.5 3-1 3-.5 3-1.5 3-1.5 3-1.5 3-2 3-2 3-2.5 3-3 3-4 3-4 3-4.5 3-5.5 3-6 3-6 3-6.5 3-7.5 3-7 3-4 3 .5 3 4.5 3 6 3 6 3 6.5 3 7.5 3 6.5 3 5 3 4.5 3 3.5 3 3 3 2.5 3 2 3 1.5 3 2 3 1 3 1 3 .5 3 0 3-.5 3-1 3-1 3-1.5 3-1.5 3-1.5 3-1 3-1.5 3-3 3-3.5 3-4.5 3-5 3-7.5 3-9 3-10 3-10.5 3-11 3-10.5 3-9 3-8.5 3-3.5 3 6 3 10 3 9 3 9.5 3 9.5 3 8 3 7.5 3 6.5 3 5 3 5 3 4.5 3 3 3 1 3-1.5 3-2 3-3 3-3.5 3-4.5 3-5 3-4.5 3-4.5 3-4 3-3.5 3-1.5 3 1 3 1.5 3 2.5 3 3.5 3 4 3 4 3 3.5 3 2.5 3 2.5 3 2 3 2 3 2 3 1.5 3 2 3 1.5 3 1.5 3 1.5 3 1 3 1 3 1 3 .5 3 .5 3 0 3 0 3 .5 3 0 3 0 3 .5 3 0 3 1 3 .5 3 1 3 .5 3 1 3 1 3 .5 3 .5 3 1 3 .5 3 .5 3 .5 3 .5 3 0 3 0 3 0 3 0 3 0 3 0 3 0 3 0 3 0 3 0 3 0 3 0 3 0 3 0 3 0 3 0 3-.5 3 0 3-.5 3 0 3-.5 3 0 3-.5 3-.5 3-1 3-1 3-1 3-1 3-1 3-1.5 3-2.5 3-3 3-3.5 3-3.5 3-3.5 3-3 3-4 3-4 3-4 3-3.5 3-3 3-2 3-1.5 3-.5 3 0 3 0 3 .5 3 1 3 1.5 3 1 3 1 3 .5 3 0 3-.5 3 0 3-.5 3 0 3 .5 3 1 3 1 3 1.5 3 1.5 3 2 3 1.5 3 2 3 1 3 1 3 .5 3 0 3-1 3-1 3-2 3-2 3-2.5 3-2.5 3-2.5 3-2 3-1.5 3-1 3-.5 3 0 3 0 3 0 3 0 3 0 3 .5 3 .5 3 .5 3 .5 3 .5 3 1 3 .5 3 .5 3 0 3-.5 3-1 3-1 3-1 3-.5 3-1 3-1 3-1 3-1.5 3-1 3-1.5 3-1.5 3-1.5 3-1 3-1 3-1.5 3-1 3-1.5 3-1 3-.5 3 0 3 .5 3 .5 3 0 3 0 3 .5 3 .5 3 .5 3 .5 3 .5 3 .5 3 .5 3 .5 3 0 3 .5 3 .5 3 1 3 .5 3 1 3 1 3 1 3 .5 3 1 3 1 3 1 3 1 3 1 3 1 3 .5 3 0 3 .5" stroke="#ffb050"/><path d="M93 785l3-.5 3-.5 3-.5 3-.5 3-.5 3-.5 3-.5 3-.5 3-.5 3-1 3-.5 3-1 3-1 3-1 3-1.5 3-2 3-2.5 3-2.5 3-3 3-3 3-3.5 3-4 3-4.5 3-4.5 3-5.5 3-6 3-6 3-5.5 3-6.5 3-6 3-3 3 2 3 5.5 3 7 3 6.5 3 7 3 7.5 3 7 3 5 3 4 3 4 3 3 3 2 3 2 3 2 3 1.5 3 1 3 1 3 1 3 .5 3 0 3 0 3-.5 3-.5 3-1 3-1 3-1.5 3-1.5 3-2 3-3.5 3-3.5 3-4.5 3-6.5 3-8 3-8.5 3-9 3-9.5 3-8.5 3-7.5 3-6.5 3-2 3 5.5 3 9 3 7.5 3 8.5 3 8 3 6 3 5.5 3 5 3 4 3 2 3 1.5 3 0 3-1 3-2 3-2 3-2.5 3-4 3-4.5 3-5 3-5 3-5 3-4.5 3-4 3-2.5 3 .5 3 1.5 3 2 3 3.5 3 4 3 4 3 3 3 3 3 2.5 3 2.5 3 2 3 1.5 3 2 3 1.5 3 1.5 3 1.5 3 1.5 3 1.5 3 1 3 .5 3 .5 3 .5 3 0 3 0 3-1 3-1 3-1.5 3-1.5 3-1.5 3-1.5 3-1.5 3-.5 3-.5 3 0 3 0 3 0 3 .5 3 .5 3 .5 3 1 3 1.5 3 1 3 1 3 .5 3 .5 3 0 3 .5 3 1 3 1 3 1.5 3 1.5 3 2.5 3 2 3 2.5 3 2 3 2 3 1 3 1.5 3 .5 3 1 3 .5 3 1 3 .5 3 .5 3 .5 3 0 3-.5 3-.5 3-1 3-1 3-1.5 3-3 3-3.5 3-4.5 3-5 3-5 3-5 3-5 3-5 3-4.5 3-4 3-3 3-1.5 3-.5 3 0 3 .5 3 0 3 0 3 0 3-.5 3 0 3-.5 3-.5 3-1 3-1 3-1 3-.5 3-.5 3-.5 3 0 3 0 3-.5 3-.5 3-1 3-.5 3-.5 3-.5 3 .5 3 0 3 .5 3 .5 3 .5 3 1 3 1 3 1 3 2 3 2 3 2 3 2 3 2 3 1.5 3 1.5 3 .5 3 0 3-.5 3-1 3-1.5 3-1 3-1.5 3-.5 3-.5 3 .5 3 1.5 3 1.5 3 2 3 1.5 3 1 3 1 3 1 3 0 3 0 3 0 3-.5 3-.5 3-.5 3-.5 3-1 3-.5 3-.5 3-.5 3-1 3-1.5 3-2 3-2 3-2.5 3-3 3-2 3-2 3-1.5 3-1.5 3-1 3-.5 3 0 3 0 3 .5 3 0 3 0 3 0 3-.5 3-.5 3 0 3 0 3 0 3 .5 3 .5 3 0 3 .5 3 1 3 .5 3 1 3 1 3 1.5 3 1 3 1.5 3 1 3 1 3 .5" stroke="#f0e040"/><path d="M93 784l3-.5 3 0 3-.5 3-.5 3-.5 3-1 3-.5 3-.5 3-.5 3-1 3-1 3-.5 3-1 3-1.5 3-1 3-2 3-2 3-3 3-3 3-3 3-3.5 3-4.5 3-5 3-5.5 3-5.5 3-7 3-7.5 3-7.5 3-7.5 3-8.5 3-6.5 3-2.5 3 3.5 3 7.5 3 8 3 7.5 3 8.5 3 8.5 3 7 3 6 3 5 3 4 3 3.5 3 2.5 3 2.5 3 2 3 1.5 3 1.5 3 1 3 1 3 1.5 3 1 3 .5 3 .5 3-.5 3-.5 3-.5 3-1 3-1.5 3-2.5 3-3 3-3.5 3-5 3-7 3-8 3-8.5 3-9.5 3-9.5 3-8 3-8 3-6 3 0 3 7.5 3 8.5 3 8 3 9 3 7.5 3 6.5 3 5.5 3 4.5 3 1 3-1 3-2.5 3-4 3-2.5 3-2.5 3-3.5 3-4 3-5 3-6 3-6 3-6 3-5.5 3-5 3-3 3 0 3 2 3 3 3 3 3 4.5 3 5 3 4.5 3 4 3 4 3 3 3 3 3 2.5 3 2.5 3 1.5 3 2 3 1.5 3 1 3 1 3 1 3 1 3 1 3 .5 3 1 3 0 3 .5 3 .5 3 0 3 .5 3 .5 3 1 3 1 3 1 3 1.5 3 1.5 3 1.5 3 1.5 3 1.5 3 1 3 1 3 .5 3 .5 3 0 3 0 3-.5 3-1 3-1 3-1.5 3-1 3-1.5 3-.5 3-1 3 0 3 0 3 1 3 1 3 1 3 1 3 .5 3 0 3-.5 3-.5 3 0 3-.5 3 0 3 0 3 0 3-.5 3-.5 3-1 3-1 3-.5 3-.5 3-1.5 3-1.5 3-2 3-2 3-2.5 3-2 3-2.5 3-2 3-2 3-1.5 3-.5 3 .5 3 1.5 3 1.5 3 2 3 1.5 3 1.5 3 1.5 3 1 3 .5 3 .5 3 0 3-.5 3-.5 3-1 3-.5 3-.5 3 0 3-.5 3-1 3-1.5 3-2.5 3-3.5 3-4.5 3-5 3-5 3-5 3-4.5 3-4 3-3 3-2 3-1.5 3-1 3-1 3-.5 3-.5 3-1 3-1 3-1.5 3-1 3-1 3-1 3-1 3 0 3 .5 3 2 3 3 3 3.5 3 3.5 3 3.5 3 3 3 3.5 3 2.5 3 2 3 2 3 1 3 1.5 3 2 3 2 3 2.5 3 3 3 2.5 3 2.5 3 2 3 1.5 3 1 3 .5 3-.5 3 0 3-1 3-1 3-.5 3-.5 3 0 3 0 3 .5 3 0 3 .5 3 0 3 0 3 0 3 .5 3 0 3 0 3 .5 3 .5 3 .5 3 .5 3 0 3 .5 3 0 3 0 3-.5 3 0 3-.5 3-1 3-.5 3-1 3-.5 3-1 3-1 3-1 3-1 3-.5 3-1" stroke="#a0f040"/><path d="M93 784.5l3-.5 3 0 3 0 3-.5 3-.5 3-.5 3-.5 3-.5 3-.5 3-.5 3-.5 3-.5 3-1 3-1 3-1 3-1 3-2 3-2 3-2.5 3-3 3-3.5 3-4 3-5 3-5.5 3-6 3-6.5 3-7.5 3-7.5 3-7 3-8 3-7 3-3.5 3 2 3 6 3 8 3 7.5 3 8.5 3 8.5 3 7.5 3 5.5 3 5.5 3 4 3 3 3 2.5 3 2.5 3 1.5 3 1.5 3 1 3 .5 3 .5 3 0 3 .5 3-.5 3 0 3-.5 3-1 3-1 3-1 3-1.5 3-2.5 3-3.5 3-4.5 3-5 3-8 3-9 3-10 3-10.5 3-12 3-10.5 3-9 3-8 3-2.5 3 6.5 3 10.5 3 9.5 3 10 3 9.5 3 8 3 7 3 5 3-2 3-8.5 3-10.5 3-9 3-2.5 3-2 3-5.5 3-6.5 3-5 3-6 3-7 3-4.5 3-4 3-3.5 3-1 3 3 3 4 3 4 3 3.5 3 4 3 4 3 4 3 4 3 4 3 3.5 3 3.5 3 3 3 2 3 1.5 3 1 3 1 3 1 3 1 3 .5 3 .5 3 .5 3 0 3 0 3 0 3 0 3 .5 3 1 3 .5 3 1.5 3 1.5 3 2 3 3 3 3 3 3.5 3 3.5 3 3.5 3 3 3 3 3 3 3 3 3 2.5 3 2.5 3 2.5 3 2 3 1 3 1.5 3 .5 3 1 3 .5 3 .5 3 .5 3 .5 3 .5 3 .5 3 .5 3 .5 3 0 3 .5 3-.5 3 0 3-.5 3 0 3 0 3 0 3 0 3 0 3-.5 3-1 3-1.5 3-2 3-2.5 3-3 3-4 3-4 3-5 3-4.5 3-4 3-3 3-3 3-2.5 3-2.5 3-2 3-1.5 3-1 3-.5 3-.5 3 .5 3 .5 3 .5 3 1 3 1.5 3 1.5 3 1 3 1 3 0 3-.5 3-1 3-1 3-1 3-.5 3-.5 3 0 3 0 3 0 3-.5 3 0 3-.5 3 0 3 0 3 .5 3 .5 3 1.5 3 2 3 2.5 3 2.5 3 3 3 2.5 3 2.5 3 2 3 2 3 1 3 1 3 .5 3 1 3 1 3 2 3 2 3 3 3 3.5 3 1.5 3 2 3 2 3 1 3 1 3 1 3 0 3 0 3-.5 3-1 3-.5 3-1.5 3-1 3-1.5 3-2 3-2.5 3-2 3-1.5 3-1 3-1 3 0 3-.5 3-.5 3-1 3-2 3-2 3-2.5 3-2.5 3-2 3-2 3-2 3-1 3-1 3 0 3 0 3 0 3 .5 3 0 3 0 3 0 3 0 3-.5 3-1 3-.5 3-.5 3-.5 3-.5 3 0 3-.5 3 0 3-.5 3 0 3 0 3 0 3 0 3 .5 3 .5 3 .5" stroke="#50e850"/><path d="M93 787l3 0 3-.5 3-.5 3 0 3-.5 3-.5 3-.5 3 0 3-.5 3-.5 3 0 3-.5 3 0 3-.5 3-.5 3-1 3-1.5 3-1.5 3-1.5 3-2.5 3-2.5 3-3.5 3-4 3-4.5 3-4.5 3-5 3-5 3-5 3-5.5 3-4.5 3-2.5 3 1 3 4 3 5 3 4.5 3 5.5 3 5.5 3 5 3 3.5 3 3 3 2.5 3 2 3 2 3 1.5 3 1.5 3 1 3 1 3 1 3 .5 3 0 3 0 3-.5 3-.5 3-1 3-1 3-1 3-.5 3-1.5 3-1.5 3-2.5 3-3 3-3.5 3-5 3-6.5 3-7 3-7 3-7.5 3-7 3-5.5 3-5 3-1.5 3 5 3 8.5 3 7.5 3 8 3 8 3 5.5 3 4.5 3 3.5 3 2.5 3 1 3 0 3-1.5 3-2.5 3-2.5 3-2.5 3-2.5 3-4 3-4.5 3-4.5 3-4 3-4.5 3-4 3-3.5 3-2 3 .5 3 1 3 2 3 2.5 3 3.5 3 3 3 3 3 2.5 3 2.5 3 2.5 3 2 3 2.5 3 2 3 2 3 2 3 1.5 3 1.5 3 1 3 1 3 1 3 .5 3 1 3 .5 3 0 3 .5 3 .5 3 0 3 0 3 0 3 0 3 0 3 0 3 0 3-.5 3-.5 3 0 3-.5 3 0 3 .5 3 0 3 .5 3 0 3 0 3-.5 3-.5 3-.5 3-.5 3-.5 3 0 3 .5 3 .5 3 1 3 1 3 1.5 3 1.5 3 1.5 3 1.5 3 1.5 3 1.5 3 1 3 1 3 1 3 .5 3 .5 3 0 3 0 3-.5 3-.5 3-1 3-1 3-1 3-1.5 3-2 3-2 3-2 3-2.5 3-2 3-2 3-3 3-3 3-3 3-3 3-2 3-2.5 3-1.5 3-1.5 3-1.5 3-1.5 3-1 3-.5 3 0 3 .5 3 .5 3 .5 3 0 3 0 3-.5 3 0 3-.5 3-.5 3-.5 3-.5 3-.5 3-.5 3-.5 3-.5 3-.5 3-.5 3-.5 3-.5 3-1 3-1 3-1 3-1 3-1 3-.5 3-.5 3-.5 3-.5 3 0 3-.5 3 0 3-.5 3 0 3 0 3 .5 3 1 3 1.5 3 1.5 3 1 3 1 3 1 3 1 3 .5 3 .5 3 0 3 0 3-.5 3 0 3-.5 3 0 3 0 3-.5 3 0 3 0 3 0 3 0 3-.5 3 0 3 .5 3 0 3 0 3 0 3 .5 3 0 3 1 3 .5 3 1 3 .5 3 0 3 .5 3 0 3-.5 3-.5 3-.5 3-.5 3-1 3-.5 3-.5 3-.5 3-.5 3 0 3 .5 3 0 3 .5 3 0 3 .5 3 0 3-.5 3 0 3-.5 3-1 3-.5 3-.5 3-.5 3-.5 3-.5" stroke="#60f0a0"/><path d="M93 783l3 0 3-.5 3-.5 3 0 3-.5 3-.5 3-.5 3-.5 3-.5 3-1 3-.5 3-1 3-1 3-1.5 3-1.5 3-2 3-2.5 3-3 3-3 3-4 3-4 3-5 3-6 3-6 3-7 3-8 3-8 3-7.5 3-8.5 3-8 3-3.5 3 2.5 3 7 3 9 3 9 3 9 3 9 3 8.5 3 6 3 5.5 3 4.5 3 3 3 2.5 3 2 3 2 3 1 3 1 3 .5 3 .5 3 0 3-.5 3-.5 3-1 3-1.5 3-1.5 3-2 3-1.5 3-2.5 3-3.5 3-4 3-5 3-5.5 3-7.5 3-8.5 3-9 3-10 3-10 3-9 3-8 3-7 3-2.5 3 6.5 3 10 3 9 3 10 3 9 3 7.5 3 6.5 3 6 3 4.5 3 3.5 3 4 3 2 3 0 3-2 3-3 3-3 3-4 3-5 3-5.5 3-5 3-5 3-4.5 3-4 3-2.5 3 .5 3 1.5 3 2.5 3 3 3 4.5 3 4 3 4 3 3.5 3 3.5 3 3 3 3 3 2.5 3 2 3 2 3 2 3 1.5 3 1.5 3 1.5 3 1.5 3 1.5 3 1 3 1.5 3 1 3 1.5 3 1 3 1 3 .5 3 1 3 .5 3 .5 3 .5 3 1 3 .5 3 .5 3 .5 3 0 3 .5 3 .5 3 .5 3 .5 3 .5 3 .5 3 .5 3 1 3 .5 3 1 3 1 3 1.5 3 1 3 1 3 1 3 1 3 .5 3 .5 3 .5 3 .5 3 0 3 0 3-.5 3 0 3-.5 3-.5 3-.5 3-.5 3-.5 3-1 3-.5 3-.5 3-.5 3-1 3-.5 3-1 3-1.5 3-1 3-1.5 3-1 3-.5 3-1 3-1 3-1 3-1 3-1 3-1 3-1 3-.5 3 0 3-.5 3 0 3 0 3-.5 3-.5 3-.5 3-.5 3-1 3-1.5 3-1 3-1.5 3-1.5 3-2 3-1.5 3-1.5 3-2 3-1.5 3-1.5 3-.5 3-.5 3 0 3 .5 3 .5 3 0 3 0 3-.5 3-.5 3-1 3-1.5 3-1.5 3-1.5 3-1 3-1.5 3-1 3-1 3-.5 3 0 3 0 3 .5 3 1 3 1 3 1.5 3 1 3 1 3 .5 3 1 3 1.5 3 1.5 3 2.5 3 2.5 3 2.5 3 3 3 2.5 3 2.5 3 2 3 1 3 .5 3 0 3 0 3-.5 3-.5 3-1 3-1 3-1 3-1.5 3-1.5 3-2 3-1.5 3-1.5 3-2 3-2 3-1.5 3-1.5 3-1.5 3-1.5 3-1 3-.5 3-.5 3-.5 3-.5 3-.5 3-.5 3 0 3-.5 3-.5 3-.5 3-.5 3-1 3-1 3-.5 3-1 3-1 3-1 3-1 3-1 3-1 3-1 3-1 3-.5 3-1 3-.5" stroke="#40f0d0"/><path d="M93 770l3 0 3 0 3 0 3 0 3-.5 3-.5 3-.5 3-1 3-1 3-.5 3-1 3-1.5 3-1.5 3-2 3-2 3-3 3-2.5 3-3.5 3-4.5 3-5 3-6 3-6.5 3-8 3-9 3-9.5 3-12 3-13.5 3-14 3-13 3-14 3-13 3-9 3-8 3-3 3 7 3 11 3 13 3 17 3 16.5 3 15.5 3 16 3 12 3 8.5 3 7.5 3 6 3 4 3 3.5 3 3.5 3 4 3 3.5 3 4 3 4 3 3.5 3 3 3 2 3 1 3-.5 3-1 3-1 3-1 3-2.5 3-3.5 3-4.5 3-5.5 3-7 3-9 3-11 3-11.5 3-12.5 3-13 3-10.5 3-10 3-6 3 1 3 8.5 3 12 3 11.5 3 11 3 10 3 8.5 3 6.5 3 4.5 3 3.5 3 2 3 2 3 .5 3-1 3-3 3-4 3-4.5 3-6 3-6.5 3-6.5 3-6 3-5.5 3-4.5 3-2 3 .5 3 2.5 3 2.5 3 3.5 3 4 3 4.5 3 4 3 3.5 3 3.5 3 3.5 3 3 3 2.5 3 2 3 2 3 1.5 3 1.5 3 1 3 1.5 3 1 3 .5 3 1 3 .5 3 .5 3 0 3 .5 3 0 3 0 3 .5 3 .5 3 1 3 1 3 1 3 1.5 3 1.5 3 1 3 1.5 3 .5 3 .5 3 0 3 .5 3 .5 3 .5 3 0 3 0 3-1 3-.5 3-1 3-1 3-.5 3 0 3 .5 3 1 3 1.5 3 2 3 2.5 3 2 3 1.5 3 1 3 .5 3 0 3 0 3 0 3-.5 3 0 3 .5 3 0 3-.5 3-1 3-1 3-1 3-1.5 3-1.5 3-2 3-2 3-2.5 3-1.5 3-1.5 3-.5 3-.5 3-.5 3-.5 3-.5 3-.5 3 0 3 0 3 .5 3 .5 3 .5 3 .5 3 .5 3 1 3 1 3 .5 3 1 3 .5 3 .5 3 0 3 0 3 0 3-.5 3-.5 3-.5 3-.5 3-.5 3-.5 3-.5 3 0 3 0 3 .5 3 .5 3 1 3 1.5 3 2 3 2 3 1.5 3 1 3 1 3 .5 3 1 3 .5 3 .5 3 .5 3 .5 3 .5 3 0 3 .5 3 0 3-.5 3-1 3-1 3-1.5 3-1.5 3-2.5 3-2 3-1 3-.5 3 0 3 .5 3 0 3 0 3-.5 3-1 3-1.5 3-1.5 3-2 3-2 3-2 3-2 3-2 3-2 3-2 3-2 3-1.5 3-2 3-2 3-1.5 3-2 3-1 3-1.5 3-1.5 3-1.5 3-1.5 3-1 3-.5 3-.5 3-.5 3-1 3-.5 3-1 3-1 3-1 3 0 3 0 3 .5 3 1 3 1 3 1.5 3 1 3 1 3 1 3 1.5 3 1 3 1 3 1 3 1" stroke="#40e0f0"/><path d="M93 782.5l3-.5 3 0 3-.5 3-.5 3-.5 3-.5 3-.5 3-1 3-.5 3-1 3-1.5 3-1.5 3-1.5 3-2 3-2.5 3-3 3-4 3-4 3-5 3-5 3-6.5 3-7 3-8 3-9 3-10 3-10 3-10 3-9.5 3-8.5 3-6.5 3-2.5 3 5 3 10 3 11.5 3 11.5 3 11.5 3 11 3 10 3 7.5 3 6.5 3 5 3 4 3 3.5 3 3 3 2 3 2 3 1 3 1 3 0 3-.5 3-1.5 3-1 3-2 3-2.5 3-2 3-2 3-2.5 3-3.5 3-5 3-6 3-6.5 3-8.5 3-10.5 3-11 3-12 3-13 3-12 3-9.5 3-8 3-4.5 3 1.5 3 7.5 3 12.5 3 14 3 11.5 3 11 3 9 3 7.5 3 7 3 6 3 5.5 3 5 3 4.5 3 1.5 3-1.5 3-3 3-3.5 3-5 3-6 3-6 3-6 3-6 3-4.5 3-4 3-1.5 3 1.5 3 2 3 2.5 3 3 3 4 3 3.5 3 3 3 2.5 3 2 3 2 3 2 3 2 3 1.5 3 1.5 3 2 3 1.5 3 2 3 2 3 1.5 3 1 3 1 3 .5 3 .5 3 .5 3 0 3-.5 3-.5 3-.5 3-1 3-.5 3-1 3-.5 3-.5 3 .5 3 .5 3 .5 3 1 3 1.5 3 1.5 3 2 3 2 3 1.5 3 1.5 3 1 3 .5 3 .5 3 .5 3 .5 3 .5 3 .5 3 .5 3 1 3 1 3 1.5 3 1.5 3 1.5 3 1 3 1 3 .5 3 .5 3 .5 3 0 3 .5 3 0 3 0 3-.5 3-1 3-1.5 3-2.5 3-2.5 3-3 3-4 3-4.5 3-4.5 3-4 3-4 3-2.5 3-2.5 3-2 3-1.5 3-1.5 3-.5 3 0 3 0 3 .5 3 1 3 .5 3 .5 3 0 3 .5 3 0 3 .5 3 .5 3 0 3 0 3 0 3 .5 3 0 3 .5 3 .5 3 0 3 0 3-.5 3 0 3-.5 3 0 3 0 3 0 3 0 3-.5 3-.5 3-1 3-1 3-1 3-1 3 0 3 0 3 1 3 1 3 1 3 1 3 1.5 3 1 3 1 3 1 3 1.5 3 1 3 2 3 1.5 3 1.5 3 1 3 .5 3 .5 3 .5 3 0 3 0 3 0 3 0 3 .5 3 0 3 0 3-.5 3-.5 3-1 3-2 3-2 3-2 3-3 3-2.5 3-3 3-2.5 3-3 3-3 3-3.5 3-3 3-3 3-2.5 3-2 3-2 3-2 3-2 3-1.5 3-.5 3 .5 3 .5 3 1 3 1 3 1.5 3 1 3 1.5 3 1.5 3 2 3 1.5 3 1.5 3 1 3 1 3 1 3 .5 3 .5 3 1 3 1.5 3 1.5 3 1.5 3 1.5 3 1.5 3 1 3 .5" stroke="#40b0ff"/><path d="M93 768l3-.5 3-1 3-1 3-1.5 3-1 3-1 3-2 3-2 3-2 3-3 3-2.5 3-3.5 3-4 3-5 3-6 3-6 3-7.5 3-8.5 3-9.5 3-11 3-13 3-14 3-13.5 3-14.5 3-14.5 3-10.5 3-9 3-6 3 3.5 3 10.5 3 11.5 3 16.5 3 18 3 16 3 17 3 14 3 9.5 3 8 3 6.5 3 4.5 3 3.5 3 3 3 2.5 3 1.5 3 1.5 3 1 3 .5 3 .5 3 .5 3 .5 3 0 3 0 3-.5 3-1 3-3 3-4.5 3-6 3-6 3-8.5 3-9.5 3-10.5 3-11.5 3-13 3-12.5 3-10.5 3-10 3-5.5 3 1.5 3 5 3 12.5 3 14.5 3 12.5 3 10.5 3 9.5 3 7.5 3 7 3 5.5 3 4 3 2.5 3 1.5 3 3 3 2.5 3 1.5 3 .5 3-2.5 3-5 3-5 3-5 3-5.5 3-4.5 3-4 3-2 3 1 3 1.5 3 2 3 3.5 3 4 3 4 3 3.5 3 3 3 3 3 2.5 3 2.5 3 2 3 1.5 3 2 3 1 3 1.5 3 1.5 3 1 3 1 3 1 3 1 3 1 3 1.5 3 1 3 1.5 3 1 3 1.5 3 1.5 3 1.5 3 1.5 3 1.5 3 1.5 3 1.5 3 1.5 3 1 3 1.5 3 1 3 1 3 1 3 1 3 1 3 1 3 .5 3 0 3 0 3-.5 3-.5 3-1 3-1.5 3-1 3-1 3-.5 3-.5 3 0 3 0 3 0 3 0 3-.5 3-.5 3-1 3-.5 3-1 3-1 3-.5 3-1 3-1.5 3-2 3-2 3-3 3-2.5 3-3 3-3 3-3.5 3-3 3-3 3-2.5 3-1.5 3-1 3-1 3-1 3-1.5 3-.5 3-.5 3 0 3 .5 3 1.5 3 2 3 2.5 3 3 3 3.5 3 4 3 3.5 3 3.5 3 3.5 3 2.5 3 2.5 3 2 3 1 3 1 3 0 3-.5 3-1 3-2 3-1.5 3-2.5 3-2 3-1.5 3-1.5 3-1 3-.5 3 0 3 0 3 1 3 1 3 1.5 3 2 3 2 3 .5 3 1 3 0 3-.5 3-1 3-2.5 3-3.5 3-3.5 3-3 3-3 3-2.5 3-2.5 3-1.5 3-2 3-1 3-.5 3-.5 3-.5 3 0 3-.5 3-.5 3 0 3-.5 3 0 3-.5 3-.5 3 0 3-.5 3-.5 3 0 3 .5 3 1 3 1.5 3 2 3 2 3 2 3 2 3 1.5 3 1 3 1 3 0 3-1 3-.5 3-1 3-1 3 0 3 0 3 0 3 1 3 .5 3 1 3 1 3 .5 3 .5 3 0 3 0 3 .5 3 0 3 0 3 0 3 0 3 0 3 0 3 0 3 .5 3 0 3 .5 3 0 3 .5 3 1 3 .5 3 1 3 .5" stroke="#5a6cff"/><path d="M93 778.5l3-.5 3-.5 3-1 3-.5 3-1 3-1 3-1 3-1 3-1 3-1 3-1.5 3-1.5 3-1.5 3-2 3-2 3-3 3-3 3-4 3-4.5 3-5.5 3-6 3-7.5 3-8.5 3-10 3-11 3-11.5 3-12 3-11.5 3-10 3-8.5 3-4.5 3 4 3 10 3 11.5 3 13.5 3 13.5 3 13 3 12 3 10 3 7 3 6.5 3 4.5 3 3.5 3 3 3 2.5 3 2 3 1 3 .5 3 0 3-.5 3-1.5 3-1.5 3-2 3-2 3-2 3-2 3-2 3-4 3-5 3-6 3-6.5 3-9 3-11 3-12.5 3-13.5 3-16 3-15 3-13 3-12 3-6 3 2 3 4.5 3 13 3 17.5 3 13.5 3 12 3 11 3 8.5 3 7.5 3 7 3 6.5 3 6 3 5.5 3 3 3-1 3-3 3-4 3-5 3-5.5 3-6.5 3-5.5 3-5.5 3-4.5 3-3 3-.5 3 1.5 3 2.5 3 2.5 3 3.5 3 4 3 4 3 3 3 3.5 3 3 3 3 3 2.5 3 2 3 2 3 1.5 3 2 3 1 3 1.5 3 1.5 3 1.5 3 2 3 2.5 3 2.5 3 2.5 3 3 3 2.5 3 3 3 2.5 3 2.5 3 2 3 1.5 3 2 3 1 3 1.5 3 1.5 3 1 3 .5 3 1 3 .5 3 .5 3 0 3 0 3 0 3 0 3-.5 3-.5 3-1 3-1 3-1.5 3-1 3-1 3-.5 3 0 3 .5 3 1 3 1.5 3 1.5 3 1 3 1.5 3 1.5 3 1 3 1 3 1 3 1.5 3 1 3 .5 3 1 3 1 3 .5 3 1 3 .5 3 .5 3 .5 3 0 3 .5 3 .5 3 .5 3 0 3 .5 3-.5 3 0 3-.5 3 0 3 0 3 0 3 0 3 .5 3-1.5 3-2 3-2 3-2 3-2 3-1.5 3-2 3-1.5 3-2 3-2 3-2 3-2.5 3-4.5 3-5.5 3-5 3-4.5 3-4.5 3-3.5 3-3.5 3-2.5 3-2 3-1.5 3-1 3-.5 3-.5 3 0 3 .5 3 .5 3 1 3 1.5 3 2 3 2.5 3 3 3 3 3 3.5 3 3.5 3 3.5 3 4 3 3 3 2 3 1.5 3 2 3 1.5 3 1.5 3 1.5 3 2 3 1.5 3 1.5 3 1 3 1 3 1 3 0 3 0 3 0 3 0 3-.5 3 0 3 0 3 .5 3 .5 3 0 3 .5 3 0 3 0 3-.5 3-.5 3-1 3-1 3-1 3-1 3-1.5 3-1.5 3-1.5 3-1 3-1.5 3-1 3-1 3-1 3-1 3-.5 3-1 3-.5 3 0 3-.5 3 0 3 0 3 0 3 .5 3 0 3 0 3 0 3-.5 3-.5 3-1 3-1 3-1 3-1.5 3-1.5 3-1.5 3-1.5 3-1.5" stroke="#4060ff"/><path d="M93 779.5l3 0 3-.5 3-.5 3-.5 3-.5 3-.5 3-.5 3-.5 3-1 3-.5 3-1 3-1 3-1.5 3-1.5 3-2 3-2.5 3-3.5 3-3.5 3-4.5 3-5 3-5.5 3-6.5 3-7.5 3-8 3-8.5 3-8.5 3-9 3-8 3-7.5 3-6.5 3-2 3 4.5 3 9 3 11 3 9.5 3 10 3 9.5 3 8.5 3 6.5 3 5 3 4.5 3 3.5 3 2.5 3 2.5 3 2 3 1.5 3 1 3 1 3 1.5 3 1.5 3 2 3 1 3 1 3 .5 3 0 3 0 3-1 3-1.5 3-2 3-3.5 3-3.5 3-5 3-7 3-8.5 3-9.5 3-10 3-11 3-10.5 3-9 3-8.5 3-3.5 3 6 3 9.5 3 9 3 9.5 3 9 3 8 3 7 3 6 3 5.5 3 6.5 3 7 3 6 3 3 3 .5 3-1.5 3-2 3-2.5 3-3.5 3-3 3-3 3-3 3-2.5 3-2 3-1 3 .5 3 1 3 1.5 3 2 3 2.5 3 2.5 3 1 3 1 3 1 3 1 3 1.5 3 1 3 1.5 3 1.5 3 1 3 1.5 3 1 3 1.5 3 1 3 1 3 1.5 3 1 3 1.5 3 1 3 1 3 1.5 3 .5 3 1 3 .5 3 0 3 .5 3 0 3-.5 3 0 3-.5 3 0 3-.5 3 0 3 0 3 .5 3 .5 3 0 3 .5 3 .5 3 0 3 0 3 0 3-.5 3-.5 3 0 3-.5 3 0 3 0 3 0 3 .5 3 .5 3 .5 3 .5 3 .5 3 .5 3 .5 3 0 3 .5 3 0 3 0 3 .5 3 0 3 0 3 0 3 0 3-.5 3 0 3-.5 3-.5 3-1 3-1.5 3-1.5 3-2 3-2 3-2.5 3-2 3-2 3-1 3-1 3 0 3 0 3 .5 3 .5 3 .5 3 .5 3 1 3 .5 3 .5 3 .5 3 0 3-.5 3-.5 3-1 3-1 3-1 3-1 3-1.5 3-.5 3-.5 3-.5 3-.5 3 0 3 .5 3 .5 3 .5 3 1 3 1.5 3 1.5 3 2 3 1.5 3 1.5 3 1.5 3 1 3 .5 3 .5 3 1 3 .5 3 1 3 1 3 1 3 1.5 3 .5 3 .5 3 0 3 0 3 0 3-.5 3 0 3 0 3 0 3-.5 3 0 3-.5 3 0 3-.5 3-.5 3-.5 3 0 3-.5 3-.5 3-.5 3-1 3-.5 3-1 3-1 3-1 3-1 3-1.5 3-1 3-.5 3-.5 3-1 3-.5 3-.5 3-.5 3-.5 3-1 3-.5 3-1 3-.5 3-1.5 3-1 3-1 3-.5 3-1 3-.5 3-1 3-.5 3-.5 3-.5 3-.5 3-.5 3-.5 3 0 3-.5 3 0 3 0 3-.5 3 0 3 0 3 0 3 0" stroke="#9060ff"/><path d="M93 786.5l3 0 3 0 3-.5 3 0 3-.5 3-.5 3-.5 3 0 3-.5 3-1 3-.5 3-1 3-1 3-1 3-1.5 3-1.5 3-2 3-2 3-2.5 3-2 3-3 3-3 3-3.5 3-3.5 3-4 3-4.5 3-4.5 3-4 3-5.5 3-5 3-3 3 .5 3 3 3 4 3 4 3 5 3 6 3 5 3 4 3 3.5 3 3.5 3 2.5 3 2.5 3 2 3 1.5 3 2 3 1 3 1 3 1 3 .5 3 0 3 0 3-.5 3-1 3-.5 3-1 3-1.5 3-1.5 3-2 3-3 3-3.5 3-4.5 3-6.5 3-8.5 3-8 3-9 3-10 3-8.5 3-7 3-6.5 3-2.5 3 6 3 9.5 3 8.5 3 9.5 3 8.5 3 7 3 5.5 3 5 3 4 3 3 3 3.5 3 2 3 0 3-1.5 3-2 3-2.5 3-3 3-4 3-4 3-3.5 3-4 3-3 3-3 3-2 3 0 3 1 3 1.5 3 2 3 2.5 3 3 3 2 3 2 3 2 3 2 3 2 3 2 3 1.5 3 1.5 3 1.5 3 1 3 1 3 1 3 1 3 1 3 1.5 3 1 3 1.5 3 1.5 3 1.5 3 1.5 3 1.5 3 2 3 1.5 3 1.5 3 1 3 1 3 1.5 3 1 3 .5 3 .5 3 0 3 .5 3 0 3 .5 3 0 3 .5 3 0 3 0 3 .5 3 0 3-.5 3-.5 3-1 3-.5 3-1 3-.5 3-.5 3-.5 3-.5 3-.5 3 0 3 0 3 0 3 0 3 0 3 0 3 0 3 0 3 0 3 0 3 0 3-.5 3 0 3-.5 3 0 3-.5 3-.5 3-.5 3 0 3-.5 3 0 3 0 3 0 3 0 3 0 3 .5 3 0 3 .5 3 .5 3 1 3 .5 3 .5 3 .5 3 .5 3 1 3 .5 3 1 3 1 3 .5 3 .5 3-.5 3 0 3-1 3-1 3-1.5 3-1.5 3-1.5 3-1.5 3-1.5 3-1 3-.5 3 0 3 0 3 0 3 .5 3 1 3 .5 3 .5 3 .5 3 .5 3-.5 3-.5 3-.5 3-1.5 3-1.5 3-1 3-1.5 3-1 3-.5 3-.5 3 .5 3 .5 3 .5 3 1 3 .5 3 .5 3 .5 3 .5 3 .5 3 .5 3 0 3 .5 3 1 3 .5 3 1 3 1 3 1 3 1 3 1 3 0 3 0 3-.5 3-.5 3 0 3-.5 3-1 3-.5 3-1 3-.5 3-1 3-1 3-1 3-1 3-1.5 3-1 3-1.5 3-1 3-1.5 3-1 3-1.5 3-1 3-1 3-.5 3-1 3-.5 3-1 3-.5 3-.5 3-.5 3-.5 3-.5 3-.5 3 0 3-.5 3 0 3 0 3-.5 3 0 3 0 3 0 3 0" stroke="#b040ff"/><path d="M93 777l3-.5 3 0 3-.5 3-.5 3-.5 3-.5 3-1 3-.5 3-1.5 3-1 3-1.5 3-2 3-2.5 3-2 3-3 3-3.5 3-4 3-4 3-5 3-5.5 3-5.5 3-7 3-7 3-8 3-8 3-8.5 3-8.5 3-8 3-8 3-6 3 0 3 5.5 3 8 3 8.5 3 9.5 3 10 3 10 3 8.5 3 7 3 6 3 5 3 3.5 3 3.5 3 2.5 3 2.5 3 2 3 1.5 3 1 3-1 3-2 3-3 3-4.5 3-4.5 3-5 3-4 3-4 3-5 3-7 3-8.5 3-8.5 3-12 3-14.5 3-15 3-16 3-19.5 3-18.5 3-13 3-13.5 3-6 3 6.5 3 7 3 10.5 3 23.5 3 19.5 3 13.5 3 12.5 3 9.5 3 7.5 3 6.5 3 5.5 3 7 3 10 3 10 3 5 3-1 3-5 3-5 3-5.5 3-6.5 3-5.5 3-5 3-4.5 3-3 3-.5 3 1.5 3 2.5 3 2.5 3 3.5 3 3.5 3 4 3 3.5 3 3 3 3 3 3 3 2.5 3 2 3 2 3 1.5 3 1.5 3 1 3 1.5 3 1 3 1.5 3 1.5 3 1.5 3 2 3 2 3 2.5 3 2.5 3 2.5 3 2 3 2.5 3 2 3 2 3 2 3 2 3 2.5 3 2 3 1.5 3 2 3 1.5 3 1 3 1 3 1 3 .5 3 .5 3 .5 3 .5 3 0 3 0 3 0 3 0 3 0 3-.5 3-.5 3-.5 3-.5 3-.5 3 0 3 0 3 .5 3 .5 3 .5 3 1 3 .5 3 1 3 1 3 .5 3 0 3 .5 3 0 3 0 3 0 3 .5 3 0 3 0 3 0 3 0 3 0 3-.5 3 0 3 0 3 0 3 0 3 .5 3 .5 3 .5 3 .5 3 1 3 .5 3 .5 3 0 3 .5 3 0 3 .5 3 .5 3 1 3 1 3 1.5 3 1 3 1.5 3 .5 3 0 3-.5 3 0 3 0 3 0 3 0 3 0 3-.5 3 0 3 0 3-.5 3-.5 3-2 3-2 3-2 3-2 3-2 3-2 3-1.5 3-1.5 3-1.5 3-1.5 3-1 3-1 3-1 3-.5 3 0 3 0 3 .5 3 1 3 1 3 1.5 3 1 3 1 3 1 3 .5 3 0 3 0 3-.5 3-.5 3-.5 3 0 3-.5 3 0 3 0 3 0 3 .5 3 0 3-.5 3 0 3-.5 3-1 3-1.5 3-1.5 3-2.5 3-2 3-2.5 3-2 3-2 3-1.5 3-1 3-.5 3-.5 3-.5 3 0 3 0 3-.5 3-.5 3-.5 3 0 3 0 3 0 3 0 3 .5 3 0 3 0 3 0 3-.5 3-.5 3-.5 3-.5 3-.5 3-.5 3 0 3-.5 3 0 3 0 3 0 3 0 3 0" stroke="#d050f0"/><path d="M93 768.5l3-.5 3-.5 3-1 3-1 3-1.5 3-1.5 3-1 3-1.5 3-1.5 3-2 3-2 3-2.5 3-2.5 3-3.5 3-3.5 3-4 3-5.5 3-5.5 3-6.5 3-8 3-9.5 3-10.5 3-12.5 3-15.5 3-15.5 3-15 3-15.5 3-15.5 3-10 3-8 3-5.5 3 5 3 12.5 3 13 3 18.5 3 20 3 17.5 3 18 3 15.5 3 10.5 3 9 3 7 3 5 3 3.5 3 3 3 2.5 3 1.5 3 1.5 3 1.5 3 1 3 1.5 3 1.5 3 1 3 0 3 0 3-.5 3-2 3-3.5 3-5 3-6 3-7 3-10 3-12.5 3-13.5 3-15 3-17 3-15.5 3-13 3-12 3-4.5 3 3 3 6 3 14 3 18.5 3 14 3 12 3 11 3 8 3 7.5 3 6.5 3 5 3 4 3 3 3 2 3-1.5 3-4 3-4.5 3-5 3-6 3-6.5 3-5.5 3-5.5 3-5 3-3 3 0 3 2 3 2.5 3 3 3 3.5 3 4 3 4.5 3 3.5 3 3.5 3 3.5 3 3.5 3 2.5 3 2 3 1.5 3 1.5 3 1.5 3 1 3 1.5 3 1 3 1 3 1 3 1 3 1 3 1 3 .5 3 1 3 .5 3 1 3 .5 3 .5 3 1 3 1 3 1 3 1 3 1.5 3 1 3 1.5 3 1 3 .5 3 1 3 1 3 1 3 0 3 0 3-1 3-1.5 3-2 3-2 3-1.5 3-2 3-1 3-1.5 3-.5 3 .5 3 1.5 3 2.5 3 2 3 1 3 0 3-.5 3-.5 3-1 3-.5 3 0 3 0 3 0 3-1 3-2.5 3-3 3-3 3-3 3-3 3-3.5 3-4.5 3-4.5 3-4.5 3-4 3-4 3-3 3-3 3-2 3-1.5 3 0 3 1.5 3 2.5 3 3 3 4 3 4 3 4 3 3.5 3 3.5 3 3 3 3 3 2 3 1 3 .5 3 .5 3 0 3-.5 3 0 3-.5 3-1 3-1 3-1.5 3-2 3-2 3-2 3-1.5 3-1.5 3-1.5 3-1.5 3-1 3-1.5 3-1 3-1 3-.5 3 0 3 .5 3 .5 3 1 3 1 3 1 3 1 3 1.5 3 1 3 1.5 3 1.5 3 2 3 2 3 2.5 3 2 3 2 3 2 3 2.5 3 2 3 2.5 3 2.5 3 2.5 3 2 3 2.5 3 2 3 1.5 3 1.5 3 1 3 1 3 .5 3 .5 3 0 3 0 3 0 3-.5 3-.5 3-.5 3-1 3-1 3-1 3-1 3-1.5 3-1.5 3-1.5 3-2 3-1 3-1.5 3-1 3-1 3-1.5 3-1 3-1 3-1 3-.5 3-.5 3 0 3 0 3 0 3 .5 3 1 3 .5 3 0 3 .5 3 0 3-.5 3-.5 3-.5 3-1 3-.5 3-.5 3-.5 3-.5" stroke="#ff30c0"/></g>
<g fill="none" stroke-width="2.6" clip-path="url(#cbp)"><path d="M93.2 774.4L95.7 774.1L98.2 773.7L100.7 773.1L103.2 772.5L105.7 771.8L108.2 771L110.7 770.1L113.2 769.2L115.7 768.3L118.2 767.4L120.7 766.2L123.2 764.9L125.7 763.4L128.2 761.7L130.7 759.9L133.2 757.9L135.7 755.7L138.2 753.2L140.7 750.1L143.2 746.6L145.7 742.7L148.2 738.4L150.7 733.7L153.2 728.1L155.7 721.8L158.2 714.7L160.7 707L163.2 697.7L165.7 687.5L168.2 676.8L170.7 666.5L173.2 655.8L175.7 644.7L178.2 634.9L180.7 627.5L183.2 620.9L185.7 616.7L188.2 618L190.7 625.4L193.2 634.7L195.7 645.1L198.2 657.7L200.7 670.9L203.2 683L205.7 695.1L208.2 706.5L210.7 715.6L213.2 722.5L215.7 728.5L218.2 733.6L220.7 737.5L223.2 740.5L225.7 743L228.2 745.3L230.7 747.1L233.2 748.5L235.7 749.4L238.2 750.1L240.7 750.8L243.2 751.3L245.7 751.7L248.2 751.8L250.7 751.6L253.2 751.2L255.7 750.4L258.2 749.4L260.7 748.3L263.2 746.8L265.7 744.1L268.2 740.3L270.7 735.7L273.2 730.5L275.7 724.9L278.2 717.7L280.7 709L283.2 699.2L285.7 689.2L288.2 678.1L290.7 665.7L293.2 653.8L295.7 644L298.2 634.6L300.7 626.6L303.2 623L305.7 624.7L308.2 628.9L310.7 636.6L313.2 649.5L315.7 662.9L318.2 673.2L320.7 682.7L323.2 691.3L325.7 698.5L328.2 704.6L330.7 710.2L333.2 715L335.7 718.6L338.2 720.7L340.7 722.3L343.2 723.4L345.7 723.4L348.2 721.6L350.7 718.2L353.2 714.1L355.7 710L358.2 705.5L360.7 700.1L363.2 694.6L365.7 689.8L368.2 685.6L370.7 681.4L373.2 678.1L375.7 676.7L378.2 677.4L380.7 679.3L383.2 681.6L385.7 683.9L388.2 686.6L390.7 689.7L393.2 692.9L395.7 696.2L398.2 699.2L400.7 701.9L403.2 704.7L405.7 707.4L408.2 709.9L410.7 712L413.2 713.7L415.7 715.2L418.2 716.5L420.7 717.6L423.2 718.8L425.7 719.8L428.2 721L430.7 722.1L433.2 723.3L435.7 724.4L438.2 725.4L440.7 726.5L443.2 727.5L445.7 728.5L448.2 729.6L450.7 730.6L453.2 731.7L455.7 732.8L458.2 733.9L460.7 735.1L463.2 736.3L465.7 737.6L468.2 739L470.7 740.6L473.2 742.2L475.7 743.9L478.2 745.6L480.7 747.3L483.2 748.8L485.7 750.2L488.2 751.5L490.7 752.6L493.2 753.6L495.7 754.7L498.2 755.7L500.7 756.6L503.2 757.4L505.7 758L508.2 758.3L510.7 758.4L513.2 758.2L515.7 757.9L518.2 757.4L520.7 756.9L523.2 756.3L525.7 755.8L528.2 755.3L530.7 755L533.2 754.7L535.7 754.7L538.2 755.1L540.7 755.7L543.2 756.5L545.7 757.3L548.2 757.9L550.7 758.3L553.2 758.4L555.7 758.4L558.2 758.4L560.7 758.4L563.2 758.4L565.7 758.4L568.2 758.4L570.7 758.4L573.2 758.3L575.7 757.8L578.2 756.8L580.7 755.5L583.2 753.9L585.7 752.2L588.2 750.5L590.7 748.9L593.2 746.9L595.7 744.5L598.2 742L600.7 739.5L603.2 737L605.7 734.8L608.2 732.9L610.7 731.5L613.2 730L615.7 728.7L618.2 727.5L620.7 726.6L623.2 726.1L625.7 726L628.2 726.3L630.7 726.8L633.2 727.5L635.7 728.3L638.2 729.1L640.7 730L643.2 730.7L645.7 731.4L648.2 732.2L650.7 733L653.2 733.7L655.7 734.3L658.2 734.7L660.7 734.7L663.2 734.4L665.7 733.9L668.2 733.4L670.7 732.7L673.2 732L675.7 731.3L678.2 730.6L680.7 729.8L683.2 728.8L685.7 727.8L688.2 726.8L690.7 725.8L693.2 724.8L695.7 723.9L698.2 723.1L700.7 722.5L703.2 722L705.7 721.6L708.2 721.2L710.7 720.8L713.2 720.5L715.7 720.2L718.2 719.9L720.7 719.7L723.2 719.5L725.7 719.3L728.2 719.2L730.7 719.1L733.2 719L735.7 718.9L738.2 718.8L740.7 718.7L743.2 718.6L745.7 718.6L748.2 718.5L750.7 718.5L753.2 718.5L755.7 718.6L758.2 719L760.7 719.6L763.2 720.4L765.7 721.3L768.2 722.1L770.7 722.9L773.2 723.9L775.7 725L778.2 726.1L780.7 727.2L783.2 728.2L785.7 729L788.2 729.7L790.7 730.1L793.2 730.6L795.7 731L798.2 731.4L800.7 731.7L803.2 732.1L805.7 732.3L808.2 732.5L810.7 732.6L813.2 732.7L815.7 732.7L818.2 732.6L820.7 732.4L823.2 732.2L825.7 732L828.2 731.7L830.7 731.4L833.2 730.7L835.7 729.9L838.2 728.9L840.7 727.9L843.2 726.8L845.7 725.8L848.2 724.9L850.7 724.1L853.2 723.3L855.7 722.4L858.2 721.6L860.7 720.8L863.2 720.1L865.7 719.6L868.2 719.3L870.7 719.2L873.2 719L875.7 718.9L878.2 718.7L880.7 718.6L883.2 718.6L885.7 718.5L888.2 718.5L890.7 718.5L893.2 718.7L895.7 718.9L898.2 719.2L900.7 719.5L903.2 719.9L905.7 720.2L908.2 720.5L910.7 720.8L913.2 721L915.7 721.1L918.2 721.3L920.7 721.4L923.2 721.6L925.7 721.7L928.2 721.8L930.7 721.9L933.2 722L935.7 722.1L938.2 722.2L940.7 722.3" stroke="#7fa6ff"/><path d="M93.2 786.7L95.7 786.6L98.2 786.4L100.7 786.3L103.2 786.1L105.7 785.9L108.2 785.7L110.7 785.4L113.2 785.2L115.7 784.9L118.2 784.6L120.7 784.3L123.2 784L125.7 783.6L128.2 783.1L130.7 782.6L133.2 782L135.7 781.3L138.2 780.4L140.7 779.3L143.2 777.9L145.7 776.3L148.2 774.6L150.7 772.7L153.2 770.6L155.7 768.1L158.2 765.1L160.7 761.9L163.2 758.4L165.7 754.9L168.2 751L170.7 746.8L173.2 742.5L175.7 738.5L178.2 734.4L180.7 729.8L183.2 726L185.7 723.8L188.2 724.2L190.7 726.9L193.2 731.1L195.7 735.7L198.2 739.9L200.7 744.8L203.2 750L205.7 754.9L208.2 758.8L210.7 761.8L213.2 764.6L215.7 766.9L218.2 768.8L220.7 770.3L223.2 771.6L225.7 772.8L228.2 773.8L230.7 774.7L233.2 775.5L235.7 776.1L238.2 776.7L240.7 777.3L243.2 777.8L245.7 778.2L248.2 778.5L250.7 778.6L253.2 778.5L255.7 778.2L258.2 777.7L260.7 777L263.2 776.3L265.7 775.4L268.2 774.3L270.7 772.7L273.2 770.8L275.7 768.6L278.2 766.1L280.7 762.3L283.2 757.3L285.7 751.6L288.2 745.8L290.7 739.6L293.2 732.7L295.7 726L298.2 720.3L300.7 714.7L303.2 709.8L305.7 707.5L308.2 710L310.7 716.1L313.2 722.3L315.7 728.6L318.2 735.5L320.7 742L323.2 747.4L325.7 751.8L328.2 755.8L330.7 759.2L333.2 761.8L335.7 763.7L338.2 765.3L340.7 766.3L343.2 766.4L345.7 765.7L348.2 764.4L350.7 762.8L353.2 761L355.7 758.6L358.2 755.4L360.7 751.8L363.2 748.3L365.7 744.9L368.2 741.3L370.7 738.1L373.2 735.4L375.7 732.9L378.2 731.7L380.7 732.2L383.2 733.3L385.7 734.8L388.2 736.8L390.7 739.5L393.2 742.4L395.7 745.2L398.2 747.6L400.7 749.4L403.2 751L405.7 752.5L408.2 753.9L410.7 755.2L413.2 756.4L415.7 757.6L418.2 758.7L420.7 759.8L423.2 760.8L425.7 761.7L428.2 762.6L430.7 763.4L433.2 764.2L435.7 764.9L438.2 765.7L440.7 766.4L443.2 767.1L445.7 767.8L448.2 768.4L450.7 769L453.2 769.6L455.7 770.2L458.2 770.8L460.7 771.3L463.2 771.8L465.7 772.2L468.2 772.7L470.7 773.1L473.2 773.5L475.7 773.9L478.2 774.3L480.7 774.6L483.2 775L485.7 775.3L488.2 775.6L490.7 775.9L493.2 776.2L495.7 776.5L498.2 776.8L500.7 777.1L503.2 777.4L505.7 777.6L508.2 777.9L510.7 778.1L513.2 778.2L515.7 778.3L518.2 778.5L520.7 778.5L523.2 778.6L525.7 778.7L528.2 778.8L530.7 778.8L533.2 778.9L535.7 779L538.2 779L540.7 779.1L543.2 779.3L545.7 779.4L548.2 779.6L550.7 779.8L553.2 780L555.7 780.2L558.2 780.4L560.7 780.5L563.2 780.6L565.7 780.7L568.2 780.8L570.7 780.8L573.2 780.7L575.7 780.6L578.2 780.4L580.7 780.1L583.2 779.9L585.7 779.6L588.2 779.3L590.7 778.9L593.2 778.5L595.7 777.9L598.2 777.3L600.7 776.6L603.2 776L605.7 775.4L608.2 774.8L610.7 774.4L613.2 773.9L615.7 773.4L618.2 773L620.7 772.6L623.2 772.3L625.7 772.1L628.2 772.1L630.7 772.3L633.2 772.6L635.7 772.9L638.2 773.3L640.7 773.7L643.2 774L645.7 774.2L648.2 774.5L650.7 774.8L653.2 775.1L655.7 775.3L658.2 775.6L660.7 775.7L663.2 775.8L665.7 775.8L668.2 775.7L670.7 775.6L673.2 775.4L675.7 775.3L678.2 775L680.7 774.8L683.2 774.6L685.7 774.4L688.2 774.2L690.7 774L693.2 773.8L695.7 773.5L698.2 773.3L700.7 773L703.2 772.8L705.7 772.6L708.2 772.4L710.7 772.2L713.2 772.1L715.7 772.1L718.2 772L720.7 771.9L723.2 771.9L725.7 771.9L728.2 771.8L730.7 771.8L733.2 771.7L735.7 771.7L738.2 771.7L740.7 771.6L743.2 771.6L745.7 771.6L748.2 771.6L750.7 771.6L753.2 771.6L755.7 771.6L758.2 771.6L760.7 771.6L763.2 771.6L765.7 771.6L768.2 771.6L770.7 771.6L773.2 771.6L775.7 771.6L778.2 771.6L780.7 771.6L783.2 771.6L785.7 771.6L788.2 771.6L790.7 771.6L793.2 771.6L795.7 771.5L798.2 771.4L800.7 771.3L803.2 771.2L805.7 771.1L808.2 770.9L810.7 770.7L813.2 770.5L815.7 770.3L818.2 770.1L820.7 769.9L823.2 769.6L825.7 769.4L828.2 768.9L830.7 768.4L833.2 767.7L835.7 767L838.2 766.3L840.7 765.5L843.2 764.7L845.7 763.9L848.2 763.1L850.7 762.1L853.2 761.1L855.7 760.1L858.2 759.2L860.7 758.2L863.2 757.3L865.7 756.4L868.2 755.5L870.7 754.6L873.2 753.7L875.7 752.9L878.2 752.1L880.7 751.5L883.2 750.9L885.7 750.5L888.2 750.1L890.7 749.7L893.2 749.3L895.7 748.9L898.2 748.6L900.7 748.3L903.2 748.1L905.7 747.8L908.2 747.6L910.7 747.4L913.2 747.2L915.7 747L918.2 746.9L920.7 746.7L923.2 746.6L925.7 746.5L928.2 746.3L930.7 746.2L933.2 746.1L935.7 746L938.2 746L940.7 745.9" stroke="#86ee50"/></g>
<g fill="none" stroke="#000" clip-path="url(#cbp)">
<path d="M93.2 782.4L95.7 782.2L98.2 782L100.7 781.6L103.2 781.3L105.7 780.8L108.2 780.4L110.7 779.9L113.2 779.4L115.7 778.8L118.2 778.3L120.7 777.7L123.2 776.9L125.7 776.1L128.2 775.2L130.7 774.2L133.2 773.1L135.7 771.8L138.2 770.3L140.7 768.5L143.2 766.3L145.7 763.9L148.2 761.2L150.7 758.4L153.2 755.3L155.7 751.7L158.2 747.6L160.7 743.1L163.2 738.2L165.7 733.1L168.2 727.2L170.7 720.7L173.2 714L175.7 707.7L178.2 701L180.7 693.7L183.2 687.3L185.7 683.7L188.2 684.4L190.7 688.9L193.2 695.7L195.7 703.2L198.2 709.8L200.7 717L203.2 724.5L205.7 731.6L208.2 737.4L210.7 742.3L213.2 746.9L215.7 750.8L218.2 753.9L220.7 756.3L223.2 758.5L225.7 760.5L228.2 762.2L230.7 763.6L233.2 764.7L235.7 765.4L238.2 766.1L240.7 766.7L243.2 767.2L245.7 767.5L248.2 767.8L250.7 767.9L253.2 767.8L255.7 767.5L258.2 767L260.7 766.4L263.2 765.6L265.7 764.6L268.2 762.9L270.7 760.4L273.2 757.3L275.7 753.8L278.2 749.8L280.7 744.5L283.2 737.5L285.7 729.7L288.2 721.8L290.7 713.5L293.2 704.4L295.7 695.5L298.2 688L300.7 680.7L303.2 674.3L305.7 671.3L308.2 674.6L310.7 682.7L313.2 690.5L315.7 698.1L318.2 706L320.7 713.6L323.2 720.4L325.7 726.4L328.2 732.1L330.7 737.2L333.2 741.3L335.7 744.3L338.2 747L340.7 748.8L343.2 749L345.7 748.1L348.2 746.4L350.7 744.3L353.2 742.1L355.7 739.2L358.2 735.4L360.7 731.1L363.2 726.9L365.7 722.7L368.2 718.3L370.7 714.2L373.2 710.9L375.7 707.8L378.2 706.2L380.7 706.6L383.2 707.8L385.7 709.3L388.2 711.4L390.7 714.3L393.2 717.4L395.7 720.6L398.2 723.3L400.7 725.6L403.2 727.8L405.7 729.8L408.2 731.8L410.7 733.6L413.2 735.3L415.7 736.9L418.2 738.4L420.7 739.9L423.2 741.2L425.7 742.6L428.2 743.8L430.7 745L433.2 746.1L435.7 747.3L438.2 748.3L440.7 749.4L443.2 750.4L445.7 751.4L448.2 752.4L450.7 753.3L453.2 754.3L455.7 755.2L458.2 756.1L460.7 757L463.2 757.8L465.7 758.7L468.2 759.5L470.7 760.4L473.2 761.2L475.7 762.1L478.2 762.9L480.7 763.6L483.2 764.3L485.7 765L488.2 765.6L490.7 766.1L493.2 766.6L495.7 767L498.2 767.5L500.7 767.9L503.2 768.3L505.7 768.6L508.2 769L510.7 769.2L513.2 769.5L515.7 769.7L518.2 769.8L520.7 770L523.2 770.1L525.7 770.2L528.2 770.3L530.7 770.4L533.2 770.6L535.7 770.7L538.2 770.8L540.7 771L543.2 771.2L545.7 771.4L548.2 771.7L550.7 771.9L553.2 772.2L555.7 772.5L558.2 772.8L560.7 773L563.2 773.2L565.7 773.3L568.2 773.4L570.7 773.4L573.2 773.2L575.7 772.9L578.2 772.5L580.7 771.9L583.2 771.3L585.7 770.6L588.2 770L590.7 769.2L593.2 768.2L595.7 766.9L598.2 765.5L600.7 764L603.2 762.5L605.7 761.2L608.2 760.1L610.7 759.3L613.2 758.5L615.7 757.8L618.2 757.1L620.7 756.6L623.2 756.1L625.7 755.9L628.2 755.9L630.7 756.1L633.2 756.4L635.7 756.8L638.2 757.3L640.7 757.8L643.2 758.2L645.7 758.6L648.2 759.1L650.7 759.6L653.2 760.2L655.7 760.7L658.2 761.1L660.7 761.4L663.2 761.6L665.7 761.6L668.2 761.5L670.7 761.2L673.2 760.9L675.7 760.6L678.2 760.2L680.7 759.8L683.2 759.3L685.7 758.9L688.2 758.5L690.7 758.2L693.2 757.8L695.7 757.4L698.2 757.1L700.7 756.7L703.2 756.3L705.7 755.9L708.2 755.5L710.7 755.2L713.2 754.8L715.7 754.4L718.2 754L720.7 753.6L723.2 753.2L725.7 752.9L728.2 752.7L730.7 752.7L733.2 752.8L735.7 752.9L738.2 753.1L740.7 753.3L743.2 753.5L745.7 753.8L748.2 754L750.7 754.2L753.2 754.3L755.7 754.5L758.2 754.6L760.7 754.7L763.2 754.9L765.7 755L768.2 755.2L770.7 755.3L773.2 755.4L775.7 755.6L778.2 755.7L780.7 755.9L783.2 756L785.7 756.2L788.2 756.4L790.7 756.7L793.2 756.9L795.7 757L798.2 757.1L800.7 757.2L803.2 757.2L805.7 757.1L808.2 757L810.7 756.9L813.2 756.8L815.7 756.6L818.2 756.4L820.7 756.2L823.2 755.9L825.7 755.6L828.2 755.1L830.7 754.4L833.2 753.6L835.7 752.6L838.2 751.7L840.7 750.7L843.2 749.8L845.7 748.9L848.2 748L850.7 747L853.2 745.9L855.7 744.9L858.2 744L860.7 743.1L863.2 742.3L865.7 741.6L868.2 740.8L870.7 740.1L873.2 739.5L875.7 738.9L878.2 738.4L880.7 738L883.2 737.7L885.7 737.6L888.2 737.5L890.7 737.4L893.2 737.3L895.7 737.2L898.2 737.1L900.7 737.1L903.2 737L905.7 737L908.2 736.9L910.7 736.8L913.2 736.7L915.7 736.6L918.2 736.5L920.7 736.3L923.2 736.2L925.7 736L928.2 735.8L930.7 735.7L933.2 735.5L935.7 735.3L938.2 735.1L940.7 734.9" stroke-width="5"/>
<path d="M93.2 774.4L95.7 774.1L98.2 773.7L100.7 773.1L103.2 772.5L105.7 771.8L108.2 771L110.7 770.1L113.2 769.2L115.7 768.3L118.2 767.4L120.7 766.2L123.2 764.9L125.7 763.4L128.2 761.7L130.7 759.9L133.2 757.9L135.7 755.7L138.2 753.2L140.7 750.1L143.2 746.6L145.7 742.7L148.2 738.4L150.7 733.7L153.2 728.1L155.7 721.8L158.2 714.7L160.7 707L163.2 697.7L165.7 687.5L168.2 676.8L170.7 666.5L173.2 655.8L175.7 644.7L178.2 634.9L180.7 627.5L183.2 620.9L185.7 616.7L188.2 618L190.7 625.4L193.2 634.7L195.7 645.1L198.2 657.7L200.7 670.9L203.2 683L205.7 695.1L208.2 706.5L210.7 715.6L213.2 722.5L215.7 728.5L218.2 733.6L220.7 737.5L223.2 740.5L225.7 743L228.2 745.3L230.7 747.1L233.2 748.5L235.7 749.4L238.2 750.1L240.7 750.8L243.2 751.3L245.7 751.7L248.2 751.8L250.7 751.6L253.2 751.2L255.7 750.4L258.2 749.4L260.7 748.3L263.2 746.8L265.7 744.1L268.2 740.3L270.7 735.7L273.2 730.5L275.7 724.9L278.2 717.7L280.7 709L283.2 699.2L285.7 689.2L288.2 678.1L290.7 665.7L293.2 653.8L295.7 644L298.2 634.6L300.7 626.6L303.2 623L305.7 624.7L308.2 628.9L310.7 636.6L313.2 649.5L315.7 662.9L318.2 673.2L320.7 682.7L323.2 691.3L325.7 698.5L328.2 704.6L330.7 710.2L333.2 715L335.7 718.6L338.2 720.7L340.7 722.3L343.2 723.4L345.7 723.4L348.2 721.6L350.7 718.2L353.2 714.1L355.7 710L358.2 705.5L360.7 700.1L363.2 694.6L365.7 689.8L368.2 685.6L370.7 681.4L373.2 678.1L375.7 676.7L378.2 677.4L380.7 679.3L383.2 681.6L385.7 683.9L388.2 686.6L390.7 689.7L393.2 692.9L395.7 696.2L398.2 699.2L400.7 701.9L403.2 704.7L405.7 707.4L408.2 709.9L410.7 712L413.2 713.7L415.7 715.2L418.2 716.5L420.7 717.6L423.2 718.8L425.7 719.8L428.2 721L430.7 722.1L433.2 723.3L435.7 724.4L438.2 725.4L440.7 726.5L443.2 727.5L445.7 728.5L448.2 729.6L450.7 730.6L453.2 731.7L455.7 732.8L458.2 733.9L460.7 735.1L463.2 736.3L465.7 737.6L468.2 739L470.7 740.6L473.2 742.2L475.7 743.9L478.2 745.6L480.7 747.3L483.2 748.8L485.7 750.2L488.2 751.5L490.7 752.6L493.2 753.6L495.7 754.7L498.2 755.7L500.7 756.6L503.2 757.4L505.7 758L508.2 758.3L510.7 758.4L513.2 758.2L515.7 757.9L518.2 757.4L520.7 756.9L523.2 756.3L525.7 755.8L528.2 755.3L530.7 755L533.2 754.7L535.7 754.7L538.2 755.1L540.7 755.7L543.2 756.5L545.7 757.3L548.2 757.9L550.7 758.3L553.2 758.4L555.7 758.4L558.2 758.4L560.7 758.4L563.2 758.4L565.7 758.4L568.2 758.4L570.7 758.4L573.2 758.3L575.7 757.8L578.2 756.8L580.7 755.5L583.2 753.9L585.7 752.2L588.2 750.5L590.7 748.9L593.2 746.9L595.7 744.5L598.2 742L600.7 739.5L603.2 737L605.7 734.8L608.2 732.9L610.7 731.5L613.2 730L615.7 728.7L618.2 727.5L620.7 726.6L623.2 726.1L625.7 726L628.2 726.3L630.7 726.8L633.2 727.5L635.7 728.3L638.2 729.1L640.7 730L643.2 730.7L645.7 731.4L648.2 732.2L650.7 733L653.2 733.7L655.7 734.3L658.2 734.7L660.7 734.7L663.2 734.4L665.7 733.9L668.2 733.4L670.7 732.7L673.2 732L675.7 731.3L678.2 730.6L680.7 729.8L683.2 728.8L685.7 727.8L688.2 726.8L690.7 725.8L693.2 724.8L695.7 723.9L698.2 723.1L700.7 722.5L703.2 722L705.7 721.6L708.2 721.2L710.7 720.8L713.2 720.5L715.7 720.2L718.2 719.9L720.7 719.7L723.2 719.5L725.7 719.3L728.2 719.2L730.7 719.1L733.2 719L735.7 718.9L738.2 718.8L740.7 718.7L743.2 718.6L745.7 718.6L748.2 718.5L750.7 718.5L753.2 718.5L755.7 718.6L758.2 719L760.7 719.6L763.2 720.4L765.7 721.3L768.2 722.1L770.7 722.9L773.2 723.9L775.7 725L778.2 726.1L780.7 727.2L783.2 728.2L785.7 729L788.2 729.7L790.7 730.1L793.2 730.6L795.7 731L798.2 731.4L800.7 731.7L803.2 732.1L805.7 732.3L808.2 732.5L810.7 732.6L813.2 732.7L815.7 732.7L818.2 732.6L820.7 732.4L823.2 732.2L825.7 732L828.2 731.7L830.7 731.4L833.2 730.7L835.7 729.9L838.2 728.9L840.7 727.9L843.2 726.8L845.7 725.8L848.2 724.9L850.7 724.1L853.2 723.3L855.7 722.4L858.2 721.6L860.7 720.8L863.2 720.1L865.7 719.6L868.2 719.3L870.7 719.2L873.2 719L875.7 718.9L878.2 718.7L880.7 718.6L883.2 718.6L885.7 718.5L888.2 718.5L890.7 718.5L893.2 718.7L895.7 718.9L898.2 719.2L900.7 719.5L903.2 719.9L905.7 720.2L908.2 720.5L910.7 720.8L913.2 721L915.7 721.1L918.2 721.3L920.7 721.4L923.2 721.6L925.7 721.7L928.2 721.8L930.7 721.9L933.2 722L935.7 722.1L938.2 722.2L940.7 722.3" stroke-width="5" stroke-dasharray="15 8.5"/>
<path d="M93.2 786.7L95.7 786.6L98.2 786.4L100.7 786.3L103.2 786.1L105.7 785.9L108.2 785.7L110.7 785.4L113.2 785.2L115.7 784.9L118.2 784.6L120.7 784.3L123.2 784L125.7 783.6L128.2 783.1L130.7 782.6L133.2 782L135.7 781.3L138.2 780.4L140.7 779.3L143.2 777.9L145.7 776.3L148.2 774.6L150.7 772.7L153.2 770.6L155.7 768.1L158.2 765.1L160.7 761.9L163.2 758.4L165.7 754.9L168.2 751L170.7 746.8L173.2 742.5L175.7 738.5L178.2 734.4L180.7 729.8L183.2 726L185.7 723.8L188.2 724.2L190.7 726.9L193.2 731.1L195.7 735.7L198.2 739.9L200.7 744.8L203.2 750L205.7 754.9L208.2 758.8L210.7 761.8L213.2 764.6L215.7 766.9L218.2 768.8L220.7 770.3L223.2 771.6L225.7 772.8L228.2 773.8L230.7 774.7L233.2 775.5L235.7 776.1L238.2 776.7L240.7 777.3L243.2 777.8L245.7 778.2L248.2 778.5L250.7 778.6L253.2 778.5L255.7 778.2L258.2 777.7L260.7 777L263.2 776.3L265.7 775.4L268.2 774.3L270.7 772.7L273.2 770.8L275.7 768.6L278.2 766.1L280.7 762.3L283.2 757.3L285.7 751.6L288.2 745.8L290.7 739.6L293.2 732.7L295.7 726L298.2 720.3L300.7 714.7L303.2 709.8L305.7 707.5L308.2 710L310.7 716.1L313.2 722.3L315.7 728.6L318.2 735.5L320.7 742L323.2 747.4L325.7 751.8L328.2 755.8L330.7 759.2L333.2 761.8L335.7 763.7L338.2 765.3L340.7 766.3L343.2 766.4L345.7 765.7L348.2 764.4L350.7 762.8L353.2 761L355.7 758.6L358.2 755.4L360.7 751.8L363.2 748.3L365.7 744.9L368.2 741.3L370.7 738.1L373.2 735.4L375.7 732.9L378.2 731.7L380.7 732.2L383.2 733.3L385.7 734.8L388.2 736.8L390.7 739.5L393.2 742.4L395.7 745.2L398.2 747.6L400.7 749.4L403.2 751L405.7 752.5L408.2 753.9L410.7 755.2L413.2 756.4L415.7 757.6L418.2 758.7L420.7 759.8L423.2 760.8L425.7 761.7L428.2 762.6L430.7 763.4L433.2 764.2L435.7 764.9L438.2 765.7L440.7 766.4L443.2 767.1L445.7 767.8L448.2 768.4L450.7 769L453.2 769.6L455.7 770.2L458.2 770.8L460.7 771.3L463.2 771.8L465.7 772.2L468.2 772.7L470.7 773.1L473.2 773.5L475.7 773.9L478.2 774.3L480.7 774.6L483.2 775L485.7 775.3L488.2 775.6L490.7 775.9L493.2 776.2L495.7 776.5L498.2 776.8L500.7 777.1L503.2 777.4L505.7 777.6L508.2 777.9L510.7 778.1L513.2 778.2L515.7 778.3L518.2 778.5L520.7 778.5L523.2 778.6L525.7 778.7L528.2 778.8L530.7 778.8L533.2 778.9L535.7 779L538.2 779L540.7 779.1L543.2 779.3L545.7 779.4L548.2 779.6L550.7 779.8L553.2 780L555.7 780.2L558.2 780.4L560.7 780.5L563.2 780.6L565.7 780.7L568.2 780.8L570.7 780.8L573.2 780.7L575.7 780.6L578.2 780.4L580.7 780.1L583.2 779.9L585.7 779.6L588.2 779.3L590.7 778.9L593.2 778.5L595.7 777.9L598.2 777.3L600.7 776.6L603.2 776L605.7 775.4L608.2 774.8L610.7 774.4L613.2 773.9L615.7 773.4L618.2 773L620.7 772.6L623.2 772.3L625.7 772.1L628.2 772.1L630.7 772.3L633.2 772.6L635.7 772.9L638.2 773.3L640.7 773.7L643.2 774L645.7 774.2L648.2 774.5L650.7 774.8L653.2 775.1L655.7 775.3L658.2 775.6L660.7 775.7L663.2 775.8L665.7 775.8L668.2 775.7L670.7 775.6L673.2 775.4L675.7 775.3L678.2 775L680.7 774.8L683.2 774.6L685.7 774.4L688.2 774.2L690.7 774L693.2 773.8L695.7 773.5L698.2 773.3L700.7 773L703.2 772.8L705.7 772.6L708.2 772.4L710.7 772.2L713.2 772.1L715.7 772.1L718.2 772L720.7 771.9L723.2 771.9L725.7 771.9L728.2 771.8L730.7 771.8L733.2 771.7L735.7 771.7L738.2 771.7L740.7 771.6L743.2 771.6L745.7 771.6L748.2 771.6L750.7 771.6L753.2 771.6L755.7 771.6L758.2 771.6L760.7 771.6L763.2 771.6L765.7 771.6L768.2 771.6L770.7 771.6L773.2 771.6L775.7 771.6L778.2 771.6L780.7 771.6L783.2 771.6L785.7 771.6L788.2 771.6L790.7 771.6L793.2 771.6L795.7 771.5L798.2 771.4L800.7 771.3L803.2 771.2L805.7 771.1L808.2 770.9L810.7 770.7L813.2 770.5L815.7 770.3L818.2 770.1L820.7 769.9L823.2 769.6L825.7 769.4L828.2 768.9L830.7 768.4L833.2 767.7L835.7 767L838.2 766.3L840.7 765.5L843.2 764.7L845.7 763.9L848.2 763.1L850.7 762.1L853.2 761.1L855.7 760.1L858.2 759.2L860.7 758.2L863.2 757.3L865.7 756.4L868.2 755.5L870.7 754.6L873.2 753.7L875.7 752.9L878.2 752.1L880.7 751.5L883.2 750.9L885.7 750.5L888.2 750.1L890.7 749.7L893.2 749.3L895.7 748.9L898.2 748.6L900.7 748.3L903.2 748.1L905.7 747.8L908.2 747.6L910.7 747.4L913.2 747.2L915.7 747L918.2 746.9L920.7 746.7L923.2 746.6L925.7 746.5L928.2 746.3L930.7 746.2L933.2 746.1L935.7 746L938.2 746L940.7 745.9" stroke-width="5" stroke-dasharray="15 8.5"/>
</g>
</g>
<g filter="url(#blt)" class="tah">
<text transform="translate(79.3,601.1)" font-size="23" text-anchor="end">20</text>
<text transform="translate(79.3,701.2)" font-size="23" text-anchor="end">10</text>
<text transform="translate(134.43,824.6)" font-size="23" text-anchor="middle">0.6</text>
<text transform="translate(200.59,824.6)" font-size="23" text-anchor="middle">0.8</text>
<text transform="translate(251.9,824.6)" font-size="23" text-anchor="middle">1</text>
<text transform="translate(411.3,824.6)" font-size="23" text-anchor="middle">2</text>
<text transform="translate(570.69,824.6)" font-size="23" text-anchor="middle">4</text>
<text transform="translate(663.93,824.6)" font-size="23" text-anchor="middle">6</text>
<text transform="translate(730.09,824.6)" font-size="23" text-anchor="middle">8</text>
<text transform="translate(781.4,824.6)" font-size="23" text-anchor="middle">10</text>
<text transform="translate(927.3,824.6)" font-size="23">2</text>
<text transform="translate(432,854.3)" font-size="23" textLength="169.5" lengthAdjust="spacingAndGlyphs">Frequency (Hz)</text>
<text transform="translate(866.6,486)" font-size="23" class="tw" textLength="76.5" lengthAdjust="spacingAndGlyphs">ST12N</text>
<text transform="translate(47.3,668.2) rotate(-90)" font-size="23.6" class="tw">H/V</text>
</g>
</g>
<text transform="translate(75.1,504.6) scale(1,1.04)" font-size="29" text-anchor="end" class="b k">30</text>
<text transform="translate(73.7,797.1) scale(1,1.04)" font-size="29.3" text-anchor="end" class="b k">0</text>
<g filter="url(#blt)"><path d="M75.6 783.5L77.9 791.5H75.2Z" fill="#1d4f86" stroke="#1d4f86" stroke-width="1.2"/><path d="M77.6 492.6L76.2 499.8" stroke="#5d8fc4" stroke-width="1.8" fill="none"/><path d="M85.4 362.5L86 369" stroke="#a9c8e6" stroke-width="1.4" fill="none"/></g>
<rect x="5.15" y="4.4" width="1030.2" height="884.9" fill="none" stroke="#000" stroke-width="3.3" stroke-linejoin="round"/>
<text transform="translate(18.3,864.6) scale(1,1.02)" font-size="35" class="b k">(A)</text>
<rect x="1078.9" y="209.1" width="923.9" height="444.3" fill="none" stroke="#000" stroke-width="3.3" stroke-linejoin="round"/>
<path d="M1210.0 409.6V561M1281.0 419.2V561M1353.0 467.0V561M1428.2 341.6V561M1499.4 342.8V561M1570.9 328.8V561M1642.1 333.0V561M1715.3 339.0V561M1785.6 345.4V561M1858.4 412.1V561M1927.8 358.4V561" stroke="#999" stroke-width="3.2" fill="none"/>
<path d="M1174.7 249.5V561.8H1959.5" stroke="#000" stroke-width="3.1" fill="none" stroke-linecap="round" stroke-linejoin="miter"/>
<path d="M1210.0 409.6L1281.0 419.2L1353.0 467.0L1428.2 341.6L1499.4 342.8L1570.9 328.8L1642.1 333.0L1715.3 339.0L1785.6 345.4L1858.4 412.1L1927.8 358.4" stroke="#0a0af5" stroke-width="3.2" fill="none" stroke-linejoin="round" stroke-linecap="round"/>
<text transform="translate(1163,263.5) scale(1,0.97)" font-size="22.2" text-anchor="end" class="kr">2.5</text>
<text transform="translate(1160,324.6) scale(1,0.97)" font-size="22.2" text-anchor="end" class="kr">2</text>
<text transform="translate(1162,384.4) scale(1,0.97)" font-size="22.2" text-anchor="end" class="kr">1.5</text>
<text transform="translate(1156.5,446.4) scale(1,0.97)" font-size="22.2" text-anchor="end" class="kr">1</text>
<text transform="translate(1160,505.4) scale(1,0.97)" font-size="22.2" text-anchor="end" class="kr">0.5</text>
<text transform="translate(1159.7,564) scale(1,0.97)" font-size="22.2" text-anchor="end" class="kr">0</text>
<text transform="translate(1209.7,590.1) scale(1,0.97)" font-size="22.2" text-anchor="middle" class="kr">ST01</text>
<text transform="translate(1285.3,589.8) scale(1,0.97)" font-size="22.2" text-anchor="middle" class="kr">ST02</text>
<text transform="translate(1357.3,587.8) scale(1,0.97)" font-size="22.2" text-anchor="middle" class="kr">ST03</text>
<text transform="translate(1427.2,587.4) scale(1,0.97)" font-size="22.2" text-anchor="middle" class="kr">ST04</text>
<text transform="translate(1498.2,585.6) scale(1,0.97)" font-size="22.2" text-anchor="middle" class="kr">ST05</text>
<text transform="translate(1571.5,586.3) scale(1,0.97)" font-size="22.2" text-anchor="middle" class="kr">ST06</text>
<text transform="translate(1641.8,588.8) scale(1,0.97)" font-size="22.2" text-anchor="middle" class="kr">ST07</text>
<text transform="translate(1717.4,587.8) scale(1,0.97)" font-size="22.2" text-anchor="middle" class="kr">ST08</text>
<text transform="translate(1787.6,587.8) scale(1,0.97)" font-size="22.2" text-anchor="middle" class="kr">ST09</text>
<text transform="translate(1858.2,586.3) scale(1,0.97)" font-size="22.2" text-anchor="middle" class="kr">ST10</text>
<text transform="translate(1929.6,588.8) scale(1,0.97)" font-size="22.2" text-anchor="middle" class="kr">ST12</text>
<text transform="translate(1212,397.7) scale(1,1.02)" font-size="21.8" text-anchor="middle" class="b kb" fill="#0a0af0">1.26</text>
<text transform="translate(1284,407.4) scale(1,1.02)" font-size="21.8" text-anchor="middle" class="b kb" fill="#0a0af0">1.18</text>
<text transform="translate(1342.8,444.7) scale(1,1.02)" font-size="21.8" text-anchor="middle" class="b kb" fill="#0a0af0">0.78</text>
<text transform="translate(1426.8,329.6) scale(1,1.02)" font-size="21.8" text-anchor="middle" class="b kb" fill="#0a0af0">1.815</text>
<text transform="translate(1504,323.1) scale(1,1.02)" font-size="21.8" text-anchor="middle" class="b kb" fill="#0a0af0">1.82</text>
<text transform="translate(1571.2,318.8) scale(1,1.02)" font-size="21.8" text-anchor="middle" class="b kb" fill="#0a0af0">1.93</text>
<text transform="translate(1641.2,322.8) scale(1,1.02)" font-size="21.8" text-anchor="middle" class="b kb" fill="#0a0af0">1.9</text>
<text transform="translate(1716.5,328.9) scale(1,1.02)" font-size="21.8" text-anchor="middle" class="b kb" fill="#0a0af0">1.85</text>
<text transform="translate(1788.3,334.3) scale(1,1.02)" font-size="21.8" text-anchor="middle" class="b kb" fill="#0a0af0">1.8</text>
<text transform="translate(1860.8,387.7) scale(1,1.02)" font-size="21.8" text-anchor="middle" class="b kb" fill="#0a0af0">1.26</text>
<text transform="translate(1932.4,338.7) scale(1,1.02)" font-size="21.8" text-anchor="middle" class="b kb" fill="#0a0af0">1.7</text>
<text transform="translate(1575,621.3)" font-size="28" text-anchor="middle" class="b k">Stations</text>
<text transform="translate(1124.3,422.6) rotate(-90) scale(1,1.02)" font-size="27" class="b k">F0</text>
<text transform="translate(1088.4,633.5) scale(1,1.01)" font-size="34.8" class="b k">(B)</text>
</svg></body></html>
